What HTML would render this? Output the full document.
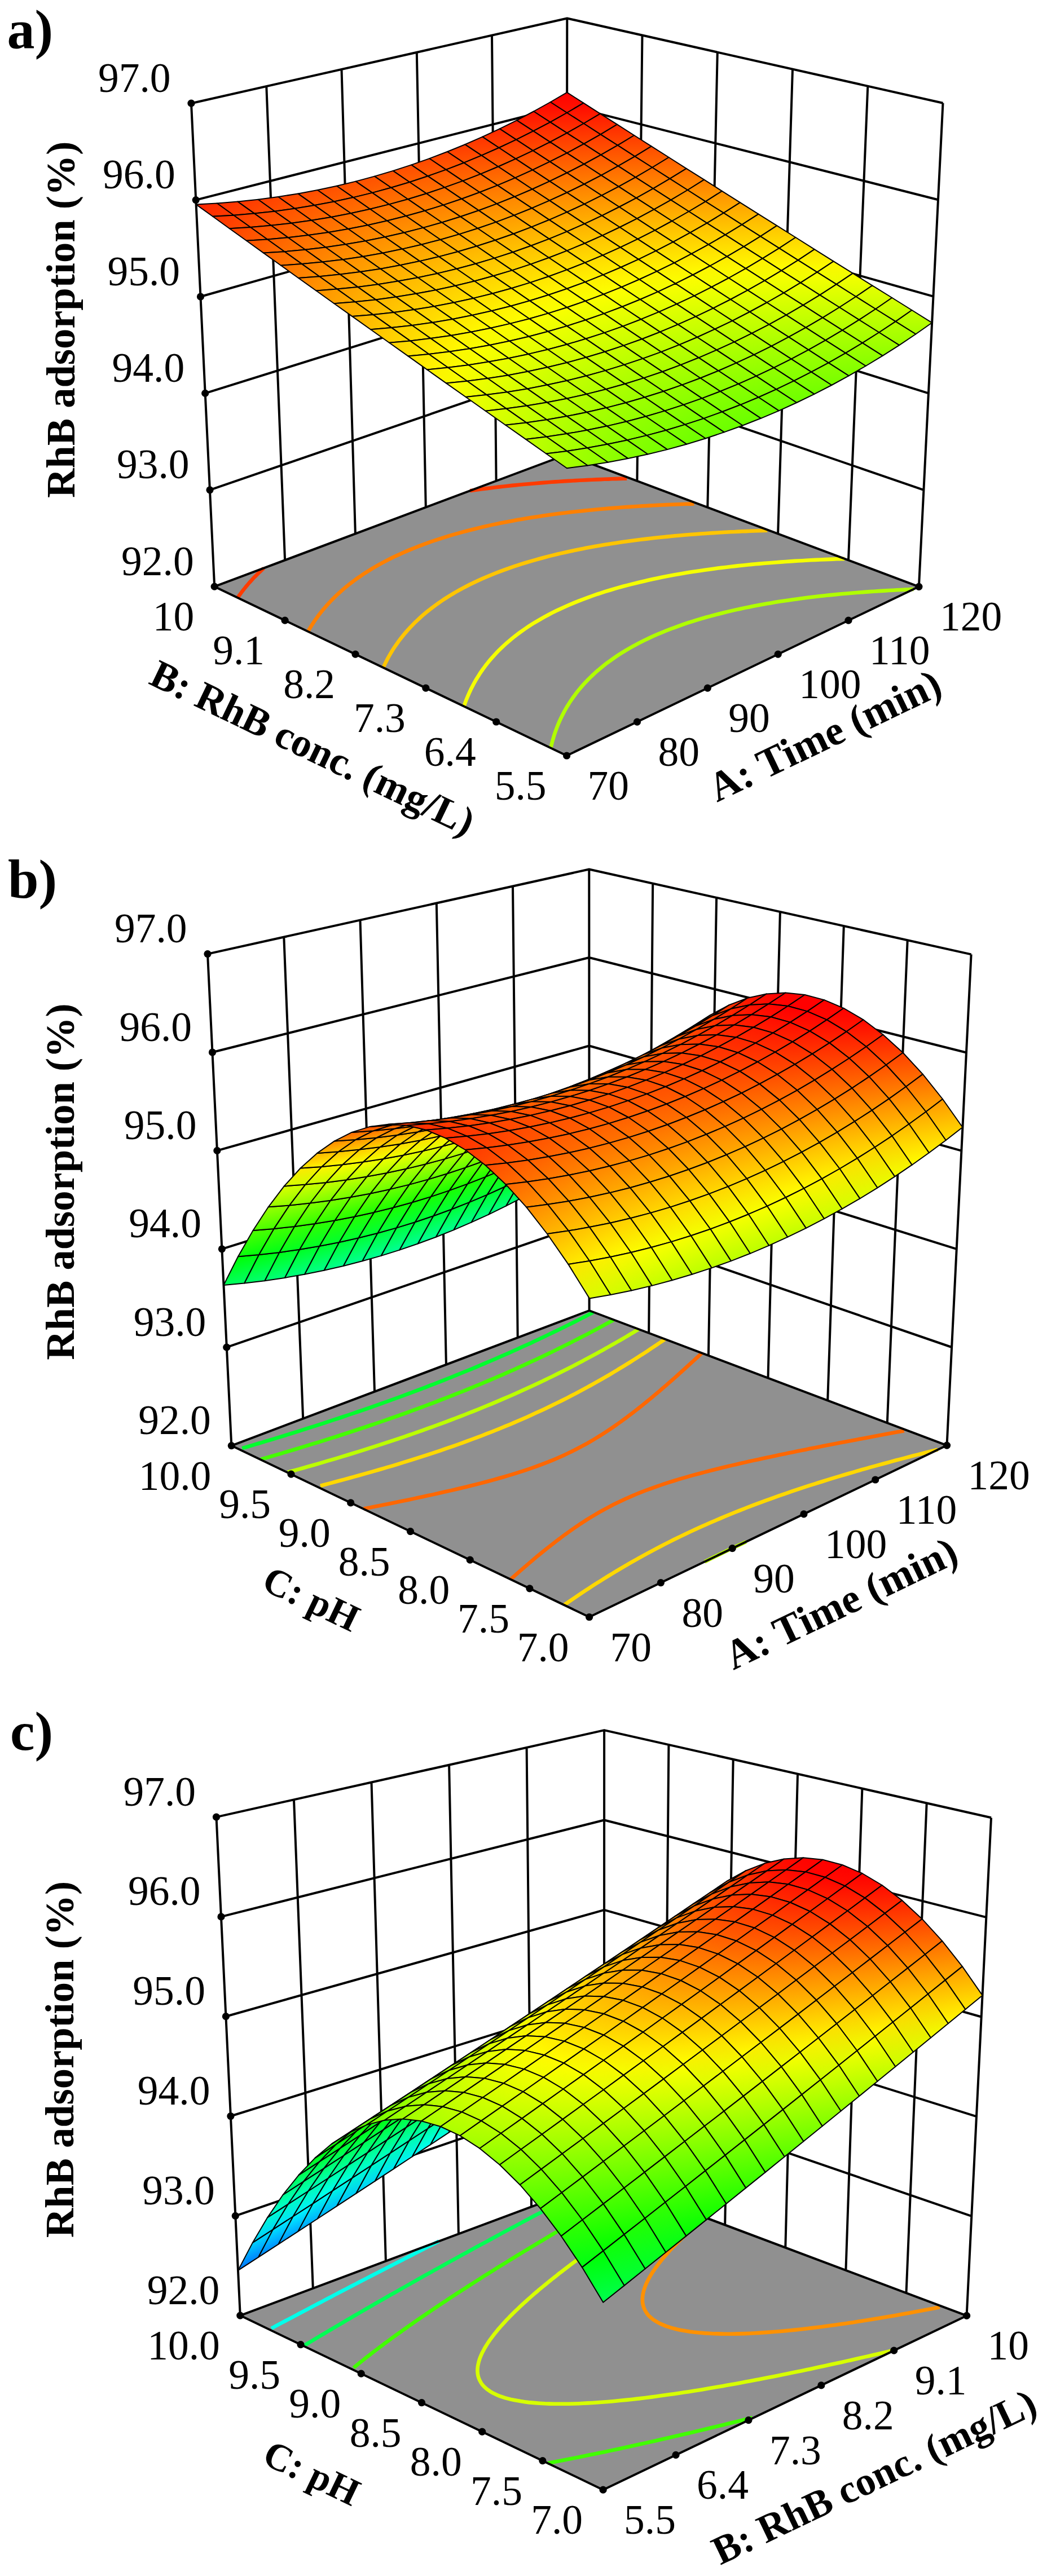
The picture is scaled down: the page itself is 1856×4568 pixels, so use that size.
<!DOCTYPE html>
<html><head><meta charset="utf-8"><title>RhB adsorption response surfaces</title>
<style>html,body{margin:0;padding:0;background:#fff}svg{display:block}text{font-family:"Liberation Serif",serif;fill:#000}</style>
</head><body>
<svg width="1856" height="4568" viewBox="0 0 1856 4568">
<rect width="1856" height="4568" fill="#fff"/>
<path d="M380.2,1040.2L1004.6,1340.0L1628.9,1040.3L1004.5,806.0Z" fill="#909090"/>
<path d="M976.3,1326.3L977.2,1322.5L978.2,1318.7L979.4,1313.9L980.8,1309.2L982.2,1304.3L983.5,1300.4L984.7,1296.9L986.0,1293.4L987.4,1289.6L989.4,1284.6L991.5,1279.6L993.0,1276.3L994.6,1272.9L996.4,1269.3L999.1,1264.0L1001.2,1260.0L1003.0,1256.8L1005.1,1253.2L1008.5,1247.7L1010.6,1244.5L1012.6,1241.5L1016.2,1236.3L1018.9,1232.7L1021.0,1229.8L1025.3,1224.3L1027.8,1221.3L1030.6,1218.0L1035.0,1213.0L1037.4,1210.4L1042.5,1205.1L1045.1,1202.5L1050.3,1197.5L1053.1,1194.8L1058.7,1189.8L1061.5,1187.4L1067.3,1182.6L1070.3,1180.2L1076.3,1175.5L1080.7,1172.3L1085.7,1168.7L1092.1,1164.3L1096.6,1161.3L1102.1,1157.8L1108.9,1153.6L1115.9,1149.5L1121.8,1146.2L1126.6,1143.6L1134.0,1139.7L1141.5,1135.9L1149.1,1132.2L1156.9,1128.6L1164.9,1125.1L1173.0,1121.7L1181.3,1118.3L1189.7,1115.0L1195.8,1112.8L1202.5,1110.3L1211.3,1107.2L1220.2,1104.2L1228.6,1101.6L1233.9,1099.9L1243.1,1097.1L1252.0,1094.5L1257.3,1093.1L1267.0,1090.5L1271.9,1089.2L1281.7,1086.7L1289.3,1084.9L1296.8,1083.1L1305.4,1081.1L1312.2,1079.7L1320.4,1077.9L1327.9,1076.4L1334.6,1075.1L1344.0,1073.3L1349.4,1072.3L1360.3,1070.3L1365.9,1069.4L1373.5,1068.1L1382.7,1066.6L1388.4,1065.8L1397.4,1064.4L1405.6,1063.2L1411.5,1062.4L1420.0,1061.3L1429.2,1060.1L1435.1,1059.3L1441.6,1058.5L1452.1,1057.3L1459.4,1056.5L1465.6,1055.8L1472.5,1055.1L1482.5,1054.1L1490.6,1053.3L1496.9,1052.8L1503.3,1052.2L1511.7,1051.5L1521.1,1050.7L1529.3,1050.1L1535.8,1049.6L1542.4,1049.1L1549.1,1048.7L1558.0,1048.1L1567.0,1047.6L1575.9,1047.0L1582.9,1046.7L1589.8,1046.3L1596.7,1046.0L1603.7,1045.6L1610.9,1045.3L1619.4,1044.9" fill="none" stroke="#b0ff00" stroke-width="6.6"/>
<path d="M822.4,1252.5L823.6,1249.0L824.9,1245.5L826.5,1241.2L828.4,1236.6L830.4,1231.9L831.8,1228.6L833.4,1225.3L834.9,1222.0L837.1,1217.7L839.7,1212.8L841.6,1209.3L843.4,1206.2L845.3,1203.0L848.5,1197.9L850.9,1194.1L852.9,1191.1L855.4,1187.5L859.2,1182.4L861.3,1179.6L863.5,1176.7L868.0,1171.2L870.3,1168.5L873.0,1165.4L877.5,1160.5L880.0,1157.8L884.3,1153.3L887.6,1150.1L890.9,1147.0L895.6,1142.6L898.3,1140.2L903.9,1135.4L906.8,1133.0L912.6,1128.3L916.4,1125.4L921.6,1121.5L927.8,1117.1L931.0,1114.9L937.4,1110.6L942.8,1107.1L947.2,1104.3L954.0,1100.3L960.9,1096.3L964.4,1094.3L971.6,1090.5L978.8,1086.7L986.2,1083.0L993.8,1079.4L1001.5,1075.9L1009.3,1072.5L1017.3,1069.1L1025.4,1065.9L1033.6,1062.7L1042.0,1059.6L1050.5,1056.5L1059.2,1053.5L1063.6,1052.1L1072.4,1049.2L1081.4,1046.5L1090.0,1043.9L1095.2,1042.4L1104.5,1039.8L1112.0,1037.9L1118.8,1036.1L1128.5,1033.7L1133.4,1032.5L1143.3,1030.2L1148.2,1029.0L1158.3,1026.8L1163.4,1025.7L1173.7,1023.6L1178.9,1022.6L1189.4,1020.6L1194.7,1019.6L1205.0,1017.8L1210.8,1016.8L1217.7,1015.6L1227.2,1014.1L1232.8,1013.2L1241.7,1011.9L1249.6,1010.7L1255.3,1009.9L1264.4,1008.7L1272.5,1007.6L1278.3,1006.9L1286.1,1005.9L1296.0,1004.7L1302.0,1004.1L1307.9,1003.4L1317.0,1002.5L1326.1,1001.5L1332.3,1000.9L1338.4,1000.3L1346.4,999.6L1355.9,998.8L1363.4,998.2L1369.8,997.7L1376.2,997.2L1383.8,996.6L1392.8,996.0L1401.8,995.4L1408.6,994.9L1415.2,994.5L1421.8,994.2L1428.5,993.8L1436.9,993.3L1445.5,992.9L1454.0,992.5L1462.3,992.1L1469.2,991.9L1476.1,991.6L1483.1,991.3L1490.1,991.1L1497.1,990.9" fill="none" stroke="#f5ff00" stroke-width="6.6"/>
<path d="M679.3,1183.9L681.0,1180.3L683.1,1175.9L685.4,1171.4L687.2,1167.9L688.9,1164.8L690.7,1161.7L692.9,1157.9L695.7,1153.3L698.0,1149.6L700.0,1146.7L702.0,1143.8L705.4,1139.0L708.1,1135.2L710.3,1132.4L712.9,1129.1L716.9,1124.2L719.2,1121.5L721.5,1118.8L726.3,1113.6L728.7,1111.0L731.6,1108.0L736.2,1103.3L738.8,1100.9L743.5,1096.5L746.7,1093.5L750.4,1090.3L755.0,1086.4L758.1,1083.9L763.6,1079.5L766.8,1077.1L772.5,1072.8L776.9,1069.7L781.7,1066.4L788.0,1062.1L791.2,1060.1L797.7,1056.0L804.2,1052.1L807.8,1050.0L814.6,1046.2L821.6,1042.4L826.2,1040.0L832.3,1036.8L839.7,1033.2L847.1,1029.7L854.7,1026.3L862.4,1023.0L870.2,1019.7L878.2,1016.5L886.3,1013.4L894.5,1010.3L902.9,1007.3L911.4,1004.4L920.0,1001.6L924.3,1000.2L933.1,997.5L942.1,994.8L950.9,992.3L955.7,991.0L965.0,988.5L972.9,986.4L979.1,984.9L988.7,982.5L993.5,981.4L1003.3,979.2L1008.7,978.0L1018.1,976.0L1024.2,974.7L1033.3,972.9L1038.8,971.8L1048.8,970.0L1054.0,969.0L1064.5,967.2L1069.8,966.3L1078.2,964.9L1085.9,963.7L1091.4,962.9L1102.1,961.3L1107.9,960.5L1113.5,959.7L1124.5,958.2L1130.4,957.5L1136.1,956.7L1145.9,955.6L1153.4,954.7L1159.2,954.0L1166.4,953.2L1176.4,952.2L1182.9,951.6L1188.8,951.0L1195.9,950.3L1205.4,949.5L1213.2,948.8L1219.3,948.3L1225.5,947.8L1233.2,947.2L1242.2,946.5L1250.6,946.0L1257.0,945.5L1263.4,945.1L1269.8,944.7L1277.4,944.3L1286.0,943.8L1294.5,943.3L1302.5,943.0L1309.1,942.6L1315.8,942.3L1322.5,942.1L1329.2,941.8L1336.0,941.5L1344.1,941.2L1352.2,941.0L1360.2,940.7" fill="none" stroke="#ffc500" stroke-width="6.6"/>
<path d="M545.9,1119.9L547.6,1116.9L549.9,1113.1L552.6,1108.8L555.0,1105.0L556.9,1102.1L558.9,1099.2L561.5,1095.6L564.8,1091.1L567.2,1088.0L569.3,1085.3L572.0,1081.9L576.0,1077.3L578.3,1074.6L580.6,1072.0L584.8,1067.5L587.8,1064.3L590.3,1061.8L594.8,1057.3L597.9,1054.4L600.5,1052.0L605.8,1047.3L608.5,1044.9L613.3,1040.8L616.8,1038.0L620.8,1034.9L625.4,1031.3L629.1,1028.6L634.3,1024.8L638.6,1021.9L643.5,1018.5L649.6,1014.6L653.0,1012.4L659.4,1008.4L663.0,1006.4L669.4,1002.6L676.2,998.9L680.5,996.6L686.6,993.4L693.7,989.8L701.0,986.3L708.3,982.9L712.0,981.2L719.6,977.9L727.2,974.6L735.0,971.5L742.9,968.4L750.9,965.3L759.1,962.4L767.3,959.5L775.3,956.8L780.0,955.3L788.5,952.6L797.2,949.9L806.0,947.4L810.5,946.1L819.4,943.6L828.5,941.2L834.3,939.7L842.4,937.7L851.8,935.4L856.6,934.3L866.1,932.1L871.6,930.9L880.7,929.0L887.6,927.6L895.6,926.0L902.4,924.7L910.7,923.2L916.3,922.1L926.1,920.4L931.3,919.5L941.8,917.8L947.1,917.0L954.3,915.9L963.1,914.6L968.6,913.8L977.5,912.6L985.0,911.6L990.5,910.8L999.4,909.7L1007.3,908.8L1012.9,908.1L1020.2,907.3L1030.0,906.2L1035.8,905.6L1041.6,905.0L1050.0,904.2L1059.2,903.3L1065.1,902.7L1071.1,902.2L1078.3,901.6L1087.5,900.9L1095.3,900.2L1101.4,899.8L1107.5,899.3L1114.3,898.9L1123.0,898.3L1131.7,897.7L1138.7,897.3L1145.1,897.0L1151.4,896.6L1157.8,896.3L1165.4,895.9L1173.7,895.5L1181.8,895.1L1190.0,894.8L1196.9,894.5L1203.6,894.3L1210.2,894.0L1216.9,893.8L1223.7,893.6L1230.4,893.4" fill="none" stroke="#ff8000" stroke-width="6.6"/>
<path d="M421.2,1060.1L423.5,1056.7L426.5,1052.6L429.2,1048.9L431.3,1046.2L433.5,1043.5L436.4,1039.9L440.1,1035.5L442.3,1032.9L444.6,1030.4L448.1,1026.6L451.7,1022.8L454.2,1020.3L457.1,1017.4L461.7,1013.0L464.2,1010.6L467.4,1007.7M833.3,870.2L841.9,868.9L847.2,868.2L856.0,867.0L863.4,866.1L868.9,865.4L877.5,864.3L885.4,863.4L891.0,862.8L898.0,862.0L907.9,860.9L913.5,860.4L919.3,859.8L927.2,859.0L936.6,858.2L942.4,857.7L948.3,857.2L955.1,856.6L964.1,855.9L972.0,855.3L978.0,854.8L984.1,854.4L990.4,854.0L999.0,853.4L1007.5,852.9L1014.7,852.5L1020.9,852.1L1027.2,851.8L1033.5,851.5L1040.6,851.1L1048.7,850.8L1056.7,850.4L1064.7,850.1L1071.8,849.8L1078.3,849.6L1084.8,849.3L1091.4,849.1L1098.0,848.9L1104.6,848.7L1111.2,848.6" fill="none" stroke="#ff3b00" stroke-width="6.6"/>
<path d="M380.2,1040.2L339.0,183.2M505.1,993.4L472.3,153.1M629.9,946.5L605.5,122.9M754.8,899.7L738.8,92.8M879.6,852.8L872.0,62.6M1004.5,806.0L1005.3,32.5M1129.4,852.9L1138.5,62.5M1254.3,899.7L1271.8,92.6M1379.1,946.6L1405.0,122.6M1504.0,993.4L1538.3,152.7M1628.9,1040.3L1671.5,182.7M380.2,1040.2L1004.5,806.0L1628.9,1040.3M372.0,868.8L1004.7,651.3L1637.4,868.8M363.7,697.4L1004.8,496.6L1645.9,697.3M355.5,526.0L1005.0,341.9L1654.5,525.7M347.2,354.6L1005.1,187.2L1663.0,354.2M339.0,183.2L1005.3,32.5L1671.5,182.7" fill="none" stroke="#000" stroke-width="4" stroke-linejoin="round"/>
<path d="M380.2,1040.2L1004.6,1340.0L1628.9,1040.3" fill="none" stroke="#000" stroke-width="3.9" stroke-linejoin="round"/>
<defs><linearGradient id="a0" gradientUnits="userSpaceOnUse" x1="1041.1" y1="827.2" x2="968.8" y2="802.9"><stop stop-color="#98ff00"/><stop offset="1" stop-color="#b3ff00"/></linearGradient><linearGradient id="a1" gradientUnits="userSpaceOnUse" x1="1004.0" y1="802.6" x2="933.0" y2="776.3"><stop stop-color="#a7ff00"/><stop offset="1" stop-color="#c2ff00"/></linearGradient><linearGradient id="a2" gradientUnits="userSpaceOnUse" x1="967.2" y1="778.3" x2="897.7" y2="750.0"><stop stop-color="#b7ff00"/><stop offset="1" stop-color="#d1ff00"/></linearGradient><linearGradient id="a3" gradientUnits="userSpaceOnUse" x1="930.8" y1="754.2" x2="862.8" y2="724.0"><stop stop-color="#c6ff00"/><stop offset="1" stop-color="#e1ff00"/></linearGradient><linearGradient id="a4" gradientUnits="userSpaceOnUse" x1="894.9" y1="730.4" x2="828.5" y2="698.4"><stop stop-color="#d5ff00"/><stop offset="1" stop-color="#f0ff00"/></linearGradient><linearGradient id="a5" gradientUnits="userSpaceOnUse" x1="859.3" y1="706.7" x2="794.6" y2="673.0"><stop stop-color="#e4ff00"/><stop offset="1" stop-color="#ffff00"/></linearGradient><linearGradient id="a6" gradientUnits="userSpaceOnUse" x1="824.0" y1="683.2" x2="761.2" y2="648.0"><stop stop-color="#f4ff00"/><stop offset="1" stop-color="#ffef00"/></linearGradient><linearGradient id="a7" gradientUnits="userSpaceOnUse" x1="789.2" y1="659.9" x2="728.2" y2="623.4"><stop stop-color="#fffb00"/><stop offset="1" stop-color="#ffe000"/></linearGradient><linearGradient id="a8" gradientUnits="userSpaceOnUse" x1="754.7" y1="636.8" x2="695.6" y2="599.0"><stop stop-color="#ffeb00"/><stop offset="1" stop-color="#ffd000"/></linearGradient><linearGradient id="a9" gradientUnits="userSpaceOnUse" x1="720.6" y1="613.9" x2="663.5" y2="575.0"><stop stop-color="#ffdc00"/><stop offset="1" stop-color="#ffc100"/></linearGradient><linearGradient id="a10" gradientUnits="userSpaceOnUse" x1="686.9" y1="591.2" x2="631.7" y2="551.2"><stop stop-color="#ffcc00"/><stop offset="1" stop-color="#ffb100"/></linearGradient><linearGradient id="a11" gradientUnits="userSpaceOnUse" x1="653.6" y1="568.6" x2="600.3" y2="527.8"><stop stop-color="#ffbc00"/><stop offset="1" stop-color="#ffa200"/></linearGradient><linearGradient id="a12" gradientUnits="userSpaceOnUse" x1="620.6" y1="546.2" x2="569.3" y2="504.6"><stop stop-color="#ffad00"/><stop offset="1" stop-color="#ff9200"/></linearGradient><linearGradient id="a13" gradientUnits="userSpaceOnUse" x1="588.0" y1="524.0" x2="538.7" y2="481.8"><stop stop-color="#ff9d00"/><stop offset="1" stop-color="#ff8200"/></linearGradient><linearGradient id="a14" gradientUnits="userSpaceOnUse" x1="555.8" y1="501.9" x2="508.4" y2="459.2"><stop stop-color="#ff8d00"/><stop offset="1" stop-color="#ff7300"/></linearGradient><linearGradient id="a15" gradientUnits="userSpaceOnUse" x1="523.9" y1="480.0" x2="478.5" y2="436.9"><stop stop-color="#ff7d00"/><stop offset="1" stop-color="#ff6300"/></linearGradient><linearGradient id="a16" gradientUnits="userSpaceOnUse" x1="492.4" y1="458.3" x2="448.8" y2="414.8"><stop stop-color="#ff6e00"/><stop offset="1" stop-color="#ff5300"/></linearGradient><linearGradient id="a17" gradientUnits="userSpaceOnUse" x1="461.3" y1="436.7" x2="419.5" y2="393.1"><stop stop-color="#ff5e00"/><stop offset="1" stop-color="#ff4300"/></linearGradient><linearGradient id="a18" gradientUnits="userSpaceOnUse" x1="430.5" y1="415.3" x2="390.6" y2="371.5"><stop stop-color="#ff4e00"/><stop offset="1" stop-color="#ff3300"/></linearGradient><linearGradient id="a19" gradientUnits="userSpaceOnUse" x1="400.1" y1="394.1" x2="361.9" y2="350.3"><stop stop-color="#ff3e00"/><stop offset="1" stop-color="#ff2300"/></linearGradient><linearGradient id="a20" gradientUnits="userSpaceOnUse" x1="1074.8" y1="826.0" x2="1007.9" y2="793.8"><stop stop-color="#8eff00"/><stop offset="1" stop-color="#a7ff00"/></linearGradient><linearGradient id="a21" gradientUnits="userSpaceOnUse" x1="1037.5" y1="801.4" x2="972.4" y2="767.6"><stop stop-color="#9dff00"/><stop offset="1" stop-color="#b7ff00"/></linearGradient><linearGradient id="a22" gradientUnits="userSpaceOnUse" x1="1000.6" y1="777.0" x2="937.3" y2="741.7"><stop stop-color="#acff00"/><stop offset="1" stop-color="#c6ff00"/></linearGradient><linearGradient id="a23" gradientUnits="userSpaceOnUse" x1="964.1" y1="752.8" x2="902.7" y2="716.1"><stop stop-color="#bcff00"/><stop offset="1" stop-color="#d5ff00"/></linearGradient><linearGradient id="a24" gradientUnits="userSpaceOnUse" x1="928.1" y1="728.8" x2="868.5" y2="690.9"><stop stop-color="#cbff00"/><stop offset="1" stop-color="#e4ff00"/></linearGradient><linearGradient id="a25" gradientUnits="userSpaceOnUse" x1="892.4" y1="705.0" x2="834.8" y2="666.0"><stop stop-color="#daff00"/><stop offset="1" stop-color="#f4ff00"/></linearGradient><linearGradient id="a26" gradientUnits="userSpaceOnUse" x1="857.1" y1="681.5" x2="801.5" y2="641.4"><stop stop-color="#eaff00"/><stop offset="1" stop-color="#fffb00"/></linearGradient><linearGradient id="a27" gradientUnits="userSpaceOnUse" x1="822.2" y1="658.1" x2="768.6" y2="617.2"><stop stop-color="#f9ff00"/><stop offset="1" stop-color="#ffeb00"/></linearGradient><linearGradient id="a28" gradientUnits="userSpaceOnUse" x1="787.7" y1="634.8" x2="736.1" y2="593.2"><stop stop-color="#fff500"/><stop offset="1" stop-color="#ffdc00"/></linearGradient><linearGradient id="a29" gradientUnits="userSpaceOnUse" x1="753.7" y1="611.8" x2="704.0" y2="569.6"><stop stop-color="#ffe500"/><stop offset="1" stop-color="#ffcc00"/></linearGradient><linearGradient id="a30" gradientUnits="userSpaceOnUse" x1="720.0" y1="589.0" x2="672.3" y2="546.2"><stop stop-color="#ffd600"/><stop offset="1" stop-color="#ffbc00"/></linearGradient><linearGradient id="a31" gradientUnits="userSpaceOnUse" x1="686.7" y1="566.3" x2="640.9" y2="523.1"><stop stop-color="#ffc600"/><stop offset="1" stop-color="#ffad00"/></linearGradient><linearGradient id="a32" gradientUnits="userSpaceOnUse" x1="653.8" y1="543.8" x2="609.9" y2="500.3"><stop stop-color="#ffb600"/><stop offset="1" stop-color="#ff9d00"/></linearGradient><linearGradient id="a33" gradientUnits="userSpaceOnUse" x1="621.2" y1="521.5" x2="579.2" y2="477.8"><stop stop-color="#ffa700"/><stop offset="1" stop-color="#ff8d00"/></linearGradient><linearGradient id="a34" gradientUnits="userSpaceOnUse" x1="589.1" y1="499.3" x2="548.9" y2="455.6"><stop stop-color="#ff9700"/><stop offset="1" stop-color="#ff7d00"/></linearGradient><linearGradient id="a35" gradientUnits="userSpaceOnUse" x1="557.3" y1="477.4" x2="518.9" y2="433.6"><stop stop-color="#ff8700"/><stop offset="1" stop-color="#ff6e00"/></linearGradient><linearGradient id="a36" gradientUnits="userSpaceOnUse" x1="525.9" y1="455.6" x2="489.1" y2="411.8"><stop stop-color="#ff7700"/><stop offset="1" stop-color="#ff5e00"/></linearGradient><linearGradient id="a37" gradientUnits="userSpaceOnUse" x1="494.9" y1="434.0" x2="459.8" y2="390.3"><stop stop-color="#ff6700"/><stop offset="1" stop-color="#ff4e00"/></linearGradient><linearGradient id="a38" gradientUnits="userSpaceOnUse" x1="464.2" y1="412.5" x2="430.7" y2="369.1"><stop stop-color="#ff5700"/><stop offset="1" stop-color="#ff3e00"/></linearGradient><linearGradient id="a39" gradientUnits="userSpaceOnUse" x1="433.9" y1="391.3" x2="401.9" y2="348.0"><stop stop-color="#ff4700"/><stop offset="1" stop-color="#ff2e00"/></linearGradient><linearGradient id="a40" gradientUnits="userSpaceOnUse" x1="1107.1" y1="822.9" x2="1047.4" y2="784.6"><stop stop-color="#85ff00"/><stop offset="1" stop-color="#9dff00"/></linearGradient><linearGradient id="a41" gradientUnits="userSpaceOnUse" x1="1069.7" y1="798.2" x2="1012.0" y2="758.9"><stop stop-color="#94ff00"/><stop offset="1" stop-color="#acff00"/></linearGradient><linearGradient id="a42" gradientUnits="userSpaceOnUse" x1="1032.8" y1="773.8" x2="977.1" y2="733.4"><stop stop-color="#a3ff00"/><stop offset="1" stop-color="#bcff00"/></linearGradient><linearGradient id="a43" gradientUnits="userSpaceOnUse" x1="996.3" y1="749.5" x2="942.6" y2="708.3"><stop stop-color="#b3ff00"/><stop offset="1" stop-color="#cbff00"/></linearGradient><linearGradient id="a44" gradientUnits="userSpaceOnUse" x1="960.2" y1="725.4" x2="908.6" y2="683.5"><stop stop-color="#c2ff00"/><stop offset="1" stop-color="#daff00"/></linearGradient><linearGradient id="a45" gradientUnits="userSpaceOnUse" x1="924.5" y1="701.5" x2="874.9" y2="659.0"><stop stop-color="#d2ff00"/><stop offset="1" stop-color="#eaff00"/></linearGradient><linearGradient id="a46" gradientUnits="userSpaceOnUse" x1="889.3" y1="677.8" x2="841.6" y2="634.9"><stop stop-color="#e1ff00"/><stop offset="1" stop-color="#f9ff00"/></linearGradient><linearGradient id="a47" gradientUnits="userSpaceOnUse" x1="854.5" y1="654.3" x2="808.8" y2="611.0"><stop stop-color="#f1ff00"/><stop offset="1" stop-color="#fff500"/></linearGradient><linearGradient id="a48" gradientUnits="userSpaceOnUse" x1="820.1" y1="631.0" x2="776.2" y2="587.4"><stop stop-color="#fffe00"/><stop offset="1" stop-color="#ffe500"/></linearGradient><linearGradient id="a49" gradientUnits="userSpaceOnUse" x1="786.1" y1="607.9" x2="744.1" y2="564.1"><stop stop-color="#ffee00"/><stop offset="1" stop-color="#ffd600"/></linearGradient><linearGradient id="a50" gradientUnits="userSpaceOnUse" x1="752.5" y1="584.9" x2="712.3" y2="541.1"><stop stop-color="#ffde00"/><stop offset="1" stop-color="#ffc600"/></linearGradient><linearGradient id="a51" gradientUnits="userSpaceOnUse" x1="719.3" y1="562.2" x2="680.9" y2="518.4"><stop stop-color="#ffce00"/><stop offset="1" stop-color="#ffb600"/></linearGradient><linearGradient id="a52" gradientUnits="userSpaceOnUse" x1="686.5" y1="539.7" x2="649.8" y2="495.9"><stop stop-color="#ffbf00"/><stop offset="1" stop-color="#ffa700"/></linearGradient><linearGradient id="a53" gradientUnits="userSpaceOnUse" x1="654.1" y1="517.3" x2="619.0" y2="473.7"><stop stop-color="#ffaf00"/><stop offset="1" stop-color="#ff9700"/></linearGradient><linearGradient id="a54" gradientUnits="userSpaceOnUse" x1="622.0" y1="495.1" x2="588.6" y2="451.7"><stop stop-color="#ff9f00"/><stop offset="1" stop-color="#ff8700"/></linearGradient><linearGradient id="a55" gradientUnits="userSpaceOnUse" x1="590.4" y1="473.1" x2="558.5" y2="430.0"><stop stop-color="#ff8f00"/><stop offset="1" stop-color="#ff7700"/></linearGradient><linearGradient id="a56" gradientUnits="userSpaceOnUse" x1="559.1" y1="451.3" x2="528.6" y2="408.5"><stop stop-color="#ff7f00"/><stop offset="1" stop-color="#ff6700"/></linearGradient><linearGradient id="a57" gradientUnits="userSpaceOnUse" x1="528.2" y1="429.7" x2="499.1" y2="387.2"><stop stop-color="#ff6f00"/><stop offset="1" stop-color="#ff5700"/></linearGradient><linearGradient id="a58" gradientUnits="userSpaceOnUse" x1="497.6" y1="408.3" x2="469.9" y2="366.2"><stop stop-color="#ff5f00"/><stop offset="1" stop-color="#ff4700"/></linearGradient><linearGradient id="a59" gradientUnits="userSpaceOnUse" x1="467.4" y1="387.1" x2="441.0" y2="345.3"><stop stop-color="#ff4f00"/><stop offset="1" stop-color="#ff3700"/></linearGradient><linearGradient id="a60" gradientUnits="userSpaceOnUse" x1="1138.2" y1="817.9" x2="1086.9" y2="775.6"><stop stop-color="#7dff00"/><stop offset="1" stop-color="#94ff00"/></linearGradient><linearGradient id="a61" gradientUnits="userSpaceOnUse" x1="1100.9" y1="793.1" x2="1051.6" y2="750.3"><stop stop-color="#8cff00"/><stop offset="1" stop-color="#a3ff00"/></linearGradient><linearGradient id="a62" gradientUnits="userSpaceOnUse" x1="1064.0" y1="768.5" x2="1016.7" y2="725.3"><stop stop-color="#9cff00"/><stop offset="1" stop-color="#b3ff00"/></linearGradient><linearGradient id="a63" gradientUnits="userSpaceOnUse" x1="1027.6" y1="744.2" x2="982.3" y2="700.6"><stop stop-color="#abff00"/><stop offset="1" stop-color="#c2ff00"/></linearGradient><linearGradient id="a64" gradientUnits="userSpaceOnUse" x1="991.6" y1="720.0" x2="948.2" y2="676.2"><stop stop-color="#bbff00"/><stop offset="1" stop-color="#d2ff00"/></linearGradient><linearGradient id="a65" gradientUnits="userSpaceOnUse" x1="956.1" y1="696.0" x2="914.5" y2="652.1"><stop stop-color="#caff00"/><stop offset="1" stop-color="#e1ff00"/></linearGradient><linearGradient id="a66" gradientUnits="userSpaceOnUse" x1="921.0" y1="672.3" x2="881.2" y2="628.3"><stop stop-color="#daff00"/><stop offset="1" stop-color="#f1ff00"/></linearGradient><linearGradient id="a67" gradientUnits="userSpaceOnUse" x1="886.3" y1="648.7" x2="848.3" y2="604.8"><stop stop-color="#eaff00"/><stop offset="1" stop-color="#fffe00"/></linearGradient><linearGradient id="a68" gradientUnits="userSpaceOnUse" x1="852.0" y1="625.4" x2="815.7" y2="581.6"><stop stop-color="#f9ff00"/><stop offset="1" stop-color="#ffee00"/></linearGradient><linearGradient id="a69" gradientUnits="userSpaceOnUse" x1="818.1" y1="602.2" x2="783.5" y2="558.6"><stop stop-color="#fff500"/><stop offset="1" stop-color="#ffde00"/></linearGradient><linearGradient id="a70" gradientUnits="userSpaceOnUse" x1="784.7" y1="579.3" x2="751.6" y2="535.9"><stop stop-color="#ffe500"/><stop offset="1" stop-color="#ffce00"/></linearGradient><linearGradient id="a71" gradientUnits="userSpaceOnUse" x1="751.6" y1="556.5" x2="720.1" y2="513.4"><stop stop-color="#ffd500"/><stop offset="1" stop-color="#ffbf00"/></linearGradient><linearGradient id="a72" gradientUnits="userSpaceOnUse" x1="719.0" y1="534.0" x2="688.9" y2="491.2"><stop stop-color="#ffc500"/><stop offset="1" stop-color="#ffaf00"/></linearGradient><linearGradient id="a73" gradientUnits="userSpaceOnUse" x1="686.7" y1="511.6" x2="658.0" y2="469.2"><stop stop-color="#ffb600"/><stop offset="1" stop-color="#ff9f00"/></linearGradient><linearGradient id="a74" gradientUnits="userSpaceOnUse" x1="654.8" y1="489.5" x2="627.4" y2="447.5"><stop stop-color="#ffa600"/><stop offset="1" stop-color="#ff8f00"/></linearGradient><linearGradient id="a75" gradientUnits="userSpaceOnUse" x1="623.3" y1="467.5" x2="597.2" y2="426.0"><stop stop-color="#ff9600"/><stop offset="1" stop-color="#ff7f00"/></linearGradient><linearGradient id="a76" gradientUnits="userSpaceOnUse" x1="592.1" y1="445.8" x2="567.3" y2="404.7"><stop stop-color="#ff8500"/><stop offset="1" stop-color="#ff6f00"/></linearGradient><linearGradient id="a77" gradientUnits="userSpaceOnUse" x1="561.3" y1="424.2" x2="537.6" y2="383.6"><stop stop-color="#ff7500"/><stop offset="1" stop-color="#ff5f00"/></linearGradient><linearGradient id="a78" gradientUnits="userSpaceOnUse" x1="530.9" y1="402.8" x2="508.3" y2="362.7"><stop stop-color="#ff6500"/><stop offset="1" stop-color="#ff4f00"/></linearGradient><linearGradient id="a79" gradientUnits="userSpaceOnUse" x1="500.8" y1="381.7" x2="479.3" y2="342.0"><stop stop-color="#ff5500"/><stop offset="1" stop-color="#ff3e00"/></linearGradient><linearGradient id="a80" gradientUnits="userSpaceOnUse" x1="1168.8" y1="810.9" x2="1126.0" y2="766.8"><stop stop-color="#76ff00"/><stop offset="1" stop-color="#8cff00"/></linearGradient><linearGradient id="a81" gradientUnits="userSpaceOnUse" x1="1131.6" y1="786.0" x2="1090.7" y2="741.9"><stop stop-color="#86ff00"/><stop offset="1" stop-color="#9cff00"/></linearGradient><linearGradient id="a82" gradientUnits="userSpaceOnUse" x1="1094.8" y1="761.4" x2="1055.8" y2="717.3"><stop stop-color="#95ff00"/><stop offset="1" stop-color="#abff00"/></linearGradient><linearGradient id="a83" gradientUnits="userSpaceOnUse" x1="1058.6" y1="737.0" x2="1021.3" y2="692.9"><stop stop-color="#a5ff00"/><stop offset="1" stop-color="#bbff00"/></linearGradient><linearGradient id="a84" gradientUnits="userSpaceOnUse" x1="1022.7" y1="712.8" x2="987.1" y2="668.9"><stop stop-color="#b4ff00"/><stop offset="1" stop-color="#caff00"/></linearGradient><linearGradient id="a85" gradientUnits="userSpaceOnUse" x1="987.3" y1="688.8" x2="953.4" y2="645.2"><stop stop-color="#c4ff00"/><stop offset="1" stop-color="#daff00"/></linearGradient><linearGradient id="a86" gradientUnits="userSpaceOnUse" x1="952.4" y1="665.0" x2="920.0" y2="621.7"><stop stop-color="#d4ff00"/><stop offset="1" stop-color="#eaff00"/></linearGradient><linearGradient id="a87" gradientUnits="userSpaceOnUse" x1="917.9" y1="641.5" x2="887.0" y2="598.5"><stop stop-color="#e4ff00"/><stop offset="1" stop-color="#f9ff00"/></linearGradient><linearGradient id="a88" gradientUnits="userSpaceOnUse" x1="883.7" y1="618.2" x2="854.3" y2="575.5"><stop stop-color="#f3ff00"/><stop offset="1" stop-color="#fff500"/></linearGradient><linearGradient id="a89" gradientUnits="userSpaceOnUse" x1="850.0" y1="595.0" x2="822.0" y2="552.8"><stop stop-color="#fffb00"/><stop offset="1" stop-color="#ffe500"/></linearGradient><linearGradient id="a90" gradientUnits="userSpaceOnUse" x1="816.7" y1="572.1" x2="790.0" y2="530.3"><stop stop-color="#ffeb00"/><stop offset="1" stop-color="#ffd500"/></linearGradient><linearGradient id="a91" gradientUnits="userSpaceOnUse" x1="783.8" y1="549.4" x2="758.3" y2="508.1"><stop stop-color="#ffdb00"/><stop offset="1" stop-color="#ffc500"/></linearGradient><linearGradient id="a92" gradientUnits="userSpaceOnUse" x1="751.3" y1="526.9" x2="727.0" y2="486.1"><stop stop-color="#ffcb00"/><stop offset="1" stop-color="#ffb600"/></linearGradient><linearGradient id="a93" gradientUnits="userSpaceOnUse" x1="719.2" y1="504.7" x2="696.0" y2="464.3"><stop stop-color="#ffbb00"/><stop offset="1" stop-color="#ffa600"/></linearGradient><linearGradient id="a94" gradientUnits="userSpaceOnUse" x1="687.4" y1="482.6" x2="665.4" y2="442.8"><stop stop-color="#ffab00"/><stop offset="1" stop-color="#ff9600"/></linearGradient><linearGradient id="a95" gradientUnits="userSpaceOnUse" x1="656.0" y1="460.7" x2="635.0" y2="421.4"><stop stop-color="#ff9b00"/><stop offset="1" stop-color="#ff8500"/></linearGradient><linearGradient id="a96" gradientUnits="userSpaceOnUse" x1="625.0" y1="439.0" x2="605.0" y2="400.3"><stop stop-color="#ff8b00"/><stop offset="1" stop-color="#ff7500"/></linearGradient><linearGradient id="a97" gradientUnits="userSpaceOnUse" x1="594.3" y1="417.5" x2="575.3" y2="379.4"><stop stop-color="#ff7b00"/><stop offset="1" stop-color="#ff6500"/></linearGradient><linearGradient id="a98" gradientUnits="userSpaceOnUse" x1="564.0" y1="396.3" x2="545.8" y2="358.6"><stop stop-color="#ff6a00"/><stop offset="1" stop-color="#ff5500"/></linearGradient><linearGradient id="a99" gradientUnits="userSpaceOnUse" x1="534.0" y1="375.2" x2="516.7" y2="338.1"><stop stop-color="#ff5a00"/><stop offset="1" stop-color="#ff4500"/></linearGradient><linearGradient id="a100" gradientUnits="userSpaceOnUse" x1="1199.0" y1="802.0" x2="1164.5" y2="758.1"><stop stop-color="#71ff00"/><stop offset="1" stop-color="#86ff00"/></linearGradient><linearGradient id="a101" gradientUnits="userSpaceOnUse" x1="1162.0" y1="777.1" x2="1129.1" y2="733.5"><stop stop-color="#81ff00"/><stop offset="1" stop-color="#95ff00"/></linearGradient><linearGradient id="a102" gradientUnits="userSpaceOnUse" x1="1125.5" y1="752.5" x2="1094.1" y2="709.2"><stop stop-color="#90ff00"/><stop offset="1" stop-color="#a5ff00"/></linearGradient><linearGradient id="a103" gradientUnits="userSpaceOnUse" x1="1089.4" y1="728.1" x2="1059.4" y2="685.2"><stop stop-color="#a0ff00"/><stop offset="1" stop-color="#b4ff00"/></linearGradient><linearGradient id="a104" gradientUnits="userSpaceOnUse" x1="1053.7" y1="703.9" x2="1025.2" y2="661.5"><stop stop-color="#b0ff00"/><stop offset="1" stop-color="#c4ff00"/></linearGradient><linearGradient id="a105" gradientUnits="userSpaceOnUse" x1="1018.5" y1="680.0" x2="991.3" y2="638.0"><stop stop-color="#bfff00"/><stop offset="1" stop-color="#d4ff00"/></linearGradient><linearGradient id="a106" gradientUnits="userSpaceOnUse" x1="983.7" y1="656.3" x2="957.9" y2="614.8"><stop stop-color="#cfff00"/><stop offset="1" stop-color="#e4ff00"/></linearGradient><linearGradient id="a107" gradientUnits="userSpaceOnUse" x1="949.4" y1="632.8" x2="924.7" y2="591.8"><stop stop-color="#dfff00"/><stop offset="1" stop-color="#f3ff00"/></linearGradient><linearGradient id="a108" gradientUnits="userSpaceOnUse" x1="915.4" y1="609.6" x2="891.9" y2="569.1"><stop stop-color="#efff00"/><stop offset="1" stop-color="#fffb00"/></linearGradient><linearGradient id="a109" gradientUnits="userSpaceOnUse" x1="881.9" y1="586.5" x2="859.5" y2="546.6"><stop stop-color="#ffff00"/><stop offset="1" stop-color="#ffeb00"/></linearGradient><linearGradient id="a110" gradientUnits="userSpaceOnUse" x1="848.7" y1="563.7" x2="827.4" y2="524.3"><stop stop-color="#ffef00"/><stop offset="1" stop-color="#ffdb00"/></linearGradient><linearGradient id="a111" gradientUnits="userSpaceOnUse" x1="816.0" y1="541.1" x2="795.7" y2="502.2"><stop stop-color="#ffdf00"/><stop offset="1" stop-color="#ffcb00"/></linearGradient><linearGradient id="a112" gradientUnits="userSpaceOnUse" x1="783.6" y1="518.7" x2="764.3" y2="480.4"><stop stop-color="#ffcf00"/><stop offset="1" stop-color="#ffbb00"/></linearGradient><linearGradient id="a113" gradientUnits="userSpaceOnUse" x1="751.6" y1="496.5" x2="733.2" y2="458.8"><stop stop-color="#ffbf00"/><stop offset="1" stop-color="#ffab00"/></linearGradient><linearGradient id="a114" gradientUnits="userSpaceOnUse" x1="720.0" y1="474.6" x2="702.4" y2="437.4"><stop stop-color="#ffaf00"/><stop offset="1" stop-color="#ff9b00"/></linearGradient><linearGradient id="a115" gradientUnits="userSpaceOnUse" x1="688.7" y1="452.8" x2="672.0" y2="416.2"><stop stop-color="#ff9f00"/><stop offset="1" stop-color="#ff8b00"/></linearGradient><linearGradient id="a116" gradientUnits="userSpaceOnUse" x1="657.8" y1="431.2" x2="641.9" y2="395.2"><stop stop-color="#ff8f00"/><stop offset="1" stop-color="#ff7b00"/></linearGradient><linearGradient id="a117" gradientUnits="userSpaceOnUse" x1="627.2" y1="409.8" x2="612.0" y2="374.4"><stop stop-color="#ff7f00"/><stop offset="1" stop-color="#ff6a00"/></linearGradient><linearGradient id="a118" gradientUnits="userSpaceOnUse" x1="597.0" y1="388.7" x2="582.5" y2="353.8"><stop stop-color="#ff6e00"/><stop offset="1" stop-color="#ff5a00"/></linearGradient><linearGradient id="a119" gradientUnits="userSpaceOnUse" x1="567.1" y1="367.7" x2="553.3" y2="333.4"><stop stop-color="#ff5e00"/><stop offset="1" stop-color="#ff4a00"/></linearGradient><linearGradient id="a120" gradientUnits="userSpaceOnUse" x1="1229.3" y1="791.4" x2="1201.9" y2="749.2"><stop stop-color="#6dff00"/><stop offset="1" stop-color="#81ff00"/></linearGradient><linearGradient id="a121" gradientUnits="userSpaceOnUse" x1="1192.5" y1="766.6" x2="1166.4" y2="724.9"><stop stop-color="#7dff00"/><stop offset="1" stop-color="#90ff00"/></linearGradient><linearGradient id="a122" gradientUnits="userSpaceOnUse" x1="1156.1" y1="742.1" x2="1131.3" y2="700.9"><stop stop-color="#8dff00"/><stop offset="1" stop-color="#a0ff00"/></linearGradient><linearGradient id="a123" gradientUnits="userSpaceOnUse" x1="1120.2" y1="717.8" x2="1096.6" y2="677.2"><stop stop-color="#9cff00"/><stop offset="1" stop-color="#b0ff00"/></linearGradient><linearGradient id="a124" gradientUnits="userSpaceOnUse" x1="1084.8" y1="693.7" x2="1062.3" y2="653.7"><stop stop-color="#acff00"/><stop offset="1" stop-color="#bfff00"/></linearGradient><linearGradient id="a125" gradientUnits="userSpaceOnUse" x1="1049.7" y1="669.9" x2="1028.3" y2="630.4"><stop stop-color="#bcff00"/><stop offset="1" stop-color="#cfff00"/></linearGradient><linearGradient id="a126" gradientUnits="userSpaceOnUse" x1="1015.1" y1="646.3" x2="994.8" y2="607.4"><stop stop-color="#ccff00"/><stop offset="1" stop-color="#dfff00"/></linearGradient><linearGradient id="a127" gradientUnits="userSpaceOnUse" x1="980.9" y1="622.9" x2="961.5" y2="584.6"><stop stop-color="#dcff00"/><stop offset="1" stop-color="#efff00"/></linearGradient><linearGradient id="a128" gradientUnits="userSpaceOnUse" x1="947.1" y1="599.8" x2="928.7" y2="562.1"><stop stop-color="#ecff00"/><stop offset="1" stop-color="#ffff00"/></linearGradient><linearGradient id="a129" gradientUnits="userSpaceOnUse" x1="913.7" y1="576.9" x2="896.1" y2="539.7"><stop stop-color="#fcff00"/><stop offset="1" stop-color="#ffef00"/></linearGradient><linearGradient id="a130" gradientUnits="userSpaceOnUse" x1="880.7" y1="554.2" x2="864.0" y2="517.6"><stop stop-color="#fff200"/><stop offset="1" stop-color="#ffdf00"/></linearGradient><linearGradient id="a131" gradientUnits="userSpaceOnUse" x1="848.1" y1="531.7" x2="832.1" y2="495.7"><stop stop-color="#ffe200"/><stop offset="1" stop-color="#ffcf00"/></linearGradient><linearGradient id="a132" gradientUnits="userSpaceOnUse" x1="815.8" y1="509.4" x2="800.6" y2="474.1"><stop stop-color="#ffd200"/><stop offset="1" stop-color="#ffbf00"/></linearGradient><linearGradient id="a133" gradientUnits="userSpaceOnUse" x1="784.0" y1="487.4" x2="769.5" y2="452.6"><stop stop-color="#ffc200"/><stop offset="1" stop-color="#ffaf00"/></linearGradient><linearGradient id="a134" gradientUnits="userSpaceOnUse" x1="752.4" y1="465.5" x2="738.6" y2="431.3"><stop stop-color="#ffb200"/><stop offset="1" stop-color="#ff9f00"/></linearGradient><linearGradient id="a135" gradientUnits="userSpaceOnUse" x1="721.3" y1="443.9" x2="708.1" y2="410.3"><stop stop-color="#ffa200"/><stop offset="1" stop-color="#ff8f00"/></linearGradient><linearGradient id="a136" gradientUnits="userSpaceOnUse" x1="690.5" y1="422.4" x2="677.9" y2="389.4"><stop stop-color="#ff9100"/><stop offset="1" stop-color="#ff7f00"/></linearGradient><linearGradient id="a137" gradientUnits="userSpaceOnUse" x1="660.0" y1="401.2" x2="648.0" y2="368.7"><stop stop-color="#ff8100"/><stop offset="1" stop-color="#ff6e00"/></linearGradient><linearGradient id="a138" gradientUnits="userSpaceOnUse" x1="629.8" y1="380.2" x2="618.4" y2="348.2"><stop stop-color="#ff7100"/><stop offset="1" stop-color="#ff5e00"/></linearGradient><linearGradient id="a139" gradientUnits="userSpaceOnUse" x1="600.0" y1="359.3" x2="589.1" y2="327.9"><stop stop-color="#ff6000"/><stop offset="1" stop-color="#ff4e00"/></linearGradient><linearGradient id="a140" gradientUnits="userSpaceOnUse" x1="1259.6" y1="779.5" x2="1238.4" y2="740.0"><stop stop-color="#6bff00"/><stop offset="1" stop-color="#7dff00"/></linearGradient><linearGradient id="a141" gradientUnits="userSpaceOnUse" x1="1223.0" y1="754.8" x2="1202.8" y2="716.0"><stop stop-color="#7bff00"/><stop offset="1" stop-color="#8dff00"/></linearGradient><linearGradient id="a142" gradientUnits="userSpaceOnUse" x1="1186.9" y1="730.4" x2="1167.6" y2="692.2"><stop stop-color="#8aff00"/><stop offset="1" stop-color="#9cff00"/></linearGradient><linearGradient id="a143" gradientUnits="userSpaceOnUse" x1="1151.1" y1="706.3" x2="1132.8" y2="668.6"><stop stop-color="#9aff00"/><stop offset="1" stop-color="#acff00"/></linearGradient><linearGradient id="a144" gradientUnits="userSpaceOnUse" x1="1115.8" y1="682.3" x2="1098.4" y2="645.3"><stop stop-color="#aaff00"/><stop offset="1" stop-color="#bcff00"/></linearGradient><linearGradient id="a145" gradientUnits="userSpaceOnUse" x1="1081.0" y1="658.7" x2="1064.4" y2="622.2"><stop stop-color="#baff00"/><stop offset="1" stop-color="#ccff00"/></linearGradient><linearGradient id="a146" gradientUnits="userSpaceOnUse" x1="1046.5" y1="635.2" x2="1030.7" y2="599.4"><stop stop-color="#caff00"/><stop offset="1" stop-color="#dcff00"/></linearGradient><linearGradient id="a147" gradientUnits="userSpaceOnUse" x1="1012.5" y1="612.0" x2="997.4" y2="576.8"><stop stop-color="#daff00"/><stop offset="1" stop-color="#ecff00"/></linearGradient><linearGradient id="a148" gradientUnits="userSpaceOnUse" x1="978.8" y1="589.0" x2="964.5" y2="554.4"><stop stop-color="#eaff00"/><stop offset="1" stop-color="#fcff00"/></linearGradient><linearGradient id="a149" gradientUnits="userSpaceOnUse" x1="945.5" y1="566.2" x2="931.9" y2="532.2"><stop stop-color="#faff00"/><stop offset="1" stop-color="#fff200"/></linearGradient><linearGradient id="a150" gradientUnits="userSpaceOnUse" x1="912.7" y1="543.7" x2="899.6" y2="510.2"><stop stop-color="#fff400"/><stop offset="1" stop-color="#ffe200"/></linearGradient><linearGradient id="a151" gradientUnits="userSpaceOnUse" x1="880.1" y1="521.3" x2="867.7" y2="488.5"><stop stop-color="#ffe400"/><stop offset="1" stop-color="#ffd200"/></linearGradient><linearGradient id="a152" gradientUnits="userSpaceOnUse" x1="848.0" y1="499.2" x2="836.2" y2="466.9"><stop stop-color="#ffd400"/><stop offset="1" stop-color="#ffc200"/></linearGradient><linearGradient id="a153" gradientUnits="userSpaceOnUse" x1="816.2" y1="477.3" x2="804.9" y2="445.6"><stop stop-color="#ffc400"/><stop offset="1" stop-color="#ffb200"/></linearGradient><linearGradient id="a154" gradientUnits="userSpaceOnUse" x1="784.8" y1="455.6" x2="774.0" y2="424.5"><stop stop-color="#ffb300"/><stop offset="1" stop-color="#ffa200"/></linearGradient><linearGradient id="a155" gradientUnits="userSpaceOnUse" x1="753.7" y1="434.1" x2="743.4" y2="403.5"><stop stop-color="#ffa300"/><stop offset="1" stop-color="#ff9100"/></linearGradient><linearGradient id="a156" gradientUnits="userSpaceOnUse" x1="723.0" y1="412.8" x2="713.2" y2="382.7"><stop stop-color="#ff9300"/><stop offset="1" stop-color="#ff8100"/></linearGradient><linearGradient id="a157" gradientUnits="userSpaceOnUse" x1="692.6" y1="391.7" x2="683.2" y2="362.2"><stop stop-color="#ff8200"/><stop offset="1" stop-color="#ff7100"/></linearGradient><linearGradient id="a158" gradientUnits="userSpaceOnUse" x1="662.5" y1="370.8" x2="653.6" y2="341.8"><stop stop-color="#ff7200"/><stop offset="1" stop-color="#ff6000"/></linearGradient><linearGradient id="a159" gradientUnits="userSpaceOnUse" x1="632.8" y1="350.1" x2="624.2" y2="321.6"><stop stop-color="#ff6100"/><stop offset="1" stop-color="#ff5000"/></linearGradient><linearGradient id="a160" gradientUnits="userSpaceOnUse" x1="1290.1" y1="766.5" x2="1273.9" y2="730.3"><stop stop-color="#6aff00"/><stop offset="1" stop-color="#7bff00"/></linearGradient><linearGradient id="a161" gradientUnits="userSpaceOnUse" x1="1253.7" y1="742.0" x2="1238.2" y2="706.4"><stop stop-color="#79ff00"/><stop offset="1" stop-color="#8aff00"/></linearGradient><linearGradient id="a162" gradientUnits="userSpaceOnUse" x1="1217.7" y1="717.7" x2="1203.0" y2="682.8"><stop stop-color="#89ff00"/><stop offset="1" stop-color="#9aff00"/></linearGradient><linearGradient id="a163" gradientUnits="userSpaceOnUse" x1="1182.1" y1="693.7" x2="1168.1" y2="659.4"><stop stop-color="#99ff00"/><stop offset="1" stop-color="#aaff00"/></linearGradient><linearGradient id="a164" gradientUnits="userSpaceOnUse" x1="1147.0" y1="670.0" x2="1133.6" y2="636.3"><stop stop-color="#a9ff00"/><stop offset="1" stop-color="#baff00"/></linearGradient><linearGradient id="a165" gradientUnits="userSpaceOnUse" x1="1112.2" y1="646.5" x2="1099.5" y2="613.4"><stop stop-color="#b9ff00"/><stop offset="1" stop-color="#caff00"/></linearGradient><linearGradient id="a166" gradientUnits="userSpaceOnUse" x1="1077.9" y1="623.2" x2="1065.8" y2="590.7"><stop stop-color="#c9ff00"/><stop offset="1" stop-color="#daff00"/></linearGradient><linearGradient id="a167" gradientUnits="userSpaceOnUse" x1="1044.0" y1="600.1" x2="1032.4" y2="568.2"><stop stop-color="#d9ff00"/><stop offset="1" stop-color="#eaff00"/></linearGradient><linearGradient id="a168" gradientUnits="userSpaceOnUse" x1="1010.5" y1="577.3" x2="999.4" y2="545.9"><stop stop-color="#e9ff00"/><stop offset="1" stop-color="#faff00"/></linearGradient><linearGradient id="a169" gradientUnits="userSpaceOnUse" x1="977.3" y1="554.7" x2="966.8" y2="523.9"><stop stop-color="#f9ff00"/><stop offset="1" stop-color="#fff400"/></linearGradient><linearGradient id="a170" gradientUnits="userSpaceOnUse" x1="944.5" y1="532.3" x2="934.5" y2="502.1"><stop stop-color="#fff500"/><stop offset="1" stop-color="#ffe400"/></linearGradient><linearGradient id="a171" gradientUnits="userSpaceOnUse" x1="912.1" y1="510.1" x2="902.5" y2="480.4"><stop stop-color="#ffe400"/><stop offset="1" stop-color="#ffd400"/></linearGradient><linearGradient id="a172" gradientUnits="userSpaceOnUse" x1="880.0" y1="488.2" x2="870.9" y2="459.0"><stop stop-color="#ffd400"/><stop offset="1" stop-color="#ffc400"/></linearGradient><linearGradient id="a173" gradientUnits="userSpaceOnUse" x1="848.4" y1="466.4" x2="839.6" y2="437.8"><stop stop-color="#ffc400"/><stop offset="1" stop-color="#ffb300"/></linearGradient><linearGradient id="a174" gradientUnits="userSpaceOnUse" x1="817.0" y1="444.9" x2="808.7" y2="416.8"><stop stop-color="#ffb400"/><stop offset="1" stop-color="#ffa300"/></linearGradient><linearGradient id="a175" gradientUnits="userSpaceOnUse" x1="786.0" y1="423.5" x2="778.0" y2="395.9"><stop stop-color="#ffa300"/><stop offset="1" stop-color="#ff9300"/></linearGradient><linearGradient id="a176" gradientUnits="userSpaceOnUse" x1="755.3" y1="402.4" x2="747.7" y2="375.2"><stop stop-color="#ff9300"/><stop offset="1" stop-color="#ff8200"/></linearGradient><linearGradient id="a177" gradientUnits="userSpaceOnUse" x1="725.0" y1="381.5" x2="717.7" y2="354.6"><stop stop-color="#ff8200"/><stop offset="1" stop-color="#ff7200"/></linearGradient><linearGradient id="a178" gradientUnits="userSpaceOnUse" x1="695.0" y1="360.9" x2="687.9" y2="334.2"><stop stop-color="#ff7200"/><stop offset="1" stop-color="#ff6100"/></linearGradient><linearGradient id="a179" gradientUnits="userSpaceOnUse" x1="665.4" y1="340.4" x2="658.5" y2="314.0"><stop stop-color="#ff6100"/><stop offset="1" stop-color="#ff5100"/></linearGradient><linearGradient id="a180" gradientUnits="userSpaceOnUse" x1="1320.8" y1="752.8" x2="1308.2" y2="719.3"><stop stop-color="#6aff00"/><stop offset="1" stop-color="#7aff00"/></linearGradient><linearGradient id="a181" gradientUnits="userSpaceOnUse" x1="1284.5" y1="728.7" x2="1272.5" y2="695.5"><stop stop-color="#79ff00"/><stop offset="1" stop-color="#8aff00"/></linearGradient><linearGradient id="a182" gradientUnits="userSpaceOnUse" x1="1248.7" y1="704.8" x2="1237.1" y2="671.9"><stop stop-color="#89ff00"/><stop offset="1" stop-color="#9aff00"/></linearGradient><linearGradient id="a183" gradientUnits="userSpaceOnUse" x1="1213.4" y1="681.1" x2="1202.2" y2="648.6"><stop stop-color="#99ff00"/><stop offset="1" stop-color="#aaff00"/></linearGradient><linearGradient id="a184" gradientUnits="userSpaceOnUse" x1="1178.4" y1="657.6" x2="1167.6" y2="625.4"><stop stop-color="#a9ff00"/><stop offset="1" stop-color="#baff00"/></linearGradient><linearGradient id="a185" gradientUnits="userSpaceOnUse" x1="1143.8" y1="634.4" x2="1133.5" y2="602.5"><stop stop-color="#b9ff00"/><stop offset="1" stop-color="#caff00"/></linearGradient><linearGradient id="a186" gradientUnits="userSpaceOnUse" x1="1109.6" y1="611.4" x2="1099.7" y2="579.9"><stop stop-color="#c9ff00"/><stop offset="1" stop-color="#daff00"/></linearGradient><linearGradient id="a187" gradientUnits="userSpaceOnUse" x1="1075.8" y1="588.7" x2="1066.3" y2="557.4"><stop stop-color="#d9ff00"/><stop offset="1" stop-color="#eaff00"/></linearGradient><linearGradient id="a188" gradientUnits="userSpaceOnUse" x1="1042.4" y1="566.1" x2="1033.2" y2="535.2"><stop stop-color="#e9ff00"/><stop offset="1" stop-color="#faff00"/></linearGradient><linearGradient id="a189" gradientUnits="userSpaceOnUse" x1="1009.4" y1="543.8" x2="1000.5" y2="513.2"><stop stop-color="#f9ff00"/><stop offset="1" stop-color="#fff400"/></linearGradient><linearGradient id="a190" gradientUnits="userSpaceOnUse" x1="976.7" y1="521.7" x2="968.1" y2="491.4"><stop stop-color="#fff500"/><stop offset="1" stop-color="#ffe400"/></linearGradient><linearGradient id="a191" gradientUnits="userSpaceOnUse" x1="944.4" y1="499.8" x2="936.1" y2="469.8"><stop stop-color="#ffe400"/><stop offset="1" stop-color="#ffd300"/></linearGradient><linearGradient id="a192" gradientUnits="userSpaceOnUse" x1="912.4" y1="478.1" x2="904.5" y2="448.4"><stop stop-color="#ffd400"/><stop offset="1" stop-color="#ffc300"/></linearGradient><linearGradient id="a193" gradientUnits="userSpaceOnUse" x1="880.8" y1="456.6" x2="873.1" y2="427.1"><stop stop-color="#ffc400"/><stop offset="1" stop-color="#ffb200"/></linearGradient><linearGradient id="a194" gradientUnits="userSpaceOnUse" x1="849.5" y1="435.3" x2="842.1" y2="406.1"><stop stop-color="#ffb400"/><stop offset="1" stop-color="#ffa200"/></linearGradient><linearGradient id="a195" gradientUnits="userSpaceOnUse" x1="818.6" y1="414.2" x2="811.5" y2="385.3"><stop stop-color="#ffa300"/><stop offset="1" stop-color="#ff9100"/></linearGradient><linearGradient id="a196" gradientUnits="userSpaceOnUse" x1="788.0" y1="393.3" x2="781.1" y2="364.7"><stop stop-color="#ff9300"/><stop offset="1" stop-color="#ff8100"/></linearGradient><linearGradient id="a197" gradientUnits="userSpaceOnUse" x1="757.7" y1="372.6" x2="751.1" y2="344.2"><stop stop-color="#ff8200"/><stop offset="1" stop-color="#ff7000"/></linearGradient><linearGradient id="a198" gradientUnits="userSpaceOnUse" x1="727.7" y1="352.0" x2="721.3" y2="324.0"><stop stop-color="#ff7200"/><stop offset="1" stop-color="#ff6000"/></linearGradient><linearGradient id="a199" gradientUnits="userSpaceOnUse" x1="698.1" y1="331.7" x2="691.9" y2="303.9"><stop stop-color="#ff6100"/><stop offset="1" stop-color="#ff4f00"/></linearGradient><linearGradient id="a200" gradientUnits="userSpaceOnUse" x1="1352.1" y1="740.7" x2="1341.1" y2="705.4"><stop stop-color="#6aff00"/><stop offset="1" stop-color="#7bff00"/></linearGradient><linearGradient id="a201" gradientUnits="userSpaceOnUse" x1="1316.0" y1="716.7" x2="1305.4" y2="681.8"><stop stop-color="#7aff00"/><stop offset="1" stop-color="#8bff00"/></linearGradient><linearGradient id="a202" gradientUnits="userSpaceOnUse" x1="1280.3" y1="692.9" x2="1270.1" y2="658.4"><stop stop-color="#8aff00"/><stop offset="1" stop-color="#9bff00"/></linearGradient><linearGradient id="a203" gradientUnits="userSpaceOnUse" x1="1245.0" y1="669.4" x2="1235.1" y2="635.3"><stop stop-color="#9aff00"/><stop offset="1" stop-color="#abff00"/></linearGradient><linearGradient id="a204" gradientUnits="userSpaceOnUse" x1="1210.1" y1="646.1" x2="1200.6" y2="612.3"><stop stop-color="#aaff00"/><stop offset="1" stop-color="#bbff00"/></linearGradient><linearGradient id="a205" gradientUnits="userSpaceOnUse" x1="1175.6" y1="623.0" x2="1166.5" y2="589.6"><stop stop-color="#baff00"/><stop offset="1" stop-color="#ccff00"/></linearGradient><linearGradient id="a206" gradientUnits="userSpaceOnUse" x1="1141.4" y1="600.2" x2="1132.7" y2="567.1"><stop stop-color="#caff00"/><stop offset="1" stop-color="#dcff00"/></linearGradient><linearGradient id="a207" gradientUnits="userSpaceOnUse" x1="1107.7" y1="577.6" x2="1099.3" y2="544.9"><stop stop-color="#daff00"/><stop offset="1" stop-color="#ecff00"/></linearGradient><linearGradient id="a208" gradientUnits="userSpaceOnUse" x1="1074.4" y1="555.1" x2="1066.2" y2="522.8"><stop stop-color="#eaff00"/><stop offset="1" stop-color="#fcff00"/></linearGradient><linearGradient id="a209" gradientUnits="userSpaceOnUse" x1="1041.4" y1="533.0" x2="1033.5" y2="500.9"><stop stop-color="#faff00"/><stop offset="1" stop-color="#fff200"/></linearGradient><linearGradient id="a210" gradientUnits="userSpaceOnUse" x1="1008.7" y1="511.0" x2="1001.2" y2="479.3"><stop stop-color="#fff400"/><stop offset="1" stop-color="#ffe100"/></linearGradient><linearGradient id="a211" gradientUnits="userSpaceOnUse" x1="976.5" y1="489.2" x2="969.2" y2="457.8"><stop stop-color="#ffe400"/><stop offset="1" stop-color="#ffd100"/></linearGradient><linearGradient id="a212" gradientUnits="userSpaceOnUse" x1="944.5" y1="467.6" x2="937.5" y2="436.6"><stop stop-color="#ffd300"/><stop offset="1" stop-color="#ffc000"/></linearGradient><linearGradient id="a213" gradientUnits="userSpaceOnUse" x1="912.9" y1="446.3" x2="906.2" y2="415.5"><stop stop-color="#ffc300"/><stop offset="1" stop-color="#ffb000"/></linearGradient><linearGradient id="a214" gradientUnits="userSpaceOnUse" x1="881.7" y1="425.1" x2="875.2" y2="394.7"><stop stop-color="#ffb200"/><stop offset="1" stop-color="#ff9f00"/></linearGradient><linearGradient id="a215" gradientUnits="userSpaceOnUse" x1="850.8" y1="404.1" x2="844.5" y2="374.0"><stop stop-color="#ffa200"/><stop offset="1" stop-color="#ff8f00"/></linearGradient><linearGradient id="a216" gradientUnits="userSpaceOnUse" x1="820.2" y1="383.3" x2="814.1" y2="353.5"><stop stop-color="#ff9100"/><stop offset="1" stop-color="#ff7e00"/></linearGradient><linearGradient id="a217" gradientUnits="userSpaceOnUse" x1="790.0" y1="362.7" x2="784.1" y2="333.2"><stop stop-color="#ff8100"/><stop offset="1" stop-color="#ff6e00"/></linearGradient><linearGradient id="a218" gradientUnits="userSpaceOnUse" x1="760.0" y1="342.3" x2="754.3" y2="313.1"><stop stop-color="#ff7000"/><stop offset="1" stop-color="#ff5d00"/></linearGradient><linearGradient id="a219" gradientUnits="userSpaceOnUse" x1="730.4" y1="322.1" x2="724.9" y2="293.1"><stop stop-color="#ff6000"/><stop offset="1" stop-color="#ff4c00"/></linearGradient><linearGradient id="a220" gradientUnits="userSpaceOnUse" x1="1383.2" y1="727.6" x2="1373.6" y2="690.9"><stop stop-color="#6bff00"/><stop offset="1" stop-color="#7eff00"/></linearGradient><linearGradient id="a221" gradientUnits="userSpaceOnUse" x1="1347.1" y1="703.7" x2="1337.9" y2="667.5"><stop stop-color="#7bff00"/><stop offset="1" stop-color="#8eff00"/></linearGradient><linearGradient id="a222" gradientUnits="userSpaceOnUse" x1="1311.5" y1="680.1" x2="1302.6" y2="644.3"><stop stop-color="#8bff00"/><stop offset="1" stop-color="#9eff00"/></linearGradient><linearGradient id="a223" gradientUnits="userSpaceOnUse" x1="1276.2" y1="656.7" x2="1267.7" y2="621.3"><stop stop-color="#9bff00"/><stop offset="1" stop-color="#aeff00"/></linearGradient><linearGradient id="a224" gradientUnits="userSpaceOnUse" x1="1241.4" y1="633.6" x2="1233.2" y2="598.5"><stop stop-color="#abff00"/><stop offset="1" stop-color="#bfff00"/></linearGradient><linearGradient id="a225" gradientUnits="userSpaceOnUse" x1="1207.0" y1="610.7" x2="1199.0" y2="576.0"><stop stop-color="#bbff00"/><stop offset="1" stop-color="#cfff00"/></linearGradient><linearGradient id="a226" gradientUnits="userSpaceOnUse" x1="1172.9" y1="588.0" x2="1165.2" y2="553.7"><stop stop-color="#ccff00"/><stop offset="1" stop-color="#dfff00"/></linearGradient><linearGradient id="a227" gradientUnits="userSpaceOnUse" x1="1139.2" y1="565.5" x2="1131.8" y2="531.6"><stop stop-color="#dcff00"/><stop offset="1" stop-color="#efff00"/></linearGradient><linearGradient id="a228" gradientUnits="userSpaceOnUse" x1="1105.9" y1="543.3" x2="1098.8" y2="509.7"><stop stop-color="#ecff00"/><stop offset="1" stop-color="#fffe00"/></linearGradient><linearGradient id="a229" gradientUnits="userSpaceOnUse" x1="1073.0" y1="521.2" x2="1066.1" y2="488.0"><stop stop-color="#fcff00"/><stop offset="1" stop-color="#ffee00"/></linearGradient><linearGradient id="a230" gradientUnits="userSpaceOnUse" x1="1040.4" y1="499.4" x2="1033.8" y2="466.5"><stop stop-color="#fff200"/><stop offset="1" stop-color="#ffde00"/></linearGradient><linearGradient id="a231" gradientUnits="userSpaceOnUse" x1="1008.2" y1="477.8" x2="1001.8" y2="445.2"><stop stop-color="#ffe100"/><stop offset="1" stop-color="#ffcd00"/></linearGradient><linearGradient id="a232" gradientUnits="userSpaceOnUse" x1="976.3" y1="456.3" x2="970.1" y2="424.1"><stop stop-color="#ffd100"/><stop offset="1" stop-color="#ffbd00"/></linearGradient><linearGradient id="a233" gradientUnits="userSpaceOnUse" x1="944.7" y1="435.1" x2="938.8" y2="403.2"><stop stop-color="#ffc000"/><stop offset="1" stop-color="#ffac00"/></linearGradient><linearGradient id="a234" gradientUnits="userSpaceOnUse" x1="913.5" y1="414.0" x2="907.8" y2="382.5"><stop stop-color="#ffb000"/><stop offset="1" stop-color="#ff9b00"/></linearGradient><linearGradient id="a235" gradientUnits="userSpaceOnUse" x1="882.6" y1="393.2" x2="877.1" y2="362.0"><stop stop-color="#ff9f00"/><stop offset="1" stop-color="#ff8b00"/></linearGradient><linearGradient id="a236" gradientUnits="userSpaceOnUse" x1="852.1" y1="372.5" x2="846.7" y2="341.6"><stop stop-color="#ff8f00"/><stop offset="1" stop-color="#ff7a00"/></linearGradient><linearGradient id="a237" gradientUnits="userSpaceOnUse" x1="821.8" y1="352.1" x2="816.7" y2="321.4"><stop stop-color="#ff7e00"/><stop offset="1" stop-color="#ff6900"/></linearGradient><linearGradient id="a238" gradientUnits="userSpaceOnUse" x1="791.9" y1="331.8" x2="786.9" y2="301.4"><stop stop-color="#ff6e00"/><stop offset="1" stop-color="#ff5900"/></linearGradient><linearGradient id="a239" gradientUnits="userSpaceOnUse" x1="762.3" y1="311.6" x2="757.5" y2="281.6"><stop stop-color="#ff5d00"/><stop offset="1" stop-color="#ff4800"/></linearGradient><linearGradient id="a240" gradientUnits="userSpaceOnUse" x1="1413.9" y1="713.5" x2="1405.6" y2="675.7"><stop stop-color="#6eff00"/><stop offset="1" stop-color="#82ff00"/></linearGradient><linearGradient id="a241" gradientUnits="userSpaceOnUse" x1="1377.9" y1="689.9" x2="1370.0" y2="652.5"><stop stop-color="#7eff00"/><stop offset="1" stop-color="#93ff00"/></linearGradient><linearGradient id="a242" gradientUnits="userSpaceOnUse" x1="1342.3" y1="666.4" x2="1334.7" y2="629.4"><stop stop-color="#8eff00"/><stop offset="1" stop-color="#a3ff00"/></linearGradient><linearGradient id="a243" gradientUnits="userSpaceOnUse" x1="1307.2" y1="643.2" x2="1299.8" y2="606.6"><stop stop-color="#9eff00"/><stop offset="1" stop-color="#b3ff00"/></linearGradient><linearGradient id="a244" gradientUnits="userSpaceOnUse" x1="1272.4" y1="620.3" x2="1265.3" y2="584.1"><stop stop-color="#aeff00"/><stop offset="1" stop-color="#c3ff00"/></linearGradient><linearGradient id="a245" gradientUnits="userSpaceOnUse" x1="1238.0" y1="597.5" x2="1231.2" y2="561.7"><stop stop-color="#bfff00"/><stop offset="1" stop-color="#d3ff00"/></linearGradient><linearGradient id="a246" gradientUnits="userSpaceOnUse" x1="1204.0" y1="575.0" x2="1197.4" y2="539.6"><stop stop-color="#cfff00"/><stop offset="1" stop-color="#e4ff00"/></linearGradient><linearGradient id="a247" gradientUnits="userSpaceOnUse" x1="1170.4" y1="552.6" x2="1164.0" y2="517.6"><stop stop-color="#dfff00"/><stop offset="1" stop-color="#f4ff00"/></linearGradient><linearGradient id="a248" gradientUnits="userSpaceOnUse" x1="1137.1" y1="530.5" x2="1131.0" y2="495.9"><stop stop-color="#efff00"/><stop offset="1" stop-color="#fffa00"/></linearGradient><linearGradient id="a249" gradientUnits="userSpaceOnUse" x1="1104.2" y1="508.6" x2="1098.3" y2="474.4"><stop stop-color="#fffe00"/><stop offset="1" stop-color="#ffe900"/></linearGradient><linearGradient id="a250" gradientUnits="userSpaceOnUse" x1="1071.7" y1="486.9" x2="1065.9" y2="453.0"><stop stop-color="#ffee00"/><stop offset="1" stop-color="#ffd900"/></linearGradient><linearGradient id="a251" gradientUnits="userSpaceOnUse" x1="1039.5" y1="465.4" x2="1033.9" y2="431.9"><stop stop-color="#ffde00"/><stop offset="1" stop-color="#ffc800"/></linearGradient><linearGradient id="a252" gradientUnits="userSpaceOnUse" x1="1007.6" y1="444.2" x2="1002.3" y2="410.9"><stop stop-color="#ffcd00"/><stop offset="1" stop-color="#ffb800"/></linearGradient><linearGradient id="a253" gradientUnits="userSpaceOnUse" x1="976.1" y1="423.1" x2="971.0" y2="390.2"><stop stop-color="#ffbd00"/><stop offset="1" stop-color="#ffa700"/></linearGradient><linearGradient id="a254" gradientUnits="userSpaceOnUse" x1="944.9" y1="402.1" x2="940.0" y2="369.6"><stop stop-color="#ffac00"/><stop offset="1" stop-color="#ff9600"/></linearGradient><linearGradient id="a255" gradientUnits="userSpaceOnUse" x1="914.1" y1="381.4" x2="909.3" y2="349.2"><stop stop-color="#ff9b00"/><stop offset="1" stop-color="#ff8600"/></linearGradient><linearGradient id="a256" gradientUnits="userSpaceOnUse" x1="883.6" y1="360.9" x2="878.9" y2="329.0"><stop stop-color="#ff8b00"/><stop offset="1" stop-color="#ff7500"/></linearGradient><linearGradient id="a257" gradientUnits="userSpaceOnUse" x1="853.3" y1="340.5" x2="848.8" y2="308.9"><stop stop-color="#ff7a00"/><stop offset="1" stop-color="#ff6400"/></linearGradient><linearGradient id="a258" gradientUnits="userSpaceOnUse" x1="823.4" y1="320.4" x2="819.1" y2="289.1"><stop stop-color="#ff6900"/><stop offset="1" stop-color="#ff5300"/></linearGradient><linearGradient id="a259" gradientUnits="userSpaceOnUse" x1="793.8" y1="300.4" x2="789.6" y2="269.4"><stop stop-color="#ff5900"/><stop offset="1" stop-color="#ff4200"/></linearGradient><linearGradient id="a260" gradientUnits="userSpaceOnUse" x1="1444.2" y1="698.7" x2="1437.3" y2="659.8"><stop stop-color="#72ff00"/><stop offset="1" stop-color="#88ff00"/></linearGradient><linearGradient id="a261" gradientUnits="userSpaceOnUse" x1="1408.3" y1="675.2" x2="1401.6" y2="636.8"><stop stop-color="#82ff00"/><stop offset="1" stop-color="#98ff00"/></linearGradient><linearGradient id="a262" gradientUnits="userSpaceOnUse" x1="1372.8" y1="651.9" x2="1366.4" y2="613.9"><stop stop-color="#93ff00"/><stop offset="1" stop-color="#a8ff00"/></linearGradient><linearGradient id="a263" gradientUnits="userSpaceOnUse" x1="1337.7" y1="628.9" x2="1331.5" y2="591.3"><stop stop-color="#a3ff00"/><stop offset="1" stop-color="#b9ff00"/></linearGradient><linearGradient id="a264" gradientUnits="userSpaceOnUse" x1="1303.0" y1="606.0" x2="1297.0" y2="568.9"><stop stop-color="#b3ff00"/><stop offset="1" stop-color="#c9ff00"/></linearGradient><linearGradient id="a265" gradientUnits="userSpaceOnUse" x1="1268.7" y1="583.5" x2="1262.9" y2="546.7"><stop stop-color="#c3ff00"/><stop offset="1" stop-color="#d9ff00"/></linearGradient><linearGradient id="a266" gradientUnits="userSpaceOnUse" x1="1234.8" y1="561.1" x2="1229.1" y2="524.7"><stop stop-color="#d3ff00"/><stop offset="1" stop-color="#eaff00"/></linearGradient><linearGradient id="a267" gradientUnits="userSpaceOnUse" x1="1201.2" y1="538.9" x2="1195.8" y2="503.0"><stop stop-color="#e4ff00"/><stop offset="1" stop-color="#faff00"/></linearGradient><linearGradient id="a268" gradientUnits="userSpaceOnUse" x1="1168.0" y1="517.0" x2="1162.7" y2="481.4"><stop stop-color="#f4ff00"/><stop offset="1" stop-color="#fff300"/></linearGradient><linearGradient id="a269" gradientUnits="userSpaceOnUse" x1="1135.1" y1="495.2" x2="1130.1" y2="460.0"><stop stop-color="#fffa00"/><stop offset="1" stop-color="#ffe300"/></linearGradient><linearGradient id="a270" gradientUnits="userSpaceOnUse" x1="1102.6" y1="473.7" x2="1097.7" y2="438.8"><stop stop-color="#ffe900"/><stop offset="1" stop-color="#ffd200"/></linearGradient><linearGradient id="a271" gradientUnits="userSpaceOnUse" x1="1070.5" y1="452.3" x2="1065.7" y2="417.8"><stop stop-color="#ffd900"/><stop offset="1" stop-color="#ffc200"/></linearGradient><linearGradient id="a272" gradientUnits="userSpaceOnUse" x1="1038.7" y1="431.2" x2="1034.1" y2="397.0"><stop stop-color="#ffc800"/><stop offset="1" stop-color="#ffb100"/></linearGradient><linearGradient id="a273" gradientUnits="userSpaceOnUse" x1="1007.2" y1="410.2" x2="1002.8" y2="376.4"><stop stop-color="#ffb800"/><stop offset="1" stop-color="#ffa000"/></linearGradient><linearGradient id="a274" gradientUnits="userSpaceOnUse" x1="976.0" y1="389.4" x2="971.8" y2="356.0"><stop stop-color="#ffa700"/><stop offset="1" stop-color="#ff9000"/></linearGradient><linearGradient id="a275" gradientUnits="userSpaceOnUse" x1="945.2" y1="368.9" x2="941.1" y2="335.7"><stop stop-color="#ff9600"/><stop offset="1" stop-color="#ff7f00"/></linearGradient><linearGradient id="a276" gradientUnits="userSpaceOnUse" x1="914.7" y1="348.5" x2="910.7" y2="315.6"><stop stop-color="#ff8600"/><stop offset="1" stop-color="#ff6e00"/></linearGradient><linearGradient id="a277" gradientUnits="userSpaceOnUse" x1="884.5" y1="328.2" x2="880.6" y2="295.7"><stop stop-color="#ff7500"/><stop offset="1" stop-color="#ff5d00"/></linearGradient><linearGradient id="a278" gradientUnits="userSpaceOnUse" x1="854.6" y1="308.2" x2="850.9" y2="276.0"><stop stop-color="#ff6400"/><stop offset="1" stop-color="#ff4c00"/></linearGradient><linearGradient id="a279" gradientUnits="userSpaceOnUse" x1="825.0" y1="288.3" x2="821.4" y2="256.4"><stop stop-color="#ff5300"/><stop offset="1" stop-color="#ff3b00"/></linearGradient><linearGradient id="a280" gradientUnits="userSpaceOnUse" x1="1474.3" y1="682.9" x2="1468.5" y2="643.2"><stop stop-color="#78ff00"/><stop offset="1" stop-color="#8fff00"/></linearGradient><linearGradient id="a281" gradientUnits="userSpaceOnUse" x1="1438.5" y1="659.6" x2="1432.9" y2="620.4"><stop stop-color="#88ff00"/><stop offset="1" stop-color="#9fff00"/></linearGradient><linearGradient id="a282" gradientUnits="userSpaceOnUse" x1="1403.1" y1="636.5" x2="1397.7" y2="597.7"><stop stop-color="#98ff00"/><stop offset="1" stop-color="#afff00"/></linearGradient><linearGradient id="a283" gradientUnits="userSpaceOnUse" x1="1368.0" y1="613.7" x2="1362.8" y2="575.3"><stop stop-color="#a8ff00"/><stop offset="1" stop-color="#c0ff00"/></linearGradient><linearGradient id="a284" gradientUnits="userSpaceOnUse" x1="1333.4" y1="591.0" x2="1328.3" y2="553.0"><stop stop-color="#b9ff00"/><stop offset="1" stop-color="#d0ff00"/></linearGradient><linearGradient id="a285" gradientUnits="userSpaceOnUse" x1="1299.1" y1="568.6" x2="1294.2" y2="531.0"><stop stop-color="#c9ff00"/><stop offset="1" stop-color="#e1ff00"/></linearGradient><linearGradient id="a286" gradientUnits="userSpaceOnUse" x1="1265.2" y1="546.4" x2="1260.5" y2="509.2"><stop stop-color="#d9ff00"/><stop offset="1" stop-color="#f1ff00"/></linearGradient><linearGradient id="a287" gradientUnits="userSpaceOnUse" x1="1231.7" y1="524.4" x2="1227.1" y2="487.6"><stop stop-color="#eaff00"/><stop offset="1" stop-color="#fffd00"/></linearGradient><linearGradient id="a288" gradientUnits="userSpaceOnUse" x1="1198.5" y1="502.6" x2="1194.1" y2="466.2"><stop stop-color="#faff00"/><stop offset="1" stop-color="#ffec00"/></linearGradient><linearGradient id="a289" gradientUnits="userSpaceOnUse" x1="1165.7" y1="481.0" x2="1161.5" y2="444.9"><stop stop-color="#fff300"/><stop offset="1" stop-color="#ffdb00"/></linearGradient><linearGradient id="a290" gradientUnits="userSpaceOnUse" x1="1133.3" y1="459.6" x2="1129.1" y2="423.9"><stop stop-color="#ffe300"/><stop offset="1" stop-color="#ffcb00"/></linearGradient><linearGradient id="a291" gradientUnits="userSpaceOnUse" x1="1101.1" y1="438.4" x2="1097.2" y2="403.1"><stop stop-color="#ffd200"/><stop offset="1" stop-color="#ffba00"/></linearGradient><linearGradient id="a292" gradientUnits="userSpaceOnUse" x1="1069.4" y1="417.4" x2="1065.5" y2="382.4"><stop stop-color="#ffc200"/><stop offset="1" stop-color="#ffa900"/></linearGradient><linearGradient id="a293" gradientUnits="userSpaceOnUse" x1="1037.9" y1="396.6" x2="1034.2" y2="361.9"><stop stop-color="#ffb100"/><stop offset="1" stop-color="#ff9900"/></linearGradient><linearGradient id="a294" gradientUnits="userSpaceOnUse" x1="1006.8" y1="375.9" x2="1003.2" y2="341.6"><stop stop-color="#ffa000"/><stop offset="1" stop-color="#ff8800"/></linearGradient><linearGradient id="a295" gradientUnits="userSpaceOnUse" x1="976.0" y1="355.5" x2="972.5" y2="321.5"><stop stop-color="#ff9000"/><stop offset="1" stop-color="#ff7700"/></linearGradient><linearGradient id="a296" gradientUnits="userSpaceOnUse" x1="945.5" y1="335.2" x2="942.1" y2="301.6"><stop stop-color="#ff7f00"/><stop offset="1" stop-color="#ff6600"/></linearGradient><linearGradient id="a297" gradientUnits="userSpaceOnUse" x1="915.3" y1="315.1" x2="912.1" y2="281.8"><stop stop-color="#ff6e00"/><stop offset="1" stop-color="#ff5500"/></linearGradient><linearGradient id="a298" gradientUnits="userSpaceOnUse" x1="885.5" y1="295.2" x2="882.3" y2="262.2"><stop stop-color="#ff5d00"/><stop offset="1" stop-color="#ff4400"/></linearGradient><linearGradient id="a299" gradientUnits="userSpaceOnUse" x1="855.9" y1="275.5" x2="852.8" y2="242.8"><stop stop-color="#ff4c00"/><stop offset="1" stop-color="#ff3300"/></linearGradient><linearGradient id="a300" gradientUnits="userSpaceOnUse" x1="1504.1" y1="666.4" x2="1499.4" y2="626.0"><stop stop-color="#7fff00"/><stop offset="1" stop-color="#97ff00"/></linearGradient><linearGradient id="a301" gradientUnits="userSpaceOnUse" x1="1468.4" y1="643.3" x2="1463.8" y2="603.3"><stop stop-color="#8fff00"/><stop offset="1" stop-color="#a7ff00"/></linearGradient><linearGradient id="a302" gradientUnits="userSpaceOnUse" x1="1433.0" y1="620.3" x2="1428.6" y2="580.8"><stop stop-color="#9fff00"/><stop offset="1" stop-color="#b8ff00"/></linearGradient><linearGradient id="a303" gradientUnits="userSpaceOnUse" x1="1398.0" y1="597.7" x2="1393.7" y2="558.5"><stop stop-color="#afff00"/><stop offset="1" stop-color="#c8ff00"/></linearGradient><linearGradient id="a304" gradientUnits="userSpaceOnUse" x1="1363.4" y1="575.2" x2="1359.3" y2="536.5"><stop stop-color="#c0ff00"/><stop offset="1" stop-color="#d9ff00"/></linearGradient><linearGradient id="a305" gradientUnits="userSpaceOnUse" x1="1329.2" y1="552.9" x2="1325.2" y2="514.6"><stop stop-color="#d0ff00"/><stop offset="1" stop-color="#e9ff00"/></linearGradient><linearGradient id="a306" gradientUnits="userSpaceOnUse" x1="1295.4" y1="530.9" x2="1291.5" y2="492.9"><stop stop-color="#e1ff00"/><stop offset="1" stop-color="#faff00"/></linearGradient><linearGradient id="a307" gradientUnits="userSpaceOnUse" x1="1261.9" y1="509.0" x2="1258.1" y2="471.5"><stop stop-color="#f1ff00"/><stop offset="1" stop-color="#fff400"/></linearGradient><linearGradient id="a308" gradientUnits="userSpaceOnUse" x1="1228.8" y1="487.4" x2="1225.1" y2="450.2"><stop stop-color="#fffd00"/><stop offset="1" stop-color="#ffe300"/></linearGradient><linearGradient id="a309" gradientUnits="userSpaceOnUse" x1="1196.0" y1="466.0" x2="1192.5" y2="429.2"><stop stop-color="#ffec00"/><stop offset="1" stop-color="#ffd300"/></linearGradient><linearGradient id="a310" gradientUnits="userSpaceOnUse" x1="1163.6" y1="444.7" x2="1160.2" y2="408.3"><stop stop-color="#ffdb00"/><stop offset="1" stop-color="#ffc200"/></linearGradient><linearGradient id="a311" gradientUnits="userSpaceOnUse" x1="1131.5" y1="423.7" x2="1128.2" y2="387.6"><stop stop-color="#ffcb00"/><stop offset="1" stop-color="#ffb100"/></linearGradient><linearGradient id="a312" gradientUnits="userSpaceOnUse" x1="1099.7" y1="402.8" x2="1096.6" y2="367.1"><stop stop-color="#ffba00"/><stop offset="1" stop-color="#ffa000"/></linearGradient><linearGradient id="a313" gradientUnits="userSpaceOnUse" x1="1068.3" y1="382.1" x2="1065.2" y2="346.7"><stop stop-color="#ffa900"/><stop offset="1" stop-color="#ff8f00"/></linearGradient><linearGradient id="a314" gradientUnits="userSpaceOnUse" x1="1037.2" y1="361.6" x2="1034.2" y2="326.6"><stop stop-color="#ff9900"/><stop offset="1" stop-color="#ff7f00"/></linearGradient><linearGradient id="a315" gradientUnits="userSpaceOnUse" x1="1006.4" y1="341.3" x2="1003.6" y2="306.6"><stop stop-color="#ff8800"/><stop offset="1" stop-color="#ff6e00"/></linearGradient><linearGradient id="a316" gradientUnits="userSpaceOnUse" x1="976.0" y1="321.2" x2="973.2" y2="286.8"><stop stop-color="#ff7700"/><stop offset="1" stop-color="#ff5d00"/></linearGradient><linearGradient id="a317" gradientUnits="userSpaceOnUse" x1="945.8" y1="301.2" x2="943.1" y2="267.2"><stop stop-color="#ff6600"/><stop offset="1" stop-color="#ff4c00"/></linearGradient><linearGradient id="a318" gradientUnits="userSpaceOnUse" x1="916.0" y1="281.5" x2="913.4" y2="247.7"><stop stop-color="#ff5500"/><stop offset="1" stop-color="#ff3b00"/></linearGradient><linearGradient id="a319" gradientUnits="userSpaceOnUse" x1="886.4" y1="261.8" x2="883.9" y2="228.4"><stop stop-color="#ff4400"/><stop offset="1" stop-color="#ff2a00"/></linearGradient><linearGradient id="a320" gradientUnits="userSpaceOnUse" x1="1533.6" y1="649.1" x2="1529.8" y2="608.0"><stop stop-color="#87ff00"/><stop offset="1" stop-color="#a1ff00"/></linearGradient><linearGradient id="a321" gradientUnits="userSpaceOnUse" x1="1497.9" y1="626.1" x2="1494.3" y2="585.5"><stop stop-color="#97ff00"/><stop offset="1" stop-color="#b1ff00"/></linearGradient><linearGradient id="a322" gradientUnits="userSpaceOnUse" x1="1462.6" y1="603.4" x2="1459.1" y2="563.2"><stop stop-color="#a7ff00"/><stop offset="1" stop-color="#c1ff00"/></linearGradient><linearGradient id="a323" gradientUnits="userSpaceOnUse" x1="1427.7" y1="580.9" x2="1424.3" y2="541.1"><stop stop-color="#b8ff00"/><stop offset="1" stop-color="#d2ff00"/></linearGradient><linearGradient id="a324" gradientUnits="userSpaceOnUse" x1="1393.2" y1="558.6" x2="1389.9" y2="519.2"><stop stop-color="#c8ff00"/><stop offset="1" stop-color="#e2ff00"/></linearGradient><linearGradient id="a325" gradientUnits="userSpaceOnUse" x1="1359.0" y1="536.5" x2="1355.8" y2="497.5"><stop stop-color="#d9ff00"/><stop offset="1" stop-color="#f3ff00"/></linearGradient><linearGradient id="a326" gradientUnits="userSpaceOnUse" x1="1325.2" y1="514.6" x2="1322.1" y2="476.0"><stop stop-color="#e9ff00"/><stop offset="1" stop-color="#fffa00"/></linearGradient><linearGradient id="a327" gradientUnits="userSpaceOnUse" x1="1291.8" y1="492.9" x2="1288.8" y2="454.7"><stop stop-color="#faff00"/><stop offset="1" stop-color="#ffea00"/></linearGradient><linearGradient id="a328" gradientUnits="userSpaceOnUse" x1="1258.7" y1="471.4" x2="1255.8" y2="433.6"><stop stop-color="#fff400"/><stop offset="1" stop-color="#ffd900"/></linearGradient><linearGradient id="a329" gradientUnits="userSpaceOnUse" x1="1226.0" y1="450.2" x2="1223.2" y2="412.7"><stop stop-color="#ffe300"/><stop offset="1" stop-color="#ffc800"/></linearGradient><linearGradient id="a330" gradientUnits="userSpaceOnUse" x1="1193.6" y1="429.1" x2="1190.9" y2="391.9"><stop stop-color="#ffd300"/><stop offset="1" stop-color="#ffb800"/></linearGradient><linearGradient id="a331" gradientUnits="userSpaceOnUse" x1="1161.5" y1="408.2" x2="1158.9" y2="371.4"><stop stop-color="#ffc200"/><stop offset="1" stop-color="#ffa700"/></linearGradient><linearGradient id="a332" gradientUnits="userSpaceOnUse" x1="1129.8" y1="387.5" x2="1127.3" y2="351.0"><stop stop-color="#ffb100"/><stop offset="1" stop-color="#ff9600"/></linearGradient><linearGradient id="a333" gradientUnits="userSpaceOnUse" x1="1098.4" y1="366.9" x2="1095.9" y2="330.8"><stop stop-color="#ffa000"/><stop offset="1" stop-color="#ff8500"/></linearGradient><linearGradient id="a334" gradientUnits="userSpaceOnUse" x1="1067.3" y1="346.6" x2="1064.9" y2="310.8"><stop stop-color="#ff8f00"/><stop offset="1" stop-color="#ff7400"/></linearGradient><linearGradient id="a335" gradientUnits="userSpaceOnUse" x1="1036.6" y1="326.4" x2="1034.3" y2="291.0"><stop stop-color="#ff7f00"/><stop offset="1" stop-color="#ff6300"/></linearGradient><linearGradient id="a336" gradientUnits="userSpaceOnUse" x1="1006.1" y1="306.4" x2="1003.9" y2="271.3"><stop stop-color="#ff6e00"/><stop offset="1" stop-color="#ff5200"/></linearGradient><linearGradient id="a337" gradientUnits="userSpaceOnUse" x1="976.0" y1="286.6" x2="973.8" y2="251.8"><stop stop-color="#ff5d00"/><stop offset="1" stop-color="#ff4100"/></linearGradient><linearGradient id="a338" gradientUnits="userSpaceOnUse" x1="946.1" y1="266.9" x2="944.1" y2="232.5"><stop stop-color="#ff4c00"/><stop offset="1" stop-color="#ff3000"/></linearGradient><linearGradient id="a339" gradientUnits="userSpaceOnUse" x1="916.6" y1="247.5" x2="914.6" y2="213.3"><stop stop-color="#ff3b00"/><stop offset="1" stop-color="#ff1f00"/></linearGradient><linearGradient id="a340" gradientUnits="userSpaceOnUse" x1="1562.9" y1="631.0" x2="1560.0" y2="589.3"><stop stop-color="#90ff00"/><stop offset="1" stop-color="#acff00"/></linearGradient><linearGradient id="a341" gradientUnits="userSpaceOnUse" x1="1527.3" y1="608.2" x2="1524.4" y2="567.0"><stop stop-color="#a1ff00"/><stop offset="1" stop-color="#bcff00"/></linearGradient><linearGradient id="a342" gradientUnits="userSpaceOnUse" x1="1492.0" y1="585.7" x2="1489.3" y2="544.8"><stop stop-color="#b1ff00"/><stop offset="1" stop-color="#ccff00"/></linearGradient><linearGradient id="a343" gradientUnits="userSpaceOnUse" x1="1457.1" y1="563.3" x2="1454.5" y2="522.9"><stop stop-color="#c1ff00"/><stop offset="1" stop-color="#ddff00"/></linearGradient><linearGradient id="a344" gradientUnits="userSpaceOnUse" x1="1422.7" y1="541.2" x2="1420.1" y2="501.2"><stop stop-color="#d2ff00"/><stop offset="1" stop-color="#eeff00"/></linearGradient><linearGradient id="a345" gradientUnits="userSpaceOnUse" x1="1388.5" y1="519.3" x2="1386.1" y2="479.7"><stop stop-color="#e2ff00"/><stop offset="1" stop-color="#feff00"/></linearGradient><linearGradient id="a346" gradientUnits="userSpaceOnUse" x1="1354.8" y1="497.6" x2="1352.4" y2="458.3"><stop stop-color="#f3ff00"/><stop offset="1" stop-color="#ffef00"/></linearGradient><linearGradient id="a347" gradientUnits="userSpaceOnUse" x1="1321.4" y1="476.0" x2="1319.1" y2="437.2"><stop stop-color="#fffa00"/><stop offset="1" stop-color="#ffde00"/></linearGradient><linearGradient id="a348" gradientUnits="userSpaceOnUse" x1="1288.3" y1="454.7" x2="1286.1" y2="416.3"><stop stop-color="#ffea00"/><stop offset="1" stop-color="#ffce00"/></linearGradient><linearGradient id="a349" gradientUnits="userSpaceOnUse" x1="1255.6" y1="433.6" x2="1253.5" y2="395.5"><stop stop-color="#ffd900"/><stop offset="1" stop-color="#ffbd00"/></linearGradient><linearGradient id="a350" gradientUnits="userSpaceOnUse" x1="1223.3" y1="412.7" x2="1221.2" y2="374.9"><stop stop-color="#ffc800"/><stop offset="1" stop-color="#ffac00"/></linearGradient><linearGradient id="a351" gradientUnits="userSpaceOnUse" x1="1191.3" y1="391.9" x2="1189.2" y2="354.5"><stop stop-color="#ffb800"/><stop offset="1" stop-color="#ff9b00"/></linearGradient><linearGradient id="a352" gradientUnits="userSpaceOnUse" x1="1159.6" y1="371.4" x2="1157.6" y2="334.3"><stop stop-color="#ffa700"/><stop offset="1" stop-color="#ff8a00"/></linearGradient><linearGradient id="a353" gradientUnits="userSpaceOnUse" x1="1128.2" y1="351.0" x2="1126.3" y2="314.2"><stop stop-color="#ff9600"/><stop offset="1" stop-color="#ff7900"/></linearGradient><linearGradient id="a354" gradientUnits="userSpaceOnUse" x1="1097.1" y1="330.8" x2="1095.3" y2="294.4"><stop stop-color="#ff8500"/><stop offset="1" stop-color="#ff6800"/></linearGradient><linearGradient id="a355" gradientUnits="userSpaceOnUse" x1="1066.4" y1="310.7" x2="1064.6" y2="274.7"><stop stop-color="#ff7400"/><stop offset="1" stop-color="#ff5700"/></linearGradient><linearGradient id="a356" gradientUnits="userSpaceOnUse" x1="1036.0" y1="290.9" x2="1034.3" y2="255.1"><stop stop-color="#ff6300"/><stop offset="1" stop-color="#ff4600"/></linearGradient><linearGradient id="a357" gradientUnits="userSpaceOnUse" x1="1005.9" y1="271.2" x2="1004.2" y2="235.8"><stop stop-color="#ff5200"/><stop offset="1" stop-color="#ff3500"/></linearGradient><linearGradient id="a358" gradientUnits="userSpaceOnUse" x1="976.0" y1="251.7" x2="974.4" y2="216.5"><stop stop-color="#ff4100"/><stop offset="1" stop-color="#ff2400"/></linearGradient><linearGradient id="a359" gradientUnits="userSpaceOnUse" x1="946.5" y1="232.3" x2="944.9" y2="197.5"><stop stop-color="#ff3000"/><stop offset="1" stop-color="#ff1200"/></linearGradient><linearGradient id="a360" gradientUnits="userSpaceOnUse" x1="1591.9" y1="612.1" x2="1589.7" y2="570.0"><stop stop-color="#9bff00"/><stop offset="1" stop-color="#b8ff00"/></linearGradient><linearGradient id="a361" gradientUnits="userSpaceOnUse" x1="1556.3" y1="589.5" x2="1554.2" y2="547.8"><stop stop-color="#acff00"/><stop offset="1" stop-color="#c8ff00"/></linearGradient><linearGradient id="a362" gradientUnits="userSpaceOnUse" x1="1521.1" y1="567.2" x2="1519.1" y2="525.8"><stop stop-color="#bcff00"/><stop offset="1" stop-color="#d9ff00"/></linearGradient><linearGradient id="a363" gradientUnits="userSpaceOnUse" x1="1486.3" y1="545.0" x2="1484.4" y2="504.1"><stop stop-color="#ccff00"/><stop offset="1" stop-color="#e9ff00"/></linearGradient><linearGradient id="a364" gradientUnits="userSpaceOnUse" x1="1451.9" y1="523.1" x2="1450.0" y2="482.5"><stop stop-color="#ddff00"/><stop offset="1" stop-color="#faff00"/></linearGradient><linearGradient id="a365" gradientUnits="userSpaceOnUse" x1="1417.8" y1="501.3" x2="1416.0" y2="461.2"><stop stop-color="#eeff00"/><stop offset="1" stop-color="#fff300"/></linearGradient><linearGradient id="a366" gradientUnits="userSpaceOnUse" x1="1384.1" y1="479.8" x2="1382.3" y2="440.0"><stop stop-color="#feff00"/><stop offset="1" stop-color="#ffe200"/></linearGradient><linearGradient id="a367" gradientUnits="userSpaceOnUse" x1="1350.7" y1="458.4" x2="1349.0" y2="419.0"><stop stop-color="#ffef00"/><stop offset="1" stop-color="#ffd200"/></linearGradient><linearGradient id="a368" gradientUnits="userSpaceOnUse" x1="1317.7" y1="437.3" x2="1316.1" y2="398.2"><stop stop-color="#ffde00"/><stop offset="1" stop-color="#ffc100"/></linearGradient><linearGradient id="a369" gradientUnits="userSpaceOnUse" x1="1285.0" y1="416.3" x2="1283.5" y2="377.6"><stop stop-color="#ffce00"/><stop offset="1" stop-color="#ffb000"/></linearGradient><linearGradient id="a370" gradientUnits="userSpaceOnUse" x1="1252.7" y1="395.5" x2="1251.2" y2="357.2"><stop stop-color="#ffbd00"/><stop offset="1" stop-color="#ff9f00"/></linearGradient><linearGradient id="a371" gradientUnits="userSpaceOnUse" x1="1220.7" y1="374.9" x2="1219.2" y2="336.9"><stop stop-color="#ffac00"/><stop offset="1" stop-color="#ff8e00"/></linearGradient><linearGradient id="a372" gradientUnits="userSpaceOnUse" x1="1189.0" y1="354.5" x2="1187.6" y2="316.9"><stop stop-color="#ff9b00"/><stop offset="1" stop-color="#ff7d00"/></linearGradient><linearGradient id="a373" gradientUnits="userSpaceOnUse" x1="1157.7" y1="334.3" x2="1156.3" y2="296.9"><stop stop-color="#ff8a00"/><stop offset="1" stop-color="#ff6c00"/></linearGradient><linearGradient id="a374" gradientUnits="userSpaceOnUse" x1="1126.7" y1="314.2" x2="1125.3" y2="277.2"><stop stop-color="#ff7900"/><stop offset="1" stop-color="#ff5b00"/></linearGradient><linearGradient id="a375" gradientUnits="userSpaceOnUse" x1="1095.9" y1="294.3" x2="1094.7" y2="257.7"><stop stop-color="#ff6800"/><stop offset="1" stop-color="#ff4a00"/></linearGradient><linearGradient id="a376" gradientUnits="userSpaceOnUse" x1="1065.5" y1="274.6" x2="1064.3" y2="238.2"><stop stop-color="#ff5700"/><stop offset="1" stop-color="#ff3900"/></linearGradient><linearGradient id="a377" gradientUnits="userSpaceOnUse" x1="1035.4" y1="255.1" x2="1034.2" y2="219.0"><stop stop-color="#ff4600"/><stop offset="1" stop-color="#ff2700"/></linearGradient><linearGradient id="a378" gradientUnits="userSpaceOnUse" x1="1005.6" y1="235.7" x2="1004.5" y2="199.9"><stop stop-color="#ff3500"/><stop offset="1" stop-color="#ff1600"/></linearGradient><linearGradient id="a379" gradientUnits="userSpaceOnUse" x1="976.1" y1="216.5" x2="975.0" y2="181.0"><stop stop-color="#ff2400"/><stop offset="1" stop-color="#ff0500"/></linearGradient><linearGradient id="a380" gradientUnits="userSpaceOnUse" x1="1620.6" y1="592.5" x2="1619.2" y2="549.9"><stop stop-color="#a7ff00"/><stop offset="1" stop-color="#c5ff00"/></linearGradient><linearGradient id="a381" gradientUnits="userSpaceOnUse" x1="1585.1" y1="570.1" x2="1583.7" y2="527.9"><stop stop-color="#b8ff00"/><stop offset="1" stop-color="#d6ff00"/></linearGradient><linearGradient id="a382" gradientUnits="userSpaceOnUse" x1="1550.0" y1="548.0" x2="1548.6" y2="506.1"><stop stop-color="#c8ff00"/><stop offset="1" stop-color="#e6ff00"/></linearGradient><linearGradient id="a383" gradientUnits="userSpaceOnUse" x1="1515.2" y1="526.0" x2="1513.9" y2="484.5"><stop stop-color="#d9ff00"/><stop offset="1" stop-color="#f7ff00"/></linearGradient><linearGradient id="a384" gradientUnits="userSpaceOnUse" x1="1480.8" y1="504.2" x2="1479.5" y2="463.1"><stop stop-color="#e9ff00"/><stop offset="1" stop-color="#fff600"/></linearGradient><linearGradient id="a385" gradientUnits="userSpaceOnUse" x1="1446.8" y1="482.6" x2="1445.6" y2="441.9"><stop stop-color="#faff00"/><stop offset="1" stop-color="#ffe500"/></linearGradient><linearGradient id="a386" gradientUnits="userSpaceOnUse" x1="1413.1" y1="461.3" x2="1411.9" y2="420.9"><stop stop-color="#fff300"/><stop offset="1" stop-color="#ffd500"/></linearGradient><linearGradient id="a387" gradientUnits="userSpaceOnUse" x1="1379.8" y1="440.1" x2="1378.6" y2="400.1"><stop stop-color="#ffe200"/><stop offset="1" stop-color="#ffc400"/></linearGradient><linearGradient id="a388" gradientUnits="userSpaceOnUse" x1="1346.8" y1="419.1" x2="1345.7" y2="379.5"><stop stop-color="#ffd200"/><stop offset="1" stop-color="#ffb300"/></linearGradient><linearGradient id="a389" gradientUnits="userSpaceOnUse" x1="1314.2" y1="398.3" x2="1313.1" y2="359.0"><stop stop-color="#ffc100"/><stop offset="1" stop-color="#ffa200"/></linearGradient><linearGradient id="a390" gradientUnits="userSpaceOnUse" x1="1281.9" y1="377.7" x2="1280.9" y2="338.7"><stop stop-color="#ffb000"/><stop offset="1" stop-color="#ff9100"/></linearGradient><linearGradient id="a391" gradientUnits="userSpaceOnUse" x1="1249.9" y1="357.2" x2="1248.9" y2="318.6"><stop stop-color="#ff9f00"/><stop offset="1" stop-color="#ff8000"/></linearGradient><linearGradient id="a392" gradientUnits="userSpaceOnUse" x1="1218.2" y1="337.0" x2="1217.3" y2="298.7"><stop stop-color="#ff8e00"/><stop offset="1" stop-color="#ff6f00"/></linearGradient><linearGradient id="a393" gradientUnits="userSpaceOnUse" x1="1186.9" y1="316.9" x2="1186.0" y2="279.0"><stop stop-color="#ff7d00"/><stop offset="1" stop-color="#ff5e00"/></linearGradient><linearGradient id="a394" gradientUnits="userSpaceOnUse" x1="1155.9" y1="297.0" x2="1155.0" y2="259.4"><stop stop-color="#ff6c00"/><stop offset="1" stop-color="#ff4c00"/></linearGradient><linearGradient id="a395" gradientUnits="userSpaceOnUse" x1="1125.2" y1="277.2" x2="1124.4" y2="239.9"><stop stop-color="#ff5b00"/><stop offset="1" stop-color="#ff3b00"/></linearGradient><linearGradient id="a396" gradientUnits="userSpaceOnUse" x1="1094.8" y1="257.6" x2="1094.0" y2="220.7"><stop stop-color="#ff4a00"/><stop offset="1" stop-color="#ff2a00"/></linearGradient><linearGradient id="a397" gradientUnits="userSpaceOnUse" x1="1064.7" y1="238.2" x2="1063.9" y2="201.6"><stop stop-color="#ff3900"/><stop offset="1" stop-color="#ff1900"/></linearGradient><linearGradient id="a398" gradientUnits="userSpaceOnUse" x1="1034.9" y1="219.0" x2="1034.2" y2="182.6"><stop stop-color="#ff2700"/><stop offset="1" stop-color="#ff0700"/></linearGradient><linearGradient id="a399" gradientUnits="userSpaceOnUse" x1="1005.4" y1="199.9" x2="1004.7" y2="163.8"><stop stop-color="#ff1600"/><stop offset="1" stop-color="#ff0000"/></linearGradient></defs>
<g stroke="#000" stroke-width="2" stroke-linejoin="round"><path d="M1005.0,200.0L1034.4,182.7L1005.1,163.9L975.7,181.0Z" fill="url(#a399)"/><path d="M1034.7,219.0L1064.0,201.6L1034.4,182.7L1005.0,200.0Z" fill="url(#a398)"/><path d="M975.4,216.6L1005.0,200.0L975.7,181.0L946.0,197.5Z" fill="url(#a379)"/><path d="M1064.6,238.3L1094.0,220.7L1064.0,201.6L1034.7,219.0Z" fill="url(#a397)"/><path d="M1005.0,235.8L1034.7,219.0L1005.0,200.0L975.4,216.6Z" fill="url(#a378)"/><path d="M945.4,232.4L975.4,216.6L946.0,197.5L916.1,213.3Z" fill="url(#a359)"/><path d="M1094.9,257.7L1124.2,240.0L1094.0,220.7L1064.6,238.3Z" fill="url(#a396)"/><path d="M1035.0,255.2L1064.6,238.3L1034.7,219.0L1005.0,235.8Z" fill="url(#a377)"/><path d="M975.1,251.8L1005.0,235.8L975.4,216.6L945.4,232.4Z" fill="url(#a358)"/><path d="M915.1,247.6L945.4,232.4L916.1,213.3L885.8,228.3Z" fill="url(#a339)"/><path d="M1125.4,277.3L1154.7,259.4L1124.2,240.0L1094.9,257.7Z" fill="url(#a395)"/><path d="M1065.2,274.7L1094.9,257.7L1064.6,238.3L1035.0,255.2Z" fill="url(#a376)"/><path d="M1005.0,271.3L1035.0,255.2L1005.0,235.8L975.1,251.8Z" fill="url(#a357)"/><path d="M944.8,267.1L975.1,251.8L945.4,232.4L915.1,247.6Z" fill="url(#a338)"/><path d="M884.5,262.0L915.1,247.6L885.8,228.3L855.2,242.6Z" fill="url(#a319)"/><path d="M1156.2,297.0L1185.6,279.0L1154.7,259.4L1125.4,277.3Z" fill="url(#a394)"/><path d="M1095.8,294.4L1125.4,277.3L1094.9,257.7L1065.2,274.7Z" fill="url(#a375)"/><path d="M1035.3,291.0L1065.2,274.7L1035.0,255.2L1005.0,271.3Z" fill="url(#a356)"/><path d="M974.7,286.7L1005.0,271.3L975.1,251.8L944.8,267.1Z" fill="url(#a337)"/><path d="M914.2,281.6L944.8,267.1L915.1,247.6L884.5,262.0Z" fill="url(#a318)"/><path d="M853.6,275.7L884.5,262.0L855.2,242.6L824.2,256.2Z" fill="url(#a299)"/><path d="M1187.4,316.9L1216.7,298.8L1185.6,279.0L1156.2,297.0Z" fill="url(#a393)"/><path d="M1126.6,314.3L1156.2,297.0L1125.4,277.3L1095.8,294.4Z" fill="url(#a374)"/><path d="M1065.8,310.8L1095.8,294.4L1065.2,274.7L1035.3,291.0Z" fill="url(#a355)"/><path d="M1005.0,306.5L1035.3,291.0L1005.0,271.3L974.7,286.7Z" fill="url(#a336)"/><path d="M944.1,301.4L974.7,286.7L944.8,267.1L914.2,281.6Z" fill="url(#a317)"/><path d="M883.2,295.5L914.2,281.6L884.5,262.0L853.6,275.7Z" fill="url(#a298)"/><path d="M822.3,288.7L853.6,275.7L824.2,256.2L792.9,269.0Z" fill="url(#a279)"/><path d="M1218.9,337.0L1248.2,318.7L1216.7,298.8L1187.4,316.9Z" fill="url(#a392)"/><path d="M1157.8,334.3L1187.4,316.9L1156.2,297.0L1126.6,314.3Z" fill="url(#a373)"/><path d="M1096.7,330.9L1126.6,314.3L1095.8,294.4L1065.8,310.8Z" fill="url(#a354)"/><path d="M1035.6,326.5L1065.8,310.8L1035.3,291.0L1005.0,306.5Z" fill="url(#a335)"/><path d="M974.4,321.4L1005.0,306.5L974.7,286.7L944.1,301.4Z" fill="url(#a316)"/><path d="M913.2,315.4L944.1,301.4L914.2,281.6L883.2,295.5Z" fill="url(#a297)"/><path d="M851.9,308.6L883.2,295.5L853.6,275.7L822.3,288.7Z" fill="url(#a278)"/><path d="M790.6,300.9L822.3,288.7L792.9,269.0L761.2,281.1Z" fill="url(#a259)"/><path d="M1250.7,357.3L1279.9,338.8L1248.2,318.7L1218.9,337.0Z" fill="url(#a391)"/><path d="M1189.3,354.6L1218.9,337.0L1187.4,316.9L1157.8,334.3Z" fill="url(#a372)"/><path d="M1127.9,351.1L1157.8,334.3L1126.6,314.3L1096.7,330.9Z" fill="url(#a353)"/><path d="M1066.5,346.7L1096.7,330.9L1065.8,310.8L1035.6,326.5Z" fill="url(#a334)"/><path d="M1005.0,341.5L1035.6,326.5L1005.0,306.5L974.4,321.4Z" fill="url(#a315)"/><path d="M943.5,335.5L974.4,321.4L944.1,301.4L913.2,315.4Z" fill="url(#a296)"/><path d="M881.9,328.6L913.2,315.4L883.2,295.5L851.9,308.6Z" fill="url(#a277)"/><path d="M820.3,320.9L851.9,308.6L822.3,288.7L790.6,300.9Z" fill="url(#a258)"/><path d="M758.5,312.3L790.6,300.9L761.2,281.1L729.2,292.4Z" fill="url(#a239)"/><path d="M1282.8,377.7L1312.0,359.1L1279.9,338.8L1250.7,357.3Z" fill="url(#a390)"/><path d="M1221.1,375.0L1250.7,357.3L1218.9,337.0L1189.3,354.6Z" fill="url(#a371)"/><path d="M1159.4,371.4L1189.3,354.6L1157.8,334.3L1127.9,351.1Z" fill="url(#a352)"/><path d="M1097.7,367.0L1127.9,351.1L1096.7,330.9L1066.5,346.7Z" fill="url(#a333)"/><path d="M1035.9,361.8L1066.5,346.7L1035.6,326.5L1005.0,341.5Z" fill="url(#a314)"/><path d="M974.1,355.7L1005.0,341.5L974.4,321.4L943.5,335.5Z" fill="url(#a295)"/><path d="M912.2,348.8L943.5,335.5L913.2,315.4L881.9,328.6Z" fill="url(#a276)"/><path d="M850.3,341.0L881.9,328.6L851.9,308.6L820.3,320.9Z" fill="url(#a257)"/><path d="M788.2,332.4L820.3,320.9L790.6,300.9L758.5,312.3Z" fill="url(#a238)"/><path d="M726.1,323.0L758.5,312.3L729.2,292.4L696.7,302.9Z" fill="url(#a219)"/><path d="M1315.2,398.3L1344.5,379.6L1312.0,359.1L1282.8,377.7Z" fill="url(#a389)"/><path d="M1253.2,395.6L1282.8,377.7L1250.7,357.3L1221.1,375.0Z" fill="url(#a370)"/><path d="M1191.2,392.0L1221.1,375.0L1189.3,354.6L1159.4,371.4Z" fill="url(#a351)"/><path d="M1129.2,387.6L1159.4,371.4L1127.9,351.1L1097.7,367.0Z" fill="url(#a332)"/><path d="M1067.1,382.3L1097.7,367.0L1066.5,346.7L1035.9,361.8Z" fill="url(#a313)"/><path d="M1005.0,376.2L1035.9,361.8L1005.0,341.5L974.1,355.7Z" fill="url(#a294)"/><path d="M942.8,369.2L974.1,355.7L943.5,335.5L912.2,348.8Z" fill="url(#a275)"/><path d="M880.6,361.4L912.2,348.8L881.9,328.6L850.3,341.0Z" fill="url(#a256)"/><path d="M818.2,352.7L850.3,341.0L820.3,320.9L788.2,332.4Z" fill="url(#a237)"/><path d="M755.8,343.2L788.2,332.4L758.5,312.3L726.1,323.0Z" fill="url(#a218)"/><path d="M693.3,332.8L726.1,323.0L696.7,302.9L663.9,312.6Z" fill="url(#a199)"/><path d="M1348.0,419.1L1377.2,400.2L1344.5,379.6L1315.2,398.3Z" fill="url(#a388)"/><path d="M1285.7,416.3L1315.2,398.3L1282.8,377.7L1253.2,395.6Z" fill="url(#a369)"/><path d="M1223.4,412.7L1253.2,395.6L1221.1,375.0L1191.2,392.0Z" fill="url(#a350)"/><path d="M1161.0,408.3L1191.2,392.0L1159.4,371.4L1129.2,387.6Z" fill="url(#a331)"/><path d="M1098.6,403.0L1129.2,387.6L1097.7,367.0L1067.1,382.3Z" fill="url(#a312)"/><path d="M1036.2,396.8L1067.1,382.3L1035.9,361.8L1005.0,376.2Z" fill="url(#a293)"/><path d="M973.7,389.8L1005.0,376.2L974.1,355.7L942.8,369.2Z" fill="url(#a274)"/><path d="M911.2,381.9L942.8,369.2L912.2,348.8L880.6,361.4Z" fill="url(#a255)"/><path d="M848.5,373.2L880.6,361.4L850.3,341.0L818.2,352.7Z" fill="url(#a236)"/><path d="M785.8,363.6L818.2,352.7L788.2,332.4L755.8,343.2Z" fill="url(#a217)"/><path d="M723.0,353.2L755.8,343.2L726.1,323.0L693.3,332.8Z" fill="url(#a198)"/><path d="M1381.2,440.1L1410.4,421.0L1377.2,400.2L1348.0,419.1Z" fill="url(#a387)"/><path d="M660.0,341.9L693.3,332.8L663.9,312.6L630.6,321.6Z" fill="url(#a179)"/><path d="M1318.5,437.3L1348.0,419.1L1315.2,398.3L1285.7,416.3Z" fill="url(#a368)"/><path d="M1255.9,433.7L1285.7,416.3L1253.2,395.6L1223.4,412.7Z" fill="url(#a349)"/><path d="M1193.2,429.2L1223.4,412.7L1191.2,392.0L1161.0,408.3Z" fill="url(#a330)"/><path d="M1130.5,423.8L1161.0,408.3L1129.2,387.6L1098.6,403.0Z" fill="url(#a311)"/><path d="M1067.8,417.6L1098.6,403.0L1067.1,382.3L1036.2,396.8Z" fill="url(#a292)"/><path d="M1005.0,410.6L1036.2,396.8L1005.0,376.2L973.7,389.8Z" fill="url(#a273)"/><path d="M942.1,402.6L973.7,389.8L942.8,369.2L911.2,381.9Z" fill="url(#a254)"/><path d="M879.2,393.9L911.2,381.9L880.6,361.4L848.5,373.2Z" fill="url(#a235)"/><path d="M816.1,384.2L848.5,373.2L818.2,352.7L785.8,363.6Z" fill="url(#a216)"/><path d="M753.0,373.7L785.8,363.6L755.8,343.2L723.0,353.2Z" fill="url(#a197)"/><path d="M1414.7,461.3L1443.8,442.1L1410.4,421.0L1381.2,440.1Z" fill="url(#a386)"/><path d="M689.7,362.4L723.0,353.2L693.3,332.8L660.0,341.9Z" fill="url(#a178)"/><path d="M1351.7,458.4L1381.2,440.1L1348.0,419.1L1318.5,437.3Z" fill="url(#a367)"/><path d="M1288.7,454.8L1318.5,437.3L1285.7,416.3L1255.9,433.7Z" fill="url(#a348)"/><path d="M1225.7,450.2L1255.9,433.7L1223.4,412.7L1193.2,429.2Z" fill="url(#a329)"/><path d="M626.3,350.1L660.0,341.9L630.6,321.6L596.9,329.7Z" fill="url(#a159)"/><path d="M1162.7,444.9L1193.2,429.2L1161.0,408.3L1130.5,423.8Z" fill="url(#a310)"/><path d="M1099.7,438.6L1130.5,423.8L1098.6,403.0L1067.8,417.6Z" fill="url(#a291)"/><path d="M1036.6,431.5L1067.8,417.6L1036.2,396.8L1005.0,410.6Z" fill="url(#a272)"/><path d="M973.4,423.6L1005.0,410.6L973.7,389.8L942.1,402.6Z" fill="url(#a253)"/><path d="M910.1,414.7L942.1,402.6L911.2,381.9L879.2,393.9Z" fill="url(#a234)"/><path d="M846.8,405.0L879.2,393.9L848.5,373.2L816.1,384.2Z" fill="url(#a215)"/><path d="M783.3,394.5L816.1,384.2L785.8,363.6L753.0,373.7Z" fill="url(#a196)"/><path d="M1448.5,482.6L1477.6,463.3L1443.8,442.1L1414.7,461.3Z" fill="url(#a385)"/><path d="M719.7,383.0L753.0,373.7L723.0,353.2L689.7,362.4Z" fill="url(#a177)"/><path d="M1385.2,479.8L1414.7,461.3L1381.2,440.1L1351.7,458.4Z" fill="url(#a366)"/><path d="M1321.9,476.1L1351.7,458.4L1318.5,437.3L1288.7,454.8Z" fill="url(#a347)"/><path d="M1258.6,471.5L1288.7,454.8L1255.9,433.7L1225.7,450.2Z" fill="url(#a328)"/><path d="M656.0,370.7L689.7,362.4L660.0,341.9L626.3,350.1Z" fill="url(#a158)"/><path d="M1195.3,466.1L1225.7,450.2L1193.2,429.2L1162.7,444.9Z" fill="url(#a309)"/><path d="M1131.9,459.8L1162.7,444.9L1130.5,423.8L1099.7,438.6Z" fill="url(#a290)"/><path d="M592.2,357.5L626.3,350.1L596.9,329.7L562.8,337.0Z" fill="url(#a139)"/><path d="M1068.5,452.7L1099.7,438.6L1067.8,417.6L1036.6,431.5Z" fill="url(#a271)"/><path d="M1005.0,444.6L1036.6,431.5L1005.0,410.6L973.4,423.6Z" fill="url(#a252)"/><path d="M941.4,435.8L973.4,423.6L942.1,402.6L910.1,414.7Z" fill="url(#a233)"/><path d="M877.7,426.0L910.1,414.7L879.2,393.9L846.8,405.0Z" fill="url(#a214)"/><path d="M814.0,415.4L846.8,405.0L816.1,384.2L783.3,394.5Z" fill="url(#a195)"/><path d="M1482.7,504.2L1511.8,484.7L1477.6,463.3L1448.5,482.6Z" fill="url(#a384)"/><path d="M750.1,403.9L783.3,394.5L753.0,373.7L719.7,383.0Z" fill="url(#a176)"/><path d="M1419.1,501.3L1448.5,482.6L1414.7,461.3L1385.2,479.8Z" fill="url(#a365)"/><path d="M1355.5,497.6L1385.2,479.8L1351.7,458.4L1321.9,476.1Z" fill="url(#a346)"/><path d="M1291.8,493.0L1321.9,476.1L1288.7,454.8L1258.6,471.5Z" fill="url(#a327)"/><path d="M686.1,391.5L719.7,383.0L689.7,362.4L656.0,370.7Z" fill="url(#a157)"/><path d="M1228.2,487.5L1258.6,471.5L1225.7,450.2L1195.3,466.1Z" fill="url(#a308)"/><path d="M1164.5,481.2L1195.3,466.1L1162.7,444.9L1131.9,459.8Z" fill="url(#a289)"/><path d="M621.9,378.3L656.0,370.7L626.3,350.1L592.2,357.5Z" fill="url(#a138)"/><path d="M1100.7,474.0L1131.9,459.8L1099.7,438.6L1068.5,452.7Z" fill="url(#a270)"/><path d="M1036.9,465.9L1068.5,452.7L1036.6,431.5L1005.0,444.6Z" fill="url(#a251)"/><path d="M557.6,364.1L592.2,357.5L562.8,337.0L528.2,343.4Z" fill="url(#a119)"/><path d="M973.0,457.0L1005.0,444.6L973.4,423.6L941.4,435.8Z" fill="url(#a232)"/><path d="M909.0,447.2L941.4,435.8L910.1,414.7L877.7,426.0Z" fill="url(#a213)"/><path d="M844.9,436.5L877.7,426.0L846.8,405.0L814.0,415.4Z" fill="url(#a194)"/><path d="M1517.3,526.0L1546.3,506.3L1511.8,484.7L1482.7,504.2Z" fill="url(#a383)"/><path d="M780.7,425.0L814.0,415.4L783.3,394.5L750.1,403.9Z" fill="url(#a175)"/><path d="M1453.3,523.1L1482.7,504.2L1448.5,482.6L1419.1,501.3Z" fill="url(#a364)"/><path d="M1389.4,519.3L1419.1,501.3L1385.2,479.8L1355.5,497.6Z" fill="url(#a345)"/><path d="M1325.4,514.6L1355.5,497.6L1321.9,476.1L1291.8,493.0Z" fill="url(#a326)"/><path d="M716.4,412.5L750.1,403.9L719.7,383.0L686.1,391.5Z" fill="url(#a156)"/><path d="M1261.4,509.1L1291.8,493.0L1258.6,471.5L1228.2,487.5Z" fill="url(#a307)"/><path d="M1197.4,502.8L1228.2,487.5L1195.3,466.1L1164.5,481.2Z" fill="url(#a288)"/><path d="M651.9,399.2L686.1,391.5L656.0,370.7L621.9,378.3Z" fill="url(#a137)"/><path d="M1133.3,495.5L1164.5,481.2L1131.9,459.8L1100.7,474.0Z" fill="url(#a269)"/><path d="M1069.2,487.4L1100.7,474.0L1068.5,452.7L1036.9,465.9Z" fill="url(#a250)"/><path d="M587.3,385.0L621.9,378.3L592.2,357.5L557.6,364.1Z" fill="url(#a118)"/><path d="M1005.0,478.4L1036.9,465.9L1005.0,444.6L973.0,457.0Z" fill="url(#a231)"/><path d="M940.6,468.6L973.0,457.0L941.4,435.8L909.0,447.2Z" fill="url(#a212)"/><path d="M522.5,369.8L557.6,364.1L528.2,343.4L493.1,349.0Z" fill="url(#a99)"/><path d="M876.2,457.9L909.0,447.2L877.7,426.0L844.9,436.5Z" fill="url(#a193)"/><path d="M1552.2,548.0L1581.3,528.0L1546.3,506.3L1517.3,526.0Z" fill="url(#a382)"/><path d="M811.7,446.2L844.9,436.5L814.0,415.4L780.7,425.0Z" fill="url(#a174)"/><path d="M1488.0,545.0L1517.3,526.0L1482.7,504.2L1453.3,523.1Z" fill="url(#a363)"/><path d="M1423.7,541.2L1453.3,523.1L1419.1,501.3L1389.4,519.3Z" fill="url(#a344)"/><path d="M1359.4,536.5L1389.4,519.3L1355.5,497.6L1325.4,514.6Z" fill="url(#a325)"/><path d="M747.1,433.7L780.7,425.0L750.1,403.9L716.4,412.5Z" fill="url(#a155)"/><path d="M1295.0,531.0L1325.4,514.6L1291.8,493.0L1261.4,509.1Z" fill="url(#a306)"/><path d="M1230.7,524.6L1261.4,509.1L1228.2,487.5L1197.4,502.8Z" fill="url(#a287)"/><path d="M682.3,420.3L716.4,412.5L686.1,391.5L651.9,399.2Z" fill="url(#a136)"/><path d="M1166.3,517.3L1197.4,502.8L1164.5,481.2L1133.3,495.5Z" fill="url(#a268)"/><path d="M1101.8,509.1L1133.3,495.5L1100.7,474.0L1069.2,487.4Z" fill="url(#a249)"/><path d="M617.3,406.0L651.9,399.2L621.9,378.3L587.3,385.0Z" fill="url(#a117)"/><path d="M1037.3,500.1L1069.2,487.4L1036.9,465.9L1005.0,478.4Z" fill="url(#a230)"/><path d="M972.6,490.2L1005.0,478.4L973.0,457.0L940.6,468.6Z" fill="url(#a211)"/><path d="M552.2,390.8L587.3,385.0L557.6,364.1L522.5,369.8Z" fill="url(#a98)"/><path d="M907.9,479.4L940.6,468.6L909.0,447.2L876.2,457.9Z" fill="url(#a192)"/><path d="M486.9,374.7L522.5,369.8L493.1,349.0L457.5,353.8Z" fill="url(#a79)"/><path d="M1587.6,570.1L1616.5,550.0L1581.3,528.0L1552.2,548.0Z" fill="url(#a381)"/><path d="M843.0,467.7L876.2,457.9L844.9,436.5L811.7,446.2Z" fill="url(#a173)"/><path d="M1522.9,567.2L1552.2,548.0L1517.3,526.0L1488.0,545.0Z" fill="url(#a362)"/><path d="M1458.3,563.3L1488.0,545.0L1453.3,523.1L1423.7,541.2Z" fill="url(#a343)"/><path d="M1393.7,558.6L1423.7,541.2L1389.4,519.3L1359.4,536.5Z" fill="url(#a324)"/><path d="M778.1,455.1L811.7,446.2L780.7,425.0L747.1,433.7Z" fill="url(#a154)"/><path d="M1329.0,553.0L1359.4,536.5L1325.4,514.6L1295.0,531.0Z" fill="url(#a305)"/><path d="M1264.3,546.6L1295.0,531.0L1261.4,509.1L1230.7,524.6Z" fill="url(#a286)"/><path d="M713.0,441.6L747.1,433.7L716.4,412.5L682.3,420.3Z" fill="url(#a135)"/><path d="M1199.6,539.2L1230.7,524.6L1197.4,502.8L1166.3,517.3Z" fill="url(#a267)"/><path d="M1134.8,531.0L1166.3,517.3L1133.3,495.5L1101.8,509.1Z" fill="url(#a248)"/><path d="M647.7,427.2L682.3,420.3L651.9,399.2L617.3,406.0Z" fill="url(#a116)"/><path d="M1069.9,521.9L1101.8,509.1L1069.2,487.4L1037.3,500.1Z" fill="url(#a229)"/><path d="M1004.9,512.0L1037.3,500.1L1005.0,478.4L972.6,490.2Z" fill="url(#a210)"/><path d="M582.3,411.9L617.3,406.0L587.3,385.0L552.2,390.8Z" fill="url(#a97)"/><path d="M939.9,501.1L972.6,490.2L940.6,468.6L907.9,479.4Z" fill="url(#a191)"/><path d="M516.7,395.7L552.2,390.8L522.5,369.8L486.9,374.7Z" fill="url(#a78)"/><path d="M1623.3,592.5L1652.2,572.3L1616.5,550.0L1587.6,570.1Z" fill="url(#a380)"/><path d="M874.7,489.3L907.9,479.4L876.2,457.9L843.0,467.7Z" fill="url(#a172)"/><path d="M1558.3,589.5L1587.6,570.1L1552.2,548.0L1522.9,567.2Z" fill="url(#a361)"/><path d="M1493.3,585.6L1522.9,567.2L1488.0,545.0L1458.3,563.3Z" fill="url(#a342)"/><path d="M1428.4,580.9L1458.3,563.3L1423.7,541.2L1393.7,558.6Z" fill="url(#a323)"/><path d="M809.4,476.7L843.0,467.7L811.7,446.2L778.1,455.1Z" fill="url(#a153)"/><path d="M450.9,378.6L486.9,374.7L457.5,353.8L421.5,357.6Z" fill="url(#a59)"/><path d="M1363.4,575.3L1393.7,558.6L1359.4,536.5L1329.0,553.0Z" fill="url(#a304)"/><path d="M1298.3,568.8L1329.0,553.0L1295.0,531.0L1264.3,546.6Z" fill="url(#a285)"/><path d="M744.0,463.1L778.1,455.1L747.1,433.7L713.0,441.6Z" fill="url(#a134)"/><path d="M1233.3,561.4L1264.3,546.6L1230.7,524.6L1199.6,539.2Z" fill="url(#a266)"/><path d="M1168.1,553.1L1199.6,539.2L1166.3,517.3L1134.8,531.0Z" fill="url(#a247)"/><path d="M678.4,448.7L713.0,441.6L682.3,420.3L647.7,427.2Z" fill="url(#a115)"/><path d="M1102.9,544.0L1134.8,531.0L1101.8,509.1L1069.9,521.9Z" fill="url(#a228)"/><path d="M1037.6,533.9L1069.9,521.9L1037.3,500.1L1004.9,512.0Z" fill="url(#a209)"/><path d="M612.6,433.3L647.7,427.2L617.3,406.0L582.3,411.9Z" fill="url(#a96)"/><path d="M972.2,523.0L1004.9,512.0L972.6,490.2L939.9,501.1Z" fill="url(#a190)"/><path d="M546.7,417.0L582.3,411.9L552.2,390.8L516.7,395.7Z" fill="url(#a77)"/><path d="M906.7,511.2L939.9,501.1L907.9,479.4L874.7,489.3Z" fill="url(#a171)"/><path d="M1594.1,612.1L1623.3,592.5L1587.6,570.1L1558.3,589.5Z" fill="url(#a360)"/><path d="M1528.8,608.2L1558.3,589.5L1522.9,567.2L1493.3,585.6Z" fill="url(#a341)"/><path d="M1463.4,603.4L1493.3,585.6L1458.3,563.3L1428.4,580.9Z" fill="url(#a322)"/><path d="M841.1,498.5L874.7,489.3L843.0,467.7L809.4,476.7Z" fill="url(#a152)"/><path d="M480.6,399.8L516.7,395.7L486.9,374.7L450.9,378.6Z" fill="url(#a58)"/><path d="M1398.1,597.7L1428.4,580.9L1393.7,558.6L1363.4,575.3Z" fill="url(#a303)"/><path d="M1332.7,591.2L1363.4,575.3L1329.0,553.0L1298.3,568.8Z" fill="url(#a284)"/><path d="M775.3,484.9L809.4,476.7L778.1,455.1L744.0,463.1Z" fill="url(#a133)"/><path d="M1267.3,583.7L1298.3,568.8L1264.3,546.6L1233.3,561.4Z" fill="url(#a265)"/><path d="M414.2,381.7L450.9,378.6L421.5,357.6L384.8,360.5Z" fill="url(#a39)"/><path d="M1201.8,575.4L1233.3,561.4L1199.6,539.2L1168.1,553.1Z" fill="url(#a246)"/><path d="M709.4,470.3L744.0,463.1L713.0,441.6L678.4,448.7Z" fill="url(#a114)"/><path d="M1136.3,566.2L1168.1,553.1L1134.8,531.0L1102.9,544.0Z" fill="url(#a227)"/><path d="M1070.7,556.1L1102.9,544.0L1069.9,521.9L1037.6,533.9Z" fill="url(#a208)"/><path d="M643.3,454.9L678.4,448.7L647.7,427.2L612.6,433.3Z" fill="url(#a95)"/><path d="M1004.9,545.2L1037.6,533.9L1004.9,512.0L972.2,523.0Z" fill="url(#a189)"/><path d="M577.1,438.5L612.6,433.3L582.3,411.9L546.7,417.0Z" fill="url(#a76)"/><path d="M939.1,533.3L972.2,523.0L939.9,501.1L906.7,511.2Z" fill="url(#a170)"/><path d="M1564.6,630.9L1594.1,612.1L1558.3,589.5L1528.8,608.2Z" fill="url(#a340)"/><path d="M1498.9,626.1L1528.8,608.2L1493.3,585.6L1463.4,603.4Z" fill="url(#a321)"/><path d="M873.1,520.5L906.7,511.2L874.7,489.3L841.1,498.5Z" fill="url(#a151)"/><path d="M510.6,421.2L546.7,417.0L516.7,395.7L480.6,399.8Z" fill="url(#a57)"/><path d="M1433.2,620.4L1463.4,603.4L1428.4,580.9L1398.1,597.7Z" fill="url(#a302)"/><path d="M1367.5,613.8L1398.1,597.7L1363.4,575.3L1332.7,591.2Z" fill="url(#a283)"/><path d="M807.0,506.8L841.1,498.5L809.4,476.7L775.3,484.9Z" fill="url(#a132)"/><path d="M1301.7,606.3L1332.7,591.2L1298.3,568.8L1267.3,583.7Z" fill="url(#a264)"/><path d="M444.0,403.0L480.6,399.8L450.9,378.6L414.2,381.7Z" fill="url(#a38)"/><path d="M1235.9,598.0L1267.3,583.7L1233.3,561.4L1201.8,575.4Z" fill="url(#a245)"/><path d="M740.8,492.2L775.3,484.9L744.0,463.1L709.4,470.3Z" fill="url(#a113)"/><path d="M1170.0,588.7L1201.8,575.4L1168.1,553.1L1136.3,566.2Z" fill="url(#a226)"/><path d="M377.1,383.8L414.2,381.7L384.8,360.5L347.7,362.6Z" fill="url(#a19)"/><path d="M1104.1,578.6L1136.3,566.2L1102.9,544.0L1070.7,556.1Z" fill="url(#a207)"/><path d="M674.4,476.7L709.4,470.3L678.4,448.7L643.3,454.9Z" fill="url(#a94)"/><path d="M1038.0,567.5L1070.7,556.1L1037.6,533.9L1004.9,545.2Z" fill="url(#a188)"/><path d="M607.8,460.2L643.3,454.9L612.6,433.3L577.1,438.5Z" fill="url(#a75)"/><path d="M971.8,555.6L1004.9,545.2L972.2,523.0L939.1,533.3Z" fill="url(#a169)"/><path d="M1534.7,649.0L1564.6,630.9L1528.8,608.2L1498.9,626.1Z" fill="url(#a320)"/><path d="M905.5,542.7L939.1,533.3L906.7,511.2L873.1,520.5Z" fill="url(#a150)"/><path d="M541.0,442.8L577.1,438.5L546.7,417.0L510.6,421.2Z" fill="url(#a56)"/><path d="M1468.7,643.3L1498.9,626.1L1463.4,603.4L1433.2,620.4Z" fill="url(#a301)"/><path d="M1402.7,636.7L1433.2,620.4L1398.1,597.7L1367.5,613.8Z" fill="url(#a282)"/><path d="M839.1,528.9L873.1,520.5L841.1,498.5L807.0,506.8Z" fill="url(#a131)"/><path d="M1336.6,629.1L1367.5,613.8L1332.7,591.2L1301.7,606.3Z" fill="url(#a263)"/><path d="M474.0,424.5L510.6,421.2L480.6,399.8L444.0,403.0Z" fill="url(#a37)"/><path d="M1270.4,620.7L1301.7,606.3L1267.3,583.7L1235.9,598.0Z" fill="url(#a244)"/><path d="M772.5,514.3L807.0,506.8L775.3,484.9L740.8,492.2Z" fill="url(#a112)"/><path d="M1204.2,611.4L1235.9,598.0L1201.8,575.4L1170.0,588.7Z" fill="url(#a225)"/><path d="M406.8,405.2L444.0,403.0L414.2,381.7L377.1,383.8Z" fill="url(#a18)"/><path d="M1137.9,601.2L1170.0,588.7L1136.3,566.2L1104.1,578.6Z" fill="url(#a206)"/><path d="M705.8,498.6L740.8,492.2L709.4,470.3L674.4,476.7Z" fill="url(#a93)"/><path d="M1071.4,590.1L1104.1,578.6L1070.7,556.1L1038.0,567.5Z" fill="url(#a187)"/><path d="M638.8,482.1L674.4,476.7L643.3,454.9L607.8,460.2Z" fill="url(#a74)"/><path d="M1004.9,578.1L1038.0,567.5L1004.9,545.2L971.8,555.6Z" fill="url(#a168)"/><path d="M938.3,565.2L971.8,555.6L939.1,533.3L905.5,542.7Z" fill="url(#a149)"/><path d="M571.7,464.6L607.8,460.2L577.1,438.5L541.0,442.8Z" fill="url(#a55)"/><path d="M1504.6,666.4L1534.7,649.0L1498.9,626.1L1468.7,643.3Z" fill="url(#a300)"/><path d="M1438.2,659.7L1468.7,643.3L1433.2,620.4L1402.7,636.7Z" fill="url(#a281)"/><path d="M871.5,551.3L905.5,542.7L873.1,520.5L839.1,528.9Z" fill="url(#a130)"/><path d="M1371.8,652.2L1402.7,636.7L1367.5,613.8L1336.6,629.1Z" fill="url(#a262)"/><path d="M504.4,446.2L541.0,442.8L510.6,421.2L474.0,424.5Z" fill="url(#a36)"/><path d="M1305.2,643.7L1336.6,629.1L1301.7,606.3L1270.4,620.7Z" fill="url(#a243)"/><path d="M804.6,536.5L839.1,528.9L807.0,506.8L772.5,514.3Z" fill="url(#a111)"/><path d="M1238.7,634.3L1270.4,620.7L1235.9,598.0L1204.2,611.4Z" fill="url(#a224)"/><path d="M436.8,426.8L474.0,424.5L444.0,403.0L406.8,405.2Z" fill="url(#a17)"/><path d="M1172.0,624.1L1204.2,611.4L1170.0,588.7L1137.9,601.2Z" fill="url(#a205)"/><path d="M737.5,520.8L772.5,514.3L740.8,492.2L705.8,498.6Z" fill="url(#a92)"/><path d="M1105.3,612.9L1137.9,601.2L1104.1,578.6L1071.4,590.1Z" fill="url(#a186)"/><path d="M670.2,504.2L705.8,498.6L674.4,476.7L638.8,482.1Z" fill="url(#a73)"/><path d="M1038.4,600.8L1071.4,590.1L1038.0,567.5L1004.9,578.1Z" fill="url(#a167)"/><path d="M971.4,587.8L1004.9,578.1L971.8,555.6L938.3,565.2Z" fill="url(#a148)"/><path d="M602.8,486.6L638.8,482.1L607.8,460.2L571.7,464.6Z" fill="url(#a54)"/><path d="M1474.2,683.0L1504.6,666.4L1468.7,643.3L1438.2,659.7Z" fill="url(#a280)"/><path d="M904.3,573.9L938.3,565.2L905.5,542.7L871.5,551.3Z" fill="url(#a129)"/><path d="M1407.4,675.4L1438.2,659.7L1402.7,636.7L1371.8,652.2Z" fill="url(#a261)"/><path d="M535.1,468.1L571.7,464.6L541.0,442.8L504.4,446.2Z" fill="url(#a35)"/><path d="M1340.5,666.9L1371.8,652.2L1336.6,629.1L1305.2,643.7Z" fill="url(#a242)"/><path d="M837.0,559.0L871.5,551.3L839.1,528.9L804.6,536.5Z" fill="url(#a110)"/><path d="M1273.6,657.5L1305.2,643.7L1270.4,620.7L1238.7,634.3Z" fill="url(#a223)"/><path d="M467.2,448.6L504.4,446.2L474.0,424.5L436.8,426.8Z" fill="url(#a16)"/><path d="M1206.6,647.1L1238.7,634.3L1204.2,611.4L1172.0,624.1Z" fill="url(#a204)"/><path d="M769.6,543.3L804.6,536.5L772.5,514.3L737.5,520.8Z" fill="url(#a91)"/><path d="M1139.5,635.9L1172.0,624.1L1137.9,601.2L1105.3,612.9Z" fill="url(#a185)"/><path d="M702.0,526.6L737.5,520.8L705.8,498.6L670.2,504.2Z" fill="url(#a72)"/><path d="M1072.3,623.8L1105.3,612.9L1071.4,590.1L1038.4,600.8Z" fill="url(#a166)"/><path d="M1004.9,610.7L1038.4,600.8L1004.9,578.1L971.4,587.8Z" fill="url(#a147)"/><path d="M634.2,508.9L670.2,504.2L638.8,482.1L602.8,486.6Z" fill="url(#a53)"/><path d="M937.5,596.7L971.4,587.8L938.3,565.2L904.3,573.9Z" fill="url(#a128)"/><path d="M1443.4,698.9L1474.2,683.0L1438.2,659.7L1407.4,675.4Z" fill="url(#a260)"/><path d="M566.2,490.3L602.8,486.6L571.7,464.6L535.1,468.1Z" fill="url(#a34)"/><path d="M1376.1,690.3L1407.4,675.4L1371.8,652.2L1340.5,666.9Z" fill="url(#a241)"/><path d="M869.9,581.8L904.3,573.9L871.5,551.3L837.0,559.0Z" fill="url(#a109)"/><path d="M1308.9,680.8L1340.5,666.9L1305.2,643.7L1273.6,657.5Z" fill="url(#a222)"/><path d="M498.0,470.7L535.1,468.1L504.4,446.2L467.2,448.6Z" fill="url(#a15)"/><path d="M1241.5,670.5L1273.6,657.5L1238.7,634.3L1206.6,647.1Z" fill="url(#a203)"/><path d="M802.1,565.9L837.0,559.0L804.6,536.5L769.6,543.3Z" fill="url(#a90)"/><path d="M1174.1,659.2L1206.6,647.1L1172.0,624.1L1139.5,635.9Z" fill="url(#a184)"/><path d="M734.1,549.1L769.6,543.3L737.5,520.8L702.0,526.6Z" fill="url(#a71)"/><path d="M1106.5,646.9L1139.5,635.9L1105.3,612.9L1072.3,623.8Z" fill="url(#a165)"/><path d="M1038.8,633.8L1072.3,623.8L1038.4,600.8L1004.9,610.7Z" fill="url(#a146)"/><path d="M666.0,531.4L702.0,526.6L670.2,504.2L634.2,508.9Z" fill="url(#a52)"/><path d="M971.0,619.7L1004.9,610.7L971.4,587.8L937.5,596.7Z" fill="url(#a127)"/><path d="M597.6,512.6L634.2,508.9L602.8,486.6L566.2,490.3Z" fill="url(#a33)"/><path d="M1412.2,714.0L1443.4,698.9L1407.4,675.4L1376.1,690.3Z" fill="url(#a240)"/><path d="M903.0,604.7L937.5,596.7L904.3,573.9L869.9,581.8Z" fill="url(#a108)"/><path d="M1344.6,704.5L1376.1,690.3L1340.5,666.9L1308.9,680.8Z" fill="url(#a221)"/><path d="M529.0,493.0L566.2,490.3L535.1,468.1L498.0,470.7Z" fill="url(#a14)"/><path d="M1276.8,694.0L1308.9,680.8L1273.6,657.5L1241.5,670.5Z" fill="url(#a202)"/><path d="M834.9,588.8L869.9,581.8L837.0,559.0L802.1,565.9Z" fill="url(#a89)"/><path d="M1209.0,682.6L1241.5,670.5L1206.6,647.1L1174.1,659.2Z" fill="url(#a183)"/><path d="M766.6,571.9L802.1,565.9L769.6,543.3L734.1,549.1Z" fill="url(#a70)"/><path d="M1141.1,670.4L1174.1,659.2L1139.5,635.9L1106.5,646.9Z" fill="url(#a164)"/><path d="M1073.1,657.1L1106.5,646.9L1072.3,623.8L1038.8,633.8Z" fill="url(#a145)"/><path d="M698.1,554.0L734.1,549.1L702.0,526.6L666.0,531.4Z" fill="url(#a51)"/><path d="M1004.9,643.0L1038.8,633.8L1004.9,610.7L971.0,619.7Z" fill="url(#a126)"/><path d="M629.4,535.2L666.0,531.4L634.2,508.9L597.6,512.6Z" fill="url(#a32)"/><path d="M936.6,627.9L971.0,619.7L937.5,596.7L903.0,604.7Z" fill="url(#a107)"/><path d="M1380.7,728.3L1412.2,714.0L1376.1,690.3L1344.6,704.5Z" fill="url(#a220)"/><path d="M560.5,515.5L597.6,512.6L566.2,490.3L529.0,493.0Z" fill="url(#a13)"/><path d="M1312.6,717.8L1344.6,704.5L1308.9,680.8L1276.8,694.0Z" fill="url(#a201)"/><path d="M868.1,611.9L903.0,604.7L869.9,581.8L834.9,588.8Z" fill="url(#a88)"/><path d="M1244.4,706.4L1276.8,694.0L1241.5,670.5L1209.0,682.6Z" fill="url(#a182)"/><path d="M799.5,594.9L834.9,588.8L802.1,565.9L766.6,571.9Z" fill="url(#a69)"/><path d="M1176.2,694.0L1209.0,682.6L1174.1,659.2L1141.1,670.4Z" fill="url(#a163)"/><path d="M1107.8,680.7L1141.1,670.4L1106.5,646.9L1073.1,657.1Z" fill="url(#a144)"/><path d="M730.6,577.0L766.6,571.9L734.1,549.1L698.1,554.0Z" fill="url(#a50)"/><path d="M1039.2,666.5L1073.1,657.1L1038.8,633.8L1004.9,643.0Z" fill="url(#a125)"/><path d="M661.6,558.1L698.1,554.0L666.0,531.4L629.4,535.2Z" fill="url(#a31)"/><path d="M970.6,651.3L1004.9,643.0L971.0,619.7L936.6,627.9Z" fill="url(#a106)"/><path d="M592.3,538.2L629.4,535.2L597.6,512.6L560.5,515.5Z" fill="url(#a12)"/><path d="M1348.8,741.8L1380.7,728.3L1344.6,704.5L1312.6,717.8Z" fill="url(#a200)"/><path d="M901.7,635.2L936.6,627.9L903.0,604.7L868.1,611.9Z" fill="url(#a87)"/><path d="M1280.2,730.3L1312.6,717.8L1276.8,694.0L1244.4,706.4Z" fill="url(#a181)"/><path d="M832.7,618.2L868.1,611.9L834.9,588.8L799.5,594.9Z" fill="url(#a68)"/><path d="M1211.6,717.9L1244.4,706.4L1209.0,682.6L1176.2,694.0Z" fill="url(#a162)"/><path d="M1142.8,704.5L1176.2,694.0L1141.1,670.4L1107.8,680.7Z" fill="url(#a143)"/><path d="M763.5,600.1L799.5,594.9L766.6,571.9L730.6,577.0Z" fill="url(#a49)"/><path d="M1074.0,690.2L1107.8,680.7L1073.1,657.1L1039.2,666.5Z" fill="url(#a124)"/><path d="M694.1,581.1L730.6,577.0L698.1,554.0L661.6,558.1Z" fill="url(#a30)"/><path d="M1004.9,675.0L1039.2,666.5L1004.9,643.0L970.6,651.3Z" fill="url(#a105)"/><path d="M624.5,561.1L661.6,558.1L629.4,535.2L592.3,538.2Z" fill="url(#a11)"/><path d="M935.7,658.8L970.6,651.3L936.6,627.9L901.7,635.2Z" fill="url(#a86)"/><path d="M1316.4,754.5L1348.8,741.8L1312.6,717.8L1280.2,730.3Z" fill="url(#a180)"/><path d="M866.4,641.6L901.7,635.2L868.1,611.9L832.7,618.2Z" fill="url(#a67)"/><path d="M1247.4,742.1L1280.2,730.3L1244.4,706.4L1211.6,717.9Z" fill="url(#a161)"/><path d="M1178.3,728.6L1211.6,717.9L1176.2,694.0L1142.8,704.5Z" fill="url(#a142)"/><path d="M796.8,623.5L832.7,618.2L799.5,594.9L763.5,600.1Z" fill="url(#a48)"/><path d="M1109.1,714.2L1142.8,704.5L1107.8,680.7L1074.0,690.2Z" fill="url(#a123)"/><path d="M727.0,604.4L763.5,600.1L730.6,577.0L694.1,581.1Z" fill="url(#a29)"/><path d="M1039.7,698.9L1074.0,690.2L1039.2,666.5L1004.9,675.0Z" fill="url(#a104)"/><path d="M657.0,584.3L694.1,581.1L661.6,558.1L624.5,561.1Z" fill="url(#a10)"/><path d="M970.1,682.6L1004.9,675.0L970.6,651.3L935.7,658.8Z" fill="url(#a85)"/><path d="M900.4,665.4L935.7,658.8L901.7,635.2L866.4,641.6Z" fill="url(#a66)"/><path d="M1283.7,766.4L1316.4,754.5L1280.2,730.3L1247.4,742.1Z" fill="url(#a160)"/><path d="M1214.2,752.9L1247.4,742.1L1211.6,717.9L1178.3,728.6Z" fill="url(#a141)"/><path d="M830.5,647.2L866.4,641.6L832.7,618.2L796.8,623.5Z" fill="url(#a47)"/><path d="M1144.6,738.5L1178.3,728.6L1142.8,704.5L1109.1,714.2Z" fill="url(#a122)"/><path d="M760.3,628.0L796.8,623.5L763.5,600.1L727.0,604.4Z" fill="url(#a28)"/><path d="M1074.8,723.1L1109.1,714.2L1074.0,690.2L1039.7,698.9Z" fill="url(#a103)"/><path d="M690.0,607.8L727.0,604.4L694.1,581.1L657.0,584.3Z" fill="url(#a9)"/><path d="M1004.9,706.7L1039.7,698.9L1004.9,675.0L970.1,682.6Z" fill="url(#a84)"/><path d="M934.8,689.4L970.1,682.6L935.7,658.8L900.4,665.4Z" fill="url(#a65)"/><path d="M1250.6,777.5L1283.7,766.4L1247.4,742.1L1214.2,752.9Z" fill="url(#a140)"/><path d="M864.5,671.0L900.4,665.4L866.4,641.6L830.5,647.2Z" fill="url(#a46)"/><path d="M1180.6,763.0L1214.2,752.9L1178.3,728.6L1144.6,738.5Z" fill="url(#a121)"/><path d="M794.0,651.7L830.5,647.2L796.8,623.5L760.3,628.0Z" fill="url(#a27)"/><path d="M1110.4,747.5L1144.6,738.5L1109.1,714.2L1074.8,723.1Z" fill="url(#a102)"/><path d="M723.3,631.4L760.3,628.0L727.0,604.4L690.0,607.8Z" fill="url(#a8)"/><path d="M1040.1,731.0L1074.8,723.1L1039.7,698.9L1004.9,706.7Z" fill="url(#a83)"/><path d="M969.7,713.6L1004.9,706.7L970.1,682.6L934.8,689.4Z" fill="url(#a64)"/><path d="M899.0,695.2L934.8,689.4L900.4,665.4L864.5,671.0Z" fill="url(#a45)"/><path d="M1217.0,787.7L1250.6,777.5L1214.2,752.9L1180.6,763.0Z" fill="url(#a120)"/><path d="M828.1,675.8L864.5,671.0L830.5,647.2L794.0,651.7Z" fill="url(#a26)"/><path d="M1146.4,772.1L1180.6,763.0L1144.6,738.5L1110.4,747.5Z" fill="url(#a101)"/><path d="M757.0,655.4L794.0,651.7L760.3,628.0L723.3,631.4Z" fill="url(#a7)"/><path d="M1075.8,755.6L1110.4,747.5L1074.8,723.1L1040.1,731.0Z" fill="url(#a82)"/><path d="M1004.9,738.1L1040.1,731.0L1004.9,706.7L969.7,713.6Z" fill="url(#a63)"/><path d="M933.9,719.6L969.7,713.6L934.8,689.4L899.0,695.2Z" fill="url(#a44)"/><path d="M862.6,700.1L899.0,695.2L864.5,671.0L828.1,675.8Z" fill="url(#a25)"/><path d="M1182.9,797.1L1217.0,787.7L1180.6,763.0L1146.4,772.1Z" fill="url(#a100)"/><path d="M791.1,679.6L828.1,675.8L794.0,651.7L757.0,655.4Z" fill="url(#a6)"/><path d="M1111.8,780.4L1146.4,772.1L1110.4,747.5L1075.8,755.6Z" fill="url(#a81)"/><path d="M1040.6,762.8L1075.8,755.6L1040.1,731.0L1004.9,738.1Z" fill="url(#a62)"/><path d="M969.2,744.2L1004.9,738.1L969.7,713.6L933.9,719.6Z" fill="url(#a43)"/><path d="M897.5,724.6L933.9,719.6L899.0,695.2L862.6,700.1Z" fill="url(#a24)"/><path d="M825.7,704.0L862.6,700.1L828.1,675.8L791.1,679.6Z" fill="url(#a5)"/><path d="M1148.3,805.5L1182.9,797.1L1146.4,772.1L1111.8,780.4Z" fill="url(#a80)"/><path d="M1076.7,787.8L1111.8,780.4L1075.8,755.6L1040.6,762.8Z" fill="url(#a61)"/><path d="M1004.9,769.1L1040.6,762.8L1004.9,738.1L969.2,744.2Z" fill="url(#a42)"/><path d="M932.9,749.4L969.2,744.2L933.9,719.6L897.5,724.6Z" fill="url(#a23)"/><path d="M860.7,728.7L897.5,724.6L862.6,700.1L825.7,704.0Z" fill="url(#a4)"/><path d="M1113.3,813.1L1148.3,805.5L1111.8,780.4L1076.7,787.8Z" fill="url(#a60)"/><path d="M1041.1,794.3L1076.7,787.8L1040.6,762.8L1004.9,769.1Z" fill="url(#a41)"/><path d="M968.7,774.5L1004.9,769.1L969.2,744.2L932.9,749.4Z" fill="url(#a22)"/><path d="M896.1,753.7L932.9,749.4L897.5,724.6L860.7,728.7Z" fill="url(#a3)"/><path d="M1077.7,819.8L1113.3,813.1L1076.7,787.8L1041.1,794.3Z" fill="url(#a40)"/><path d="M1004.9,799.9L1041.1,794.3L1004.9,769.1L968.7,774.5Z" fill="url(#a21)"/><path d="M931.9,778.9L968.7,774.5L932.9,749.4L896.1,753.7Z" fill="url(#a2)"/><path d="M1041.6,825.5L1077.7,819.8L1041.1,794.3L1004.9,799.9Z" fill="url(#a20)"/><path d="M968.2,804.5L1004.9,799.9L968.7,774.5L931.9,778.9Z" fill="url(#a1)"/><path d="M1004.9,830.3L1041.6,825.5L1004.9,799.9L968.2,804.5Z" fill="url(#a0)"/></g>
<g fill="#000"><circle cx="380.2" cy="1040.2" r="6.6"/><circle cx="372.0" cy="868.8" r="6.6"/><circle cx="363.7" cy="697.4" r="6.6"/><circle cx="355.5" cy="526.0" r="6.6"/><circle cx="347.2" cy="354.6" r="6.6"/><circle cx="339.0" cy="183.2" r="6.6"/><circle cx="505.1" cy="1100.2" r="6.6"/><circle cx="630.0" cy="1160.1" r="6.6"/><circle cx="754.8" cy="1220.1" r="6.6"/><circle cx="879.7" cy="1280.0" r="6.6"/><circle cx="1004.6" cy="1340.0" r="6.6"/><circle cx="1129.5" cy="1280.1" r="6.6"/><circle cx="1254.3" cy="1220.1" r="6.6"/><circle cx="1379.2" cy="1160.2" r="6.6"/><circle cx="1504.0" cy="1100.2" r="6.6"/><circle cx="1628.9" cy="1040.3" r="6.6"/></g>
<path d="M410.3,2563.6L1044.6,2867.5L1678.5,2563.1L1044.6,2324.0Z" fill="#909090"/>
<path d="M1051.4,2327.2L1048.4,2328.8L1042.4,2331.9L1036.4,2335.0L1031.3,2337.6L1027.4,2339.6L1021.3,2342.7L1015.1,2345.8L1010.1,2348.3L1005.8,2350.4L999.6,2353.5L993.3,2356.6L986.9,2359.7L983.7,2361.2L977.3,2364.3L970.9,2367.4L964.4,2370.5L959.2,2372.9L954.5,2375.2L947.9,2378.3L941.3,2381.4L934.6,2384.4L927.8,2387.5L924.4,2389.1L917.6,2392.2L910.7,2395.3L903.8,2398.4L896.9,2401.5L889.8,2404.5L885.3,2406.5L879.2,2409.2L872.1,2412.3L864.9,2415.3L857.7,2418.4L850.4,2421.5L843.1,2424.6L835.7,2427.7L828.2,2430.7L820.7,2433.8L817.0,2435.3L809.4,2438.4L801.8,2441.5L794.1,2444.5L786.4,2447.6L778.6,2450.6L770.8,2453.7L763.0,2456.7L755.0,2459.8L747.0,2462.8L739.0,2465.9L730.9,2468.9L722.8,2471.9L714.6,2475.0L706.4,2478.0L698.1,2481.0L689.7,2484.0L681.3,2487.0L676.1,2488.9L668.6,2491.6L660.1,2494.6L651.5,2497.6L642.8,2500.6L634.1,2503.5L625.4,2506.5L616.6,2509.5L607.7,2512.5L598.8,2515.5L594.3,2516.9L585.3,2519.9L576.3,2522.9L567.2,2525.8L558.0,2528.8L548.8,2531.7L542.7,2533.7L534.9,2536.2L525.6,2539.1L516.2,2542.0L506.8,2545.0L498.2,2547.6L492.5,2549.3L482.9,2552.3L473.3,2555.2L463.6,2558.1L458.7,2559.5L449.0,2562.4L439.2,2565.3L429.3,2568.2" fill="none" stroke="#00ff2d" stroke-width="6.6"/>
<path d="M1087.4,2340.8L1081.6,2343.9L1075.8,2347.1L1072.0,2349.2L1067.0,2351.9L1061.1,2355.1L1055.1,2358.3L1052.1,2359.9L1046.1,2363.1L1040.0,2366.3L1035.0,2368.9L1030.8,2371.0L1024.6,2374.2L1018.3,2377.4L1013.5,2379.9L1008.9,2382.2L1002.5,2385.4L996.1,2388.6L989.7,2391.8L986.4,2393.4L979.9,2396.6L973.3,2399.8L966.7,2403.0L960.5,2405.9L956.6,2407.7L949.9,2410.9L943.1,2414.1L936.2,2417.3L929.3,2420.4L924.7,2422.5L918.8,2425.2L911.8,2428.4L904.7,2431.5L897.5,2434.7L890.3,2437.9L883.1,2441.0L875.8,2444.2L872.1,2445.8L864.7,2448.9L857.2,2452.0L849.7,2455.2L842.1,2458.3L834.5,2461.5L826.8,2464.6L819.1,2467.7L811.3,2470.8L803.5,2473.9L795.6,2477.0L787.6,2480.1L779.6,2483.2L771.5,2486.3L763.4,2489.4L755.2,2492.5L746.9,2495.6L738.6,2498.7L730.2,2501.7L721.8,2504.8L713.3,2507.8L704.8,2510.9L696.2,2513.9L689.8,2516.1L683.1,2518.5L674.4,2521.5L665.6,2524.5L656.7,2527.5L647.8,2530.5L638.8,2533.5L629.8,2536.5L625.2,2538.0L616.1,2541.0L606.9,2544.0L597.7,2547.0L588.4,2549.9L579.0,2552.9L574.3,2554.3L564.9,2557.3L555.4,2560.2L545.8,2563.2L538.4,2565.4L531.3,2567.6L521.6,2570.5L511.9,2573.4L502.3,2576.2L497.2,2577.8L487.3,2580.7L477.3,2583.6L469.1,2585.9L462.3,2587.9" fill="none" stroke="#44ff00" stroke-width="6.6"/>
<path d="M1249.2,2769.5L1256.9,2765.6L1265.0,2761.5L1273.2,2757.5L1281.4,2753.5L1289.6,2749.6L1297.8,2745.6L1306.0,2741.7L1314.3,2737.9L1322.6,2734.1M1131.7,2357.4L1126.2,2360.7L1122.7,2362.8L1117.8,2365.7L1112.2,2369.1L1109.0,2371.0L1103.7,2374.1L1098.0,2377.4L1094.3,2379.5L1089.3,2382.4L1083.4,2385.7L1078.5,2388.5L1074.5,2390.7L1068.6,2394.1L1062.5,2397.4L1059.5,2399.1L1053.4,2402.4L1047.3,2405.7L1042.2,2408.4L1037.9,2410.7L1031.6,2414.1L1025.3,2417.4L1020.8,2419.7L1015.7,2422.4L1009.2,2425.7L1002.7,2429.0L996.1,2432.3L992.8,2434.0L986.1,2437.3L979.4,2440.6L972.6,2443.9L965.7,2447.2L962.3,2448.9L955.3,2452.2L948.3,2455.4L941.2,2458.7L934.1,2462.0L926.9,2465.3L923.1,2467.0L916.0,2470.2L908.7,2473.4L901.3,2476.7L893.8,2479.9L886.3,2483.1L878.7,2486.4L871.0,2489.6L863.3,2492.8L855.5,2496.0L847.6,2499.2L839.7,2502.4L831.7,2505.5L823.6,2508.7L815.5,2511.9L807.3,2515.0L799.0,2518.2L790.7,2521.3L782.3,2524.4L773.8,2527.5L765.3,2530.6L756.7,2533.7L748.0,2536.8L739.3,2539.9L730.5,2543.0L726.0,2544.5L717.1,2547.6L708.2,2550.6L699.1,2553.6L690.0,2556.7L680.8,2559.7L676.2,2561.2L667.0,2564.2L657.6,2567.2L648.2,2570.1L638.8,2573.1L634.0,2574.6L624.5,2577.5L614.8,2580.5L605.2,2583.4L598.9,2585.3L590.5,2587.8L580.7,2590.7L570.8,2593.6L565.8,2595.1L555.8,2598.0L545.7,2600.8L536.4,2603.5L530.5,2605.1L520.3,2608.0L510.0,2610.8" fill="none" stroke="#bcff00" stroke-width="6.6"/>
<path d="M999.7,2846.3L1007.0,2841.2L1014.4,2836.2L1018.1,2833.7L1025.4,2828.7L1032.8,2823.8L1039.6,2819.3L1044.0,2816.4L1051.4,2811.6L1058.9,2806.8L1063.9,2803.7L1070.1,2799.8L1077.6,2795.1L1085.2,2790.5L1092.4,2786.1L1096.6,2783.6L1104.2,2779.1L1111.9,2774.6L1119.6,2770.2L1127.3,2765.8L1131.2,2763.7L1138.9,2759.3L1146.7,2755.1L1154.6,2750.8L1162.5,2746.6L1170.4,2742.5L1178.3,2738.4L1186.3,2734.4L1194.3,2730.3L1201.6,2726.8L1206.5,2724.4L1214.6,2720.5L1222.7,2716.6L1231.0,2712.8L1239.2,2709.1L1245.3,2706.3L1251.7,2703.5L1260.0,2699.8L1268.4,2696.2L1276.8,2692.6L1285.3,2689.0L1293.8,2685.5L1302.4,2682.0L1310.9,2678.6L1319.6,2675.2L1323.9,2673.5L1332.6,2670.2L1341.3,2666.9L1350.1,2663.6L1358.9,2660.4L1363.3,2658.8L1372.2,2655.6L1381.1,2652.4L1390.0,2649.3L1395.9,2647.3L1403.5,2644.7L1412.5,2641.7L1421.6,2638.7L1426.1,2637.2L1435.2,2634.2L1444.3,2631.3L1450.0,2629.5L1458.1,2627.0L1467.3,2624.1L1473.7,2622.2L1481.1,2619.9L1490.4,2617.1L1495.9,2615.5L1504.4,2613.0L1513.7,2610.3L1518.4,2608.9L1527.7,2606.2L1537.1,2603.6L1541.8,2602.2L1551.2,2599.6L1556.7,2598.1L1565.4,2595.7L1574.9,2593.2L1579.6,2591.9L1589.1,2589.3L1593.8,2588.1L1603.3,2585.6L1611.4,2583.5L1617.6,2581.8L1627.2,2579.4L1631.9,2578.2L1641.5,2575.7L1646.3,2574.5L1655.9,2572.1L1662.2,2570.5M1178.5,2375.0L1173.4,2378.5L1168.7,2381.6L1165.6,2383.8L1160.4,2387.3L1157.7,2389.1L1152.4,2392.6L1147.5,2395.9L1144.4,2397.9L1139.0,2401.4L1136.0,2403.3L1130.7,2406.7L1125.2,2410.3L1122.4,2412.0L1116.8,2415.6L1111.1,2419.1L1108.2,2420.9L1102.5,2424.4L1097.0,2427.7L1093.7,2429.7L1087.8,2433.3L1081.9,2436.8L1078.9,2438.6L1072.8,2442.1L1066.7,2445.6L1063.6,2447.4L1057.4,2450.9L1051.2,2454.4L1046.5,2457.0L1041.7,2459.6L1035.2,2463.1L1028.7,2466.6L1024.6,2468.8L1018.9,2471.9L1012.2,2475.3L1005.5,2478.8L998.7,2482.2L995.2,2484.0L988.3,2487.4L981.3,2490.8L974.2,2494.3L967.1,2497.7L960.1,2501.0L956.2,2502.8L948.9,2506.1L941.5,2509.5L934.0,2512.9L926.4,2516.2L918.8,2519.5L911.0,2522.9L903.2,2526.2L895.3,2529.4L887.3,2532.7L879.2,2536.0L871.1,2539.2L862.8,2542.4L854.5,2545.7L846.1,2548.9L837.6,2552.0L829.1,2555.2L820.4,2558.3L811.7,2561.5L802.9,2564.6L798.4,2566.1L789.5,2569.2L780.5,2572.3L771.4,2575.4L762.2,2578.4L752.9,2581.4L748.2,2582.9L738.9,2585.9L729.4,2588.9L719.8,2591.9L714.8,2593.4L705.4,2596.3L695.7,2599.3L685.8,2602.2L680.9,2603.6L671.0,2606.5L661.0,2609.4L653.9,2611.4L645.9,2613.7L635.7,2616.5L627.1,2618.9L620.3,2620.8L609.9,2623.6L601.7,2625.8L594.3,2627.8L583.8,2630.6L577.5,2632.2L567.9,2634.7" fill="none" stroke="#ffd800" stroke-width="6.6"/>
<path d="M905.0,2800.8L908.1,2798.0L914.3,2792.6L917.4,2789.8L923.5,2784.4L926.6,2781.8L932.8,2776.4L935.9,2773.8L942.1,2768.5L945.6,2765.5L951.4,2760.6L955.9,2756.9L960.8,2752.9L966.7,2748.2L970.3,2745.3L976.6,2740.3L979.8,2737.8L986.2,2732.8L990.0,2730.0L995.9,2725.5L1002.4,2720.7L1005.7,2718.4L1012.3,2713.6L1017.6,2709.9L1022.3,2706.7L1029.1,2702.1L1034.7,2698.5L1039.4,2695.4L1046.5,2691.0L1053.6,2686.7L1057.2,2684.6L1064.5,2680.4L1071.8,2676.3L1079.4,2672.3L1087.0,2668.3L1094.8,2664.5L1102.8,2660.7L1110.6,2657.1L1111.5,2656.7L1119.1,2653.4L1127.4,2649.8L1135.9,2646.4L1144.5,2643.0L1153.3,2639.8L1162.3,2636.6L1171.3,2633.5L1175.9,2631.9L1185.1,2628.9L1194.5,2626.0L1201.1,2623.9L1208.7,2621.7L1218.4,2618.9L1224.3,2617.2L1233.0,2614.8L1242.8,2612.2L1247.8,2610.9L1257.7,2608.3L1263.8,2606.7L1272.8,2604.5L1281.7,2602.3L1288.0,2600.8L1298.3,2598.4L1303.4,2597.2L1313.7,2594.8L1318.8,2593.6L1329.1,2591.3L1334.3,2590.1L1344.7,2587.9L1349.9,2586.7L1360.3,2584.5L1365.6,2583.4L1376.0,2581.2L1381.3,2580.0L1391.8,2577.9L1397.0,2576.8L1406.3,2574.9L1412.8,2573.6L1420.6,2572.0L1428.6,2570.4L1434.8,2569.1L1444.4,2567.2L1449.7,2566.2L1460.2,2564.1L1465.5,2563.1L1476.1,2561.0L1481.4,2560.0L1489.9,2558.3L1497.2,2556.9L1503.5,2555.7L1513.1,2553.9L1518.4,2552.9L1528.9,2550.9L1534.2,2549.9L1543.4,2548.2L1550.0,2546.9L1556.6,2545.7L1565.9,2544.0L1571.1,2543.0L1581.7,2541.1L1586.9,2540.1L1595.6,2538.5L1602.7,2537.2M1244.0,2399.6L1240.8,2402.5L1237.7,2405.5L1235.1,2407.8L1231.3,2411.4L1229.1,2413.4L1224.8,2417.3L1222.6,2419.3L1218.2,2423.3L1216.0,2425.3L1211.6,2429.3L1209.4,2431.3L1204.9,2435.3L1202.7,2437.3L1198.6,2441.0L1195.9,2443.4L1192.1,2446.7L1189.0,2449.4L1185.4,2452.5L1182.1,2455.5L1178.7,2458.4L1175.0,2461.6L1171.7,2464.4L1167.9,2467.7L1164.6,2470.5L1160.6,2473.8L1157.2,2476.7L1153.3,2480.0L1149.5,2483.0L1145.8,2486.1L1141.6,2489.5L1138.2,2492.3L1133.3,2496.1L1130.5,2498.4L1125.2,2502.5L1122.6,2504.6L1117.2,2508.7L1114.5,2510.7L1109.1,2514.8L1105.4,2517.4L1100.8,2520.9L1095.1,2524.9L1092.2,2527.0L1086.4,2531.0L1082.7,2533.5L1077.5,2537.0L1071.4,2541.0L1068.3,2543.0L1062.1,2546.9L1055.7,2550.8L1052.1,2553.0L1045.9,2556.6L1039.1,2560.5L1032.2,2564.2L1028.5,2566.2L1021.6,2569.8L1014.3,2573.5L1006.8,2577.1L999.2,2580.7L991.3,2584.2L983.3,2587.7L975.1,2591.1L966.7,2594.4L958.2,2597.7L949.4,2600.9L940.5,2604.0L932.1,2606.8L926.7,2608.7L917.3,2611.7L907.8,2614.6L900.1,2616.9L893.2,2619.0L883.2,2621.8L874.9,2624.1L868.1,2626.0L857.8,2628.7L852.6,2630.1L842.1,2632.7L832.1,2635.2L826.2,2636.7L815.5,2639.2L810.1,2640.5L799.2,2643.1L793.7,2644.3L782.7,2646.8L776.2,2648.3L766.0,2650.6L758.7,2652.1L749.1,2654.2L741.6,2655.8L732.0,2657.9L724.7,2659.4L714.8,2661.5L708.2,2662.8L697.5,2665.0L691.6,2666.2L680.0,2668.6L674.1,2669.7L662.3,2672.1L656.5,2673.2L644.6,2675.6" fill="none" stroke="#ff6700" stroke-width="6.6"/>
<path d="M410.3,2563.6L368.0,1691.6M537.2,2515.7L503.3,1661.6M664.0,2467.8L638.5,1631.6M790.9,2419.8L773.8,1601.5M917.7,2371.9L909.0,1571.5M1044.6,2324.0L1044.3,1541.5M1150.2,2363.8L1157.2,1566.7M1255.9,2403.7L1270.1,1591.8M1361.5,2443.6L1382.9,1617.0M1467.2,2483.4L1495.8,1642.1M1572.8,2523.2L1608.7,1667.2M1678.5,2563.1L1721.6,1692.4M410.3,2563.6L1044.6,2324.0L1678.5,2563.1M401.8,2389.2L1044.5,2167.5L1687.1,2389.0M393.4,2214.8L1044.5,2011.0L1695.7,2214.8M384.9,2040.4L1044.4,1854.5L1704.4,2040.7M376.5,1866.0L1044.4,1698.0L1713.0,1866.5M368.0,1691.6L1044.3,1541.5L1721.6,1692.4" fill="none" stroke="#000" stroke-width="4" stroke-linejoin="round"/>
<path d="M410.3,2563.6L1044.6,2867.5L1678.5,2563.1" fill="none" stroke="#000" stroke-width="3.9" stroke-linejoin="round"/>
<defs><linearGradient id="b0" gradientUnits="userSpaceOnUse" x1="1063.4" y1="2305.8" x2="1026.5" y2="2232.4"><stop stop-color="#d5ff00"/><stop offset="1" stop-color="#ffe600"/></linearGradient><linearGradient id="b1" gradientUnits="userSpaceOnUse" x1="1025.0" y1="2246.3" x2="990.0" y2="2177.9"><stop stop-color="#ffef00"/><stop offset="1" stop-color="#ffb400"/></linearGradient><linearGradient id="b2" gradientUnits="userSpaceOnUse" x1="987.3" y1="2193.5" x2="953.6" y2="2129.9"><stop stop-color="#ffbd00"/><stop offset="1" stop-color="#ff8900"/></linearGradient><linearGradient id="b3" gradientUnits="userSpaceOnUse" x1="950.6" y1="2147.6" x2="916.8" y2="2088.6"><stop stop-color="#ff9300"/><stop offset="1" stop-color="#ff6600"/></linearGradient><linearGradient id="b4" gradientUnits="userSpaceOnUse" x1="915.5" y1="2108.4" x2="879.3" y2="2053.8"><stop stop-color="#ff7000"/><stop offset="1" stop-color="#ff4b00"/></linearGradient><linearGradient id="b5" gradientUnits="userSpaceOnUse" x1="884.2" y1="2075.3" x2="839.0" y2="2026.0"><stop stop-color="#ff5500"/><stop offset="1" stop-color="#ff3800"/></linearGradient><linearGradient id="b6" gradientUnits="userSpaceOnUse" x1="861.8" y1="2038.4" x2="790.6" y2="2015.2"><stop stop-color="#ff4200"/><stop offset="1" stop-color="#ff2c00"/></linearGradient><linearGradient id="b7" gradientUnits="userSpaceOnUse" x1="801.7" y1="1995.6" x2="781.3" y2="2023.2"><stop stop-color="#ff3700"/><stop offset="1" stop-color="#ff2900"/></linearGradient><linearGradient id="b8" gradientUnits="userSpaceOnUse" x1="758.2" y1="1992.5" x2="756.6" y2="2003.9"><stop stop-color="#ff3700"/><stop offset="1" stop-color="#ff2900"/></linearGradient><linearGradient id="b9" gradientUnits="userSpaceOnUse" x1="723.8" y1="1991.0" x2="723.9" y2="1995.6"><stop stop-color="#ff4300"/><stop offset="1" stop-color="#ff2d00"/></linearGradient><linearGradient id="b10" gradientUnits="userSpaceOnUse" x1="691.0" y1="1995.4" x2="690.8" y2="1993.5"><stop stop-color="#ff5700"/><stop offset="1" stop-color="#ff3900"/></linearGradient><linearGradient id="b11" gradientUnits="userSpaceOnUse" x1="659.2" y1="2005.6" x2="658.1" y2="1997.5"><stop stop-color="#ff7200"/><stop offset="1" stop-color="#ff4c00"/></linearGradient><linearGradient id="b12" gradientUnits="userSpaceOnUse" x1="628.2" y1="2021.4" x2="626.0" y2="2007.5"><stop stop-color="#ff9600"/><stop offset="1" stop-color="#ff6700"/></linearGradient><linearGradient id="b13" gradientUnits="userSpaceOnUse" x1="598.0" y1="2042.6" x2="594.6" y2="2023.3"><stop stop-color="#ffc100"/><stop offset="1" stop-color="#ff8a00"/></linearGradient><linearGradient id="b14" gradientUnits="userSpaceOnUse" x1="568.6" y1="2069.2" x2="563.9" y2="2044.6"><stop stop-color="#fff300"/><stop offset="1" stop-color="#ffb500"/></linearGradient><linearGradient id="b15" gradientUnits="userSpaceOnUse" x1="540.0" y1="2100.9" x2="533.9" y2="2071.3"><stop stop-color="#d0ff00"/><stop offset="1" stop-color="#ffe800"/></linearGradient><linearGradient id="b16" gradientUnits="userSpaceOnUse" x1="512.2" y1="2137.6" x2="504.6" y2="2103.3"><stop stop-color="#8eff00"/><stop offset="1" stop-color="#dcff00"/></linearGradient><linearGradient id="b17" gradientUnits="userSpaceOnUse" x1="485.2" y1="2179.1" x2="476.2" y2="2140.2"><stop stop-color="#44ff00"/><stop offset="1" stop-color="#9aff00"/></linearGradient><linearGradient id="b18" gradientUnits="userSpaceOnUse" x1="458.9" y1="2225.1" x2="448.5" y2="2182.0"><stop stop-color="#00ff0e"/><stop offset="1" stop-color="#50ff00"/></linearGradient><linearGradient id="b19" gradientUnits="userSpaceOnUse" x1="433.6" y1="2275.5" x2="421.7" y2="2228.5"><stop stop-color="#00ff67"/><stop offset="1" stop-color="#00ff02"/></linearGradient><linearGradient id="b20" gradientUnits="userSpaceOnUse" x1="1099.5" y1="2298.2" x2="1064.9" y2="2226.5"><stop stop-color="#cdff00"/><stop offset="1" stop-color="#ffef00"/></linearGradient><linearGradient id="b21" gradientUnits="userSpaceOnUse" x1="1061.1" y1="2239.2" x2="1028.7" y2="2172.5"><stop stop-color="#fff700"/><stop offset="1" stop-color="#ffbd00"/></linearGradient><linearGradient id="b22" gradientUnits="userSpaceOnUse" x1="1023.4" y1="2187.0" x2="992.5" y2="2125.2"><stop stop-color="#ffc500"/><stop offset="1" stop-color="#ff9300"/></linearGradient><linearGradient id="b23" gradientUnits="userSpaceOnUse" x1="986.6" y1="2141.5" x2="956.1" y2="2084.3"><stop stop-color="#ff9b00"/><stop offset="1" stop-color="#ff7000"/></linearGradient><linearGradient id="b24" gradientUnits="userSpaceOnUse" x1="951.1" y1="2102.8" x2="919.2" y2="2049.8"><stop stop-color="#ff7800"/><stop offset="1" stop-color="#ff5500"/></linearGradient><linearGradient id="b25" gradientUnits="userSpaceOnUse" x1="918.7" y1="2070.8" x2="880.0" y2="2021.8"><stop stop-color="#ff5e00"/><stop offset="1" stop-color="#ff4200"/></linearGradient><linearGradient id="b26" gradientUnits="userSpaceOnUse" x1="895.9" y1="2039.1" x2="832.1" y2="2006.3"><stop stop-color="#ff4b00"/><stop offset="1" stop-color="#ff3700"/></linearGradient><linearGradient id="b27" gradientUnits="userSpaceOnUse" x1="841.1" y1="1991.0" x2="817.6" y2="2020.3"><stop stop-color="#ff3f00"/><stop offset="1" stop-color="#ff3300"/></linearGradient><linearGradient id="b28" gradientUnits="userSpaceOnUse" x1="795.9" y1="1988.6" x2="794.5" y2="2000.7"><stop stop-color="#ff4000"/><stop offset="1" stop-color="#ff3300"/></linearGradient><linearGradient id="b29" gradientUnits="userSpaceOnUse" x1="761.5" y1="1987.2" x2="761.7" y2="1992.6"><stop stop-color="#ff4c00"/><stop offset="1" stop-color="#ff3700"/></linearGradient><linearGradient id="b30" gradientUnits="userSpaceOnUse" x1="728.7" y1="1991.7" x2="728.6" y2="1990.7"><stop stop-color="#ff6000"/><stop offset="1" stop-color="#ff4300"/></linearGradient><linearGradient id="b31" gradientUnits="userSpaceOnUse" x1="696.9" y1="2001.9" x2="695.8" y2="1994.8"><stop stop-color="#ff7c00"/><stop offset="1" stop-color="#ff5700"/></linearGradient><linearGradient id="b32" gradientUnits="userSpaceOnUse" x1="665.8" y1="2017.7" x2="663.6" y2="2004.9"><stop stop-color="#ff9f00"/><stop offset="1" stop-color="#ff7200"/></linearGradient><linearGradient id="b33" gradientUnits="userSpaceOnUse" x1="635.5" y1="2039.0" x2="632.1" y2="2020.7"><stop stop-color="#ffca00"/><stop offset="1" stop-color="#ff9600"/></linearGradient><linearGradient id="b34" gradientUnits="userSpaceOnUse" x1="606.0" y1="2065.5" x2="601.2" y2="2042.0"><stop stop-color="#fffd00"/><stop offset="1" stop-color="#ffc100"/></linearGradient><linearGradient id="b35" gradientUnits="userSpaceOnUse" x1="577.3" y1="2097.1" x2="571.1" y2="2068.7"><stop stop-color="#c6ff00"/><stop offset="1" stop-color="#fff300"/></linearGradient><linearGradient id="b36" gradientUnits="userSpaceOnUse" x1="549.3" y1="2133.7" x2="541.7" y2="2100.6"><stop stop-color="#84ff00"/><stop offset="1" stop-color="#d0ff00"/></linearGradient><linearGradient id="b37" gradientUnits="userSpaceOnUse" x1="522.1" y1="2175.0" x2="513.1" y2="2137.4"><stop stop-color="#39ff00"/><stop offset="1" stop-color="#8eff00"/></linearGradient><linearGradient id="b38" gradientUnits="userSpaceOnUse" x1="495.7" y1="2220.8" x2="485.2" y2="2179.1"><stop stop-color="#00ff18"/><stop offset="1" stop-color="#44ff00"/></linearGradient><linearGradient id="b39" gradientUnits="userSpaceOnUse" x1="470.1" y1="2271.0" x2="458.2" y2="2225.3"><stop stop-color="#00ff72"/><stop offset="1" stop-color="#00ff0e"/></linearGradient><linearGradient id="b40" gradientUnits="userSpaceOnUse" x1="1135.0" y1="2289.5" x2="1102.8" y2="2219.6"><stop stop-color="#c7ff00"/><stop offset="1" stop-color="#fff700"/></linearGradient><linearGradient id="b41" gradientUnits="userSpaceOnUse" x1="1096.8" y1="2231.2" x2="1066.7" y2="2166.2"><stop stop-color="#fffe00"/><stop offset="1" stop-color="#ffc500"/></linearGradient><linearGradient id="b42" gradientUnits="userSpaceOnUse" x1="1059.1" y1="2179.4" x2="1030.8" y2="2119.4"><stop stop-color="#ffcc00"/><stop offset="1" stop-color="#ff9b00"/></linearGradient><linearGradient id="b43" gradientUnits="userSpaceOnUse" x1="1022.1" y1="2134.4" x2="994.7" y2="2079.0"><stop stop-color="#ffa200"/><stop offset="1" stop-color="#ff7800"/></linearGradient><linearGradient id="b44" gradientUnits="userSpaceOnUse" x1="986.2" y1="2096.1" x2="958.3" y2="2045.0"><stop stop-color="#ff7f00"/><stop offset="1" stop-color="#ff5e00"/></linearGradient><linearGradient id="b45" gradientUnits="userSpaceOnUse" x1="952.8" y1="2064.7" x2="920.3" y2="2017.0"><stop stop-color="#ff6500"/><stop offset="1" stop-color="#ff4b00"/></linearGradient><linearGradient id="b46" gradientUnits="userSpaceOnUse" x1="927.9" y1="2037.4" x2="874.6" y2="1997.8"><stop stop-color="#ff5200"/><stop offset="1" stop-color="#ff3f00"/></linearGradient><linearGradient id="b47" gradientUnits="userSpaceOnUse" x1="880.6" y1="1985.4" x2="852.5" y2="2016.3"><stop stop-color="#ff4700"/><stop offset="1" stop-color="#ff3c00"/></linearGradient><linearGradient id="b48" gradientUnits="userSpaceOnUse" x1="833.0" y1="1983.6" x2="831.9" y2="1996.5"><stop stop-color="#ff4800"/><stop offset="1" stop-color="#ff3c00"/></linearGradient><linearGradient id="b49" gradientUnits="userSpaceOnUse" x1="798.6" y1="1982.4" x2="799.0" y2="1988.6"><stop stop-color="#ff5400"/><stop offset="1" stop-color="#ff4000"/></linearGradient><linearGradient id="b50" gradientUnits="userSpaceOnUse" x1="765.8" y1="1987.0" x2="765.8" y2="1986.8"><stop stop-color="#ff6800"/><stop offset="1" stop-color="#ff4c00"/></linearGradient><linearGradient id="b51" gradientUnits="userSpaceOnUse" x1="734.0" y1="1997.3" x2="733.0" y2="1991.2"><stop stop-color="#ff8400"/><stop offset="1" stop-color="#ff6000"/></linearGradient><linearGradient id="b52" gradientUnits="userSpaceOnUse" x1="702.9" y1="2013.1" x2="700.6" y2="2001.3"><stop stop-color="#ffa800"/><stop offset="1" stop-color="#ff7c00"/></linearGradient><linearGradient id="b53" gradientUnits="userSpaceOnUse" x1="672.5" y1="2034.3" x2="669.0" y2="2017.1"><stop stop-color="#ffd300"/><stop offset="1" stop-color="#ff9f00"/></linearGradient><linearGradient id="b54" gradientUnits="userSpaceOnUse" x1="642.9" y1="2060.8" x2="638.0" y2="2038.5"><stop stop-color="#f8ff00"/><stop offset="1" stop-color="#ffca00"/></linearGradient><linearGradient id="b55" gradientUnits="userSpaceOnUse" x1="614.0" y1="2092.4" x2="607.7" y2="2065.1"><stop stop-color="#bdff00"/><stop offset="1" stop-color="#fffd00"/></linearGradient><linearGradient id="b56" gradientUnits="userSpaceOnUse" x1="585.8" y1="2128.8" x2="578.2" y2="2096.9"><stop stop-color="#7bff00"/><stop offset="1" stop-color="#c6ff00"/></linearGradient><linearGradient id="b57" gradientUnits="userSpaceOnUse" x1="558.4" y1="2170.0" x2="549.4" y2="2133.7"><stop stop-color="#30ff00"/><stop offset="1" stop-color="#84ff00"/></linearGradient><linearGradient id="b58" gradientUnits="userSpaceOnUse" x1="531.9" y1="2215.7" x2="521.4" y2="2175.2"><stop stop-color="#00ff22"/><stop offset="1" stop-color="#39ff00"/></linearGradient><linearGradient id="b59" gradientUnits="userSpaceOnUse" x1="506.0" y1="2265.7" x2="494.1" y2="2221.3"><stop stop-color="#00ff7c"/><stop offset="1" stop-color="#00ff18"/></linearGradient><linearGradient id="b60" gradientUnits="userSpaceOnUse" x1="1170.1" y1="2279.9" x2="1140.0" y2="2211.7"><stop stop-color="#c2ff00"/><stop offset="1" stop-color="#fffe00"/></linearGradient><linearGradient id="b61" gradientUnits="userSpaceOnUse" x1="1131.9" y1="2222.0" x2="1104.2" y2="2158.9"><stop stop-color="#fbff00"/><stop offset="1" stop-color="#ffcc00"/></linearGradient><linearGradient id="b62" gradientUnits="userSpaceOnUse" x1="1094.2" y1="2170.8" x2="1068.4" y2="2112.7"><stop stop-color="#ffd100"/><stop offset="1" stop-color="#ffa200"/></linearGradient><linearGradient id="b63" gradientUnits="userSpaceOnUse" x1="1057.1" y1="2126.1" x2="1032.7" y2="2072.8"><stop stop-color="#ffa700"/><stop offset="1" stop-color="#ff7f00"/></linearGradient><linearGradient id="b64" gradientUnits="userSpaceOnUse" x1="1020.9" y1="2088.2" x2="996.7" y2="2039.3"><stop stop-color="#ff8500"/><stop offset="1" stop-color="#ff6500"/></linearGradient><linearGradient id="b65" gradientUnits="userSpaceOnUse" x1="986.6" y1="2057.2" x2="959.8" y2="2011.6"><stop stop-color="#ff6a00"/><stop offset="1" stop-color="#ff5200"/></linearGradient><linearGradient id="b66" gradientUnits="userSpaceOnUse" x1="958.8" y1="2032.7" x2="917.1" y2="1990.3"><stop stop-color="#ff5800"/><stop offset="1" stop-color="#ff4700"/></linearGradient><linearGradient id="b67" gradientUnits="userSpaceOnUse" x1="921.0" y1="1979.1" x2="885.3" y2="2011.1"><stop stop-color="#ff4d00"/><stop offset="1" stop-color="#ff4400"/></linearGradient><linearGradient id="b68" gradientUnits="userSpaceOnUse" x1="869.5" y1="1977.7" x2="868.8" y2="1991.2"><stop stop-color="#ff4e00"/><stop offset="1" stop-color="#ff4400"/></linearGradient><linearGradient id="b69" gradientUnits="userSpaceOnUse" x1="835.2" y1="1976.6" x2="835.8" y2="1983.6"><stop stop-color="#ff5b00"/><stop offset="1" stop-color="#ff4800"/></linearGradient><linearGradient id="b70" gradientUnits="userSpaceOnUse" x1="802.4" y1="1981.3" x2="802.5" y2="1982.0"><stop stop-color="#ff6f00"/><stop offset="1" stop-color="#ff5400"/></linearGradient><linearGradient id="b71" gradientUnits="userSpaceOnUse" x1="770.5" y1="1991.7" x2="769.5" y2="1986.5"><stop stop-color="#ff8b00"/><stop offset="1" stop-color="#ff6800"/></linearGradient><linearGradient id="b72" gradientUnits="userSpaceOnUse" x1="739.3" y1="2007.5" x2="737.1" y2="1996.7"><stop stop-color="#ffae00"/><stop offset="1" stop-color="#ff8400"/></linearGradient><linearGradient id="b73" gradientUnits="userSpaceOnUse" x1="708.9" y1="2028.7" x2="705.4" y2="2012.6"><stop stop-color="#ffda00"/><stop offset="1" stop-color="#ffa800"/></linearGradient><linearGradient id="b74" gradientUnits="userSpaceOnUse" x1="679.1" y1="2055.2" x2="674.3" y2="2034.0"><stop stop-color="#f1ff00"/><stop offset="1" stop-color="#ffd300"/></linearGradient><linearGradient id="b75" gradientUnits="userSpaceOnUse" x1="650.1" y1="2086.7" x2="643.8" y2="2060.6"><stop stop-color="#b6ff00"/><stop offset="1" stop-color="#f8ff00"/></linearGradient><linearGradient id="b76" gradientUnits="userSpaceOnUse" x1="621.8" y1="2123.0" x2="614.2" y2="2092.3"><stop stop-color="#73ff00"/><stop offset="1" stop-color="#bdff00"/></linearGradient><linearGradient id="b77" gradientUnits="userSpaceOnUse" x1="594.3" y1="2164.1" x2="585.2" y2="2129.0"><stop stop-color="#29ff00"/><stop offset="1" stop-color="#7bff00"/></linearGradient><linearGradient id="b78" gradientUnits="userSpaceOnUse" x1="567.5" y1="2209.6" x2="557.0" y2="2170.4"><stop stop-color="#00ff29"/><stop offset="1" stop-color="#30ff00"/></linearGradient><linearGradient id="b79" gradientUnits="userSpaceOnUse" x1="541.5" y1="2259.4" x2="529.5" y2="2216.3"><stop stop-color="#00ff83"/><stop offset="1" stop-color="#00ff22"/></linearGradient><linearGradient id="b80" gradientUnits="userSpaceOnUse" x1="1204.6" y1="2269.3" x2="1176.7" y2="2202.8"><stop stop-color="#beff00"/><stop offset="1" stop-color="#fbff00"/></linearGradient><linearGradient id="b81" gradientUnits="userSpaceOnUse" x1="1166.5" y1="2211.9" x2="1141.1" y2="2150.7"><stop stop-color="#f8ff00"/><stop offset="1" stop-color="#ffd100"/></linearGradient><linearGradient id="b82" gradientUnits="userSpaceOnUse" x1="1128.8" y1="2161.1" x2="1105.5" y2="2105.0"><stop stop-color="#ffd500"/><stop offset="1" stop-color="#ffa700"/></linearGradient><linearGradient id="b83" gradientUnits="userSpaceOnUse" x1="1091.7" y1="2116.8" x2="1070.0" y2="2065.7"><stop stop-color="#ffab00"/><stop offset="1" stop-color="#ff8500"/></linearGradient><linearGradient id="b84" gradientUnits="userSpaceOnUse" x1="1055.3" y1="2079.2" x2="1034.5" y2="2032.7"><stop stop-color="#ff8900"/><stop offset="1" stop-color="#ff6a00"/></linearGradient><linearGradient id="b85" gradientUnits="userSpaceOnUse" x1="1020.2" y1="2048.5" x2="998.4" y2="2005.6"><stop stop-color="#ff6f00"/><stop offset="1" stop-color="#ff5800"/></linearGradient><linearGradient id="b86" gradientUnits="userSpaceOnUse" x1="989.4" y1="2025.2" x2="958.7" y2="1983.6"><stop stop-color="#ff5c00"/><stop offset="1" stop-color="#ff4d00"/></linearGradient><linearGradient id="b87" gradientUnits="userSpaceOnUse" x1="963.7" y1="1973.5" x2="914.8" y2="2003.0"><stop stop-color="#ff5100"/><stop offset="1" stop-color="#ff4a00"/></linearGradient><linearGradient id="b88" gradientUnits="userSpaceOnUse" x1="905.3" y1="1970.7" x2="905.2" y2="1985.0"><stop stop-color="#ff5300"/><stop offset="1" stop-color="#ff4a00"/></linearGradient><linearGradient id="b89" gradientUnits="userSpaceOnUse" x1="871.1" y1="1969.9" x2="872.1" y2="1977.5"><stop stop-color="#ff6000"/><stop offset="1" stop-color="#ff4e00"/></linearGradient><linearGradient id="b90" gradientUnits="userSpaceOnUse" x1="838.4" y1="1974.7" x2="838.7" y2="1976.2"><stop stop-color="#ff7400"/><stop offset="1" stop-color="#ff5b00"/></linearGradient><linearGradient id="b91" gradientUnits="userSpaceOnUse" x1="806.5" y1="1985.1" x2="805.6" y2="1980.8"><stop stop-color="#ff9000"/><stop offset="1" stop-color="#ff6f00"/></linearGradient><linearGradient id="b92" gradientUnits="userSpaceOnUse" x1="775.3" y1="2001.0" x2="773.1" y2="1991.2"><stop stop-color="#ffb400"/><stop offset="1" stop-color="#ff8b00"/></linearGradient><linearGradient id="b93" gradientUnits="userSpaceOnUse" x1="744.7" y1="2022.2" x2="741.2" y2="2007.1"><stop stop-color="#ffdf00"/><stop offset="1" stop-color="#ffae00"/></linearGradient><linearGradient id="b94" gradientUnits="userSpaceOnUse" x1="714.9" y1="2048.6" x2="710.0" y2="2028.5"><stop stop-color="#ebff00"/><stop offset="1" stop-color="#ffda00"/></linearGradient><linearGradient id="b95" gradientUnits="userSpaceOnUse" x1="685.7" y1="2080.0" x2="679.4" y2="2055.1"><stop stop-color="#b0ff00"/><stop offset="1" stop-color="#f1ff00"/></linearGradient><linearGradient id="b96" gradientUnits="userSpaceOnUse" x1="657.3" y1="2116.3" x2="649.6" y2="2086.8"><stop stop-color="#6dff00"/><stop offset="1" stop-color="#b6ff00"/></linearGradient><linearGradient id="b97" gradientUnits="userSpaceOnUse" x1="629.6" y1="2157.2" x2="620.5" y2="2123.4"><stop stop-color="#23ff00"/><stop offset="1" stop-color="#73ff00"/></linearGradient><linearGradient id="b98" gradientUnits="userSpaceOnUse" x1="602.6" y1="2202.6" x2="592.1" y2="2164.7"><stop stop-color="#00ff30"/><stop offset="1" stop-color="#29ff00"/></linearGradient><linearGradient id="b99" gradientUnits="userSpaceOnUse" x1="576.4" y1="2252.3" x2="564.4" y2="2210.4"><stop stop-color="#00ff8a"/><stop offset="1" stop-color="#00ff29"/></linearGradient><linearGradient id="b100" gradientUnits="userSpaceOnUse" x1="1238.7" y1="2257.7" x2="1212.8" y2="2193.0"><stop stop-color="#bcff00"/><stop offset="1" stop-color="#f8ff00"/></linearGradient><linearGradient id="b101" gradientUnits="userSpaceOnUse" x1="1200.7" y1="2200.8" x2="1177.4" y2="2141.5"><stop stop-color="#f5ff00"/><stop offset="1" stop-color="#ffd500"/></linearGradient><linearGradient id="b102" gradientUnits="userSpaceOnUse" x1="1163.0" y1="2150.5" x2="1142.0" y2="2096.4"><stop stop-color="#ffd700"/><stop offset="1" stop-color="#ffab00"/></linearGradient><linearGradient id="b103" gradientUnits="userSpaceOnUse" x1="1125.9" y1="2106.6" x2="1106.7" y2="2057.7"><stop stop-color="#ffae00"/><stop offset="1" stop-color="#ff8900"/></linearGradient><linearGradient id="b104" gradientUnits="userSpaceOnUse" x1="1089.3" y1="2069.2" x2="1071.5" y2="2025.2"><stop stop-color="#ff8c00"/><stop offset="1" stop-color="#ff6f00"/></linearGradient><linearGradient id="b105" gradientUnits="userSpaceOnUse" x1="1053.6" y1="2038.6" x2="1036.1" y2="1998.7"><stop stop-color="#ff7200"/><stop offset="1" stop-color="#ff5c00"/></linearGradient><linearGradient id="b106" gradientUnits="userSpaceOnUse" x1="1020.4" y1="2015.4" x2="999.0" y2="1977.3"><stop stop-color="#ff5f00"/><stop offset="1" stop-color="#ff5100"/></linearGradient><linearGradient id="b107" gradientUnits="userSpaceOnUse" x1="1008.5" y1="1975.6" x2="940.8" y2="1985.3"><stop stop-color="#ff5500"/><stop offset="1" stop-color="#ff4e00"/></linearGradient><linearGradient id="b108" gradientUnits="userSpaceOnUse" x1="940.5" y1="1962.9" x2="941.3" y2="1977.7"><stop stop-color="#ff5700"/><stop offset="1" stop-color="#ff4e00"/></linearGradient><linearGradient id="b109" gradientUnits="userSpaceOnUse" x1="906.5" y1="1962.2" x2="907.9" y2="1970.5"><stop stop-color="#ff6300"/><stop offset="1" stop-color="#ff5300"/></linearGradient><linearGradient id="b110" gradientUnits="userSpaceOnUse" x1="873.9" y1="1967.1" x2="874.3" y2="1969.4"><stop stop-color="#ff7800"/><stop offset="1" stop-color="#ff6000"/></linearGradient><linearGradient id="b111" gradientUnits="userSpaceOnUse" x1="841.9" y1="1977.6" x2="841.2" y2="1974.2"><stop stop-color="#ff9400"/><stop offset="1" stop-color="#ff7400"/></linearGradient><linearGradient id="b112" gradientUnits="userSpaceOnUse" x1="810.7" y1="1993.5" x2="808.6" y2="1984.7"><stop stop-color="#ffb800"/><stop offset="1" stop-color="#ff9000"/></linearGradient><linearGradient id="b113" gradientUnits="userSpaceOnUse" x1="780.1" y1="2014.7" x2="776.6" y2="2000.7"><stop stop-color="#ffe400"/><stop offset="1" stop-color="#ffb400"/></linearGradient><linearGradient id="b114" gradientUnits="userSpaceOnUse" x1="750.1" y1="2041.1" x2="745.2" y2="2022.1"><stop stop-color="#e7ff00"/><stop offset="1" stop-color="#ffdf00"/></linearGradient><linearGradient id="b115" gradientUnits="userSpaceOnUse" x1="720.8" y1="2072.5" x2="714.6" y2="2048.7"><stop stop-color="#acff00"/><stop offset="1" stop-color="#ebff00"/></linearGradient><linearGradient id="b116" gradientUnits="userSpaceOnUse" x1="692.3" y1="2108.7" x2="684.6" y2="2080.3"><stop stop-color="#69ff00"/><stop offset="1" stop-color="#b0ff00"/></linearGradient><linearGradient id="b117" gradientUnits="userSpaceOnUse" x1="664.4" y1="2149.6" x2="655.3" y2="2116.9"><stop stop-color="#1eff00"/><stop offset="1" stop-color="#6dff00"/></linearGradient><linearGradient id="b118" gradientUnits="userSpaceOnUse" x1="637.3" y1="2194.8" x2="626.7" y2="2158.0"><stop stop-color="#00ff35"/><stop offset="1" stop-color="#23ff00"/></linearGradient><linearGradient id="b119" gradientUnits="userSpaceOnUse" x1="610.9" y1="2244.4" x2="598.9" y2="2203.7"><stop stop-color="#00ff8f"/><stop offset="1" stop-color="#00ff30"/></linearGradient><linearGradient id="b120" gradientUnits="userSpaceOnUse" x1="1272.4" y1="2245.2" x2="1248.4" y2="2182.4"><stop stop-color="#bbff00"/><stop offset="1" stop-color="#f5ff00"/></linearGradient><linearGradient id="b121" gradientUnits="userSpaceOnUse" x1="1234.4" y1="2188.8" x2="1213.1" y2="2131.4"><stop stop-color="#f4ff00"/><stop offset="1" stop-color="#ffd700"/></linearGradient><linearGradient id="b122" gradientUnits="userSpaceOnUse" x1="1196.8" y1="2138.8" x2="1177.9" y2="2086.9"><stop stop-color="#ffd800"/><stop offset="1" stop-color="#ffae00"/></linearGradient><linearGradient id="b123" gradientUnits="userSpaceOnUse" x1="1159.6" y1="2095.3" x2="1142.9" y2="2048.8"><stop stop-color="#ffaf00"/><stop offset="1" stop-color="#ff8c00"/></linearGradient><linearGradient id="b124" gradientUnits="userSpaceOnUse" x1="1122.9" y1="2058.2" x2="1107.9" y2="2016.9"><stop stop-color="#ff8d00"/><stop offset="1" stop-color="#ff7200"/></linearGradient><linearGradient id="b125" gradientUnits="userSpaceOnUse" x1="1086.8" y1="2027.6" x2="1073.1" y2="1991.1"><stop stop-color="#ff7300"/><stop offset="1" stop-color="#ff5f00"/></linearGradient><linearGradient id="b126" gradientUnits="userSpaceOnUse" x1="1052.0" y1="2004.0" x2="1037.6" y2="1970.7"><stop stop-color="#ff6100"/><stop offset="1" stop-color="#ff5500"/></linearGradient><linearGradient id="b127" gradientUnits="userSpaceOnUse" x1="1035.1" y1="1987.7" x2="984.5" y2="1955.1"><stop stop-color="#ff5600"/><stop offset="1" stop-color="#ff5200"/></linearGradient><linearGradient id="b128" gradientUnits="userSpaceOnUse" x1="975.0" y1="1954.2" x2="977.0" y2="1969.5"><stop stop-color="#ff5900"/><stop offset="1" stop-color="#ff5200"/></linearGradient><linearGradient id="b129" gradientUnits="userSpaceOnUse" x1="941.4" y1="1953.6" x2="943.3" y2="1962.5"><stop stop-color="#ff6600"/><stop offset="1" stop-color="#ff5700"/></linearGradient><linearGradient id="b130" gradientUnits="userSpaceOnUse" x1="908.8" y1="1958.6" x2="909.5" y2="1961.7"><stop stop-color="#ff7a00"/><stop offset="1" stop-color="#ff6300"/></linearGradient><linearGradient id="b131" gradientUnits="userSpaceOnUse" x1="876.9" y1="1969.1" x2="876.2" y2="1966.6"><stop stop-color="#ff9700"/><stop offset="1" stop-color="#ff7800"/></linearGradient><linearGradient id="b132" gradientUnits="userSpaceOnUse" x1="845.6" y1="1985.1" x2="843.5" y2="1977.2"><stop stop-color="#ffbb00"/><stop offset="1" stop-color="#ff9400"/></linearGradient><linearGradient id="b133" gradientUnits="userSpaceOnUse" x1="814.9" y1="2006.4" x2="811.4" y2="1993.3"><stop stop-color="#ffe700"/><stop offset="1" stop-color="#ffb800"/></linearGradient><linearGradient id="b134" gradientUnits="userSpaceOnUse" x1="784.8" y1="2032.7" x2="780.0" y2="2014.8"><stop stop-color="#e4ff00"/><stop offset="1" stop-color="#ffe400"/></linearGradient><linearGradient id="b135" gradientUnits="userSpaceOnUse" x1="755.5" y1="2064.1" x2="749.2" y2="2041.4"><stop stop-color="#a8ff00"/><stop offset="1" stop-color="#e7ff00"/></linearGradient><linearGradient id="b136" gradientUnits="userSpaceOnUse" x1="726.8" y1="2100.3" x2="719.1" y2="2073.0"><stop stop-color="#65ff00"/><stop offset="1" stop-color="#acff00"/></linearGradient><linearGradient id="b137" gradientUnits="userSpaceOnUse" x1="698.7" y1="2141.0" x2="689.6" y2="2109.5"><stop stop-color="#1aff00"/><stop offset="1" stop-color="#69ff00"/></linearGradient><linearGradient id="b138" gradientUnits="userSpaceOnUse" x1="671.5" y1="2186.2" x2="660.9" y2="2150.6"><stop stop-color="#00ff38"/><stop offset="1" stop-color="#1eff00"/></linearGradient><linearGradient id="b139" gradientUnits="userSpaceOnUse" x1="644.9" y1="2235.6" x2="632.9" y2="2196.1"><stop stop-color="#00ff93"/><stop offset="1" stop-color="#00ff35"/></linearGradient><linearGradient id="b140" gradientUnits="userSpaceOnUse" x1="1305.8" y1="2232.4" x2="1283.3" y2="2170.3"><stop stop-color="#bbff00"/><stop offset="1" stop-color="#f5ff00"/></linearGradient><linearGradient id="b141" gradientUnits="userSpaceOnUse" x1="1267.9" y1="2176.4" x2="1248.2" y2="2120.1"><stop stop-color="#f4ff00"/><stop offset="1" stop-color="#ffd800"/></linearGradient><linearGradient id="b142" gradientUnits="userSpaceOnUse" x1="1230.4" y1="2126.7" x2="1213.2" y2="2076.3"><stop stop-color="#ffd800"/><stop offset="1" stop-color="#ffaf00"/></linearGradient><linearGradient id="b143" gradientUnits="userSpaceOnUse" x1="1193.1" y1="2083.3" x2="1178.4" y2="2038.9"><stop stop-color="#ffaf00"/><stop offset="1" stop-color="#ff8d00"/></linearGradient><linearGradient id="b144" gradientUnits="userSpaceOnUse" x1="1156.2" y1="2046.2" x2="1143.7" y2="2007.6"><stop stop-color="#ff8d00"/><stop offset="1" stop-color="#ff7300"/></linearGradient><linearGradient id="b145" gradientUnits="userSpaceOnUse" x1="1119.9" y1="2015.6" x2="1109.2" y2="1982.6"><stop stop-color="#ff7300"/><stop offset="1" stop-color="#ff6100"/></linearGradient><linearGradient id="b146" gradientUnits="userSpaceOnUse" x1="1084.1" y1="1991.4" x2="1074.8" y2="1963.4"><stop stop-color="#ff6100"/><stop offset="1" stop-color="#ff5600"/></linearGradient><linearGradient id="b147" gradientUnits="userSpaceOnUse" x1="1050.8" y1="1975.4" x2="1038.6" y2="1947.9"><stop stop-color="#ff5700"/><stop offset="1" stop-color="#ff5400"/></linearGradient><linearGradient id="b148" gradientUnits="userSpaceOnUse" x1="1008.8" y1="1944.7" x2="1012.4" y2="1960.1"><stop stop-color="#ff5a00"/><stop offset="1" stop-color="#ff5400"/></linearGradient><linearGradient id="b149" gradientUnits="userSpaceOnUse" x1="975.7" y1="1944.2" x2="978.2" y2="1953.6"><stop stop-color="#ff6700"/><stop offset="1" stop-color="#ff5900"/></linearGradient><linearGradient id="b150" gradientUnits="userSpaceOnUse" x1="943.2" y1="1949.2" x2="944.3" y2="1953.0"><stop stop-color="#ff7b00"/><stop offset="1" stop-color="#ff6600"/></linearGradient><linearGradient id="b151" gradientUnits="userSpaceOnUse" x1="911.3" y1="1959.8" x2="910.9" y2="1958.1"><stop stop-color="#ff9800"/><stop offset="1" stop-color="#ff7a00"/></linearGradient><linearGradient id="b152" gradientUnits="userSpaceOnUse" x1="880.0" y1="1975.8" x2="878.0" y2="1968.8"><stop stop-color="#ffbc00"/><stop offset="1" stop-color="#ff9700"/></linearGradient><linearGradient id="b153" gradientUnits="userSpaceOnUse" x1="849.2" y1="1997.1" x2="845.8" y2="1985.0"><stop stop-color="#ffe800"/><stop offset="1" stop-color="#ffbb00"/></linearGradient><linearGradient id="b154" gradientUnits="userSpaceOnUse" x1="819.1" y1="2023.5" x2="814.3" y2="2006.5"><stop stop-color="#e2ff00"/><stop offset="1" stop-color="#ffe700"/></linearGradient><linearGradient id="b155" gradientUnits="userSpaceOnUse" x1="789.6" y1="2054.8" x2="783.3" y2="2033.2"><stop stop-color="#a7ff00"/><stop offset="1" stop-color="#e4ff00"/></linearGradient><linearGradient id="b156" gradientUnits="userSpaceOnUse" x1="760.8" y1="2090.9" x2="753.1" y2="2064.8"><stop stop-color="#63ff00"/><stop offset="1" stop-color="#a8ff00"/></linearGradient><linearGradient id="b157" gradientUnits="userSpaceOnUse" x1="732.6" y1="2131.6" x2="723.5" y2="2101.2"><stop stop-color="#18ff00"/><stop offset="1" stop-color="#65ff00"/></linearGradient><linearGradient id="b158" gradientUnits="userSpaceOnUse" x1="705.2" y1="2176.7" x2="694.6" y2="2142.2"><stop stop-color="#00ff3b"/><stop offset="1" stop-color="#1aff00"/></linearGradient><linearGradient id="b159" gradientUnits="userSpaceOnUse" x1="678.4" y1="2226.0" x2="666.4" y2="2187.7"><stop stop-color="#00ff95"/><stop offset="1" stop-color="#00ff38"/></linearGradient><linearGradient id="b160" gradientUnits="userSpaceOnUse" x1="1339.1" y1="2219.5" x2="1317.4" y2="2156.4"><stop stop-color="#bcff00"/><stop offset="1" stop-color="#f7ff00"/></linearGradient><linearGradient id="b161" gradientUnits="userSpaceOnUse" x1="1301.4" y1="2164.1" x2="1282.5" y2="2106.7"><stop stop-color="#f5ff00"/><stop offset="1" stop-color="#ffd600"/></linearGradient><linearGradient id="b162" gradientUnits="userSpaceOnUse" x1="1263.9" y1="2114.9" x2="1247.6" y2="2063.3"><stop stop-color="#ffd800"/><stop offset="1" stop-color="#ffad00"/></linearGradient><linearGradient id="b163" gradientUnits="userSpaceOnUse" x1="1226.7" y1="2072.0" x2="1212.8" y2="2026.3"><stop stop-color="#ffaf00"/><stop offset="1" stop-color="#ff8c00"/></linearGradient><linearGradient id="b164" gradientUnits="userSpaceOnUse" x1="1189.8" y1="2035.3" x2="1178.3" y2="1995.6"><stop stop-color="#ff8d00"/><stop offset="1" stop-color="#ff7200"/></linearGradient><linearGradient id="b165" gradientUnits="userSpaceOnUse" x1="1153.4" y1="2004.9" x2="1144.0" y2="1971.1"><stop stop-color="#ff7300"/><stop offset="1" stop-color="#ff6000"/></linearGradient><linearGradient id="b166" gradientUnits="userSpaceOnUse" x1="1117.2" y1="1980.8" x2="1110.2" y2="1952.7"><stop stop-color="#ff6100"/><stop offset="1" stop-color="#ff5600"/></linearGradient><linearGradient id="b167" gradientUnits="userSpaceOnUse" x1="1080.7" y1="1963.1" x2="1077.5" y2="1940.2"><stop stop-color="#ff5700"/><stop offset="1" stop-color="#ff5400"/></linearGradient><linearGradient id="b168" gradientUnits="userSpaceOnUse" x1="1040.9" y1="1932.5" x2="1048.8" y2="1952.1"><stop stop-color="#ff5a00"/><stop offset="1" stop-color="#ff5400"/></linearGradient><linearGradient id="b169" gradientUnits="userSpaceOnUse" x1="1009.3" y1="1933.4" x2="1012.9" y2="1944.2"><stop stop-color="#ff6700"/><stop offset="1" stop-color="#ff5900"/></linearGradient><linearGradient id="b170" gradientUnits="userSpaceOnUse" x1="977.1" y1="1938.8" x2="978.6" y2="1943.5"><stop stop-color="#ff7b00"/><stop offset="1" stop-color="#ff6600"/></linearGradient><linearGradient id="b171" gradientUnits="userSpaceOnUse" x1="945.3" y1="1949.6" x2="945.0" y2="1948.7"><stop stop-color="#ff9800"/><stop offset="1" stop-color="#ff7b00"/></linearGradient><linearGradient id="b172" gradientUnits="userSpaceOnUse" x1="913.9" y1="1965.6" x2="912.1" y2="1959.5"><stop stop-color="#ffbc00"/><stop offset="1" stop-color="#ff9800"/></linearGradient><linearGradient id="b173" gradientUnits="userSpaceOnUse" x1="883.1" y1="1987.0" x2="879.8" y2="1975.9"><stop stop-color="#ffe800"/><stop offset="1" stop-color="#ffbc00"/></linearGradient><linearGradient id="b174" gradientUnits="userSpaceOnUse" x1="852.9" y1="2013.4" x2="848.1" y2="1997.4"><stop stop-color="#e2ff00"/><stop offset="1" stop-color="#ffe800"/></linearGradient><linearGradient id="b175" gradientUnits="userSpaceOnUse" x1="823.3" y1="2044.7" x2="817.1" y2="2024.1"><stop stop-color="#a6ff00"/><stop offset="1" stop-color="#e2ff00"/></linearGradient><linearGradient id="b176" gradientUnits="userSpaceOnUse" x1="794.3" y1="2080.8" x2="786.7" y2="2055.7"><stop stop-color="#63ff00"/><stop offset="1" stop-color="#a7ff00"/></linearGradient><linearGradient id="b177" gradientUnits="userSpaceOnUse" x1="766.0" y1="2121.4" x2="756.9" y2="2092.1"><stop stop-color="#18ff00"/><stop offset="1" stop-color="#63ff00"/></linearGradient><linearGradient id="b178" gradientUnits="userSpaceOnUse" x1="738.4" y1="2166.4" x2="727.9" y2="2133.1"><stop stop-color="#00ff3b"/><stop offset="1" stop-color="#18ff00"/></linearGradient><linearGradient id="b179" gradientUnits="userSpaceOnUse" x1="711.5" y1="2215.6" x2="699.5" y2="2178.5"><stop stop-color="#00ff96"/><stop offset="1" stop-color="#00ff3b"/></linearGradient><linearGradient id="b180" gradientUnits="userSpaceOnUse" x1="1372.0" y1="2205.8" x2="1351.1" y2="2141.6"><stop stop-color="#beff00"/><stop offset="1" stop-color="#faff00"/></linearGradient><linearGradient id="b181" gradientUnits="userSpaceOnUse" x1="1334.4" y1="2150.8" x2="1316.3" y2="2092.4"><stop stop-color="#f7ff00"/><stop offset="1" stop-color="#ffd300"/></linearGradient><linearGradient id="b182" gradientUnits="userSpaceOnUse" x1="1297.0" y1="2102.1" x2="1281.5" y2="2049.5"><stop stop-color="#ffd600"/><stop offset="1" stop-color="#ffaa00"/></linearGradient><linearGradient id="b183" gradientUnits="userSpaceOnUse" x1="1259.8" y1="2059.7" x2="1246.8" y2="2012.9"><stop stop-color="#ffad00"/><stop offset="1" stop-color="#ff8900"/></linearGradient><linearGradient id="b184" gradientUnits="userSpaceOnUse" x1="1223.0" y1="2023.5" x2="1212.4" y2="1982.6"><stop stop-color="#ff8c00"/><stop offset="1" stop-color="#ff6f00"/></linearGradient><linearGradient id="b185" gradientUnits="userSpaceOnUse" x1="1186.5" y1="1993.5" x2="1178.3" y2="1958.4"><stop stop-color="#ff7200"/><stop offset="1" stop-color="#ff5e00"/></linearGradient><linearGradient id="b186" gradientUnits="userSpaceOnUse" x1="1150.1" y1="1969.7" x2="1144.6" y2="1940.3"><stop stop-color="#ff6000"/><stop offset="1" stop-color="#ff5400"/></linearGradient><linearGradient id="b187" gradientUnits="userSpaceOnUse" x1="1112.8" y1="1952.1" x2="1112.7" y2="1928.2"><stop stop-color="#ff5600"/><stop offset="1" stop-color="#ff5100"/></linearGradient><linearGradient id="b188" gradientUnits="userSpaceOnUse" x1="1068.8" y1="1917.1" x2="1088.5" y2="1945.1"><stop stop-color="#ff5900"/><stop offset="1" stop-color="#ff5100"/></linearGradient><linearGradient id="b189" gradientUnits="userSpaceOnUse" x1="1042.1" y1="1920.9" x2="1047.6" y2="1934.6"><stop stop-color="#ff6600"/><stop offset="1" stop-color="#ff5700"/></linearGradient><linearGradient id="b190" gradientUnits="userSpaceOnUse" x1="1010.5" y1="1927.3" x2="1012.6" y2="1933.4"><stop stop-color="#ff7b00"/><stop offset="1" stop-color="#ff6400"/></linearGradient><linearGradient id="b191" gradientUnits="userSpaceOnUse" x1="978.8" y1="1938.5" x2="978.8" y2="1938.3"><stop stop-color="#ff9800"/><stop offset="1" stop-color="#ff7900"/></linearGradient><linearGradient id="b192" gradientUnits="userSpaceOnUse" x1="947.5" y1="1954.8" x2="945.7" y2="1949.2"><stop stop-color="#ffbc00"/><stop offset="1" stop-color="#ff9600"/></linearGradient><linearGradient id="b193" gradientUnits="userSpaceOnUse" x1="916.6" y1="1976.3" x2="913.2" y2="1965.5"><stop stop-color="#ffe800"/><stop offset="1" stop-color="#ffba00"/></linearGradient><linearGradient id="b194" gradientUnits="userSpaceOnUse" x1="886.4" y1="2002.7" x2="881.4" y2="1987.1"><stop stop-color="#e2ff00"/><stop offset="1" stop-color="#ffe700"/></linearGradient><linearGradient id="b195" gradientUnits="userSpaceOnUse" x1="856.6" y1="2034.1" x2="850.2" y2="2013.8"><stop stop-color="#a6ff00"/><stop offset="1" stop-color="#e3ff00"/></linearGradient><linearGradient id="b196" gradientUnits="userSpaceOnUse" x1="827.6" y1="2070.1" x2="819.7" y2="2045.4"><stop stop-color="#63ff00"/><stop offset="1" stop-color="#a7ff00"/></linearGradient><linearGradient id="b197" gradientUnits="userSpaceOnUse" x1="799.1" y1="2110.6" x2="789.8" y2="2081.8"><stop stop-color="#18ff00"/><stop offset="1" stop-color="#64ff00"/></linearGradient><linearGradient id="b198" gradientUnits="userSpaceOnUse" x1="771.3" y1="2155.5" x2="760.6" y2="2122.8"><stop stop-color="#00ff3b"/><stop offset="1" stop-color="#18ff00"/></linearGradient><linearGradient id="b199" gradientUnits="userSpaceOnUse" x1="744.2" y1="2204.6" x2="732.1" y2="2168.2"><stop stop-color="#00ff96"/><stop offset="1" stop-color="#00ff3b"/></linearGradient><linearGradient id="b200" gradientUnits="userSpaceOnUse" x1="1404.5" y1="2191.1" x2="1384.4" y2="2125.9"><stop stop-color="#c1ff00"/><stop offset="1" stop-color="#ffff00"/></linearGradient><linearGradient id="b201" gradientUnits="userSpaceOnUse" x1="1366.9" y1="2136.7" x2="1349.6" y2="2077.3"><stop stop-color="#faff00"/><stop offset="1" stop-color="#ffcf00"/></linearGradient><linearGradient id="b202" gradientUnits="userSpaceOnUse" x1="1329.6" y1="2088.5" x2="1315.0" y2="2034.9"><stop stop-color="#ffd300"/><stop offset="1" stop-color="#ffa600"/></linearGradient><linearGradient id="b203" gradientUnits="userSpaceOnUse" x1="1292.5" y1="2046.5" x2="1280.4" y2="1998.7"><stop stop-color="#ffaa00"/><stop offset="1" stop-color="#ff8500"/></linearGradient><linearGradient id="b204" gradientUnits="userSpaceOnUse" x1="1255.7" y1="2010.7" x2="1246.1" y2="1968.8"><stop stop-color="#ff8900"/><stop offset="1" stop-color="#ff6b00"/></linearGradient><linearGradient id="b205" gradientUnits="userSpaceOnUse" x1="1219.2" y1="1981.0" x2="1212.1" y2="1944.9"><stop stop-color="#ff6f00"/><stop offset="1" stop-color="#ff5a00"/></linearGradient><linearGradient id="b206" gradientUnits="userSpaceOnUse" x1="1182.7" y1="1957.5" x2="1178.6" y2="1927.1"><stop stop-color="#ff5e00"/><stop offset="1" stop-color="#ff5000"/></linearGradient><linearGradient id="b207" gradientUnits="userSpaceOnUse" x1="1145.1" y1="1939.9" x2="1147.0" y2="1915.6"><stop stop-color="#ff5400"/><stop offset="1" stop-color="#ff4e00"/></linearGradient><linearGradient id="b208" gradientUnits="userSpaceOnUse" x1="1091.2" y1="1904.3" x2="1132.8" y2="1933.6"><stop stop-color="#ff5700"/><stop offset="1" stop-color="#ff4e00"/></linearGradient><linearGradient id="b209" gradientUnits="userSpaceOnUse" x1="1073.8" y1="1907.4" x2="1082.4" y2="1924.4"><stop stop-color="#ff6400"/><stop offset="1" stop-color="#ff5300"/></linearGradient><linearGradient id="b210" gradientUnits="userSpaceOnUse" x1="1043.2" y1="1914.7" x2="1046.4" y2="1922.5"><stop stop-color="#ff7900"/><stop offset="1" stop-color="#ff6100"/></linearGradient><linearGradient id="b211" gradientUnits="userSpaceOnUse" x1="1011.8" y1="1926.4" x2="1012.2" y2="1927.3"><stop stop-color="#ff9600"/><stop offset="1" stop-color="#ff7600"/></linearGradient><linearGradient id="b212" gradientUnits="userSpaceOnUse" x1="980.6" y1="1943.1" x2="978.8" y2="1938.0"><stop stop-color="#ffba00"/><stop offset="1" stop-color="#ff9300"/></linearGradient><linearGradient id="b213" gradientUnits="userSpaceOnUse" x1="949.7" y1="1964.7" x2="946.2" y2="1954.3"><stop stop-color="#ffe700"/><stop offset="1" stop-color="#ffb800"/></linearGradient><linearGradient id="b214" gradientUnits="userSpaceOnUse" x1="919.4" y1="1991.3" x2="914.3" y2="1975.9"><stop stop-color="#e3ff00"/><stop offset="1" stop-color="#ffe400"/></linearGradient><linearGradient id="b215" gradientUnits="userSpaceOnUse" x1="889.6" y1="2022.7" x2="882.9" y2="2002.6"><stop stop-color="#a7ff00"/><stop offset="1" stop-color="#e6ff00"/></linearGradient><linearGradient id="b216" gradientUnits="userSpaceOnUse" x1="860.4" y1="2058.8" x2="852.3" y2="2034.2"><stop stop-color="#64ff00"/><stop offset="1" stop-color="#aaff00"/></linearGradient><linearGradient id="b217" gradientUnits="userSpaceOnUse" x1="831.8" y1="2099.3" x2="822.2" y2="2070.5"><stop stop-color="#18ff00"/><stop offset="1" stop-color="#66ff00"/></linearGradient><linearGradient id="b218" gradientUnits="userSpaceOnUse" x1="803.9" y1="2144.1" x2="792.9" y2="2111.5"><stop stop-color="#00ff3b"/><stop offset="1" stop-color="#1aff00"/></linearGradient><linearGradient id="b219" gradientUnits="userSpaceOnUse" x1="776.6" y1="2193.1" x2="764.2" y2="2156.8"><stop stop-color="#00ff96"/><stop offset="1" stop-color="#00ff39"/></linearGradient><linearGradient id="b220" gradientUnits="userSpaceOnUse" x1="1436.5" y1="2175.6" x2="1417.3" y2="2109.5"><stop stop-color="#c6ff00"/><stop offset="1" stop-color="#fff900"/></linearGradient><linearGradient id="b221" gradientUnits="userSpaceOnUse" x1="1399.1" y1="2121.7" x2="1382.6" y2="2061.3"><stop stop-color="#ffff00"/><stop offset="1" stop-color="#ffc900"/></linearGradient><linearGradient id="b222" gradientUnits="userSpaceOnUse" x1="1361.8" y1="2073.9" x2="1348.0" y2="2019.4"><stop stop-color="#ffcf00"/><stop offset="1" stop-color="#ffa000"/></linearGradient><linearGradient id="b223" gradientUnits="userSpaceOnUse" x1="1324.8" y1="2032.4" x2="1313.6" y2="1983.7"><stop stop-color="#ffa600"/><stop offset="1" stop-color="#ff7f00"/></linearGradient><linearGradient id="b224" gradientUnits="userSpaceOnUse" x1="1288.1" y1="1996.9" x2="1279.4" y2="1954.1"><stop stop-color="#ff8500"/><stop offset="1" stop-color="#ff6600"/></linearGradient><linearGradient id="b225" gradientUnits="userSpaceOnUse" x1="1251.5" y1="1967.7" x2="1245.4" y2="1930.6"><stop stop-color="#ff6b00"/><stop offset="1" stop-color="#ff5400"/></linearGradient><linearGradient id="b226" gradientUnits="userSpaceOnUse" x1="1215.0" y1="1944.4" x2="1212.1" y2="1913.2"><stop stop-color="#ff5a00"/><stop offset="1" stop-color="#ff4b00"/></linearGradient><linearGradient id="b227" gradientUnits="userSpaceOnUse" x1="1177.4" y1="1926.7" x2="1180.5" y2="1902.2"><stop stop-color="#ff5000"/><stop offset="1" stop-color="#ff4900"/></linearGradient><linearGradient id="b228" gradientUnits="userSpaceOnUse" x1="1113.4" y1="1900.1" x2="1176.5" y2="1911.7"><stop stop-color="#ff5300"/><stop offset="1" stop-color="#ff4900"/></linearGradient><linearGradient id="b229" gradientUnits="userSpaceOnUse" x1="1104.5" y1="1892.9" x2="1117.5" y2="1913.4"><stop stop-color="#ff6100"/><stop offset="1" stop-color="#ff4e00"/></linearGradient><linearGradient id="b230" gradientUnits="userSpaceOnUse" x1="1075.4" y1="1901.2" x2="1079.9" y2="1910.8"><stop stop-color="#ff7600"/><stop offset="1" stop-color="#ff5c00"/></linearGradient><linearGradient id="b231" gradientUnits="userSpaceOnUse" x1="1044.4" y1="1913.4" x2="1045.2" y2="1915.4"><stop stop-color="#ff9300"/><stop offset="1" stop-color="#ff7100"/></linearGradient><linearGradient id="b232" gradientUnits="userSpaceOnUse" x1="1013.2" y1="1930.4" x2="1011.6" y2="1926.1"><stop stop-color="#ffb800"/><stop offset="1" stop-color="#ff8e00"/></linearGradient><linearGradient id="b233" gradientUnits="userSpaceOnUse" x1="982.4" y1="1952.3" x2="978.8" y2="1942.3"><stop stop-color="#ffe400"/><stop offset="1" stop-color="#ffb300"/></linearGradient><linearGradient id="b234" gradientUnits="userSpaceOnUse" x1="952.0" y1="1979.0" x2="946.7" y2="1963.9"><stop stop-color="#e6ff00"/><stop offset="1" stop-color="#ffe000"/></linearGradient><linearGradient id="b235" gradientUnits="userSpaceOnUse" x1="922.2" y1="2010.5" x2="915.3" y2="1990.5"><stop stop-color="#aaff00"/><stop offset="1" stop-color="#eaff00"/></linearGradient><linearGradient id="b236" gradientUnits="userSpaceOnUse" x1="892.9" y1="2046.6" x2="884.4" y2="2022.1"><stop stop-color="#66ff00"/><stop offset="1" stop-color="#aeff00"/></linearGradient><linearGradient id="b237" gradientUnits="userSpaceOnUse" x1="864.2" y1="2087.1" x2="854.3" y2="2058.5"><stop stop-color="#1aff00"/><stop offset="1" stop-color="#6aff00"/></linearGradient><linearGradient id="b238" gradientUnits="userSpaceOnUse" x1="836.1" y1="2132.0" x2="824.8" y2="2099.4"><stop stop-color="#00ff39"/><stop offset="1" stop-color="#1eff00"/></linearGradient><linearGradient id="b239" gradientUnits="userSpaceOnUse" x1="808.7" y1="2180.9" x2="795.9" y2="2144.6"><stop stop-color="#00ff94"/><stop offset="1" stop-color="#00ff35"/></linearGradient><linearGradient id="b240" gradientUnits="userSpaceOnUse" x1="1468.1" y1="2159.2" x2="1449.8" y2="2092.2"><stop stop-color="#ccff00"/><stop offset="1" stop-color="#fff200"/></linearGradient><linearGradient id="b241" gradientUnits="userSpaceOnUse" x1="1430.8" y1="2105.8" x2="1415.2" y2="2044.5"><stop stop-color="#fff900"/><stop offset="1" stop-color="#ffc200"/></linearGradient><linearGradient id="b242" gradientUnits="userSpaceOnUse" x1="1393.7" y1="2058.5" x2="1380.7" y2="2003.1"><stop stop-color="#ffc900"/><stop offset="1" stop-color="#ff9900"/></linearGradient><linearGradient id="b243" gradientUnits="userSpaceOnUse" x1="1356.7" y1="2017.3" x2="1346.4" y2="1967.8"><stop stop-color="#ffa000"/><stop offset="1" stop-color="#ff7800"/></linearGradient><linearGradient id="b244" gradientUnits="userSpaceOnUse" x1="1320.0" y1="1982.3" x2="1312.2" y2="1938.6"><stop stop-color="#ff7f00"/><stop offset="1" stop-color="#ff5f00"/></linearGradient><linearGradient id="b245" gradientUnits="userSpaceOnUse" x1="1283.5" y1="1953.4" x2="1278.4" y2="1915.5"><stop stop-color="#ff6600"/><stop offset="1" stop-color="#ff4e00"/></linearGradient><linearGradient id="b246" gradientUnits="userSpaceOnUse" x1="1246.9" y1="1930.4" x2="1245.1" y2="1898.5"><stop stop-color="#ff5400"/><stop offset="1" stop-color="#ff4400"/></linearGradient><linearGradient id="b247" gradientUnits="userSpaceOnUse" x1="1209.5" y1="1912.7" x2="1213.4" y2="1888.0"><stop stop-color="#ff4b00"/><stop offset="1" stop-color="#ff4200"/></linearGradient><linearGradient id="b248" gradientUnits="userSpaceOnUse" x1="1144.9" y1="1899.1" x2="1210.0" y2="1884.8"><stop stop-color="#ff4e00"/><stop offset="1" stop-color="#ff4200"/></linearGradient><linearGradient id="b249" gradientUnits="userSpaceOnUse" x1="1133.8" y1="1877.7" x2="1153.1" y2="1901.4"><stop stop-color="#ff5c00"/><stop offset="1" stop-color="#ff4800"/></linearGradient><linearGradient id="b250" gradientUnits="userSpaceOnUse" x1="1106.9" y1="1886.7" x2="1113.2" y2="1898.5"><stop stop-color="#ff7100"/><stop offset="1" stop-color="#ff5600"/></linearGradient><linearGradient id="b251" gradientUnits="userSpaceOnUse" x1="1076.4" y1="1899.5" x2="1077.9" y2="1902.8"><stop stop-color="#ff8e00"/><stop offset="1" stop-color="#ff6b00"/></linearGradient><linearGradient id="b252" gradientUnits="userSpaceOnUse" x1="1045.5" y1="1916.9" x2="1044.0" y2="1913.3"><stop stop-color="#ffb300"/><stop offset="1" stop-color="#ff8900"/></linearGradient><linearGradient id="b253" gradientUnits="userSpaceOnUse" x1="1014.7" y1="1939.0" x2="1011.1" y2="1929.5"><stop stop-color="#ffe000"/><stop offset="1" stop-color="#ffae00"/></linearGradient><linearGradient id="b254" gradientUnits="userSpaceOnUse" x1="984.3" y1="1965.9" x2="978.8" y2="1951.1"><stop stop-color="#eaff00"/><stop offset="1" stop-color="#ffda00"/></linearGradient><linearGradient id="b255" gradientUnits="userSpaceOnUse" x1="954.3" y1="1997.5" x2="947.2" y2="1977.7"><stop stop-color="#aeff00"/><stop offset="1" stop-color="#efff00"/></linearGradient><linearGradient id="b256" gradientUnits="userSpaceOnUse" x1="924.9" y1="2033.6" x2="916.2" y2="2009.3"><stop stop-color="#6aff00"/><stop offset="1" stop-color="#b3ff00"/></linearGradient><linearGradient id="b257" gradientUnits="userSpaceOnUse" x1="896.1" y1="2074.2" x2="885.9" y2="2045.6"><stop stop-color="#1eff00"/><stop offset="1" stop-color="#6fff00"/></linearGradient><linearGradient id="b258" gradientUnits="userSpaceOnUse" x1="867.9" y1="2119.0" x2="856.2" y2="2086.5"><stop stop-color="#00ff35"/><stop offset="1" stop-color="#23ff00"/></linearGradient><linearGradient id="b259" gradientUnits="userSpaceOnUse" x1="840.3" y1="2167.9" x2="827.2" y2="2131.7"><stop stop-color="#00ff91"/><stop offset="1" stop-color="#00ff31"/></linearGradient><linearGradient id="b260" gradientUnits="userSpaceOnUse" x1="1499.4" y1="2142.0" x2="1481.9" y2="2074.2"><stop stop-color="#d4ff00"/><stop offset="1" stop-color="#ffe900"/></linearGradient><linearGradient id="b261" gradientUnits="userSpaceOnUse" x1="1462.2" y1="2089.0" x2="1447.5" y2="2027.0"><stop stop-color="#fff200"/><stop offset="1" stop-color="#ffb900"/></linearGradient><linearGradient id="b262" gradientUnits="userSpaceOnUse" x1="1425.1" y1="2042.2" x2="1413.1" y2="1986.0"><stop stop-color="#ffc200"/><stop offset="1" stop-color="#ff9000"/></linearGradient><linearGradient id="b263" gradientUnits="userSpaceOnUse" x1="1388.3" y1="2001.5" x2="1378.8" y2="1951.1"><stop stop-color="#ff9900"/><stop offset="1" stop-color="#ff7000"/></linearGradient><linearGradient id="b264" gradientUnits="userSpaceOnUse" x1="1351.6" y1="1966.8" x2="1344.7" y2="1922.3"><stop stop-color="#ff7800"/><stop offset="1" stop-color="#ff5700"/></linearGradient><linearGradient id="b265" gradientUnits="userSpaceOnUse" x1="1315.1" y1="1938.2" x2="1310.9" y2="1899.6"><stop stop-color="#ff5f00"/><stop offset="1" stop-color="#ff4600"/></linearGradient><linearGradient id="b266" gradientUnits="userSpaceOnUse" x1="1278.5" y1="1915.4" x2="1277.7" y2="1883.0"><stop stop-color="#ff4e00"/><stop offset="1" stop-color="#ff3c00"/></linearGradient><linearGradient id="b267" gradientUnits="userSpaceOnUse" x1="1241.3" y1="1897.9" x2="1245.8" y2="1872.9"><stop stop-color="#ff4400"/><stop offset="1" stop-color="#ff3a00"/></linearGradient><linearGradient id="b268" gradientUnits="userSpaceOnUse" x1="1181.9" y1="1892.2" x2="1237.0" y2="1862.3"><stop stop-color="#ff4800"/><stop offset="1" stop-color="#ff3a00"/></linearGradient><linearGradient id="b269" gradientUnits="userSpaceOnUse" x1="1161.6" y1="1862.3" x2="1189.5" y2="1887.9"><stop stop-color="#ff5600"/><stop offset="1" stop-color="#ff4100"/></linearGradient><linearGradient id="b270" gradientUnits="userSpaceOnUse" x1="1137.8" y1="1871.3" x2="1146.5" y2="1885.4"><stop stop-color="#ff6b00"/><stop offset="1" stop-color="#ff4e00"/></linearGradient><linearGradient id="b271" gradientUnits="userSpaceOnUse" x1="1108.0" y1="1884.7" x2="1110.3" y2="1889.4"><stop stop-color="#ff8900"/><stop offset="1" stop-color="#ff6400"/></linearGradient><linearGradient id="b272" gradientUnits="userSpaceOnUse" x1="1077.3" y1="1902.5" x2="1076.1" y2="1899.8"><stop stop-color="#ffae00"/><stop offset="1" stop-color="#ff8100"/></linearGradient><linearGradient id="b273" gradientUnits="userSpaceOnUse" x1="1046.5" y1="1924.8" x2="1042.9" y2="1916.0"><stop stop-color="#ffda00"/><stop offset="1" stop-color="#ffa700"/></linearGradient><linearGradient id="b274" gradientUnits="userSpaceOnUse" x1="1016.1" y1="1951.9" x2="1010.5" y2="1937.5"><stop stop-color="#efff00"/><stop offset="1" stop-color="#ffd300"/></linearGradient><linearGradient id="b275" gradientUnits="userSpaceOnUse" x1="986.1" y1="1983.6" x2="978.7" y2="1964.1"><stop stop-color="#b3ff00"/><stop offset="1" stop-color="#f6ff00"/></linearGradient><linearGradient id="b276" gradientUnits="userSpaceOnUse" x1="956.6" y1="2019.8" x2="947.6" y2="1995.7"><stop stop-color="#6fff00"/><stop offset="1" stop-color="#b9ff00"/></linearGradient><linearGradient id="b277" gradientUnits="userSpaceOnUse" x1="927.7" y1="2060.4" x2="917.2" y2="2032.0"><stop stop-color="#23ff00"/><stop offset="1" stop-color="#75ff00"/></linearGradient><linearGradient id="b278" gradientUnits="userSpaceOnUse" x1="899.4" y1="2105.3" x2="887.3" y2="2072.8"><stop stop-color="#00ff31"/><stop offset="1" stop-color="#29ff00"/></linearGradient><linearGradient id="b279" gradientUnits="userSpaceOnUse" x1="871.6" y1="2154.2" x2="858.2" y2="2118.0"><stop stop-color="#00ff8c"/><stop offset="1" stop-color="#00ff2a"/></linearGradient><linearGradient id="b280" gradientUnits="userSpaceOnUse" x1="1530.3" y1="2123.9" x2="1513.7" y2="2055.3"><stop stop-color="#ddff00"/><stop offset="1" stop-color="#ffdf00"/></linearGradient><linearGradient id="b281" gradientUnits="userSpaceOnUse" x1="1493.2" y1="2071.4" x2="1479.3" y2="2008.6"><stop stop-color="#ffe900"/><stop offset="1" stop-color="#ffaf00"/></linearGradient><linearGradient id="b282" gradientUnits="userSpaceOnUse" x1="1456.2" y1="2025.0" x2="1445.0" y2="1968.1"><stop stop-color="#ffb900"/><stop offset="1" stop-color="#ff8600"/></linearGradient><linearGradient id="b283" gradientUnits="userSpaceOnUse" x1="1419.4" y1="1984.7" x2="1410.8" y2="1933.6"><stop stop-color="#ff9000"/><stop offset="1" stop-color="#ff6600"/></linearGradient><linearGradient id="b284" gradientUnits="userSpaceOnUse" x1="1382.8" y1="1950.4" x2="1376.7" y2="1905.3"><stop stop-color="#ff7000"/><stop offset="1" stop-color="#ff4d00"/></linearGradient><linearGradient id="b285" gradientUnits="userSpaceOnUse" x1="1346.3" y1="1922.1" x2="1343.0" y2="1883.0"><stop stop-color="#ff5700"/><stop offset="1" stop-color="#ff3c00"/></linearGradient><linearGradient id="b286" gradientUnits="userSpaceOnUse" x1="1309.8" y1="1899.6" x2="1309.8" y2="1866.7"><stop stop-color="#ff4600"/><stop offset="1" stop-color="#ff3300"/></linearGradient><linearGradient id="b287" gradientUnits="userSpaceOnUse" x1="1272.8" y1="1882.3" x2="1277.7" y2="1857.0"><stop stop-color="#ff3c00"/><stop offset="1" stop-color="#ff3100"/></linearGradient><linearGradient id="b288" gradientUnits="userSpaceOnUse" x1="1218.7" y1="1880.0" x2="1263.6" y2="1843.5"><stop stop-color="#ff4100"/><stop offset="1" stop-color="#ff3100"/></linearGradient><linearGradient id="b289" gradientUnits="userSpaceOnUse" x1="1188.0" y1="1847.3" x2="1226.5" y2="1872.2"><stop stop-color="#ff4e00"/><stop offset="1" stop-color="#ff3700"/></linearGradient><linearGradient id="b290" gradientUnits="userSpaceOnUse" x1="1167.9" y1="1855.0" x2="1179.7" y2="1871.5"><stop stop-color="#ff6400"/><stop offset="1" stop-color="#ff4600"/></linearGradient><linearGradient id="b291" gradientUnits="userSpaceOnUse" x1="1139.1" y1="1869.0" x2="1142.5" y2="1875.3"><stop stop-color="#ff8100"/><stop offset="1" stop-color="#ff5b00"/></linearGradient><linearGradient id="b292" gradientUnits="userSpaceOnUse" x1="1108.6" y1="1887.2" x2="1107.9" y2="1885.6"><stop stop-color="#ffa700"/><stop offset="1" stop-color="#ff7900"/></linearGradient><linearGradient id="b293" gradientUnits="userSpaceOnUse" x1="1078.0" y1="1909.8" x2="1074.4" y2="1901.6"><stop stop-color="#ffd300"/><stop offset="1" stop-color="#ff9e00"/></linearGradient><linearGradient id="b294" gradientUnits="userSpaceOnUse" x1="1047.5" y1="1937.1" x2="1041.8" y2="1923.1"><stop stop-color="#f6ff00"/><stop offset="1" stop-color="#ffcb00"/></linearGradient><linearGradient id="b295" gradientUnits="userSpaceOnUse" x1="1017.5" y1="1968.9" x2="1009.9" y2="1949.8"><stop stop-color="#b9ff00"/><stop offset="1" stop-color="#feff00"/></linearGradient><linearGradient id="b296" gradientUnits="userSpaceOnUse" x1="987.9" y1="2005.2" x2="978.7" y2="1981.4"><stop stop-color="#75ff00"/><stop offset="1" stop-color="#c1ff00"/></linearGradient><linearGradient id="b297" gradientUnits="userSpaceOnUse" x1="958.9" y1="2045.9" x2="948.1" y2="2017.6"><stop stop-color="#29ff00"/><stop offset="1" stop-color="#7dff00"/></linearGradient><linearGradient id="b298" gradientUnits="userSpaceOnUse" x1="930.4" y1="2090.8" x2="918.1" y2="2058.4"><stop stop-color="#00ff2a"/><stop offset="1" stop-color="#31ff00"/></linearGradient><linearGradient id="b299" gradientUnits="userSpaceOnUse" x1="902.6" y1="2139.6" x2="888.8" y2="2103.6"><stop stop-color="#00ff86"/><stop offset="1" stop-color="#00ff23"/></linearGradient><linearGradient id="b300" gradientUnits="userSpaceOnUse" x1="1560.9" y1="2105.0" x2="1545.1" y2="2035.7"><stop stop-color="#e7ff00"/><stop offset="1" stop-color="#ffd300"/></linearGradient><linearGradient id="b301" gradientUnits="userSpaceOnUse" x1="1523.9" y1="2053.0" x2="1510.8" y2="1989.5"><stop stop-color="#ffdf00"/><stop offset="1" stop-color="#ffa300"/></linearGradient><linearGradient id="b302" gradientUnits="userSpaceOnUse" x1="1487.0" y1="2007.0" x2="1476.6" y2="1949.4"><stop stop-color="#ffaf00"/><stop offset="1" stop-color="#ff7b00"/></linearGradient><linearGradient id="b303" gradientUnits="userSpaceOnUse" x1="1450.3" y1="1967.1" x2="1442.4" y2="1915.4"><stop stop-color="#ff8600"/><stop offset="1" stop-color="#ff5b00"/></linearGradient><linearGradient id="b304" gradientUnits="userSpaceOnUse" x1="1413.7" y1="1933.2" x2="1408.4" y2="1887.4"><stop stop-color="#ff6600"/><stop offset="1" stop-color="#ff4200"/></linearGradient><linearGradient id="b305" gradientUnits="userSpaceOnUse" x1="1377.3" y1="1905.2" x2="1374.8" y2="1865.5"><stop stop-color="#ff4d00"/><stop offset="1" stop-color="#ff3100"/></linearGradient><linearGradient id="b306" gradientUnits="userSpaceOnUse" x1="1340.8" y1="1882.9" x2="1341.6" y2="1849.6"><stop stop-color="#ff3c00"/><stop offset="1" stop-color="#ff2800"/></linearGradient><linearGradient id="b307" gradientUnits="userSpaceOnUse" x1="1304.0" y1="1865.8" x2="1309.3" y2="1840.3"><stop stop-color="#ff3300"/><stop offset="1" stop-color="#ff2700"/></linearGradient><linearGradient id="b308" gradientUnits="userSpaceOnUse" x1="1253.8" y1="1864.9" x2="1291.2" y2="1826.0"><stop stop-color="#ff3700"/><stop offset="1" stop-color="#ff2700"/></linearGradient><linearGradient id="b309" gradientUnits="userSpaceOnUse" x1="1213.8" y1="1833.7" x2="1263.5" y2="1853.7"><stop stop-color="#ff4600"/><stop offset="1" stop-color="#ff2d00"/></linearGradient><linearGradient id="b310" gradientUnits="userSpaceOnUse" x1="1197.1" y1="1838.0" x2="1213.1" y2="1856.7"><stop stop-color="#ff5b00"/><stop offset="1" stop-color="#ff3b00"/></linearGradient><linearGradient id="b311" gradientUnits="userSpaceOnUse" x1="1169.6" y1="1852.4" x2="1174.5" y2="1860.4"><stop stop-color="#ff7900"/><stop offset="1" stop-color="#ff5100"/></linearGradient><linearGradient id="b312" gradientUnits="userSpaceOnUse" x1="1139.6" y1="1871.0" x2="1139.3" y2="1870.5"><stop stop-color="#ff9e00"/><stop offset="1" stop-color="#ff6f00"/></linearGradient><linearGradient id="b313" gradientUnits="userSpaceOnUse" x1="1109.0" y1="1894.0" x2="1105.7" y2="1886.6"><stop stop-color="#ffcb00"/><stop offset="1" stop-color="#ff9400"/></linearGradient><linearGradient id="b314" gradientUnits="userSpaceOnUse" x1="1078.6" y1="1921.4" x2="1072.9" y2="1908.1"><stop stop-color="#feff00"/><stop offset="1" stop-color="#ffc100"/></linearGradient><linearGradient id="b315" gradientUnits="userSpaceOnUse" x1="1048.5" y1="1953.4" x2="1040.8" y2="1934.7"><stop stop-color="#c1ff00"/><stop offset="1" stop-color="#fff600"/></linearGradient><linearGradient id="b316" gradientUnits="userSpaceOnUse" x1="1018.9" y1="1989.9" x2="1009.4" y2="1966.3"><stop stop-color="#7dff00"/><stop offset="1" stop-color="#cbff00"/></linearGradient><linearGradient id="b317" gradientUnits="userSpaceOnUse" x1="989.8" y1="2030.6" x2="978.6" y2="2002.5"><stop stop-color="#31ff00"/><stop offset="1" stop-color="#86ff00"/></linearGradient><linearGradient id="b318" gradientUnits="userSpaceOnUse" x1="961.2" y1="2075.5" x2="948.5" y2="2043.3"><stop stop-color="#00ff23"/><stop offset="1" stop-color="#3aff00"/></linearGradient><linearGradient id="b319" gradientUnits="userSpaceOnUse" x1="933.2" y1="2124.4" x2="919.0" y2="2088.4"><stop stop-color="#00ff7f"/><stop offset="1" stop-color="#00ff1a"/></linearGradient><linearGradient id="b320" gradientUnits="userSpaceOnUse" x1="1591.1" y1="2085.3" x2="1576.2" y2="2015.3"><stop stop-color="#f3ff00"/><stop offset="1" stop-color="#ffc600"/></linearGradient><linearGradient id="b321" gradientUnits="userSpaceOnUse" x1="1554.2" y1="2033.7" x2="1542.0" y2="1969.5"><stop stop-color="#ffd300"/><stop offset="1" stop-color="#ff9600"/></linearGradient><linearGradient id="b322" gradientUnits="userSpaceOnUse" x1="1517.4" y1="1988.2" x2="1507.8" y2="1929.9"><stop stop-color="#ffa300"/><stop offset="1" stop-color="#ff6e00"/></linearGradient><linearGradient id="b323" gradientUnits="userSpaceOnUse" x1="1480.8" y1="1948.7" x2="1473.7" y2="1896.3"><stop stop-color="#ff7b00"/><stop offset="1" stop-color="#ff4e00"/></linearGradient><linearGradient id="b324" gradientUnits="userSpaceOnUse" x1="1444.3" y1="1915.1" x2="1439.8" y2="1868.8"><stop stop-color="#ff5b00"/><stop offset="1" stop-color="#ff3600"/></linearGradient><linearGradient id="b325" gradientUnits="userSpaceOnUse" x1="1407.9" y1="1887.4" x2="1406.1" y2="1847.2"><stop stop-color="#ff4200"/><stop offset="1" stop-color="#ff2500"/></linearGradient><linearGradient id="b326" gradientUnits="userSpaceOnUse" x1="1371.5" y1="1865.4" x2="1372.9" y2="1831.7"><stop stop-color="#ff3100"/><stop offset="1" stop-color="#ff1c00"/></linearGradient><linearGradient id="b327" gradientUnits="userSpaceOnUse" x1="1334.9" y1="1848.6" x2="1340.5" y2="1822.7"><stop stop-color="#ff2800"/><stop offset="1" stop-color="#ff1b00"/></linearGradient><linearGradient id="b328" gradientUnits="userSpaceOnUse" x1="1287.6" y1="1848.1" x2="1319.5" y2="1808.4"><stop stop-color="#ff2d00"/><stop offset="1" stop-color="#ff1b00"/></linearGradient><linearGradient id="b329" gradientUnits="userSpaceOnUse" x1="1240.0" y1="1821.4" x2="1299.3" y2="1832.1"><stop stop-color="#ff3b00"/><stop offset="1" stop-color="#ff2100"/></linearGradient><linearGradient id="b330" gradientUnits="userSpaceOnUse" x1="1225.5" y1="1820.4" x2="1246.7" y2="1840.9"><stop stop-color="#ff5100"/><stop offset="1" stop-color="#ff3000"/></linearGradient><linearGradient id="b331" gradientUnits="userSpaceOnUse" x1="1199.6" y1="1834.9" x2="1206.4" y2="1844.9"><stop stop-color="#ff6f00"/><stop offset="1" stop-color="#ff4600"/></linearGradient><linearGradient id="b332" gradientUnits="userSpaceOnUse" x1="1170.1" y1="1853.9" x2="1170.6" y2="1854.8"><stop stop-color="#ff9400"/><stop offset="1" stop-color="#ff6300"/></linearGradient><linearGradient id="b333" gradientUnits="userSpaceOnUse" x1="1139.7" y1="1877.3" x2="1136.6" y2="1870.8"><stop stop-color="#ffc100"/><stop offset="1" stop-color="#ff8900"/></linearGradient><linearGradient id="b334" gradientUnits="userSpaceOnUse" x1="1109.3" y1="1905.0" x2="1103.6" y2="1892.2"><stop stop-color="#fff600"/><stop offset="1" stop-color="#ffb600"/></linearGradient><linearGradient id="b335" gradientUnits="userSpaceOnUse" x1="1079.2" y1="1937.1" x2="1071.3" y2="1918.9"><stop stop-color="#cbff00"/><stop offset="1" stop-color="#ffeb00"/></linearGradient><linearGradient id="b336" gradientUnits="userSpaceOnUse" x1="1049.5" y1="1973.7" x2="1039.8" y2="1950.4"><stop stop-color="#86ff00"/><stop offset="1" stop-color="#d6ff00"/></linearGradient><linearGradient id="b337" gradientUnits="userSpaceOnUse" x1="1020.3" y1="2014.5" x2="1008.9" y2="1986.7"><stop stop-color="#3aff00"/><stop offset="1" stop-color="#91ff00"/></linearGradient><linearGradient id="b338" gradientUnits="userSpaceOnUse" x1="991.6" y1="2059.4" x2="978.6" y2="2027.5"><stop stop-color="#00ff1a"/><stop offset="1" stop-color="#45ff00"/></linearGradient><linearGradient id="b339" gradientUnits="userSpaceOnUse" x1="963.4" y1="2108.4" x2="948.9" y2="2072.6"><stop stop-color="#00ff76"/><stop offset="1" stop-color="#00ff10"/></linearGradient><linearGradient id="b340" gradientUnits="userSpaceOnUse" x1="1621.1" y1="2064.7" x2="1607.0" y2="1994.1"><stop stop-color="#fffe00"/><stop offset="1" stop-color="#ffb800"/></linearGradient><linearGradient id="b341" gradientUnits="userSpaceOnUse" x1="1584.3" y1="2013.7" x2="1572.9" y2="1948.8"><stop stop-color="#ffc600"/><stop offset="1" stop-color="#ff8800"/></linearGradient><linearGradient id="b342" gradientUnits="userSpaceOnUse" x1="1547.6" y1="1968.6" x2="1538.8" y2="1909.7"><stop stop-color="#ff9600"/><stop offset="1" stop-color="#ff6000"/></linearGradient><linearGradient id="b343" gradientUnits="userSpaceOnUse" x1="1511.0" y1="1929.4" x2="1504.7" y2="1876.5"><stop stop-color="#ff6e00"/><stop offset="1" stop-color="#ff4000"/></linearGradient><linearGradient id="b344" gradientUnits="userSpaceOnUse" x1="1474.6" y1="1896.2" x2="1470.8" y2="1849.4"><stop stop-color="#ff4e00"/><stop offset="1" stop-color="#ff2800"/></linearGradient><linearGradient id="b345" gradientUnits="userSpaceOnUse" x1="1438.2" y1="1868.8" x2="1437.1" y2="1828.2"><stop stop-color="#ff3600"/><stop offset="1" stop-color="#ff1700"/></linearGradient><linearGradient id="b346" gradientUnits="userSpaceOnUse" x1="1401.9" y1="1847.1" x2="1403.9" y2="1813.1"><stop stop-color="#ff2500"/><stop offset="1" stop-color="#ff0e00"/></linearGradient><linearGradient id="b347" gradientUnits="userSpaceOnUse" x1="1365.4" y1="1830.6" x2="1371.3" y2="1804.3"><stop stop-color="#ff1c00"/><stop offset="1" stop-color="#ff0d00"/></linearGradient><linearGradient id="b348" gradientUnits="userSpaceOnUse" x1="1320.2" y1="1830.3" x2="1348.2" y2="1790.4"><stop stop-color="#ff2100"/><stop offset="1" stop-color="#ff0d00"/></linearGradient><linearGradient id="b349" gradientUnits="userSpaceOnUse" x1="1268.0" y1="1809.7" x2="1332.6" y2="1808.3"><stop stop-color="#ff3000"/><stop offset="1" stop-color="#ff1400"/></linearGradient><linearGradient id="b350" gradientUnits="userSpaceOnUse" x1="1252.9" y1="1802.4" x2="1280.5" y2="1823.9"><stop stop-color="#ff4600"/><stop offset="1" stop-color="#ff2200"/></linearGradient><linearGradient id="b351" gradientUnits="userSpaceOnUse" x1="1229.0" y1="1816.6" x2="1238.2" y2="1828.5"><stop stop-color="#ff6300"/><stop offset="1" stop-color="#ff3900"/></linearGradient><linearGradient id="b352" gradientUnits="userSpaceOnUse" x1="1200.2" y1="1836.1" x2="1201.6" y2="1838.4"><stop stop-color="#ff8900"/><stop offset="1" stop-color="#ff5700"/></linearGradient><linearGradient id="b353" gradientUnits="userSpaceOnUse" x1="1170.0" y1="1859.7" x2="1167.2" y2="1854.3"><stop stop-color="#ffb600"/><stop offset="1" stop-color="#ff7c00"/></linearGradient><linearGradient id="b354" gradientUnits="userSpaceOnUse" x1="1139.7" y1="1887.7" x2="1133.9" y2="1875.7"><stop stop-color="#ffeb00"/><stop offset="1" stop-color="#ffaa00"/></linearGradient><linearGradient id="b355" gradientUnits="userSpaceOnUse" x1="1109.6" y1="1920.1" x2="1101.5" y2="1902.3"><stop stop-color="#d6ff00"/><stop offset="1" stop-color="#ffdf00"/></linearGradient><linearGradient id="b356" gradientUnits="userSpaceOnUse" x1="1079.8" y1="1956.8" x2="1069.8" y2="1933.8"><stop stop-color="#91ff00"/><stop offset="1" stop-color="#e2ff00"/></linearGradient><linearGradient id="b357" gradientUnits="userSpaceOnUse" x1="1050.5" y1="1997.7" x2="1038.8" y2="1970.1"><stop stop-color="#45ff00"/><stop offset="1" stop-color="#9dff00"/></linearGradient><linearGradient id="b358" gradientUnits="userSpaceOnUse" x1="1021.6" y1="2042.7" x2="1008.3" y2="2010.9"><stop stop-color="#00ff10"/><stop offset="1" stop-color="#50ff00"/></linearGradient><linearGradient id="b359" gradientUnits="userSpaceOnUse" x1="993.4" y1="2091.6" x2="978.5" y2="2056.0"><stop stop-color="#00ff6c"/><stop offset="1" stop-color="#00ff04"/></linearGradient><linearGradient id="b360" gradientUnits="userSpaceOnUse" x1="1650.7" y1="2043.4" x2="1637.5" y2="1972.2"><stop stop-color="#ffef00"/><stop offset="1" stop-color="#ffa800"/></linearGradient><linearGradient id="b361" gradientUnits="userSpaceOnUse" x1="1614.0" y1="1992.8" x2="1603.4" y2="1927.4"><stop stop-color="#ffb800"/><stop offset="1" stop-color="#ff7800"/></linearGradient><linearGradient id="b362" gradientUnits="userSpaceOnUse" x1="1577.4" y1="1948.1" x2="1569.3" y2="1888.7"><stop stop-color="#ff8800"/><stop offset="1" stop-color="#ff5100"/></linearGradient><linearGradient id="b363" gradientUnits="userSpaceOnUse" x1="1540.9" y1="1909.4" x2="1535.3" y2="1855.9"><stop stop-color="#ff6000"/><stop offset="1" stop-color="#ff3100"/></linearGradient><linearGradient id="b364" gradientUnits="userSpaceOnUse" x1="1504.5" y1="1876.5" x2="1501.4" y2="1829.2"><stop stop-color="#ff4000"/><stop offset="1" stop-color="#ff1900"/></linearGradient><linearGradient id="b365" gradientUnits="userSpaceOnUse" x1="1468.3" y1="1849.4" x2="1467.8" y2="1808.4"><stop stop-color="#ff2800"/><stop offset="1" stop-color="#ff0800"/></linearGradient><linearGradient id="b366" gradientUnits="userSpaceOnUse" x1="1432.0" y1="1828.0" x2="1434.5" y2="1793.6"><stop stop-color="#ff1700"/><stop offset="1" stop-color="#ff0000"/></linearGradient><linearGradient id="b367" gradientUnits="userSpaceOnUse" x1="1395.7" y1="1811.8" x2="1401.7" y2="1785.2"><stop stop-color="#ff0e00"/><stop offset="1" stop-color="#ff0000"/></linearGradient><linearGradient id="b368" gradientUnits="userSpaceOnUse" x1="1352.0" y1="1811.6" x2="1377.1" y2="1771.7"><stop stop-color="#ff1400"/><stop offset="1" stop-color="#ff0000"/></linearGradient><linearGradient id="b369" gradientUnits="userSpaceOnUse" x1="1298.0" y1="1797.4" x2="1363.4" y2="1783.7"><stop stop-color="#ff2200"/><stop offset="1" stop-color="#ff0500"/></linearGradient><linearGradient id="b370" gradientUnits="userSpaceOnUse" x1="1279.5" y1="1784.2" x2="1314.6" y2="1805.5"><stop stop-color="#ff3900"/><stop offset="1" stop-color="#ff1400"/></linearGradient><linearGradient id="b371" gradientUnits="userSpaceOnUse" x1="1257.8" y1="1797.6" x2="1269.9" y2="1811.4"><stop stop-color="#ff5700"/><stop offset="1" stop-color="#ff2a00"/></linearGradient><linearGradient id="b372" gradientUnits="userSpaceOnUse" x1="1229.8" y1="1817.4" x2="1232.4" y2="1821.3"><stop stop-color="#ff7c00"/><stop offset="1" stop-color="#ff4800"/></linearGradient><linearGradient id="b373" gradientUnits="userSpaceOnUse" x1="1200.0" y1="1841.4" x2="1197.5" y2="1837.0"><stop stop-color="#ffaa00"/><stop offset="1" stop-color="#ff6e00"/></linearGradient><linearGradient id="b374" gradientUnits="userSpaceOnUse" x1="1169.7" y1="1869.7" x2="1164.0" y2="1858.4"><stop stop-color="#ffdf00"/><stop offset="1" stop-color="#ff9c00"/></linearGradient><linearGradient id="b375" gradientUnits="userSpaceOnUse" x1="1139.6" y1="1902.2" x2="1131.4" y2="1885.0"><stop stop-color="#e2ff00"/><stop offset="1" stop-color="#ffd100"/></linearGradient><linearGradient id="b376" gradientUnits="userSpaceOnUse" x1="1109.7" y1="1939.0" x2="1099.6" y2="1916.6"><stop stop-color="#9dff00"/><stop offset="1" stop-color="#efff00"/></linearGradient><linearGradient id="b377" gradientUnits="userSpaceOnUse" x1="1080.3" y1="1980.1" x2="1068.4" y2="1952.8"><stop stop-color="#50ff00"/><stop offset="1" stop-color="#aaff00"/></linearGradient><linearGradient id="b378" gradientUnits="userSpaceOnUse" x1="1051.4" y1="2025.2" x2="1037.8" y2="1993.6"><stop stop-color="#00ff04"/><stop offset="1" stop-color="#5eff00"/></linearGradient><linearGradient id="b379" gradientUnits="userSpaceOnUse" x1="1023.0" y1="2074.2" x2="1007.8" y2="2038.7"><stop stop-color="#00ff60"/><stop offset="1" stop-color="#09ff00"/></linearGradient><linearGradient id="b380" gradientUnits="userSpaceOnUse" x1="1680.1" y1="2021.3" x2="1667.6" y2="1949.5"><stop stop-color="#ffdf00"/><stop offset="1" stop-color="#ff9700"/></linearGradient><linearGradient id="b381" gradientUnits="userSpaceOnUse" x1="1643.5" y1="1971.1" x2="1633.6" y2="1905.2"><stop stop-color="#ffa800"/><stop offset="1" stop-color="#ff6700"/></linearGradient><linearGradient id="b382" gradientUnits="userSpaceOnUse" x1="1606.9" y1="1926.9" x2="1599.6" y2="1866.9"><stop stop-color="#ff7800"/><stop offset="1" stop-color="#ff4000"/></linearGradient><linearGradient id="b383" gradientUnits="userSpaceOnUse" x1="1570.5" y1="1888.5" x2="1565.6" y2="1834.6"><stop stop-color="#ff5100"/><stop offset="1" stop-color="#ff2000"/></linearGradient><linearGradient id="b384" gradientUnits="userSpaceOnUse" x1="1534.2" y1="1856.0" x2="1531.8" y2="1808.2"><stop stop-color="#ff3100"/><stop offset="1" stop-color="#ff0800"/></linearGradient><linearGradient id="b385" gradientUnits="userSpaceOnUse" x1="1498.0" y1="1829.2" x2="1498.1" y2="1787.8"><stop stop-color="#ff1900"/><stop offset="1" stop-color="#ff0000"/></linearGradient><linearGradient id="b386" gradientUnits="userSpaceOnUse" x1="1461.9" y1="1808.1" x2="1464.8" y2="1773.4"><stop stop-color="#ff0800"/><stop offset="1" stop-color="#ff0000"/></linearGradient><linearGradient id="b388" gradientUnits="userSpaceOnUse" x1="1383.2" y1="1792.0" x2="1406.0" y2="1752.2"><stop stop-color="#ff0500"/><stop offset="1" stop-color="#ff0000"/></linearGradient><linearGradient id="b389" gradientUnits="userSpaceOnUse" x1="1329.4" y1="1783.4" x2="1392.0" y2="1759.1"><stop stop-color="#ff1400"/><stop offset="1" stop-color="#ff0000"/></linearGradient><linearGradient id="b390" gradientUnits="userSpaceOnUse" x1="1305.5" y1="1766.3" x2="1348.7" y2="1785.3"><stop stop-color="#ff2a00"/><stop offset="1" stop-color="#ff0400"/></linearGradient><linearGradient id="b391" gradientUnits="userSpaceOnUse" x1="1285.9" y1="1777.8" x2="1301.7" y2="1793.5"><stop stop-color="#ff4800"/><stop offset="1" stop-color="#ff1b00"/></linearGradient><linearGradient id="b392" gradientUnits="userSpaceOnUse" x1="1259.0" y1="1797.8" x2="1263.0" y2="1803.4"><stop stop-color="#ff6e00"/><stop offset="1" stop-color="#ff3900"/></linearGradient><linearGradient id="b393" gradientUnits="userSpaceOnUse" x1="1229.5" y1="1822.2" x2="1227.6" y2="1819.1"><stop stop-color="#ff9c00"/><stop offset="1" stop-color="#ff5f00"/></linearGradient><linearGradient id="b394" gradientUnits="userSpaceOnUse" x1="1199.4" y1="1850.8" x2="1193.9" y2="1840.4"><stop stop-color="#ffd100"/><stop offset="1" stop-color="#ff8d00"/></linearGradient><linearGradient id="b395" gradientUnits="userSpaceOnUse" x1="1169.3" y1="1883.6" x2="1161.1" y2="1867.0"><stop stop-color="#efff00"/><stop offset="1" stop-color="#ffc200"/></linearGradient><linearGradient id="b396" gradientUnits="userSpaceOnUse" x1="1139.4" y1="1920.6" x2="1129.0" y2="1898.6"><stop stop-color="#aaff00"/><stop offset="1" stop-color="#feff00"/></linearGradient><linearGradient id="b397" gradientUnits="userSpaceOnUse" x1="1109.9" y1="1961.7" x2="1097.7" y2="1934.8"><stop stop-color="#5eff00"/><stop offset="1" stop-color="#b9ff00"/></linearGradient><linearGradient id="b398" gradientUnits="userSpaceOnUse" x1="1080.8" y1="2006.9" x2="1066.9" y2="1975.6"><stop stop-color="#09ff00"/><stop offset="1" stop-color="#6cff00"/></linearGradient><linearGradient id="b399" gradientUnits="userSpaceOnUse" x1="1052.3" y1="2056.0" x2="1036.8" y2="2020.7"><stop stop-color="#00ff53"/><stop offset="1" stop-color="#18ff00"/></linearGradient></defs>
<g stroke="#000" stroke-width="2" stroke-linejoin="round"><path d="M1044.5,2023.0L1073.6,2004.6L1044.5,2053.7L1015.6,2072.1Z" fill="url(#b399)"/><path d="M1015.2,2040.8L1044.5,2023.0L1015.6,2072.1L986.3,2089.8Z" fill="url(#b379)"/><path d="M1074.1,1978.0L1103.3,1959.5L1073.6,2004.6L1044.5,2023.0Z" fill="url(#b398)"/><path d="M985.5,2057.8L1015.2,2040.8L986.3,2089.8L956.8,2106.8Z" fill="url(#b359)"/><path d="M1044.6,1995.8L1074.1,1978.0L1044.5,2023.0L1015.2,2040.8Z" fill="url(#b378)"/><path d="M955.5,2074.1L985.5,2057.8L956.8,2106.8L927.0,2123.1Z" fill="url(#b339)"/><path d="M1104.2,1937.1L1133.5,1918.6L1103.3,1959.5L1074.1,1978.0Z" fill="url(#b397)"/><path d="M1014.8,2012.8L1044.6,1995.8L1015.2,2040.8L985.5,2057.8Z" fill="url(#b358)"/><path d="M925.2,2089.7L955.5,2074.1L927.0,2123.1L896.8,2138.7Z" fill="url(#b319)"/><path d="M1074.6,1955.0L1104.2,1937.1L1074.1,1978.0L1044.6,1995.8Z" fill="url(#b377)"/><path d="M984.6,2029.1L1014.8,2012.8L985.5,2057.8L955.5,2074.1Z" fill="url(#b338)"/><path d="M894.5,2104.5L925.2,2089.7L896.8,2138.7L866.3,2153.6Z" fill="url(#b299)"/><path d="M1134.8,1900.6L1164.3,1882.0L1133.5,1918.6L1104.2,1937.1Z" fill="url(#b396)"/><path d="M1044.6,1972.1L1074.6,1955.0L1044.6,1995.8L1014.8,2012.8Z" fill="url(#b357)"/><path d="M954.1,2044.7L984.6,2029.1L955.5,2074.1L925.2,2089.7Z" fill="url(#b318)"/><path d="M863.5,2118.6L894.5,2104.5L866.3,2153.6L835.4,2167.7Z" fill="url(#b279)"/><path d="M1105.1,1918.5L1134.8,1900.6L1104.2,1937.1L1074.6,1955.0Z" fill="url(#b376)"/><path d="M1014.3,1988.4L1044.6,1972.1L1014.8,2012.8L984.6,2029.1Z" fill="url(#b337)"/><path d="M923.3,2059.5L954.1,2044.7L925.2,2089.7L894.5,2104.5Z" fill="url(#b298)"/><path d="M832.1,2131.9L863.5,2118.6L835.4,2167.7L804.2,2181.1Z" fill="url(#b259)"/><path d="M1166.0,1868.7L1195.6,1849.9L1164.3,1882.0L1134.8,1900.6Z" fill="url(#b395)"/><path d="M1075.0,1935.7L1105.1,1918.5L1074.6,1955.0L1044.6,1972.1Z" fill="url(#b356)"/><path d="M983.7,2004.0L1014.3,1988.4L984.6,2029.1L954.1,2044.7Z" fill="url(#b317)"/><path d="M892.2,2073.6L923.3,2059.5L894.5,2104.5L863.5,2118.6Z" fill="url(#b278)"/><path d="M1136.1,1886.6L1166.0,1868.7L1134.8,1900.6L1105.1,1918.5Z" fill="url(#b375)"/><path d="M800.3,2144.5L832.1,2131.9L804.2,2181.1L772.6,2193.7Z" fill="url(#b239)"/><path d="M1044.6,1952.1L1075.0,1935.7L1044.6,1972.1L1014.3,1988.4Z" fill="url(#b336)"/><path d="M952.8,2018.9L983.7,2004.0L954.1,2044.7L923.3,2059.5Z" fill="url(#b297)"/><path d="M1197.7,1841.4L1227.3,1822.5L1195.6,1849.9L1166.0,1868.7Z" fill="url(#b394)"/><path d="M860.6,2086.9L892.2,2073.6L863.5,2118.6L832.1,2131.9Z" fill="url(#b258)"/><path d="M1106.0,1903.9L1136.1,1886.6L1105.1,1918.5L1075.0,1935.7Z" fill="url(#b355)"/><path d="M768.2,2156.2L800.3,2144.5L772.6,2193.7L740.6,2205.5Z" fill="url(#b219)"/><path d="M1013.9,1967.7L1044.6,1952.1L1014.3,1988.4L983.7,2004.0Z" fill="url(#b316)"/><path d="M921.5,2032.9L952.8,2018.9L923.3,2059.5L892.2,2073.6Z" fill="url(#b277)"/><path d="M1167.7,1859.5L1197.7,1841.4L1166.0,1868.7L1136.1,1886.6Z" fill="url(#b374)"/><path d="M828.7,2099.4L860.6,2086.9L832.1,2131.9L800.3,2144.5Z" fill="url(#b238)"/><path d="M1075.5,1920.4L1106.0,1903.9L1075.0,1935.7L1044.6,1952.1Z" fill="url(#b335)"/><path d="M735.6,2167.2L768.2,2156.2L740.6,2205.5L708.2,2216.6Z" fill="url(#b199)"/><path d="M1229.8,1818.9L1259.5,1799.9L1227.3,1822.5L1197.7,1841.4Z" fill="url(#b393)"/><path d="M982.8,1982.6L1013.9,1967.7L983.7,2004.0L952.8,2018.9Z" fill="url(#b296)"/><path d="M1137.5,1876.8L1167.7,1859.5L1136.1,1886.6L1106.0,1903.9Z" fill="url(#b354)"/><path d="M889.8,2046.2L921.5,2032.9L892.2,2073.6L860.6,2086.9Z" fill="url(#b257)"/><path d="M796.4,2111.1L828.7,2099.4L800.3,2144.5L768.2,2156.2Z" fill="url(#b218)"/><path d="M1044.7,1936.1L1075.5,1920.4L1044.6,1952.1L1013.9,1967.7Z" fill="url(#b315)"/><path d="M1199.8,1837.1L1229.8,1818.9L1197.7,1841.4L1167.7,1859.5Z" fill="url(#b373)"/><path d="M702.7,2177.4L735.6,2167.2L708.2,2216.6L675.5,2226.9Z" fill="url(#b179)"/><path d="M951.4,1996.7L982.8,1982.6L952.8,2018.9L921.5,2032.9Z" fill="url(#b276)"/><path d="M1106.9,1893.4L1137.5,1876.8L1106.0,1903.9L1075.5,1920.4Z" fill="url(#b334)"/><path d="M1262.4,1801.4L1292.2,1782.3L1259.5,1799.9L1229.8,1818.9Z" fill="url(#b392)"/><path d="M857.8,2058.7L889.8,2046.2L860.6,2086.9L828.7,2099.4Z" fill="url(#b237)"/><path d="M1013.5,1951.0L1044.7,1936.1L1013.9,1967.7L982.8,1982.6Z" fill="url(#b295)"/><path d="M763.7,2122.1L796.4,2111.1L768.2,2156.2L735.6,2167.2Z" fill="url(#b198)"/><path d="M1169.4,1854.6L1199.8,1837.1L1167.7,1859.5L1137.5,1876.8Z" fill="url(#b353)"/><path d="M669.3,2186.8L702.7,2177.4L675.5,2226.9L642.2,2236.3Z" fill="url(#b159)"/><path d="M919.6,2010.0L951.4,1996.7L921.5,2032.9L889.8,2046.2Z" fill="url(#b256)"/><path d="M1076.0,1909.2L1106.9,1893.4L1075.5,1920.4L1044.7,1936.1Z" fill="url(#b314)"/><path d="M1232.3,1819.8L1262.4,1801.4L1229.8,1818.9L1199.8,1837.1Z" fill="url(#b372)"/><path d="M825.3,2070.4L857.8,2058.7L828.7,2099.4L796.4,2111.1Z" fill="url(#b217)"/><path d="M982.0,1965.2L1013.5,1951.0L982.8,1982.6L951.4,1996.7Z" fill="url(#b275)"/><path d="M1295.4,1789.1L1325.2,1769.7L1292.2,1782.3L1262.4,1801.4Z" fill="url(#b391)"/><path d="M1138.8,1871.3L1169.4,1854.6L1137.5,1876.8L1106.9,1893.4Z" fill="url(#b333)"/><path d="M730.6,2132.2L763.7,2122.1L735.6,2167.2L702.7,2177.4Z" fill="url(#b178)"/><path d="M887.4,2022.5L919.6,2010.0L889.8,2046.2L857.8,2058.7Z" fill="url(#b236)"/><path d="M635.4,2195.3L669.3,2186.8L642.2,2236.3L608.6,2245.0Z" fill="url(#b139)"/><path d="M1201.9,1837.4L1232.3,1819.8L1199.8,1837.1L1169.4,1854.6Z" fill="url(#b352)"/><path d="M1044.7,1924.2L1076.0,1909.2L1044.7,1936.1L1013.5,1951.0Z" fill="url(#b294)"/><path d="M792.5,2081.3L825.3,2070.4L796.4,2111.1L763.7,2122.1Z" fill="url(#b197)"/><path d="M1265.3,1807.6L1295.4,1789.1L1262.4,1801.4L1232.3,1819.8Z" fill="url(#b371)"/><path d="M950.0,1978.5L982.0,1965.2L951.4,1996.7L919.6,2010.0Z" fill="url(#b255)"/><path d="M1107.8,1887.2L1138.8,1871.3L1106.9,1893.4L1076.0,1909.2Z" fill="url(#b313)"/><path d="M697.0,2141.5L730.6,2132.2L702.7,2177.4L669.3,2186.8Z" fill="url(#b158)"/><path d="M1328.8,1782.0L1358.7,1762.4L1325.2,1769.7L1295.4,1789.1Z" fill="url(#b390)"/><path d="M854.9,2034.2L887.4,2022.5L857.8,2058.7L825.3,2070.4Z" fill="url(#b216)"/><path d="M1171.2,1854.3L1201.9,1837.4L1169.4,1854.6L1138.8,1871.3Z" fill="url(#b332)"/><path d="M1013.1,1938.4L1044.7,1924.2L1013.5,1951.0L982.0,1965.2Z" fill="url(#b274)"/><path d="M601.1,2203.0L635.4,2195.3L608.6,2245.0L574.5,2252.8Z" fill="url(#b119)"/><path d="M759.2,2091.4L792.5,2081.3L763.7,2122.1L730.6,2132.2Z" fill="url(#b177)"/><path d="M1234.8,1825.4L1265.3,1807.6L1232.3,1819.8L1201.9,1837.4Z" fill="url(#b351)"/><path d="M917.7,1991.0L950.0,1978.5L919.6,2010.0L887.4,2022.5Z" fill="url(#b235)"/><path d="M1076.4,1902.3L1107.8,1887.2L1076.0,1909.2L1044.7,1924.2Z" fill="url(#b293)"/><path d="M1298.6,1800.7L1328.8,1782.0L1295.4,1789.1L1265.3,1807.6Z" fill="url(#b370)"/><path d="M663.0,2149.9L697.0,2141.5L669.3,2186.8L635.4,2195.3Z" fill="url(#b138)"/><path d="M1140.1,1870.3L1171.2,1854.3L1138.8,1871.3L1107.8,1887.2Z" fill="url(#b312)"/><path d="M821.9,2045.1L854.9,2034.2L825.3,2070.4L792.5,2081.3Z" fill="url(#b196)"/><path d="M1362.6,1780.2L1392.5,1760.5L1358.7,1762.4L1328.8,1782.0Z" fill="url(#b389)"/><path d="M981.1,1951.8L1013.1,1938.4L982.0,1965.2L950.0,1978.5Z" fill="url(#b254)"/><path d="M566.3,2209.8L601.1,2203.0L574.5,2252.8L539.9,2259.8Z" fill="url(#b99)"/><path d="M1204.0,1842.4L1234.8,1825.4L1201.9,1837.4L1171.2,1854.3Z" fill="url(#b331)"/><path d="M725.5,2100.6L759.2,2091.4L730.6,2132.2L697.0,2141.5Z" fill="url(#b157)"/><path d="M1044.7,1916.6L1076.4,1902.3L1044.7,1924.2L1013.1,1938.4Z" fill="url(#b273)"/><path d="M885.1,2002.8L917.7,1991.0L887.4,2022.5L854.9,2034.2Z" fill="url(#b215)"/><path d="M1268.1,1818.7L1298.6,1800.7L1265.3,1807.6L1234.8,1825.4Z" fill="url(#b350)"/><path d="M628.5,2157.5L663.0,2149.9L635.4,2195.3L601.1,2203.0Z" fill="url(#b118)"/><path d="M1108.7,1885.6L1140.1,1870.3L1107.8,1887.2L1076.4,1902.3Z" fill="url(#b292)"/><path d="M1332.4,1799.2L1362.6,1780.2L1328.8,1782.0L1298.6,1800.7Z" fill="url(#b369)"/><path d="M788.5,2055.1L821.9,2045.1L792.5,2081.3L759.2,2091.4Z" fill="url(#b176)"/><path d="M948.7,1964.4L981.1,1951.8L950.0,1978.5L917.7,1991.0Z" fill="url(#b234)"/><path d="M1396.7,1784.0L1426.6,1764.0L1392.5,1760.5L1362.6,1780.2Z" fill="url(#b388)"/><path d="M531.0,2215.8L566.3,2209.8L539.9,2259.8L504.8,2265.9Z" fill="url(#b79)"/><path d="M1172.9,1858.6L1204.0,1842.4L1171.2,1854.3L1140.1,1870.3Z" fill="url(#b311)"/><path d="M691.3,2108.9L725.5,2100.6L697.0,2141.5L663.0,2149.9Z" fill="url(#b137)"/><path d="M1012.6,1930.1L1044.7,1916.6L1013.1,1938.4L981.1,1951.8Z" fill="url(#b253)"/><path d="M851.9,2013.6L885.1,2002.8L854.9,2034.2L821.9,2045.1Z" fill="url(#b195)"/><path d="M1237.3,1835.9L1268.1,1818.7L1234.8,1825.4L1204.0,1842.4Z" fill="url(#b330)"/><path d="M1301.8,1817.4L1332.4,1799.2L1298.6,1800.7L1268.1,1818.7Z" fill="url(#b349)"/><path d="M1076.9,1900.0L1108.7,1885.6L1076.4,1902.3L1044.7,1916.6Z" fill="url(#b272)"/><path d="M593.5,2164.2L628.5,2157.5L601.1,2203.0L566.3,2209.8Z" fill="url(#b98)"/><path d="M915.9,1976.2L948.7,1964.4L917.7,1991.0L885.1,2002.8Z" fill="url(#b214)"/><path d="M1366.4,1803.3L1396.7,1784.0L1362.6,1780.2L1332.4,1799.2Z" fill="url(#b368)"/><path d="M754.6,2064.3L788.5,2055.1L759.2,2091.4L725.5,2100.6Z" fill="url(#b156)"/><path d="M1431.1,1793.4L1461.0,1773.1L1426.6,1764.0L1396.7,1784.0Z" fill="#ff0000"/><path d="M1141.4,1874.0L1172.9,1858.6L1140.1,1870.3L1108.7,1885.6Z" fill="url(#b291)"/><path d="M495.2,2220.9L531.0,2215.8L504.8,2265.9L469.2,2271.2Z" fill="url(#b59)"/><path d="M980.1,1942.8L1012.6,1930.1L981.1,1951.8L948.7,1964.4Z" fill="url(#b233)"/><path d="M1206.1,1852.3L1237.3,1835.9L1204.0,1842.4L1172.9,1858.6Z" fill="url(#b310)"/><path d="M656.6,2116.4L691.3,2108.9L663.0,2149.9L628.5,2157.5Z" fill="url(#b117)"/><path d="M818.4,2023.7L851.9,2013.6L821.9,2045.1L788.5,2055.1Z" fill="url(#b175)"/><path d="M1271.0,1834.9L1301.8,1817.4L1268.1,1818.7L1237.3,1835.9Z" fill="url(#b329)"/><path d="M1044.7,1913.6L1076.9,1900.0L1044.7,1916.6L1012.6,1930.1Z" fill="url(#b252)"/><path d="M1335.9,1821.7L1366.4,1803.3L1332.4,1799.2L1301.8,1817.4Z" fill="url(#b348)"/><path d="M558.1,2170.0L593.5,2164.2L566.3,2209.8L531.0,2215.8Z" fill="url(#b78)"/><path d="M882.6,1987.1L915.9,1976.2L885.1,2002.8L851.9,2013.6Z" fill="url(#b194)"/><path d="M1400.8,1812.9L1431.1,1793.4L1396.7,1784.0L1366.4,1803.3Z" fill="url(#b367)"/><path d="M720.3,2072.6L754.6,2064.3L725.5,2100.6L691.3,2108.9Z" fill="url(#b136)"/><path d="M1465.7,1808.4L1495.6,1787.8L1461.0,1773.1L1431.1,1793.4Z" fill="url(#b386)"/><path d="M1109.6,1888.6L1141.4,1874.0L1108.7,1885.6L1076.9,1900.0Z" fill="url(#b271)"/><path d="M458.9,2225.0L495.2,2220.9L469.2,2271.2L433.1,2275.5Z" fill="url(#b39)"/><path d="M1174.6,1867.9L1206.1,1852.3L1172.9,1858.6L1141.4,1874.0Z" fill="url(#b290)"/><path d="M947.3,1954.7L980.1,1942.8L948.7,1964.4L915.9,1976.2Z" fill="url(#b213)"/><path d="M621.5,2123.0L656.6,2116.4L628.5,2157.5L593.5,2164.2Z" fill="url(#b97)"/><path d="M784.4,2032.8L818.4,2023.7L788.5,2055.1L754.6,2064.3Z" fill="url(#b155)"/><path d="M1239.8,1851.5L1271.0,1834.9L1237.3,1835.9L1206.1,1852.3Z" fill="url(#b309)"/><path d="M1012.2,1926.4L1044.7,1913.6L1012.6,1930.1L980.1,1942.8Z" fill="url(#b232)"/><path d="M1305.0,1839.4L1335.9,1821.7L1301.8,1817.4L1271.0,1834.9Z" fill="url(#b328)"/><path d="M1370.3,1831.6L1400.8,1812.9L1366.4,1803.3L1335.9,1821.7Z" fill="url(#b347)"/><path d="M1435.5,1828.3L1465.7,1808.4L1431.1,1793.4L1400.8,1812.9Z" fill="url(#b366)"/><path d="M849.0,1997.2L882.6,1987.1L851.9,2013.6L818.4,2023.7Z" fill="url(#b174)"/><path d="M1500.5,1829.3L1530.4,1808.3L1495.6,1787.8L1465.7,1808.4Z" fill="url(#b385)"/><path d="M522.1,2174.9L558.1,2170.0L531.0,2215.8L495.2,2220.9Z" fill="url(#b58)"/><path d="M1077.4,1902.4L1109.6,1888.6L1076.9,1900.0L1044.7,1913.6Z" fill="url(#b251)"/><path d="M685.5,2080.1L720.3,2072.6L691.3,2108.9L656.6,2116.4Z" fill="url(#b116)"/><path d="M1142.8,1882.7L1174.6,1867.9L1141.4,1874.0L1109.6,1888.6Z" fill="url(#b270)"/><path d="M914.0,1965.6L947.3,1954.7L915.9,1976.2L882.6,1987.1Z" fill="url(#b193)"/><path d="M422.0,2228.3L458.9,2225.0L433.1,2275.5L396.4,2279.0Z" fill="url(#b19)"/><path d="M1208.3,1867.3L1239.8,1851.5L1206.1,1852.3L1174.6,1867.9Z" fill="url(#b289)"/><path d="M750.0,2041.1L784.4,2032.8L754.6,2064.3L720.3,2072.6Z" fill="url(#b135)"/><path d="M585.8,2128.8L621.5,2123.0L593.5,2164.2L558.1,2170.0Z" fill="url(#b77)"/><path d="M1273.8,1856.2L1305.0,1839.4L1271.0,1834.9L1239.8,1851.5Z" fill="url(#b308)"/><path d="M979.2,1938.3L1012.2,1926.4L980.1,1942.8L947.3,1954.7Z" fill="url(#b212)"/><path d="M1339.4,1849.6L1370.3,1831.6L1335.9,1821.7L1305.0,1839.4Z" fill="url(#b327)"/><path d="M1535.6,1856.0L1565.4,1834.7L1530.4,1808.3L1500.5,1829.3Z" fill="url(#b384)"/><path d="M1405.0,1847.3L1435.5,1828.3L1400.8,1812.9L1370.3,1831.6Z" fill="url(#b346)"/><path d="M1470.4,1849.4L1500.5,1829.3L1465.7,1808.4L1435.5,1828.3Z" fill="url(#b365)"/><path d="M814.9,2006.3L849.0,1997.2L818.4,2023.7L784.4,2032.8Z" fill="url(#b154)"/><path d="M1044.8,1915.3L1077.4,1902.4L1044.7,1913.6L1012.2,1926.4Z" fill="url(#b231)"/><path d="M485.5,2178.9L522.1,2174.9L495.2,2220.9L458.9,2225.0Z" fill="url(#b38)"/><path d="M650.2,2086.6L685.5,2080.1L656.6,2116.4L621.5,2123.0Z" fill="url(#b96)"/><path d="M1110.5,1896.6L1142.8,1882.7L1109.6,1888.6L1077.4,1902.4Z" fill="url(#b250)"/><path d="M880.2,1975.7L914.0,1965.6L882.6,1987.1L849.0,1997.2Z" fill="url(#b173)"/><path d="M1176.4,1882.3L1208.3,1867.3L1174.6,1867.9L1142.8,1882.7Z" fill="url(#b269)"/><path d="M715.0,2048.5L750.0,2041.1L720.3,2072.6L685.5,2080.1Z" fill="url(#b115)"/><path d="M1570.8,1888.5L1600.6,1866.8L1565.4,1834.7L1535.6,1856.0Z" fill="url(#b383)"/><path d="M1242.3,1872.3L1273.8,1856.2L1239.8,1851.5L1208.3,1867.3Z" fill="url(#b288)"/><path d="M549.7,2133.5L585.8,2128.8L558.1,2170.0L522.1,2174.9Z" fill="url(#b57)"/><path d="M1505.4,1876.5L1535.6,1856.0L1500.5,1829.3L1470.4,1849.4Z" fill="url(#b364)"/><path d="M945.9,1949.4L979.2,1938.3L947.3,1954.7L914.0,1965.6Z" fill="url(#b192)"/><path d="M1308.2,1866.7L1339.4,1849.6L1305.0,1839.4L1273.8,1856.2Z" fill="url(#b307)"/><path d="M1439.9,1868.8L1470.4,1849.4L1435.5,1828.3L1405.0,1847.3Z" fill="url(#b345)"/><path d="M1374.1,1865.6L1405.0,1847.3L1370.3,1831.6L1339.4,1849.6Z" fill="url(#b326)"/><path d="M1011.8,1927.4L1044.8,1915.3L1012.2,1926.4L979.2,1938.3Z" fill="url(#b211)"/><path d="M780.3,2014.6L814.9,2006.3L784.4,2032.8L750.0,2041.1Z" fill="url(#b134)"/><path d="M614.4,2092.2L650.2,2086.6L621.5,2123.0L585.8,2128.8Z" fill="url(#b76)"/><path d="M448.5,2182.0L485.5,2178.9L458.9,2225.0L422.0,2228.3Z" fill="url(#b18)"/><path d="M1077.9,1909.7L1110.5,1896.6L1077.4,1902.4L1044.8,1915.3Z" fill="url(#b230)"/><path d="M1606.0,1927.0L1635.8,1904.9L1600.6,1866.8L1570.8,1888.5Z" fill="url(#b382)"/><path d="M846.0,1985.0L880.2,1975.7L849.0,1997.2L814.9,2006.3Z" fill="url(#b153)"/><path d="M1144.1,1896.4L1176.4,1882.3L1142.8,1882.7L1110.5,1896.6Z" fill="url(#b249)"/><path d="M1540.7,1909.4L1570.8,1888.5L1535.6,1856.0L1505.4,1876.5Z" fill="url(#b363)"/><path d="M1210.4,1887.5L1242.3,1872.3L1208.3,1867.3L1176.4,1882.3Z" fill="url(#b268)"/><path d="M1475.0,1896.2L1505.4,1876.5L1470.4,1849.4L1439.9,1868.8Z" fill="url(#b344)"/><path d="M1276.7,1883.0L1308.2,1866.7L1273.8,1856.2L1242.3,1872.3Z" fill="url(#b287)"/><path d="M679.6,2055.0L715.0,2048.5L685.5,2080.1L650.2,2086.6Z" fill="url(#b95)"/><path d="M1409.1,1887.4L1439.9,1868.8L1405.0,1847.3L1374.1,1865.6Z" fill="url(#b325)"/><path d="M1342.9,1883.0L1374.1,1865.6L1339.4,1849.6L1308.2,1866.7Z" fill="url(#b306)"/><path d="M912.0,1959.6L945.9,1949.4L914.0,1965.6L880.2,1975.7Z" fill="url(#b172)"/><path d="M513.0,2137.4L549.7,2133.5L522.1,2174.9L485.5,2178.9Z" fill="url(#b37)"/><path d="M1641.4,1971.5L1671.0,1949.0L1635.8,1904.9L1606.0,1927.0Z" fill="url(#b381)"/><path d="M978.3,1938.6L1011.8,1927.4L979.2,1938.3L945.9,1949.4Z" fill="url(#b191)"/><path d="M745.3,2022.0L780.3,2014.6L750.0,2041.1L715.0,2048.5Z" fill="url(#b114)"/><path d="M1576.0,1948.4L1606.0,1927.0L1570.8,1888.5L1540.7,1909.4Z" fill="url(#b362)"/><path d="M1044.8,1921.9L1077.9,1909.7L1044.8,1915.3L1011.8,1927.4Z" fill="url(#b210)"/><path d="M578.1,2096.9L614.4,2092.2L585.8,2128.8L549.7,2133.5Z" fill="url(#b56)"/><path d="M1510.3,1929.6L1540.7,1909.4L1505.4,1876.5L1475.0,1896.2Z" fill="url(#b343)"/><path d="M1111.4,1909.7L1144.1,1896.4L1110.5,1896.6L1077.9,1909.7Z" fill="url(#b229)"/><path d="M811.4,1993.3L846.0,1985.0L814.9,2006.3L780.3,2014.6Z" fill="url(#b133)"/><path d="M1444.2,1915.2L1475.0,1896.2L1439.9,1868.8L1409.1,1887.4Z" fill="url(#b324)"/><path d="M1178.1,1901.9L1210.4,1887.5L1176.4,1882.3L1144.1,1896.4Z" fill="url(#b248)"/><path d="M1676.7,2022.0L1706.3,1999.0L1671.0,1949.0L1641.4,1971.5Z" fill="url(#b380)"/><path d="M1377.9,1905.2L1409.1,1887.4L1374.1,1865.6L1342.9,1883.0Z" fill="url(#b305)"/><path d="M1244.8,1898.5L1276.7,1883.0L1242.3,1872.3L1210.4,1887.5Z" fill="url(#b267)"/><path d="M1311.4,1899.6L1342.9,1883.0L1308.2,1866.7L1276.7,1883.0Z" fill="url(#b286)"/><path d="M643.7,2060.6L679.6,2055.0L650.2,2086.6L614.4,2092.2Z" fill="url(#b75)"/><path d="M877.8,1968.9L912.0,1959.6L880.2,1975.7L846.0,1985.0Z" fill="url(#b152)"/><path d="M1611.4,1993.3L1641.4,1971.5L1606.0,1927.0L1576.0,1948.4Z" fill="url(#b361)"/><path d="M475.7,2140.3L513.0,2137.4L485.5,2178.9L448.5,2182.0Z" fill="url(#b17)"/><path d="M944.4,1948.9L978.3,1938.6L945.9,1949.4L912.0,1959.6Z" fill="url(#b171)"/><path d="M1545.7,1968.9L1576.0,1948.4L1540.7,1909.4L1510.3,1929.6Z" fill="url(#b342)"/><path d="M709.8,2028.5L745.3,2022.0L715.0,2048.5L679.6,2055.0Z" fill="url(#b94)"/><path d="M1011.3,1933.3L1044.8,1921.9L1011.8,1927.4L978.3,1938.6Z" fill="url(#b190)"/><path d="M1479.6,1948.9L1510.3,1929.6L1475.0,1896.2L1444.2,1915.2Z" fill="url(#b323)"/><path d="M541.2,2100.6L578.1,2096.9L549.7,2133.5L513.0,2137.4Z" fill="url(#b36)"/><path d="M1078.3,1922.1L1111.4,1909.7L1077.9,1909.7L1044.8,1921.9Z" fill="url(#b209)"/><path d="M1646.8,2044.2L1676.7,2022.0L1641.4,1971.5L1611.4,1993.3Z" fill="url(#b360)"/><path d="M1413.1,1933.3L1444.2,1915.2L1409.1,1887.4L1377.9,1905.2Z" fill="url(#b304)"/><path d="M776.2,2000.8L811.4,1993.3L780.3,2014.6L745.3,2022.0Z" fill="url(#b113)"/><path d="M1145.4,1915.4L1178.1,1901.9L1144.1,1896.4L1111.4,1909.7Z" fill="url(#b228)"/><path d="M1346.4,1922.1L1377.9,1905.2L1342.9,1883.0L1311.4,1899.6Z" fill="url(#b285)"/><path d="M1212.5,1913.2L1244.8,1898.5L1210.4,1887.5L1178.1,1901.9Z" fill="url(#b247)"/><path d="M1279.5,1915.4L1311.4,1899.6L1276.7,1883.0L1244.8,1898.5Z" fill="url(#b266)"/><path d="M1581.2,2014.3L1611.4,1993.3L1576.0,1948.4L1545.7,1968.9Z" fill="url(#b341)"/><path d="M843.0,1977.3L877.8,1968.9L846.0,1985.0L811.4,1993.3Z" fill="url(#b132)"/><path d="M607.2,2065.2L643.7,2060.6L614.4,2092.2L578.1,2096.9Z" fill="url(#b55)"/><path d="M1515.0,1988.7L1545.7,1968.9L1510.3,1929.6L1479.6,1948.9Z" fill="url(#b322)"/><path d="M910.1,1958.3L944.4,1948.9L912.0,1959.6L877.8,1968.9Z" fill="url(#b151)"/><path d="M1448.5,1967.4L1479.6,1948.9L1444.2,1915.2L1413.1,1933.3Z" fill="url(#b303)"/><path d="M673.7,2034.1L709.8,2028.5L679.6,2055.0L643.7,2060.6Z" fill="url(#b74)"/><path d="M977.4,1943.8L1011.3,1933.3L978.3,1938.6L944.4,1948.9Z" fill="url(#b170)"/><path d="M1616.7,2065.7L1646.8,2044.2L1611.4,1993.3L1581.2,2014.3Z" fill="url(#b340)"/><path d="M1381.7,1950.6L1413.1,1933.3L1377.9,1905.2L1346.4,1922.1Z" fill="url(#b284)"/><path d="M1044.8,1933.7L1078.3,1922.1L1044.8,1921.9L1011.3,1933.3Z" fill="url(#b189)"/><path d="M1314.6,1938.3L1346.4,1922.1L1311.4,1899.6L1279.5,1915.4Z" fill="url(#b265)"/><path d="M1112.3,1928.1L1145.4,1915.4L1111.4,1909.7L1078.3,1922.1Z" fill="url(#b208)"/><path d="M503.7,2103.4L541.2,2100.6L513.0,2137.4L475.7,2140.3Z" fill="url(#b16)"/><path d="M1247.2,1930.4L1279.5,1915.4L1244.8,1898.5L1212.5,1913.2Z" fill="url(#b246)"/><path d="M1179.8,1927.0L1212.5,1913.2L1178.1,1901.9L1145.4,1915.4Z" fill="url(#b227)"/><path d="M740.6,2007.2L776.2,2000.8L745.3,2022.0L709.8,2028.5Z" fill="url(#b93)"/><path d="M1550.6,2034.5L1581.2,2014.3L1545.7,1968.9L1515.0,1988.7Z" fill="url(#b321)"/><path d="M807.8,1984.8L843.0,1977.3L811.4,1993.3L776.2,2000.8Z" fill="url(#b112)"/><path d="M1484.1,2007.6L1515.0,1988.7L1479.6,1948.9L1448.5,1967.4Z" fill="url(#b302)"/><path d="M570.2,2068.9L607.2,2065.2L578.1,2096.9L541.2,2100.6Z" fill="url(#b35)"/><path d="M875.3,1966.9L910.1,1958.3L877.8,1968.9L843.0,1977.3Z" fill="url(#b131)"/><path d="M1417.1,1985.2L1448.5,1967.4L1413.1,1933.3L1381.7,1950.6Z" fill="url(#b283)"/><path d="M1586.2,2086.4L1616.7,2065.7L1581.2,2014.3L1550.6,2034.5Z" fill="url(#b320)"/><path d="M943.0,1953.4L977.4,1943.8L944.4,1948.9L910.1,1958.3Z" fill="url(#b150)"/><path d="M637.1,2038.6L673.7,2034.1L643.7,2060.6L607.2,2065.2Z" fill="url(#b54)"/><path d="M1349.9,1967.1L1381.7,1950.6L1346.4,1922.1L1314.6,1938.3Z" fill="url(#b264)"/><path d="M1010.9,1944.3L1044.8,1933.7L1011.3,1933.3L977.4,1943.8Z" fill="url(#b169)"/><path d="M1282.3,1953.5L1314.6,1938.3L1279.5,1915.4L1247.2,1930.4Z" fill="url(#b245)"/><path d="M1078.8,1939.9L1112.3,1928.1L1078.3,1922.1L1044.8,1933.7Z" fill="url(#b188)"/><path d="M1214.6,1944.5L1247.2,1930.4L1212.5,1913.2L1179.8,1927.0Z" fill="url(#b226)"/><path d="M1146.7,1939.9L1179.8,1927.0L1145.4,1915.4L1112.3,1928.1Z" fill="url(#b207)"/><path d="M1519.7,2053.9L1550.6,2034.5L1515.0,1988.7L1484.1,2007.6Z" fill="url(#b301)"/><path d="M704.4,2012.8L740.6,2007.2L709.8,2028.5L673.7,2034.1Z" fill="url(#b73)"/><path d="M1452.7,2025.8L1484.1,2007.6L1448.5,1967.4L1417.1,1985.2Z" fill="url(#b282)"/><path d="M772.1,1991.4L807.8,1984.8L776.2,2000.8L740.6,2007.2Z" fill="url(#b92)"/><path d="M532.6,2071.5L570.2,2068.9L541.2,2100.6L503.7,2103.4Z" fill="url(#b15)"/><path d="M1385.4,2002.1L1417.1,1985.2L1381.7,1950.6L1349.9,1967.1Z" fill="url(#b263)"/><path d="M840.0,1974.4L875.3,1966.9L843.0,1977.3L807.8,1984.8Z" fill="url(#b111)"/><path d="M1555.4,2106.3L1586.2,2086.4L1550.6,2034.5L1519.7,2053.9Z" fill="url(#b300)"/><path d="M1317.7,1982.8L1349.9,1967.1L1314.6,1938.3L1282.3,1953.5Z" fill="url(#b244)"/><path d="M908.2,1962.0L943.0,1953.4L910.1,1958.3L875.3,1966.9Z" fill="url(#b130)"/><path d="M599.9,2042.3L637.1,2038.6L607.2,2065.2L570.2,2068.9Z" fill="url(#b34)"/><path d="M1249.7,1968.0L1282.3,1953.5L1247.2,1930.4L1214.6,1944.5Z" fill="url(#b225)"/><path d="M976.5,1954.1L1010.9,1944.3L977.4,1943.8L943.0,1953.4Z" fill="url(#b149)"/><path d="M1488.5,2072.5L1519.7,2053.9L1484.1,2007.6L1452.7,2025.8Z" fill="url(#b281)"/><path d="M1181.5,1957.7L1214.6,1944.5L1179.8,1927.0L1146.7,1939.9Z" fill="url(#b206)"/><path d="M1044.8,1950.8L1078.8,1939.9L1044.8,1933.7L1010.9,1944.3Z" fill="url(#b168)"/><path d="M1113.2,1951.9L1146.7,1939.9L1112.3,1928.1L1078.8,1939.9Z" fill="url(#b187)"/><path d="M667.7,2017.4L704.4,2012.8L673.7,2034.1L637.1,2038.6Z" fill="url(#b53)"/><path d="M1421.1,2043.1L1452.7,2025.8L1417.1,1985.2L1385.4,2002.1Z" fill="url(#b262)"/><path d="M735.8,1997.0L772.1,1991.4L740.6,2007.2L704.4,2012.8Z" fill="url(#b72)"/><path d="M1353.3,2018.1L1385.4,2002.1L1349.9,1967.1L1317.7,1982.8Z" fill="url(#b243)"/><path d="M1524.3,2125.4L1555.4,2106.3L1519.7,2053.9L1488.5,2072.5Z" fill="url(#b280)"/><path d="M804.2,1981.1L840.0,1974.4L807.8,1984.8L772.1,1991.4Z" fill="url(#b91)"/><path d="M1285.1,1997.6L1317.7,1982.8L1282.3,1953.5L1249.7,1968.0Z" fill="url(#b224)"/><path d="M872.8,1969.7L908.2,1962.0L875.3,1966.9L840.0,1974.4Z" fill="url(#b110)"/><path d="M1216.7,1981.5L1249.7,1968.0L1214.6,1944.5L1181.5,1957.7Z" fill="url(#b205)"/><path d="M1456.9,2090.4L1488.5,2072.5L1452.7,2025.8L1421.1,2043.1Z" fill="url(#b261)"/><path d="M941.6,1963.0L976.5,1954.1L943.0,1953.4L908.2,1962.0Z" fill="url(#b129)"/><path d="M1148.0,1970.0L1181.5,1957.7L1146.7,1939.9L1113.2,1951.9Z" fill="url(#b186)"/><path d="M562.2,2044.9L599.9,2042.3L570.2,2068.9L532.6,2071.5Z" fill="url(#b14)"/><path d="M1010.4,1960.7L1044.8,1950.8L1010.9,1944.3L976.5,1954.1Z" fill="url(#b148)"/><path d="M1079.3,1963.1L1113.2,1951.9L1078.8,1939.9L1044.8,1950.8Z" fill="url(#b167)"/><path d="M1389.0,2059.6L1421.1,2043.1L1385.4,2002.1L1353.3,2018.1Z" fill="url(#b242)"/><path d="M630.4,2021.0L667.7,2017.4L637.1,2038.6L599.9,2042.3Z" fill="url(#b33)"/><path d="M1492.8,2143.7L1524.3,2125.4L1488.5,2072.5L1456.9,2090.4Z" fill="url(#b260)"/><path d="M1320.8,2033.4L1353.3,2018.1L1317.7,1982.8L1285.1,1997.6Z" fill="url(#b223)"/><path d="M699.0,2001.6L735.8,1997.0L704.4,2012.8L667.7,2017.4Z" fill="url(#b52)"/><path d="M1252.1,2011.5L1285.1,1997.6L1249.7,1968.0L1216.7,1981.5Z" fill="url(#b204)"/><path d="M767.9,1986.8L804.2,1981.1L772.1,1991.4L735.8,1997.0Z" fill="url(#b71)"/><path d="M1183.2,1994.2L1216.7,1981.5L1181.5,1957.7L1148.0,1970.0Z" fill="url(#b185)"/><path d="M1425.0,2107.3L1456.9,2090.4L1421.1,2043.1L1389.0,2059.6Z" fill="url(#b241)"/><path d="M837.0,1976.5L872.8,1969.7L840.0,1974.4L804.2,1981.1Z" fill="url(#b90)"/><path d="M1114.1,1981.5L1148.0,1970.0L1113.2,1951.9L1079.3,1963.1Z" fill="url(#b166)"/><path d="M906.2,1970.9L941.6,1963.0L908.2,1962.0L872.8,1969.7Z" fill="url(#b109)"/><path d="M1044.9,1973.4L1079.3,1963.1L1044.8,1950.8L1010.4,1960.7Z" fill="url(#b147)"/><path d="M975.6,1969.8L1010.4,1960.7L976.5,1954.1L941.6,1963.0Z" fill="url(#b128)"/><path d="M1356.6,2075.3L1389.0,2059.6L1353.3,2018.1L1320.8,2033.4Z" fill="url(#b222)"/><path d="M592.6,2023.6L630.4,2021.0L599.9,2042.3L562.2,2044.9Z" fill="url(#b13)"/><path d="M1461.0,2161.2L1492.8,2143.7L1456.9,2090.4L1425.0,2107.3Z" fill="url(#b240)"/><path d="M1287.9,2047.7L1320.8,2033.4L1285.1,1997.6L1252.1,2011.5Z" fill="url(#b203)"/><path d="M661.7,2005.2L699.0,2001.6L667.7,2017.4L630.4,2021.0Z" fill="url(#b32)"/><path d="M1218.7,2024.6L1252.1,2011.5L1216.7,1981.5L1183.2,1994.2Z" fill="url(#b184)"/><path d="M1392.7,2123.5L1425.0,2107.3L1389.0,2059.6L1356.6,2075.3Z" fill="url(#b221)"/><path d="M731.0,1991.5L767.9,1986.8L735.8,1997.0L699.0,2001.6Z" fill="url(#b51)"/><path d="M1149.3,2006.0L1183.2,1994.2L1148.0,1970.0L1114.1,1981.5Z" fill="url(#b165)"/><path d="M800.6,1982.3L837.0,1976.5L804.2,1981.1L767.9,1986.8Z" fill="url(#b70)"/><path d="M1079.7,1992.1L1114.1,1981.5L1079.3,1963.1L1044.9,1973.4Z" fill="url(#b146)"/><path d="M870.4,1977.8L906.2,1970.9L872.8,1969.7L837.0,1976.5Z" fill="url(#b89)"/><path d="M1010.0,1982.7L1044.9,1973.4L1010.4,1960.7L975.6,1969.8Z" fill="url(#b127)"/><path d="M940.2,1977.9L975.6,1969.8L941.6,1963.0L906.2,1970.9Z" fill="url(#b108)"/><path d="M1323.8,2090.1L1356.6,2075.3L1320.8,2033.4L1287.9,2047.7Z" fill="url(#b202)"/><path d="M1428.8,2177.9L1461.0,2161.2L1425.0,2107.3L1392.7,2123.5Z" fill="url(#b220)"/><path d="M1254.5,2061.2L1287.9,2047.7L1252.1,2011.5L1218.7,2024.6Z" fill="url(#b183)"/><path d="M1184.9,2036.8L1218.7,2024.6L1183.2,1994.2L1149.3,2006.0Z" fill="url(#b164)"/><path d="M623.7,2007.9L661.7,2005.2L630.4,2021.0L592.6,2023.6Z" fill="url(#b12)"/><path d="M1359.9,2138.8L1392.7,2123.5L1356.6,2075.3L1323.8,2090.1Z" fill="url(#b201)"/><path d="M1115.0,2016.9L1149.3,2006.0L1114.1,1981.5L1079.7,1992.1Z" fill="url(#b145)"/><path d="M693.6,1995.2L731.0,1991.5L699.0,2001.6L661.7,2005.2Z" fill="url(#b31)"/><path d="M1044.9,2001.7L1079.7,1992.1L1044.9,1973.4L1010.0,1982.7Z" fill="url(#b126)"/><path d="M763.7,1987.1L800.6,1982.3L767.9,1986.8L731.0,1991.5Z" fill="url(#b50)"/><path d="M974.6,1991.1L1010.0,1982.7L975.6,1969.8L940.2,1977.9Z" fill="url(#b107)"/><path d="M834.0,1983.8L870.4,1977.8L837.0,1976.5L800.6,1982.3Z" fill="url(#b69)"/><path d="M904.3,1985.1L940.2,1977.9L906.2,1970.9L870.4,1977.8Z" fill="url(#b88)"/><path d="M1290.6,2104.1L1323.8,2090.1L1287.9,2047.7L1254.5,2061.2Z" fill="url(#b182)"/><path d="M1396.2,2193.7L1428.8,2177.9L1392.7,2123.5L1359.9,2138.8Z" fill="url(#b200)"/><path d="M1220.8,2073.8L1254.5,2061.2L1218.7,2024.6L1184.9,2036.8Z" fill="url(#b163)"/><path d="M1150.6,2048.1L1184.9,2036.8L1149.3,2006.0L1115.0,2016.9Z" fill="url(#b144)"/><path d="M1326.8,2153.2L1359.9,2138.8L1323.8,2090.1L1290.6,2104.1Z" fill="url(#b181)"/><path d="M1080.2,2026.9L1115.0,2016.9L1079.7,1992.1L1044.9,2001.7Z" fill="url(#b125)"/><path d="M655.6,1997.9L693.6,1995.2L661.7,2005.2L623.7,2007.9Z" fill="url(#b11)"/><path d="M1009.6,2010.4L1044.9,2001.7L1010.0,1982.7L974.6,1991.1Z" fill="url(#b106)"/><path d="M726.2,1991.0L763.7,1987.1L731.0,1991.5L693.6,1995.2Z" fill="url(#b30)"/><path d="M938.8,1998.5L974.6,1991.1L940.2,1977.9L904.3,1985.1Z" fill="url(#b87)"/><path d="M1256.9,2117.1L1290.6,2104.1L1254.5,2061.2L1220.8,2073.8Z" fill="url(#b162)"/><path d="M797.0,1988.8L834.0,1983.8L800.6,1982.3L763.7,1987.1Z" fill="url(#b49)"/><path d="M867.9,1991.3L904.3,1985.1L870.4,1977.8L834.0,1983.8Z" fill="url(#b68)"/><path d="M1363.2,2208.7L1396.2,2193.7L1359.9,2138.8L1326.8,2153.2Z" fill="url(#b180)"/><path d="M1186.6,2085.5L1220.8,2073.8L1184.9,2036.8L1150.6,2048.1Z" fill="url(#b143)"/><path d="M1115.9,2058.4L1150.6,2048.1L1115.0,2016.9L1080.2,2026.9Z" fill="url(#b124)"/><path d="M1293.3,2166.8L1326.8,2153.2L1290.6,2104.1L1256.9,2117.1Z" fill="url(#b161)"/><path d="M1044.9,2035.9L1080.2,2026.9L1044.9,2001.7L1009.6,2010.4Z" fill="url(#b105)"/><path d="M973.7,2018.1L1009.6,2010.4L974.6,1991.1L938.8,1998.5Z" fill="url(#b86)"/><path d="M1222.8,2129.3L1256.9,2117.1L1220.8,2073.8L1186.6,2085.5Z" fill="url(#b142)"/><path d="M902.3,2004.9L938.8,1998.5L904.3,1985.1L867.9,1991.3Z" fill="url(#b67)"/><path d="M688.2,1993.7L726.2,1991.0L693.6,1995.2L655.6,1997.9Z" fill="url(#b10)"/><path d="M830.9,1996.5L867.9,1991.3L834.0,1983.8L797.0,1988.8Z" fill="url(#b48)"/><path d="M759.5,1992.7L797.0,1988.8L763.7,1987.1L726.2,1991.0Z" fill="url(#b29)"/><path d="M1329.8,2222.8L1363.2,2208.7L1326.8,2153.2L1293.3,2166.8Z" fill="url(#b160)"/><path d="M1151.9,2096.3L1186.6,2085.5L1150.6,2048.1L1115.9,2058.4Z" fill="url(#b123)"/><path d="M1080.7,2067.8L1115.9,2058.4L1080.2,2026.9L1044.9,2035.9Z" fill="url(#b104)"/><path d="M1259.3,2179.5L1293.3,2166.8L1256.9,2117.1L1222.8,2129.3Z" fill="url(#b141)"/><path d="M1009.1,2044.0L1044.9,2035.9L1009.6,2010.4L973.7,2018.1Z" fill="url(#b85)"/><path d="M937.3,2024.8L973.7,2018.1L938.8,1998.5L902.3,2004.9Z" fill="url(#b66)"/><path d="M1188.3,2140.6L1222.8,2129.3L1186.6,2085.5L1151.9,2096.3Z" fill="url(#b122)"/><path d="M865.4,2010.4L902.3,2004.9L867.9,1991.3L830.9,1996.5Z" fill="url(#b47)"/><path d="M1295.9,2236.1L1329.8,2222.8L1293.3,2166.8L1259.3,2179.5Z" fill="url(#b140)"/><path d="M793.4,2000.6L830.9,1996.5L797.0,1988.8L759.5,1992.7Z" fill="url(#b28)"/><path d="M721.4,1995.7L759.5,1992.7L726.2,1991.0L688.2,1993.7Z" fill="url(#b9)"/><path d="M1116.8,2106.2L1151.9,2096.3L1115.9,2058.4L1080.7,2067.8Z" fill="url(#b103)"/><path d="M1224.8,2191.3L1259.3,2179.5L1222.8,2129.3L1188.3,2140.6Z" fill="url(#b121)"/><path d="M1044.9,2076.3L1080.7,2067.8L1044.9,2035.9L1009.1,2044.0Z" fill="url(#b84)"/><path d="M972.8,2051.1L1009.1,2044.0L973.7,2018.1L937.3,2024.8Z" fill="url(#b65)"/><path d="M1153.2,2150.9L1188.3,2140.6L1151.9,2096.3L1116.8,2106.2Z" fill="url(#b102)"/><path d="M900.4,2030.6L937.3,2024.8L902.3,2004.9L865.4,2010.4Z" fill="url(#b46)"/><path d="M1261.6,2248.4L1295.9,2236.1L1259.3,2179.5L1224.8,2191.3Z" fill="url(#b120)"/><path d="M827.9,2014.8L865.4,2010.4L830.9,1996.5L793.4,2000.6Z" fill="url(#b27)"/><path d="M755.3,2003.8L793.4,2000.6L759.5,1992.7L721.4,1995.7Z" fill="url(#b8)"/><path d="M1081.1,2115.1L1116.8,2106.2L1080.7,2067.8L1044.9,2076.3Z" fill="url(#b83)"/><path d="M1189.9,2202.1L1224.8,2191.3L1188.3,2140.6L1153.2,2150.9Z" fill="url(#b101)"/><path d="M1008.7,2083.8L1044.9,2076.3L1009.1,2044.0L972.8,2051.1Z" fill="url(#b64)"/><path d="M935.9,2057.2L972.8,2051.1L937.3,2024.8L900.4,2030.6Z" fill="url(#b45)"/><path d="M1117.7,2160.3L1153.2,2150.9L1116.8,2106.2L1081.1,2115.1Z" fill="url(#b82)"/><path d="M862.9,2035.3L900.4,2030.6L865.4,2010.4L827.9,2014.8Z" fill="url(#b26)"/><path d="M1226.8,2259.8L1261.6,2248.4L1224.8,2191.3L1189.9,2202.1Z" fill="url(#b100)"/><path d="M789.7,2018.2L827.9,2014.8L793.4,2000.6L755.3,2003.8Z" fill="url(#b7)"/><path d="M1045.0,2123.0L1081.1,2115.1L1044.9,2076.3L1008.7,2083.8Z" fill="url(#b63)"/><path d="M1154.5,2212.0L1189.9,2202.1L1153.2,2150.9L1117.7,2160.3Z" fill="url(#b81)"/><path d="M971.9,2090.3L1008.7,2083.8L972.8,2051.1L935.9,2057.2Z" fill="url(#b44)"/><path d="M898.5,2062.3L935.9,2057.2L900.4,2030.6L862.9,2035.3Z" fill="url(#b25)"/><path d="M1081.6,2168.7L1117.7,2160.3L1081.1,2115.1L1045.0,2123.0Z" fill="url(#b62)"/><path d="M824.8,2039.0L862.9,2035.3L827.9,2014.8L789.7,2018.2Z" fill="url(#b6)"/><path d="M1191.5,2270.3L1226.8,2259.8L1189.9,2202.1L1154.5,2212.0Z" fill="url(#b80)"/><path d="M1008.2,2129.9L1045.0,2123.0L1008.7,2083.8L971.9,2090.3Z" fill="url(#b43)"/><path d="M1118.5,2221.0L1154.5,2212.0L1117.7,2160.3L1081.6,2168.7Z" fill="url(#b61)"/><path d="M934.5,2095.8L971.9,2090.3L935.9,2057.2L898.5,2062.3Z" fill="url(#b24)"/><path d="M860.4,2066.3L898.5,2062.3L862.9,2035.3L824.8,2039.0Z" fill="url(#b5)"/><path d="M1045.0,2176.1L1081.6,2168.7L1045.0,2123.0L1008.2,2129.9Z" fill="url(#b42)"/><path d="M1155.7,2279.9L1191.5,2270.3L1154.5,2212.0L1118.5,2221.0Z" fill="url(#b60)"/><path d="M970.9,2135.8L1008.2,2129.9L971.9,2090.3L934.5,2095.8Z" fill="url(#b23)"/><path d="M1082.0,2229.0L1118.5,2221.0L1081.6,2168.7L1045.0,2176.1Z" fill="url(#b41)"/><path d="M896.5,2100.2L934.5,2095.8L898.5,2062.3L860.4,2066.3Z" fill="url(#b4)"/><path d="M1007.8,2182.6L1045.0,2176.1L1008.2,2129.9L970.9,2135.8Z" fill="url(#b22)"/><path d="M1119.4,2288.5L1155.7,2279.9L1118.5,2221.0L1082.0,2229.0Z" fill="url(#b40)"/><path d="M933.1,2140.7L970.9,2135.8L934.5,2095.8L896.5,2100.2Z" fill="url(#b3)"/><path d="M1045.0,2236.0L1082.0,2229.0L1045.0,2176.1L1007.8,2182.6Z" fill="url(#b21)"/><path d="M970.0,2188.0L1007.8,2182.6L970.9,2135.8L933.1,2140.7Z" fill="url(#b2)"/><path d="M1082.5,2296.1L1119.4,2288.5L1082.0,2229.0L1045.0,2236.0Z" fill="url(#b20)"/><path d="M1007.4,2241.9L1045.0,2236.0L1007.8,2182.6L970.0,2188.0Z" fill="url(#b1)"/><path d="M1045.0,2302.6L1082.5,2296.1L1045.0,2236.0L1007.4,2241.9Z" fill="url(#b0)"/></g>
<g fill="#000"><circle cx="410.3" cy="2563.6" r="6.6"/><circle cx="401.8" cy="2389.2" r="6.6"/><circle cx="393.4" cy="2214.8" r="6.6"/><circle cx="384.9" cy="2040.4" r="6.6"/><circle cx="376.5" cy="1866.0" r="6.6"/><circle cx="368.0" cy="1691.6" r="6.6"/><circle cx="516.0" cy="2614.2" r="6.6"/><circle cx="621.7" cy="2664.9" r="6.6"/><circle cx="727.5" cy="2715.6" r="6.6"/><circle cx="833.2" cy="2766.2" r="6.6"/><circle cx="938.9" cy="2816.8" r="6.6"/><circle cx="1044.6" cy="2867.5" r="6.6"/><circle cx="1171.4" cy="2806.6" r="6.6"/><circle cx="1298.2" cy="2745.7" r="6.6"/><circle cx="1424.9" cy="2684.9" r="6.6"/><circle cx="1551.7" cy="2624.0" r="6.6"/><circle cx="1678.5" cy="2563.1" r="6.6"/></g>
<path d="M425.8,4106.1L1069.1,4415.2L1713.6,4106.4L1071.0,3865.0Z" fill="#909090"/>
<path d="M778.1,3974.4L772.0,3977.5L765.1,3981.0L758.2,3984.5L754.7,3986.3L747.8,3989.8L740.9,3993.4L735.5,3996.1L730.4,3998.7L723.4,4002.3L716.4,4005.9L712.9,4007.7L705.8,4011.3L698.8,4014.9L693.1,4017.8L688.1,4020.4L681.0,4024.1L673.9,4027.7L670.3,4029.6L663.1,4033.3L655.9,4037.0L650.8,4039.6L645.1,4042.6L637.9,4046.3L630.6,4050.1L627.0,4052.0L619.7,4055.8L612.4,4059.6L608.7,4061.5L601.4,4065.3L594.0,4069.2L588.0,4072.4L582.9,4075.0L575.5,4078.9L568.1,4082.8L564.4,4084.7L556.9,4088.7L549.4,4092.6L545.7,4094.6L538.1,4098.6L530.6,4102.5L525.8,4105.1L519.3,4108.6L511.7,4112.6L505.2,4116.0L500.2,4118.7L492.6,4122.7L484.9,4126.8L481.1,4128.9" fill="none" stroke="#00ffea" stroke-width="6.6"/>
<path d="M1067.3,3866.1L1064.3,3867.7L1058.2,3870.8L1052.2,3874.0L1048.9,3875.7L1043.1,3878.8L1037.0,3882.0L1030.9,3885.1L1027.8,3886.8L1021.7,3890.0L1015.5,3893.2L1012.3,3894.9L1006.3,3898.1L1000.1,3901.3L994.0,3904.5L990.8,3906.2L984.6,3909.5L978.3,3912.8L975.2,3914.5L968.9,3917.8L962.7,3921.1L957.7,3923.8L953.2,3926.2L946.9,3929.5L940.5,3932.9L937.4,3934.6L931.0,3938.0L924.6,3941.4L921.4,3943.1L915.1,3946.6L908.6,3950.0L903.7,3952.6L899.0,3955.2L892.5,3958.7L886.1,3962.2L882.8,3963.9L876.3,3967.5L869.8,3971.0L866.5,3972.8L860.0,3976.3L853.4,3979.9L850.2,3981.7L843.6,3985.2L837.0,3988.9L832.9,3991.1L827.1,3994.3L820.4,3997.9L815.5,4000.7L810.5,4003.4L803.8,4007.1L798.1,4010.2L793.7,4012.6L787.0,4016.4L780.8,4019.8L776.9,4022.0L770.1,4025.7L763.7,4029.3L760.0,4031.4L753.2,4035.2L746.6,4038.9L742.9,4040.9L736.1,4044.8L729.7,4048.4L725.8,4050.6L718.9,4054.5L712.9,4057.9L708.6,4060.3L701.6,4064.3L696.2,4067.3L691.2,4070.2L684.3,4074.2L679.7,4076.8L673.8,4080.2L666.8,4084.2L663.3,4086.2L656.2,4090.3L649.2,4094.3L645.7,4096.4L638.6,4100.5L631.5,4104.6L628.0,4106.7L620.9,4110.8L615.1,4114.2L610.2,4117.1L603.0,4121.3L599.3,4123.5L592.3,4127.6L585.1,4131.9L581.5,4134.0L574.3,4138.3L568.2,4141.9L563.4,4144.8L556.2,4149.1L552.6,4151.3L545.3,4155.7L538.0,4160.1" fill="none" stroke="#00ff54" stroke-width="6.6"/>
<path d="M971.0,4367.9L983.9,4365.5L990.3,4364.3L999.3,4362.5L1009.4,4360.6L1015.7,4359.3L1028.4,4356.8L1034.6,4355.5L1046.5,4353.1L1053.3,4351.7L1062.6,4349.8L1071.9,4347.9L1078.8,4346.4L1090.3,4344.0L1096.4,4342.7L1108.5,4340.0L1114.5,4338.7L1126.6,4336.1L1132.6,4334.8L1144.5,4332.1L1150.5,4330.8L1162.1,4328.2L1168.2,4326.8L1179.2,4324.3L1185.9,4322.8L1196.5,4320.3L1203.4,4318.7L1213.8,4316.3L1220.7,4314.7L1231.3,4312.2L1238.0,4310.6L1249.0,4308.0L1255.1,4306.5L1266.5,4303.8L1272.2,4302.4L1283.4,4299.7L1289.1,4298.3L1300.3,4295.5L1305.9,4294.2L1317.0,4291.4L1322.6,4290.0L1333.6,4287.3M1117.6,3882.4L1114.7,3884.0L1108.9,3887.3L1103.1,3890.6L1100.2,3892.2L1094.4,3895.5L1088.5,3898.8L1085.6,3900.5L1079.7,3903.9L1073.8,3907.2L1070.9,3908.9L1065.0,3912.3L1059.1,3915.7L1056.1,3917.4L1050.2,3920.8L1044.3,3924.2L1041.3,3925.9L1035.3,3929.4L1029.4,3932.8L1026.4,3934.6L1020.4,3938.1L1014.4,3941.6L1011.4,3943.3L1005.4,3946.9L999.3,3950.4L996.3,3952.2L990.3,3955.7L984.7,3959.0L981.2,3961.1L975.1,3964.7L970.7,3967.4L966.0,3970.2L959.9,3973.8L956.7,3975.7L950.7,3979.3L944.6,3983.0L941.5,3984.8L935.4,3988.6L929.3,3992.2L926.1,3994.2L919.9,3997.9L915.8,4000.4L910.7,4003.6L904.4,4007.4L901.3,4009.3L895.1,4013.2L889.3,4016.8L885.8,4018.9L879.5,4022.8L876.3,4024.9L870.2,4028.7L863.9,4032.6L860.8,4034.6L854.5,4038.5L850.7,4041.0L845.1,4044.5L838.8,4048.5L835.6,4050.6L829.3,4054.6L825.8,4056.9L819.8,4060.7L813.6,4064.8L810.3,4066.9L804.0,4071.0L800.8,4073.1L794.5,4077.3L789.8,4080.4L785.0,4083.6L778.6,4087.8L775.4,4090.0L769.1,4094.2L765.9,4096.4L759.5,4100.7L755.5,4103.4L750.0,4107.2L744.5,4111.0L740.4,4113.8L734.0,4118.2L730.9,4120.5L724.5,4124.9L721.3,4127.2L714.9,4131.7L711.8,4134.0L705.4,4138.5L702.2,4140.8L695.9,4145.4L692.6,4147.8L686.4,4152.4L682.8,4155.0L676.9,4159.5L673.3,4162.1L667.4,4166.6L664.1,4169.2L657.9,4173.9L654.8,4176.3L648.5,4181.2L645.4,4183.7L639.2,4188.6L636.1,4191.1L629.9,4196.2L626.8,4198.7" fill="none" stroke="#41ff00" stroke-width="6.6"/>
<path d="M1174.6,3903.8L1169.2,3907.3L1166.5,3909.0L1161.1,3912.5L1156.7,3915.4L1153.0,3917.8L1147.5,3921.3L1144.8,3923.1L1139.4,3926.7L1134.6,3929.8L1131.2,3932.1L1125.7,3935.7L1123.0,3937.5L1117.5,3941.1L1113.2,3944.0L1109.3,3946.6L1103.9,3950.3L1101.1,3952.2L1095.7,3955.9L1092.5,3958.1L1087.5,3961.5L1082.4,3965.0L1079.3,3967.2L1073.8,3971.0L1071.0,3972.9L1065.6,3976.7L1062.6,3978.8L1057.4,3982.5L1053.0,3985.6L1049.2,3988.4L1043.7,3992.3L1041.0,3994.3L1035.5,3998.2L1032.8,4000.2L1027.3,4004.2L1024.6,4006.3L1019.2,4010.3L1016.4,4012.3L1011.0,4016.4L1007.8,4018.8L1002.9,4022.6L999.3,4025.3L994.8,4028.8L991.0,4031.7L986.7,4035.2L983.0,4038.1L978.7,4041.5L975.1,4044.4L970.7,4048.0L967.5,4050.6L962.7,4054.5L960.0,4056.7L954.8,4061.1L952.2,4063.4L946.9,4067.8L944.3,4070.1L939.2,4074.6L936.6,4076.9L932.4,4080.7L928.9,4083.9L926.0,4086.5L921.3,4090.9L918.8,4093.3L914.0,4097.9L911.4,4100.4L908.4,4103.4L904.1,4107.7L901.7,4110.2L897.7,4114.3L894.6,4117.7L892.3,4120.2L888.1,4124.9L885.5,4127.9L883.2,4130.5L879.4,4135.2L876.7,4138.5L874.6,4141.2L871.7,4145.1L868.5,4149.4L866.6,4152.2L864.7,4155.0L862.0,4159.2L859.3,4163.7L857.7,4166.7L856.1,4169.7L854.5,4172.8L852.7,4176.8L851.0,4181.0L849.6,4185.1L848.5,4188.9L847.7,4192.4L847.0,4195.9L846.6,4199.6L846.4,4203.3L846.6,4207.3L847.0,4210.8L847.7,4214.1L848.7,4217.2L850.1,4220.5L853.0,4225.8L855.2,4228.9L858.2,4232.2L862.9,4236.5L869.4,4241.0L873.0,4243.1L881.1,4247.0L885.5,4248.8L895.2,4252.1L905.8,4254.9L911.5,4256.1L922.8,4258.1L930.2,4259.2L936.9,4260.1L946.0,4260.9L956.3,4261.7L966.1,4262.3L974.3,4262.6L982.5,4262.8L990.9,4262.8L999.6,4262.8L1008.5,4262.7L1017.6,4262.5L1026.2,4262.2L1034.0,4261.8L1041.7,4261.4L1049.4,4261.0L1056.9,4260.5L1066.6,4259.8L1077.1,4259.0L1086.2,4258.2L1093.3,4257.5L1100.3,4256.8L1109.7,4255.9L1121.0,4254.7L1128.0,4253.9L1134.8,4253.1L1144.2,4251.9L1154.9,4250.6L1161.5,4249.7L1168.1,4248.8L1180.4,4247.1L1187.6,4246.1L1194.0,4245.2L1205.5,4243.5L1213.1,4242.3L1219.4,4241.4L1231.3,4239.5L1238.1,4238.4L1244.4,4237.4L1256.6,4235.3L1262.7,4234.3L1271.3,4232.8L1280.9,4231.2L1286.9,4230.1L1298.7,4228.0L1304.8,4226.9L1312.7,4225.4L1322.5,4223.6L1328.4,4222.5L1340.0,4220.3L1345.8,4219.2L1355.6,4217.3L1363.2,4215.8L1370.2,4214.4L1380.3,4212.4L1386.0,4211.3L1397.3,4209.0L1402.9,4207.8L1414.2,4205.5L1419.7,4204.4L1429.9,4202.2L1436.4,4200.9L1445.1,4199.0L1452.9,4197.3L1460.5,4195.7L1469.3,4193.8L1476.0,4192.3L1485.6,4190.2L1491.7,4188.9L1501.8,4186.6L1507.4,4185.4L1517.8,4183.0L1523.3,4181.8L1533.7,4179.4L1539.2,4178.2L1549.5,4175.8L1555.3,4174.5L1565.2,4172.1L1571.5,4170.7L1580.8,4168.5L1587.7,4166.9" fill="none" stroke="#d7ff00" stroke-width="6.6"/>
<path d="M1250.1,3932.2L1245.9,3935.7L1243.2,3938.0L1239.3,3941.4L1236.4,3943.9L1233.0,3946.9L1229.7,3949.8L1226.8,3952.4L1223.0,3955.9L1220.8,3957.9L1216.4,3962.0L1214.2,3964.0L1209.9,3968.1L1207.7,3970.2L1204.1,3973.8L1201.3,3976.5L1198.9,3979.0L1195.0,3982.9L1193.0,3985.1L1189.1,3989.1L1186.8,3991.6L1184.6,3994.1L1180.9,3998.2L1178.9,4000.5L1176.0,4003.8L1173.2,4007.3L1171.3,4009.6L1168.4,4013.3L1165.8,4016.6L1164.1,4019.0L1161.6,4022.4L1159.0,4026.2L1157.3,4028.7L1155.6,4031.3L1153.0,4035.6L1151.2,4038.7L1149.8,4041.3L1148.4,4044.0L1146.4,4048.0L1144.7,4051.9L1143.6,4054.6L1142.6,4057.4L1141.7,4060.2L1140.8,4063.5L1140.0,4067.1L1139.4,4070.7L1139.0,4074.2L1138.9,4077.5L1139.0,4080.8L1139.3,4084.1L1139.9,4087.2L1140.7,4090.2L1141.7,4093.2L1143.4,4096.8L1146.0,4101.3L1148.1,4104.1L1150.3,4106.6L1155.4,4111.3L1158.3,4113.5L1164.8,4117.6L1172.3,4121.4L1180.6,4124.8L1189.9,4127.9L1200.0,4130.5L1205.4,4131.7L1215.9,4133.6L1223.0,4134.7L1229.3,4135.5L1239.2,4136.5L1249.4,4137.4L1256.7,4137.8L1264.1,4138.2L1271.7,4138.4L1279.4,4138.6L1287.4,4138.7L1295.6,4138.7L1304.0,4138.6L1312.6,4138.4L1321.5,4138.1L1330.4,4137.7L1338.9,4137.3L1346.0,4136.9L1353.0,4136.4L1360.0,4135.9L1368.4,4135.3L1378.3,4134.5L1387.1,4133.7L1393.7,4133.1L1400.3,4132.5L1409.2,4131.6L1419.6,4130.5L1426.0,4129.7L1432.3,4129.0L1441.7,4127.9L1450.9,4126.7L1457.0,4126.0L1464.2,4125.0L1475.2,4123.5L1481.2,4122.7L1487.4,4121.8L1499.0,4120.2L1504.9,4119.3L1511.2,4118.4L1522.4,4116.6L1528.1,4115.7L1535.6,4114.6L1545.2,4113.0L1550.9,4112.1L1560.5,4110.5L1567.8,4109.2L1573.3,4108.3L1584.4,4106.4L1589.9,4105.4L1599.1,4103.8L1606.4,4102.4L1612.2,4101.4L1622.6,4099.5L1628.0,4098.5L1638.7,4096.5L1644.0,4095.4L1652.3,4093.9L1659.9,4092.4L1665.9,4091.2" fill="none" stroke="#ff9100" stroke-width="6.6"/>
<path d="M425.8,4106.1L383.5,3222.1M554.8,4057.9L521.0,3191.3M683.9,4009.7L658.5,3160.5M812.9,3961.4L796.1,3129.7M942.0,3913.2L933.6,3098.9M1071.0,3865.0L1071.1,3068.1M1178.1,3905.2L1185.4,3094.0M1285.2,3945.5L1299.7,3119.8M1392.3,3985.7L1414.0,3145.7M1499.4,4025.9L1528.4,3171.6M1606.5,4066.2L1642.7,3197.4M1713.6,4106.4L1757.0,3223.3M425.8,4106.1L1071.0,3865.0L1713.6,4106.4M417.3,3929.3L1071.0,3705.6L1722.3,3929.8M408.9,3752.5L1071.0,3546.2L1731.0,3753.2M400.4,3575.7L1071.1,3386.9L1739.6,3576.5M392.0,3398.9L1071.1,3227.5L1748.3,3399.9M383.5,3222.1L1071.1,3068.1L1757.0,3223.3" fill="none" stroke="#000" stroke-width="4" stroke-linejoin="round"/>
<path d="M425.8,4106.1L1069.1,4415.2L1713.6,4106.4" fill="none" stroke="#000" stroke-width="3.9" stroke-linejoin="round"/>
<defs><linearGradient id="c0" gradientUnits="userSpaceOnUse" x1="1078.7" y1="4080.6" x2="1059.9" y2="3993.3"><stop stop-color="#00ff4e"/><stop offset="1" stop-color="#00ff00"/></linearGradient><linearGradient id="c1" gradientUnits="userSpaceOnUse" x1="1039.8" y1="4019.0" x2="1024.4" y2="3937.9"><stop stop-color="#00ff12"/><stop offset="1" stop-color="#33ff00"/></linearGradient><linearGradient id="c2" gradientUnits="userSpaceOnUse" x1="1001.2" y1="3964.1" x2="989.2" y2="3889.2"><stop stop-color="#21ff00"/><stop offset="1" stop-color="#5eff00"/></linearGradient><linearGradient id="c3" gradientUnits="userSpaceOnUse" x1="963.0" y1="3915.7" x2="954.4" y2="3847.1"><stop stop-color="#4cff00"/><stop offset="1" stop-color="#81ff00"/></linearGradient><linearGradient id="c4" gradientUnits="userSpaceOnUse" x1="925.1" y1="3873.9" x2="920.0" y2="3811.8"><stop stop-color="#70ff00"/><stop offset="1" stop-color="#9dff00"/></linearGradient><linearGradient id="c5" gradientUnits="userSpaceOnUse" x1="887.5" y1="3838.6" x2="886.3" y2="3783.0"><stop stop-color="#8bff00"/><stop offset="1" stop-color="#b0ff00"/></linearGradient><linearGradient id="c6" gradientUnits="userSpaceOnUse" x1="850.0" y1="3809.6" x2="853.3" y2="3760.9"><stop stop-color="#9fff00"/><stop offset="1" stop-color="#bcff00"/></linearGradient><linearGradient id="c7" gradientUnits="userSpaceOnUse" x1="812.3" y1="3786.4" x2="821.7" y2="3745.8"><stop stop-color="#abff00"/><stop offset="1" stop-color="#c0ff00"/></linearGradient><linearGradient id="c8" gradientUnits="userSpaceOnUse" x1="769.3" y1="3775.0" x2="796.7" y2="3731.3"><stop stop-color="#abff00"/><stop offset="1" stop-color="#c0ff00"/></linearGradient><linearGradient id="c9" gradientUnits="userSpaceOnUse" x1="714.2" y1="3757.5" x2="784.9" y2="3735.8"><stop stop-color="#9fff00"/><stop offset="1" stop-color="#bcff00"/></linearGradient><linearGradient id="c10" gradientUnits="userSpaceOnUse" x1="692.5" y1="3735.5" x2="740.8" y2="3756.9"><stop stop-color="#8cff00"/><stop offset="1" stop-color="#b0ff00"/></linearGradient><linearGradient id="c11" gradientUnits="userSpaceOnUse" x1="674.1" y1="3742.0" x2="694.6" y2="3761.2"><stop stop-color="#70ff00"/><stop offset="1" stop-color="#9cff00"/></linearGradient><linearGradient id="c12" gradientUnits="userSpaceOnUse" x1="649.1" y1="3758.2" x2="656.5" y2="3767.5"><stop stop-color="#4dff00"/><stop offset="1" stop-color="#81ff00"/></linearGradient><linearGradient id="c13" gradientUnits="userSpaceOnUse" x1="621.8" y1="3779.5" x2="622.1" y2="3779.9"><stop stop-color="#22ff00"/><stop offset="1" stop-color="#5dff00"/></linearGradient><linearGradient id="c14" gradientUnits="userSpaceOnUse" x1="594.0" y1="3805.8" x2="589.7" y2="3798.4"><stop stop-color="#00ff11"/><stop offset="1" stop-color="#32ff00"/></linearGradient><linearGradient id="c15" gradientUnits="userSpaceOnUse" x1="566.4" y1="3836.9" x2="558.6" y2="3822.7"><stop stop-color="#00ff4c"/><stop offset="1" stop-color="#00ff02"/></linearGradient><linearGradient id="c16" gradientUnits="userSpaceOnUse" x1="539.1" y1="3872.7" x2="528.7" y2="3852.4"><stop stop-color="#00ff8f"/><stop offset="1" stop-color="#00ff3d"/></linearGradient><linearGradient id="c17" gradientUnits="userSpaceOnUse" x1="512.5" y1="3913.1" x2="499.7" y2="3887.5"><stop stop-color="#00ffda"/><stop offset="1" stop-color="#00ff80"/></linearGradient><linearGradient id="c18" gradientUnits="userSpaceOnUse" x1="486.5" y1="3958.1" x2="471.6" y2="3927.5"><stop stop-color="#00d1ff"/><stop offset="1" stop-color="#00ffcb"/></linearGradient><linearGradient id="c19" gradientUnits="userSpaceOnUse" x1="461.2" y1="4007.3" x2="444.5" y2="3972.3"><stop stop-color="#0077ff"/><stop offset="1" stop-color="#00e0ff"/></linearGradient><linearGradient id="c20" gradientUnits="userSpaceOnUse" x1="1115.7" y1="4050.8" x2="1097.3" y2="3964.2"><stop stop-color="#00ff3b"/><stop offset="1" stop-color="#12ff00"/></linearGradient><linearGradient id="c21" gradientUnits="userSpaceOnUse" x1="1076.9" y1="3989.9" x2="1061.9" y2="3909.4"><stop stop-color="#00ff00"/><stop offset="1" stop-color="#45ff00"/></linearGradient><linearGradient id="c22" gradientUnits="userSpaceOnUse" x1="1038.4" y1="3935.4" x2="1026.8" y2="3861.2"><stop stop-color="#33ff00"/><stop offset="1" stop-color="#70ff00"/></linearGradient><linearGradient id="c23" gradientUnits="userSpaceOnUse" x1="1000.3" y1="3887.6" x2="992.0" y2="3819.7"><stop stop-color="#5eff00"/><stop offset="1" stop-color="#93ff00"/></linearGradient><linearGradient id="c24" gradientUnits="userSpaceOnUse" x1="962.5" y1="3846.3" x2="957.6" y2="3784.8"><stop stop-color="#81ff00"/><stop offset="1" stop-color="#aeff00"/></linearGradient><linearGradient id="c25" gradientUnits="userSpaceOnUse" x1="924.9" y1="3811.5" x2="923.8" y2="3756.6"><stop stop-color="#9dff00"/><stop offset="1" stop-color="#c2ff00"/></linearGradient><linearGradient id="c26" gradientUnits="userSpaceOnUse" x1="887.5" y1="3782.9" x2="890.8" y2="3734.9"><stop stop-color="#b0ff00"/><stop offset="1" stop-color="#cdff00"/></linearGradient><linearGradient id="c27" gradientUnits="userSpaceOnUse" x1="849.8" y1="3760.1" x2="859.1" y2="3720.3"><stop stop-color="#bcff00"/><stop offset="1" stop-color="#d1ff00"/></linearGradient><linearGradient id="c28" gradientUnits="userSpaceOnUse" x1="806.8" y1="3749.4" x2="834.0" y2="3705.8"><stop stop-color="#bcff00"/><stop offset="1" stop-color="#d1ff00"/></linearGradient><linearGradient id="c29" gradientUnits="userSpaceOnUse" x1="751.7" y1="3732.5" x2="822.0" y2="3710.3"><stop stop-color="#b0ff00"/><stop offset="1" stop-color="#cdff00"/></linearGradient><linearGradient id="c30" gradientUnits="userSpaceOnUse" x1="729.6" y1="3710.7" x2="778.0" y2="3731.8"><stop stop-color="#9cff00"/><stop offset="1" stop-color="#c1ff00"/></linearGradient><linearGradient id="c31" gradientUnits="userSpaceOnUse" x1="711.2" y1="3717.5" x2="731.7" y2="3736.5"><stop stop-color="#81ff00"/><stop offset="1" stop-color="#adff00"/></linearGradient><linearGradient id="c32" gradientUnits="userSpaceOnUse" x1="686.2" y1="3733.9" x2="693.4" y2="3743.1"><stop stop-color="#5dff00"/><stop offset="1" stop-color="#91ff00"/></linearGradient><linearGradient id="c33" gradientUnits="userSpaceOnUse" x1="658.7" y1="3755.5" x2="658.9" y2="3755.8"><stop stop-color="#32ff00"/><stop offset="1" stop-color="#6dff00"/></linearGradient><linearGradient id="c34" gradientUnits="userSpaceOnUse" x1="630.8" y1="3782.0" x2="626.3" y2="3774.4"><stop stop-color="#00ff02"/><stop offset="1" stop-color="#42ff00"/></linearGradient><linearGradient id="c35" gradientUnits="userSpaceOnUse" x1="602.9" y1="3813.2" x2="595.1" y2="3798.9"><stop stop-color="#00ff3d"/><stop offset="1" stop-color="#0eff00"/></linearGradient><linearGradient id="c36" gradientUnits="userSpaceOnUse" x1="575.5" y1="3849.2" x2="565.0" y2="3828.9"><stop stop-color="#00ff80"/><stop offset="1" stop-color="#00ff2d"/></linearGradient><linearGradient id="c37" gradientUnits="userSpaceOnUse" x1="548.6" y1="3889.8" x2="535.8" y2="3864.1"><stop stop-color="#00ffcb"/><stop offset="1" stop-color="#00ff70"/></linearGradient><linearGradient id="c38" gradientUnits="userSpaceOnUse" x1="522.4" y1="3934.8" x2="507.6" y2="3904.2"><stop stop-color="#00e0ff"/><stop offset="1" stop-color="#00ffbc"/></linearGradient><linearGradient id="c39" gradientUnits="userSpaceOnUse" x1="496.9" y1="3984.2" x2="480.1" y2="3949.1"><stop stop-color="#0086ff"/><stop offset="1" stop-color="#00efff"/></linearGradient><linearGradient id="c40" gradientUnits="userSpaceOnUse" x1="1152.3" y1="4021.4" x2="1134.4" y2="3935.4"><stop stop-color="#00ff29"/><stop offset="1" stop-color="#24ff00"/></linearGradient><linearGradient id="c41" gradientUnits="userSpaceOnUse" x1="1113.6" y1="3961.0" x2="1099.0" y2="3881.2"><stop stop-color="#12ff00"/><stop offset="1" stop-color="#57ff00"/></linearGradient><linearGradient id="c42" gradientUnits="userSpaceOnUse" x1="1075.2" y1="3907.1" x2="1063.9" y2="3833.6"><stop stop-color="#45ff00"/><stop offset="1" stop-color="#82ff00"/></linearGradient><linearGradient id="c43" gradientUnits="userSpaceOnUse" x1="1037.1" y1="3859.8" x2="1029.1" y2="3792.6"><stop stop-color="#70ff00"/><stop offset="1" stop-color="#a5ff00"/></linearGradient><linearGradient id="c44" gradientUnits="userSpaceOnUse" x1="999.4" y1="3819.0" x2="994.7" y2="3758.2"><stop stop-color="#93ff00"/><stop offset="1" stop-color="#c0ff00"/></linearGradient><linearGradient id="c45" gradientUnits="userSpaceOnUse" x1="961.9" y1="3784.6" x2="960.9" y2="3730.4"><stop stop-color="#aeff00"/><stop offset="1" stop-color="#d3ff00"/></linearGradient><linearGradient id="c46" gradientUnits="userSpaceOnUse" x1="924.5" y1="3756.5" x2="927.9" y2="3709.2"><stop stop-color="#c2ff00"/><stop offset="1" stop-color="#dfff00"/></linearGradient><linearGradient id="c47" gradientUnits="userSpaceOnUse" x1="886.9" y1="3734.1" x2="896.0" y2="3695.0"><stop stop-color="#cdff00"/><stop offset="1" stop-color="#e2ff00"/></linearGradient><linearGradient id="c48" gradientUnits="userSpaceOnUse" x1="843.8" y1="3724.0" x2="870.8" y2="3680.6"><stop stop-color="#cdff00"/><stop offset="1" stop-color="#e2ff00"/></linearGradient><linearGradient id="c49" gradientUnits="userSpaceOnUse" x1="788.8" y1="3707.8" x2="858.6" y2="3685.1"><stop stop-color="#c1ff00"/><stop offset="1" stop-color="#deff00"/></linearGradient><linearGradient id="c50" gradientUnits="userSpaceOnUse" x1="766.4" y1="3686.2" x2="814.9" y2="3707.0"><stop stop-color="#adff00"/><stop offset="1" stop-color="#d1ff00"/></linearGradient><linearGradient id="c51" gradientUnits="userSpaceOnUse" x1="747.9" y1="3693.2" x2="768.4" y2="3712.1"><stop stop-color="#91ff00"/><stop offset="1" stop-color="#bdff00"/></linearGradient><linearGradient id="c52" gradientUnits="userSpaceOnUse" x1="722.8" y1="3709.8" x2="729.9" y2="3718.9"><stop stop-color="#6dff00"/><stop offset="1" stop-color="#a1ff00"/></linearGradient><linearGradient id="c53" gradientUnits="userSpaceOnUse" x1="695.2" y1="3731.6" x2="695.3" y2="3731.9"><stop stop-color="#42ff00"/><stop offset="1" stop-color="#7dff00"/></linearGradient><linearGradient id="c54" gradientUnits="userSpaceOnUse" x1="667.1" y1="3758.4" x2="662.6" y2="3750.7"><stop stop-color="#0eff00"/><stop offset="1" stop-color="#52ff00"/></linearGradient><linearGradient id="c55" gradientUnits="userSpaceOnUse" x1="639.0" y1="3789.8" x2="631.2" y2="3775.4"><stop stop-color="#00ff2d"/><stop offset="1" stop-color="#1eff00"/></linearGradient><linearGradient id="c56" gradientUnits="userSpaceOnUse" x1="611.4" y1="3825.9" x2="600.9" y2="3805.5"><stop stop-color="#00ff70"/><stop offset="1" stop-color="#00ff1e"/></linearGradient><linearGradient id="c57" gradientUnits="userSpaceOnUse" x1="584.3" y1="3866.7" x2="571.6" y2="3840.9"><stop stop-color="#00ffbc"/><stop offset="1" stop-color="#00ff61"/></linearGradient><linearGradient id="c58" gradientUnits="userSpaceOnUse" x1="557.9" y1="3911.8" x2="543.1" y2="3881.1"><stop stop-color="#00efff"/><stop offset="1" stop-color="#00ffac"/></linearGradient><linearGradient id="c59" gradientUnits="userSpaceOnUse" x1="532.1" y1="3961.3" x2="515.4" y2="3926.2"><stop stop-color="#0095ff"/><stop offset="1" stop-color="#00ffff"/></linearGradient><linearGradient id="c60" gradientUnits="userSpaceOnUse" x1="1188.5" y1="3992.2" x2="1170.9" y2="3906.9"><stop stop-color="#00ff17"/><stop offset="1" stop-color="#36ff00"/></linearGradient><linearGradient id="c61" gradientUnits="userSpaceOnUse" x1="1149.9" y1="3932.4" x2="1135.6" y2="3853.3"><stop stop-color="#24ff00"/><stop offset="1" stop-color="#69ff00"/></linearGradient><linearGradient id="c62" gradientUnits="userSpaceOnUse" x1="1111.6" y1="3879.1" x2="1100.6" y2="3806.2"><stop stop-color="#57ff00"/><stop offset="1" stop-color="#94ff00"/></linearGradient><linearGradient id="c63" gradientUnits="userSpaceOnUse" x1="1073.6" y1="3832.3" x2="1065.8" y2="3765.8"><stop stop-color="#82ff00"/><stop offset="1" stop-color="#b7ff00"/></linearGradient><linearGradient id="c64" gradientUnits="userSpaceOnUse" x1="1035.9" y1="3791.9" x2="1031.4" y2="3731.9"><stop stop-color="#a5ff00"/><stop offset="1" stop-color="#d1ff00"/></linearGradient><linearGradient id="c65" gradientUnits="userSpaceOnUse" x1="998.4" y1="3758.0" x2="997.6" y2="3704.5"><stop stop-color="#c0ff00"/><stop offset="1" stop-color="#e5ff00"/></linearGradient><linearGradient id="c66" gradientUnits="userSpaceOnUse" x1="961.0" y1="3730.3" x2="964.5" y2="3683.7"><stop stop-color="#d3ff00"/><stop offset="1" stop-color="#f0ff00"/></linearGradient><linearGradient id="c67" gradientUnits="userSpaceOnUse" x1="923.5" y1="3708.3" x2="932.5" y2="3669.9"><stop stop-color="#dfff00"/><stop offset="1" stop-color="#f3ff00"/></linearGradient><linearGradient id="c68" gradientUnits="userSpaceOnUse" x1="880.4" y1="3698.9" x2="907.2" y2="3655.6"><stop stop-color="#deff00"/><stop offset="1" stop-color="#f3ff00"/></linearGradient><linearGradient id="c69" gradientUnits="userSpaceOnUse" x1="825.5" y1="3683.3" x2="894.8" y2="3660.1"><stop stop-color="#d1ff00"/><stop offset="1" stop-color="#efff00"/></linearGradient><linearGradient id="c70" gradientUnits="userSpaceOnUse" x1="802.7" y1="3661.9" x2="851.3" y2="3682.5"><stop stop-color="#bdff00"/><stop offset="1" stop-color="#e2ff00"/></linearGradient><linearGradient id="c71" gradientUnits="userSpaceOnUse" x1="784.2" y1="3669.1" x2="804.6" y2="3687.9"><stop stop-color="#a1ff00"/><stop offset="1" stop-color="#ceff00"/></linearGradient><linearGradient id="c72" gradientUnits="userSpaceOnUse" x1="759.0" y1="3686.0" x2="766.0" y2="3695.0"><stop stop-color="#7dff00"/><stop offset="1" stop-color="#b2ff00"/></linearGradient><linearGradient id="c73" gradientUnits="userSpaceOnUse" x1="731.4" y1="3708.3" x2="731.2" y2="3708.0"><stop stop-color="#52ff00"/><stop offset="1" stop-color="#8eff00"/></linearGradient><linearGradient id="c74" gradientUnits="userSpaceOnUse" x1="703.0" y1="3735.0" x2="698.4" y2="3727.2"><stop stop-color="#1eff00"/><stop offset="1" stop-color="#62ff00"/></linearGradient><linearGradient id="c75" gradientUnits="userSpaceOnUse" x1="674.8" y1="3766.6" x2="666.9" y2="3752.1"><stop stop-color="#00ff1e"/><stop offset="1" stop-color="#2eff00"/></linearGradient><linearGradient id="c76" gradientUnits="userSpaceOnUse" x1="647.0" y1="3802.9" x2="636.4" y2="3782.4"><stop stop-color="#00ff61"/><stop offset="1" stop-color="#00ff0e"/></linearGradient><linearGradient id="c77" gradientUnits="userSpaceOnUse" x1="619.7" y1="3843.8" x2="606.9" y2="3817.9"><stop stop-color="#00ffac"/><stop offset="1" stop-color="#00ff51"/></linearGradient><linearGradient id="c78" gradientUnits="userSpaceOnUse" x1="593.0" y1="3889.0" x2="578.2" y2="3858.3"><stop stop-color="#00ffff"/><stop offset="1" stop-color="#00ff9d"/></linearGradient><linearGradient id="c79" gradientUnits="userSpaceOnUse" x1="567.1" y1="3938.6" x2="550.4" y2="3903.4"><stop stop-color="#00a4ff"/><stop offset="1" stop-color="#00fff0"/></linearGradient><linearGradient id="c80" gradientUnits="userSpaceOnUse" x1="1224.3" y1="3963.3" x2="1207.1" y2="3878.7"><stop stop-color="#00ff04"/><stop offset="1" stop-color="#49ff00"/></linearGradient><linearGradient id="c81" gradientUnits="userSpaceOnUse" x1="1185.7" y1="3904.1" x2="1171.8" y2="3825.6"><stop stop-color="#36ff00"/><stop offset="1" stop-color="#7bff00"/></linearGradient><linearGradient id="c82" gradientUnits="userSpaceOnUse" x1="1147.5" y1="3851.3" x2="1136.8" y2="3779.1"><stop stop-color="#69ff00"/><stop offset="1" stop-color="#a6ff00"/></linearGradient><linearGradient id="c83" gradientUnits="userSpaceOnUse" x1="1109.6" y1="3805.0" x2="1102.1" y2="3739.2"><stop stop-color="#94ff00"/><stop offset="1" stop-color="#c8ff00"/></linearGradient><linearGradient id="c84" gradientUnits="userSpaceOnUse" x1="1071.9" y1="3765.2" x2="1067.7" y2="3705.8"><stop stop-color="#b7ff00"/><stop offset="1" stop-color="#e3ff00"/></linearGradient><linearGradient id="c85" gradientUnits="userSpaceOnUse" x1="1034.5" y1="3731.7" x2="1033.8" y2="3678.8"><stop stop-color="#d1ff00"/><stop offset="1" stop-color="#f6ff00"/></linearGradient><linearGradient id="c86" gradientUnits="userSpaceOnUse" x1="997.2" y1="3704.4" x2="1000.7" y2="3658.5"><stop stop-color="#e5ff00"/><stop offset="1" stop-color="#fffd00"/></linearGradient><linearGradient id="c87" gradientUnits="userSpaceOnUse" x1="959.7" y1="3682.8" x2="968.5" y2="3645.1"><stop stop-color="#f0ff00"/><stop offset="1" stop-color="#fffa00"/></linearGradient><linearGradient id="c88" gradientUnits="userSpaceOnUse" x1="916.7" y1="3674.0" x2="943.2" y2="3630.9"><stop stop-color="#efff00"/><stop offset="1" stop-color="#fffa00"/></linearGradient><linearGradient id="c89" gradientUnits="userSpaceOnUse" x1="861.8" y1="3659.1" x2="930.6" y2="3635.4"><stop stop-color="#e2ff00"/><stop offset="1" stop-color="#fffe00"/></linearGradient><linearGradient id="c90" gradientUnits="userSpaceOnUse" x1="838.6" y1="3637.9" x2="887.3" y2="3658.2"><stop stop-color="#ceff00"/><stop offset="1" stop-color="#f3ff00"/></linearGradient><linearGradient id="c91" gradientUnits="userSpaceOnUse" x1="820.1" y1="3645.3" x2="840.5" y2="3664.0"><stop stop-color="#b2ff00"/><stop offset="1" stop-color="#dfff00"/></linearGradient><linearGradient id="c92" gradientUnits="userSpaceOnUse" x1="794.8" y1="3662.4" x2="801.8" y2="3671.3"><stop stop-color="#8eff00"/><stop offset="1" stop-color="#c2ff00"/></linearGradient><linearGradient id="c93" gradientUnits="userSpaceOnUse" x1="767.0" y1="3684.8" x2="766.8" y2="3684.6"><stop stop-color="#62ff00"/><stop offset="1" stop-color="#9eff00"/></linearGradient><linearGradient id="c94" gradientUnits="userSpaceOnUse" x1="738.5" y1="3711.9" x2="733.9" y2="3703.9"><stop stop-color="#2eff00"/><stop offset="1" stop-color="#72ff00"/></linearGradient><linearGradient id="c95" gradientUnits="userSpaceOnUse" x1="710.1" y1="3743.6" x2="702.2" y2="3729.0"><stop stop-color="#00ff0e"/><stop offset="1" stop-color="#3eff00"/></linearGradient><linearGradient id="c96" gradientUnits="userSpaceOnUse" x1="682.1" y1="3780.1" x2="671.6" y2="3759.4"><stop stop-color="#00ff51"/><stop offset="1" stop-color="#02ff00"/></linearGradient><linearGradient id="c97" gradientUnits="userSpaceOnUse" x1="654.7" y1="3821.0" x2="641.8" y2="3795.1"><stop stop-color="#00ff9d"/><stop offset="1" stop-color="#00ff42"/></linearGradient><linearGradient id="c98" gradientUnits="userSpaceOnUse" x1="627.8" y1="3866.4" x2="613.0" y2="3835.6"><stop stop-color="#00fff0"/><stop offset="1" stop-color="#00ff8d"/></linearGradient><linearGradient id="c99" gradientUnits="userSpaceOnUse" x1="601.6" y1="3916.1" x2="584.9" y2="3880.9"><stop stop-color="#00b3ff"/><stop offset="1" stop-color="#00ffe1"/></linearGradient><linearGradient id="c100" gradientUnits="userSpaceOnUse" x1="1259.6" y1="3934.8" x2="1242.8" y2="3850.8"><stop stop-color="#0eff00"/><stop offset="1" stop-color="#5bff00"/></linearGradient><linearGradient id="c101" gradientUnits="userSpaceOnUse" x1="1221.2" y1="3876.1" x2="1207.6" y2="3798.3"><stop stop-color="#49ff00"/><stop offset="1" stop-color="#8dff00"/></linearGradient><linearGradient id="c102" gradientUnits="userSpaceOnUse" x1="1183.0" y1="3823.8" x2="1172.6" y2="3752.3"><stop stop-color="#7bff00"/><stop offset="1" stop-color="#b8ff00"/></linearGradient><linearGradient id="c103" gradientUnits="userSpaceOnUse" x1="1145.2" y1="3778.0" x2="1137.9" y2="3712.9"><stop stop-color="#a6ff00"/><stop offset="1" stop-color="#daff00"/></linearGradient><linearGradient id="c104" gradientUnits="userSpaceOnUse" x1="1107.6" y1="3738.7" x2="1103.5" y2="3679.9"><stop stop-color="#c8ff00"/><stop offset="1" stop-color="#f5ff00"/></linearGradient><linearGradient id="c105" gradientUnits="userSpaceOnUse" x1="1070.2" y1="3705.6" x2="1069.6" y2="3653.5"><stop stop-color="#e3ff00"/><stop offset="1" stop-color="#fff600"/></linearGradient><linearGradient id="c106" gradientUnits="userSpaceOnUse" x1="1032.9" y1="3678.7" x2="1036.4" y2="3633.5"><stop stop-color="#f6ff00"/><stop offset="1" stop-color="#ffec00"/></linearGradient><linearGradient id="c107" gradientUnits="userSpaceOnUse" x1="995.5" y1="3657.5" x2="1004.2" y2="3620.5"><stop stop-color="#fffd00"/><stop offset="1" stop-color="#ffe900"/></linearGradient><linearGradient id="c108" gradientUnits="userSpaceOnUse" x1="952.5" y1="3649.4" x2="978.7" y2="3606.4"><stop stop-color="#fffe00"/><stop offset="1" stop-color="#ffe900"/></linearGradient><linearGradient id="c109" gradientUnits="userSpaceOnUse" x1="897.7" y1="3635.1" x2="966.0" y2="3610.9"><stop stop-color="#f3ff00"/><stop offset="1" stop-color="#ffed00"/></linearGradient><linearGradient id="c110" gradientUnits="userSpaceOnUse" x1="874.1" y1="3614.1" x2="922.9" y2="3634.1"><stop stop-color="#dfff00"/><stop offset="1" stop-color="#fffa00"/></linearGradient><linearGradient id="c111" gradientUnits="userSpaceOnUse" x1="855.6" y1="3621.7" x2="875.9" y2="3640.2"><stop stop-color="#c2ff00"/><stop offset="1" stop-color="#efff00"/></linearGradient><linearGradient id="c112" gradientUnits="userSpaceOnUse" x1="830.2" y1="3639.1" x2="837.1" y2="3647.8"><stop stop-color="#9eff00"/><stop offset="1" stop-color="#d3ff00"/></linearGradient><linearGradient id="c113" gradientUnits="userSpaceOnUse" x1="802.2" y1="3661.7" x2="802.0" y2="3661.3"><stop stop-color="#72ff00"/><stop offset="1" stop-color="#aeff00"/></linearGradient><linearGradient id="c114" gradientUnits="userSpaceOnUse" x1="773.6" y1="3688.9" x2="768.9" y2="3680.9"><stop stop-color="#3eff00"/><stop offset="1" stop-color="#82ff00"/></linearGradient><linearGradient id="c115" gradientUnits="userSpaceOnUse" x1="745.1" y1="3720.9" x2="737.1" y2="3706.1"><stop stop-color="#02ff00"/><stop offset="1" stop-color="#4eff00"/></linearGradient><linearGradient id="c116" gradientUnits="userSpaceOnUse" x1="716.9" y1="3757.4" x2="706.3" y2="3736.7"><stop stop-color="#00ff42"/><stop offset="1" stop-color="#12ff00"/></linearGradient><linearGradient id="c117" gradientUnits="userSpaceOnUse" x1="689.2" y1="3798.6" x2="676.4" y2="3772.5"><stop stop-color="#00ff8d"/><stop offset="1" stop-color="#00ff32"/></linearGradient><linearGradient id="c118" gradientUnits="userSpaceOnUse" x1="662.2" y1="3844.1" x2="647.4" y2="3813.1"><stop stop-color="#00ffe1"/><stop offset="1" stop-color="#00ff7e"/></linearGradient><linearGradient id="c119" gradientUnits="userSpaceOnUse" x1="635.8" y1="3893.8" x2="619.1" y2="3858.5"><stop stop-color="#00c2ff"/><stop offset="1" stop-color="#00ffd1"/></linearGradient><linearGradient id="c120" gradientUnits="userSpaceOnUse" x1="1294.5" y1="3906.5" x2="1278.1" y2="3823.2"><stop stop-color="#21ff00"/><stop offset="1" stop-color="#6eff00"/></linearGradient><linearGradient id="c121" gradientUnits="userSpaceOnUse" x1="1256.2" y1="3848.3" x2="1243.0" y2="3771.2"><stop stop-color="#5bff00"/><stop offset="1" stop-color="#a0ff00"/></linearGradient><linearGradient id="c122" gradientUnits="userSpaceOnUse" x1="1218.2" y1="3796.6" x2="1208.0" y2="3725.8"><stop stop-color="#8dff00"/><stop offset="1" stop-color="#caff00"/></linearGradient><linearGradient id="c123" gradientUnits="userSpaceOnUse" x1="1180.4" y1="3751.3" x2="1173.3" y2="3686.8"><stop stop-color="#b8ff00"/><stop offset="1" stop-color="#ecff00"/></linearGradient><linearGradient id="c124" gradientUnits="userSpaceOnUse" x1="1142.8" y1="3712.4" x2="1139.0" y2="3654.3"><stop stop-color="#daff00"/><stop offset="1" stop-color="#fff700"/></linearGradient><linearGradient id="c125" gradientUnits="userSpaceOnUse" x1="1105.5" y1="3679.8" x2="1105.0" y2="3628.3"><stop stop-color="#f5ff00"/><stop offset="1" stop-color="#ffe500"/></linearGradient><linearGradient id="c126" gradientUnits="userSpaceOnUse" x1="1068.3" y1="3653.3" x2="1071.8" y2="3608.8"><stop stop-color="#fff600"/><stop offset="1" stop-color="#ffda00"/></linearGradient><linearGradient id="c127" gradientUnits="userSpaceOnUse" x1="1030.9" y1="3632.5" x2="1039.5" y2="3596.1"><stop stop-color="#ffec00"/><stop offset="1" stop-color="#ffd700"/></linearGradient><linearGradient id="c128" gradientUnits="userSpaceOnUse" x1="987.9" y1="3625.0" x2="1013.9" y2="3582.1"><stop stop-color="#ffed00"/><stop offset="1" stop-color="#ffd700"/></linearGradient><linearGradient id="c129" gradientUnits="userSpaceOnUse" x1="933.2" y1="3611.4" x2="1000.9" y2="3586.6"><stop stop-color="#fffa00"/><stop offset="1" stop-color="#ffdc00"/></linearGradient><linearGradient id="c130" gradientUnits="userSpaceOnUse" x1="909.1" y1="3590.6" x2="958.2" y2="3610.2"><stop stop-color="#efff00"/><stop offset="1" stop-color="#ffe900"/></linearGradient><linearGradient id="c131" gradientUnits="userSpaceOnUse" x1="890.6" y1="3598.3" x2="911.0" y2="3616.7"><stop stop-color="#d3ff00"/><stop offset="1" stop-color="#fffe00"/></linearGradient><linearGradient id="c132" gradientUnits="userSpaceOnUse" x1="865.2" y1="3615.9" x2="872.0" y2="3624.6"><stop stop-color="#aeff00"/><stop offset="1" stop-color="#e3ff00"/></linearGradient><linearGradient id="c133" gradientUnits="userSpaceOnUse" x1="837.1" y1="3638.7" x2="836.8" y2="3638.3"><stop stop-color="#82ff00"/><stop offset="1" stop-color="#bfff00"/></linearGradient><linearGradient id="c134" gradientUnits="userSpaceOnUse" x1="808.4" y1="3666.2" x2="803.6" y2="3658.0"><stop stop-color="#4eff00"/><stop offset="1" stop-color="#92ff00"/></linearGradient><linearGradient id="c135" gradientUnits="userSpaceOnUse" x1="779.7" y1="3698.3" x2="771.7" y2="3683.4"><stop stop-color="#12ff00"/><stop offset="1" stop-color="#5eff00"/></linearGradient><linearGradient id="c136" gradientUnits="userSpaceOnUse" x1="751.3" y1="3735.0" x2="740.7" y2="3714.2"><stop stop-color="#00ff32"/><stop offset="1" stop-color="#22ff00"/></linearGradient><linearGradient id="c137" gradientUnits="userSpaceOnUse" x1="723.5" y1="3776.3" x2="710.6" y2="3750.1"><stop stop-color="#00ff7e"/><stop offset="1" stop-color="#00ff22"/></linearGradient><linearGradient id="c138" gradientUnits="userSpaceOnUse" x1="696.2" y1="3821.9" x2="681.4" y2="3790.9"><stop stop-color="#00ffd1"/><stop offset="1" stop-color="#00ff6e"/></linearGradient><linearGradient id="c139" gradientUnits="userSpaceOnUse" x1="669.6" y1="3871.7" x2="652.9" y2="3836.3"><stop stop-color="#00d1ff"/><stop offset="1" stop-color="#00ffc2"/></linearGradient><linearGradient id="c140" gradientUnits="userSpaceOnUse" x1="1329.0" y1="3878.5" x2="1313.0" y2="3795.9"><stop stop-color="#34ff00"/><stop offset="1" stop-color="#80ff00"/></linearGradient><linearGradient id="c141" gradientUnits="userSpaceOnUse" x1="1290.8" y1="3820.9" x2="1277.9" y2="3744.4"><stop stop-color="#6eff00"/><stop offset="1" stop-color="#b2ff00"/></linearGradient><linearGradient id="c142" gradientUnits="userSpaceOnUse" x1="1252.9" y1="3769.7" x2="1243.0" y2="3699.5"><stop stop-color="#a0ff00"/><stop offset="1" stop-color="#dcff00"/></linearGradient><linearGradient id="c143" gradientUnits="userSpaceOnUse" x1="1215.1" y1="3724.9" x2="1208.4" y2="3661.0"><stop stop-color="#caff00"/><stop offset="1" stop-color="#feff00"/></linearGradient><linearGradient id="c144" gradientUnits="userSpaceOnUse" x1="1177.7" y1="3686.4" x2="1174.0" y2="3629.0"><stop stop-color="#ecff00"/><stop offset="1" stop-color="#ffe600"/></linearGradient><linearGradient id="c145" gradientUnits="userSpaceOnUse" x1="1140.4" y1="3654.2" x2="1140.1" y2="3603.4"><stop stop-color="#fff700"/><stop offset="1" stop-color="#ffd300"/></linearGradient><linearGradient id="c146" gradientUnits="userSpaceOnUse" x1="1103.2" y1="3628.2" x2="1106.7" y2="3584.3"><stop stop-color="#ffe500"/><stop offset="1" stop-color="#ffc900"/></linearGradient><linearGradient id="c147" gradientUnits="userSpaceOnUse" x1="1065.9" y1="3607.7" x2="1074.3" y2="3572.0"><stop stop-color="#ffda00"/><stop offset="1" stop-color="#ffc600"/></linearGradient><linearGradient id="c148" gradientUnits="userSpaceOnUse" x1="1022.9" y1="3600.8" x2="1048.7" y2="3558.0"><stop stop-color="#ffdc00"/><stop offset="1" stop-color="#ffc600"/></linearGradient><linearGradient id="c149" gradientUnits="userSpaceOnUse" x1="968.3" y1="3587.9" x2="1035.5" y2="3562.5"><stop stop-color="#ffe900"/><stop offset="1" stop-color="#ffcb00"/></linearGradient><linearGradient id="c150" gradientUnits="userSpaceOnUse" x1="943.8" y1="3567.2" x2="993.0" y2="3586.5"><stop stop-color="#fffe00"/><stop offset="1" stop-color="#ffd800"/></linearGradient><linearGradient id="c151" gradientUnits="userSpaceOnUse" x1="925.3" y1="3575.1" x2="945.7" y2="3593.4"><stop stop-color="#e3ff00"/><stop offset="1" stop-color="#ffed00"/></linearGradient><linearGradient id="c152" gradientUnits="userSpaceOnUse" x1="899.8" y1="3593.0" x2="906.6" y2="3601.5"><stop stop-color="#bfff00"/><stop offset="1" stop-color="#f4ff00"/></linearGradient><linearGradient id="c153" gradientUnits="userSpaceOnUse" x1="871.6" y1="3616.0" x2="871.3" y2="3615.4"><stop stop-color="#92ff00"/><stop offset="1" stop-color="#cfff00"/></linearGradient><linearGradient id="c154" gradientUnits="userSpaceOnUse" x1="842.8" y1="3643.7" x2="837.9" y2="3635.3"><stop stop-color="#5eff00"/><stop offset="1" stop-color="#a3ff00"/></linearGradient><linearGradient id="c155" gradientUnits="userSpaceOnUse" x1="813.9" y1="3675.9" x2="805.8" y2="3660.9"><stop stop-color="#22ff00"/><stop offset="1" stop-color="#6eff00"/></linearGradient><linearGradient id="c156" gradientUnits="userSpaceOnUse" x1="785.4" y1="3712.8" x2="774.7" y2="3691.9"><stop stop-color="#00ff22"/><stop offset="1" stop-color="#32ff00"/></linearGradient><linearGradient id="c157" gradientUnits="userSpaceOnUse" x1="757.3" y1="3754.2" x2="744.5" y2="3727.9"><stop stop-color="#00ff6e"/><stop offset="1" stop-color="#00ff12"/></linearGradient><linearGradient id="c158" gradientUnits="userSpaceOnUse" x1="729.9" y1="3799.9" x2="715.1" y2="3768.8"><stop stop-color="#00ffc2"/><stop offset="1" stop-color="#00ff5f"/></linearGradient><linearGradient id="c159" gradientUnits="userSpaceOnUse" x1="703.1" y1="3849.8" x2="686.4" y2="3814.4"><stop stop-color="#00e0ff"/><stop offset="1" stop-color="#00ffb3"/></linearGradient><linearGradient id="c160" gradientUnits="userSpaceOnUse" x1="1363.2" y1="3850.7" x2="1347.5" y2="3768.8"><stop stop-color="#46ff00"/><stop offset="1" stop-color="#93ff00"/></linearGradient><linearGradient id="c161" gradientUnits="userSpaceOnUse" x1="1325.1" y1="3793.7" x2="1312.5" y2="3717.9"><stop stop-color="#80ff00"/><stop offset="1" stop-color="#c4ff00"/></linearGradient><linearGradient id="c162" gradientUnits="userSpaceOnUse" x1="1287.2" y1="3743.0" x2="1277.6" y2="3673.5"><stop stop-color="#b2ff00"/><stop offset="1" stop-color="#eeff00"/></linearGradient><linearGradient id="c163" gradientUnits="userSpaceOnUse" x1="1249.5" y1="3698.7" x2="1243.0" y2="3635.5"><stop stop-color="#dcff00"/><stop offset="1" stop-color="#ffee00"/></linearGradient><linearGradient id="c164" gradientUnits="userSpaceOnUse" x1="1212.1" y1="3660.7" x2="1208.6" y2="3603.9"><stop stop-color="#feff00"/><stop offset="1" stop-color="#ffd400"/></linearGradient><linearGradient id="c165" gradientUnits="userSpaceOnUse" x1="1174.9" y1="3628.9" x2="1174.7" y2="3578.7"><stop stop-color="#ffe600"/><stop offset="1" stop-color="#ffc100"/></linearGradient><linearGradient id="c166" gradientUnits="userSpaceOnUse" x1="1137.7" y1="3603.3" x2="1141.3" y2="3560.0"><stop stop-color="#ffd300"/><stop offset="1" stop-color="#ffb700"/></linearGradient><linearGradient id="c167" gradientUnits="userSpaceOnUse" x1="1100.5" y1="3583.1" x2="1108.8" y2="3548.1"><stop stop-color="#ffc900"/><stop offset="1" stop-color="#ffb500"/></linearGradient><linearGradient id="c168" gradientUnits="userSpaceOnUse" x1="1057.5" y1="3576.8" x2="1083.0" y2="3534.2"><stop stop-color="#ffcb00"/><stop offset="1" stop-color="#ffb500"/></linearGradient><linearGradient id="c169" gradientUnits="userSpaceOnUse" x1="1003.0" y1="3564.5" x2="1069.7" y2="3538.7"><stop stop-color="#ffd800"/><stop offset="1" stop-color="#ffba00"/></linearGradient><linearGradient id="c170" gradientUnits="userSpaceOnUse" x1="978.1" y1="3544.1" x2="1027.5" y2="3563.1"><stop stop-color="#ffed00"/><stop offset="1" stop-color="#ffc700"/></linearGradient><linearGradient id="c171" gradientUnits="userSpaceOnUse" x1="959.7" y1="3552.1" x2="980.0" y2="3570.4"><stop stop-color="#f4ff00"/><stop offset="1" stop-color="#ffdc00"/></linearGradient><linearGradient id="c172" gradientUnits="userSpaceOnUse" x1="934.0" y1="3570.2" x2="940.7" y2="3578.7"><stop stop-color="#cfff00"/><stop offset="1" stop-color="#fff900"/></linearGradient><linearGradient id="c173" gradientUnits="userSpaceOnUse" x1="905.8" y1="3593.5" x2="905.3" y2="3592.8"><stop stop-color="#a3ff00"/><stop offset="1" stop-color="#e0ff00"/></linearGradient><linearGradient id="c174" gradientUnits="userSpaceOnUse" x1="876.8" y1="3621.3" x2="871.9" y2="3612.9"><stop stop-color="#6eff00"/><stop offset="1" stop-color="#b3ff00"/></linearGradient><linearGradient id="c175" gradientUnits="userSpaceOnUse" x1="847.8" y1="3653.8" x2="839.6" y2="3638.6"><stop stop-color="#32ff00"/><stop offset="1" stop-color="#7eff00"/></linearGradient><linearGradient id="c176" gradientUnits="userSpaceOnUse" x1="819.1" y1="3690.8" x2="808.4" y2="3669.7"><stop stop-color="#00ff12"/><stop offset="1" stop-color="#42ff00"/></linearGradient><linearGradient id="c177" gradientUnits="userSpaceOnUse" x1="790.9" y1="3732.3" x2="778.0" y2="3705.9"><stop stop-color="#00ff5f"/><stop offset="1" stop-color="#00ff03"/></linearGradient><linearGradient id="c178" gradientUnits="userSpaceOnUse" x1="763.2" y1="3778.1" x2="748.4" y2="3746.9"><stop stop-color="#00ffb3"/><stop offset="1" stop-color="#00ff4f"/></linearGradient><linearGradient id="c179" gradientUnits="userSpaceOnUse" x1="736.2" y1="3828.1" x2="719.6" y2="3792.6"><stop stop-color="#00f0ff"/><stop offset="1" stop-color="#00ffa3"/></linearGradient><linearGradient id="c180" gradientUnits="userSpaceOnUse" x1="1396.9" y1="3823.3" x2="1381.6" y2="3742.0"><stop stop-color="#59ff00"/><stop offset="1" stop-color="#a5ff00"/></linearGradient><linearGradient id="c181" gradientUnits="userSpaceOnUse" x1="1358.9" y1="3766.8" x2="1346.7" y2="3691.6"><stop stop-color="#93ff00"/><stop offset="1" stop-color="#d7ff00"/></linearGradient><linearGradient id="c182" gradientUnits="userSpaceOnUse" x1="1321.1" y1="3716.6" x2="1311.9" y2="3647.7"><stop stop-color="#c4ff00"/><stop offset="1" stop-color="#fffe00"/></linearGradient><linearGradient id="c183" gradientUnits="userSpaceOnUse" x1="1283.5" y1="3672.7" x2="1277.2" y2="3610.2"><stop stop-color="#eeff00"/><stop offset="1" stop-color="#ffdc00"/></linearGradient><linearGradient id="c184" gradientUnits="userSpaceOnUse" x1="1246.2" y1="3635.2" x2="1242.9" y2="3579.1"><stop stop-color="#ffee00"/><stop offset="1" stop-color="#ffc200"/></linearGradient><linearGradient id="c185" gradientUnits="userSpaceOnUse" x1="1209.0" y1="3603.9" x2="1208.9" y2="3554.3"><stop stop-color="#ffd400"/><stop offset="1" stop-color="#ffb000"/></linearGradient><linearGradient id="c186" gradientUnits="userSpaceOnUse" x1="1171.9" y1="3578.6" x2="1175.5" y2="3536.0"><stop stop-color="#ffc100"/><stop offset="1" stop-color="#ffa500"/></linearGradient><linearGradient id="c187" gradientUnits="userSpaceOnUse" x1="1134.7" y1="3558.8" x2="1142.9" y2="3524.4"><stop stop-color="#ffb700"/><stop offset="1" stop-color="#ffa300"/></linearGradient><linearGradient id="c188" gradientUnits="userSpaceOnUse" x1="1091.8" y1="3553.1" x2="1117.0" y2="3510.6"><stop stop-color="#ffba00"/><stop offset="1" stop-color="#ffa300"/></linearGradient><linearGradient id="c189" gradientUnits="userSpaceOnUse" x1="1037.3" y1="3541.5" x2="1103.5" y2="3515.1"><stop stop-color="#ffc700"/><stop offset="1" stop-color="#ffa900"/></linearGradient><linearGradient id="c190" gradientUnits="userSpaceOnUse" x1="1012.1" y1="3521.2" x2="1061.6" y2="3539.9"><stop stop-color="#ffdc00"/><stop offset="1" stop-color="#ffb600"/></linearGradient><linearGradient id="c191" gradientUnits="userSpaceOnUse" x1="993.6" y1="3529.3" x2="1013.9" y2="3547.5"><stop stop-color="#fff900"/><stop offset="1" stop-color="#ffcb00"/></linearGradient><linearGradient id="c192" gradientUnits="userSpaceOnUse" x1="967.9" y1="3547.7" x2="974.5" y2="3556.0"><stop stop-color="#e0ff00"/><stop offset="1" stop-color="#ffe900"/></linearGradient><linearGradient id="c193" gradientUnits="userSpaceOnUse" x1="939.5" y1="3571.2" x2="939.0" y2="3570.4"><stop stop-color="#b3ff00"/><stop offset="1" stop-color="#f0ff00"/></linearGradient><linearGradient id="c194" gradientUnits="userSpaceOnUse" x1="910.4" y1="3599.2" x2="905.4" y2="3590.6"><stop stop-color="#7eff00"/><stop offset="1" stop-color="#c3ff00"/></linearGradient><linearGradient id="c195" gradientUnits="userSpaceOnUse" x1="881.2" y1="3631.8" x2="873.1" y2="3616.5"><stop stop-color="#42ff00"/><stop offset="1" stop-color="#8fff00"/></linearGradient><linearGradient id="c196" gradientUnits="userSpaceOnUse" x1="852.4" y1="3669.0" x2="841.7" y2="3647.8"><stop stop-color="#00ff03"/><stop offset="1" stop-color="#52ff00"/></linearGradient><linearGradient id="c197" gradientUnits="userSpaceOnUse" x1="824.0" y1="3710.5" x2="811.1" y2="3684.1"><stop stop-color="#00ff4f"/><stop offset="1" stop-color="#0dff00"/></linearGradient><linearGradient id="c198" gradientUnits="userSpaceOnUse" x1="796.2" y1="3756.4" x2="781.4" y2="3725.2"><stop stop-color="#00ffa3"/><stop offset="1" stop-color="#00ff3f"/></linearGradient><linearGradient id="c199" gradientUnits="userSpaceOnUse" x1="769.0" y1="3806.5" x2="752.4" y2="3771.0"><stop stop-color="#00ffff"/><stop offset="1" stop-color="#00ff93"/></linearGradient><linearGradient id="c200" gradientUnits="userSpaceOnUse" x1="1430.3" y1="3796.1" x2="1415.3" y2="3715.4"><stop stop-color="#6cff00"/><stop offset="1" stop-color="#b8ff00"/></linearGradient><linearGradient id="c201" gradientUnits="userSpaceOnUse" x1="1392.4" y1="3740.1" x2="1380.5" y2="3665.6"><stop stop-color="#a5ff00"/><stop offset="1" stop-color="#e9ff00"/></linearGradient><linearGradient id="c202" gradientUnits="userSpaceOnUse" x1="1354.7" y1="3690.4" x2="1345.7" y2="3622.2"><stop stop-color="#d7ff00"/><stop offset="1" stop-color="#ffeb00"/></linearGradient><linearGradient id="c203" gradientUnits="userSpaceOnUse" x1="1317.2" y1="3647.0" x2="1311.1" y2="3585.1"><stop stop-color="#fffe00"/><stop offset="1" stop-color="#ffca00"/></linearGradient><linearGradient id="c204" gradientUnits="userSpaceOnUse" x1="1279.9" y1="3609.9" x2="1276.7" y2="3554.4"><stop stop-color="#ffdc00"/><stop offset="1" stop-color="#ffb000"/></linearGradient><linearGradient id="c205" gradientUnits="userSpaceOnUse" x1="1242.7" y1="3579.0" x2="1242.7" y2="3530.1"><stop stop-color="#ffc200"/><stop offset="1" stop-color="#ff9e00"/></linearGradient><linearGradient id="c206" gradientUnits="userSpaceOnUse" x1="1205.7" y1="3554.1" x2="1209.3" y2="3512.2"><stop stop-color="#ffb000"/><stop offset="1" stop-color="#ff9400"/></linearGradient><linearGradient id="c207" gradientUnits="userSpaceOnUse" x1="1168.6" y1="3534.7" x2="1176.6" y2="3501.0"><stop stop-color="#ffa500"/><stop offset="1" stop-color="#ff9200"/></linearGradient><linearGradient id="c208" gradientUnits="userSpaceOnUse" x1="1125.6" y1="3529.6" x2="1150.7" y2="3487.3"><stop stop-color="#ffa900"/><stop offset="1" stop-color="#ff9200"/></linearGradient><linearGradient id="c209" gradientUnits="userSpaceOnUse" x1="1071.3" y1="3518.6" x2="1136.9" y2="3491.7"><stop stop-color="#ffb600"/><stop offset="1" stop-color="#ff9700"/></linearGradient><linearGradient id="c210" gradientUnits="userSpaceOnUse" x1="1045.6" y1="3498.5" x2="1095.3" y2="3516.8"><stop stop-color="#ffcb00"/><stop offset="1" stop-color="#ffa500"/></linearGradient><linearGradient id="c211" gradientUnits="userSpaceOnUse" x1="1027.2" y1="3506.8" x2="1047.5" y2="3524.9"><stop stop-color="#ffe900"/><stop offset="1" stop-color="#ffba00"/></linearGradient><linearGradient id="c212" gradientUnits="userSpaceOnUse" x1="1001.4" y1="3525.4" x2="1008.0" y2="3533.6"><stop stop-color="#f0ff00"/><stop offset="1" stop-color="#ffd800"/></linearGradient><linearGradient id="c213" gradientUnits="userSpaceOnUse" x1="973.0" y1="3549.1" x2="972.3" y2="3548.1"><stop stop-color="#c3ff00"/><stop offset="1" stop-color="#fffd00"/></linearGradient><linearGradient id="c214" gradientUnits="userSpaceOnUse" x1="943.7" y1="3577.3" x2="938.6" y2="3568.6"><stop stop-color="#8fff00"/><stop offset="1" stop-color="#d4ff00"/></linearGradient><linearGradient id="c215" gradientUnits="userSpaceOnUse" x1="914.4" y1="3610.0" x2="906.2" y2="3594.7"><stop stop-color="#52ff00"/><stop offset="1" stop-color="#9fff00"/></linearGradient><linearGradient id="c216" gradientUnits="userSpaceOnUse" x1="885.4" y1="3647.3" x2="874.7" y2="3626.0"><stop stop-color="#0dff00"/><stop offset="1" stop-color="#62ff00"/></linearGradient><linearGradient id="c217" gradientUnits="userSpaceOnUse" x1="856.8" y1="3689.0" x2="844.0" y2="3662.5"><stop stop-color="#00ff3f"/><stop offset="1" stop-color="#1dff00"/></linearGradient><linearGradient id="c218" gradientUnits="userSpaceOnUse" x1="828.8" y1="3735.0" x2="814.0" y2="3703.7"><stop stop-color="#00ff93"/><stop offset="1" stop-color="#00ff2f"/></linearGradient><linearGradient id="c219" gradientUnits="userSpaceOnUse" x1="801.4" y1="3785.2" x2="784.8" y2="3749.5"><stop stop-color="#00fff0"/><stop offset="1" stop-color="#00ff84"/></linearGradient><linearGradient id="c220" gradientUnits="userSpaceOnUse" x1="1463.3" y1="3769.1" x2="1448.7" y2="3689.1"><stop stop-color="#7fff00"/><stop offset="1" stop-color="#cbff00"/></linearGradient><linearGradient id="c221" gradientUnits="userSpaceOnUse" x1="1425.5" y1="3713.7" x2="1413.9" y2="3639.8"><stop stop-color="#b8ff00"/><stop offset="1" stop-color="#fcff00"/></linearGradient><linearGradient id="c222" gradientUnits="userSpaceOnUse" x1="1387.9" y1="3664.5" x2="1379.1" y2="3596.9"><stop stop-color="#e9ff00"/><stop offset="1" stop-color="#ffd900"/></linearGradient><linearGradient id="c223" gradientUnits="userSpaceOnUse" x1="1350.4" y1="3621.6" x2="1344.5" y2="3560.3"><stop stop-color="#ffeb00"/><stop offset="1" stop-color="#ffb700"/></linearGradient><linearGradient id="c224" gradientUnits="userSpaceOnUse" x1="1313.2" y1="3584.9" x2="1310.2" y2="3530.1"><stop stop-color="#ffca00"/><stop offset="1" stop-color="#ff9e00"/></linearGradient><linearGradient id="c225" gradientUnits="userSpaceOnUse" x1="1276.1" y1="3554.4" x2="1276.2" y2="3506.1"><stop stop-color="#ffb000"/><stop offset="1" stop-color="#ff8c00"/></linearGradient><linearGradient id="c226" gradientUnits="userSpaceOnUse" x1="1239.1" y1="3529.9" x2="1242.7" y2="3488.6"><stop stop-color="#ff9e00"/><stop offset="1" stop-color="#ff8200"/></linearGradient><linearGradient id="c227" gradientUnits="userSpaceOnUse" x1="1202.1" y1="3510.9" x2="1209.9" y2="3477.7"><stop stop-color="#ff9400"/><stop offset="1" stop-color="#ff8000"/></linearGradient><linearGradient id="c228" gradientUnits="userSpaceOnUse" x1="1159.2" y1="3506.3" x2="1183.9" y2="3464.1"><stop stop-color="#ff9700"/><stop offset="1" stop-color="#ff8000"/></linearGradient><linearGradient id="c229" gradientUnits="userSpaceOnUse" x1="1104.9" y1="3495.9" x2="1170.0" y2="3468.5"><stop stop-color="#ffa500"/><stop offset="1" stop-color="#ff8600"/></linearGradient><linearGradient id="c230" gradientUnits="userSpaceOnUse" x1="1078.8" y1="3476.0" x2="1128.7" y2="3494.0"><stop stop-color="#ffba00"/><stop offset="1" stop-color="#ff9400"/></linearGradient><linearGradient id="c231" gradientUnits="userSpaceOnUse" x1="1060.4" y1="3484.4" x2="1080.7" y2="3502.4"><stop stop-color="#ffd800"/><stop offset="1" stop-color="#ffa900"/></linearGradient><linearGradient id="c232" gradientUnits="userSpaceOnUse" x1="1034.6" y1="3503.3" x2="1041.0" y2="3511.4"><stop stop-color="#fffd00"/><stop offset="1" stop-color="#ffc700"/></linearGradient><linearGradient id="c233" gradientUnits="userSpaceOnUse" x1="1006.0" y1="3527.2" x2="1005.3" y2="3526.1"><stop stop-color="#d4ff00"/><stop offset="1" stop-color="#ffec00"/></linearGradient><linearGradient id="c234" gradientUnits="userSpaceOnUse" x1="976.6" y1="3555.5" x2="971.5" y2="3546.7"><stop stop-color="#9fff00"/><stop offset="1" stop-color="#e4ff00"/></linearGradient><linearGradient id="c235" gradientUnits="userSpaceOnUse" x1="947.2" y1="3588.5" x2="938.9" y2="3572.9"><stop stop-color="#62ff00"/><stop offset="1" stop-color="#afff00"/></linearGradient><linearGradient id="c236" gradientUnits="userSpaceOnUse" x1="918.0" y1="3625.9" x2="907.3" y2="3604.5"><stop stop-color="#1dff00"/><stop offset="1" stop-color="#72ff00"/></linearGradient><linearGradient id="c237" gradientUnits="userSpaceOnUse" x1="889.3" y1="3667.7" x2="876.4" y2="3641.0"><stop stop-color="#00ff2f"/><stop offset="1" stop-color="#2dff00"/></linearGradient><linearGradient id="c238" gradientUnits="userSpaceOnUse" x1="861.1" y1="3713.8" x2="846.3" y2="3682.4"><stop stop-color="#00ff84"/><stop offset="1" stop-color="#00ff1f"/></linearGradient><linearGradient id="c239" gradientUnits="userSpaceOnUse" x1="833.5" y1="3764.0" x2="816.9" y2="3728.3"><stop stop-color="#00ffe0"/><stop offset="1" stop-color="#00ff74"/></linearGradient><linearGradient id="c240" gradientUnits="userSpaceOnUse" x1="1495.9" y1="3742.5" x2="1481.6" y2="3663.1"><stop stop-color="#91ff00"/><stop offset="1" stop-color="#ddff00"/></linearGradient><linearGradient id="c241" gradientUnits="userSpaceOnUse" x1="1458.2" y1="3687.5" x2="1446.9" y2="3614.3"><stop stop-color="#cbff00"/><stop offset="1" stop-color="#fff000"/></linearGradient><linearGradient id="c242" gradientUnits="userSpaceOnUse" x1="1420.7" y1="3638.8" x2="1412.2" y2="3571.8"><stop stop-color="#fcff00"/><stop offset="1" stop-color="#ffc600"/></linearGradient><linearGradient id="c243" gradientUnits="userSpaceOnUse" x1="1383.3" y1="3596.4" x2="1377.6" y2="3535.7"><stop stop-color="#ffd900"/><stop offset="1" stop-color="#ffa500"/></linearGradient><linearGradient id="c244" gradientUnits="userSpaceOnUse" x1="1346.1" y1="3560.2" x2="1343.3" y2="3505.9"><stop stop-color="#ffb700"/><stop offset="1" stop-color="#ff8c00"/></linearGradient><linearGradient id="c245" gradientUnits="userSpaceOnUse" x1="1309.1" y1="3530.1" x2="1309.3" y2="3482.4"><stop stop-color="#ff9e00"/><stop offset="1" stop-color="#ff7a00"/></linearGradient><linearGradient id="c246" gradientUnits="userSpaceOnUse" x1="1272.2" y1="3505.9" x2="1275.8" y2="3465.2"><stop stop-color="#ff8c00"/><stop offset="1" stop-color="#ff7000"/></linearGradient><linearGradient id="c247" gradientUnits="userSpaceOnUse" x1="1235.2" y1="3487.2" x2="1242.9" y2="3454.7"><stop stop-color="#ff8200"/><stop offset="1" stop-color="#ff6e00"/></linearGradient><linearGradient id="c248" gradientUnits="userSpaceOnUse" x1="1192.3" y1="3483.3" x2="1216.8" y2="3441.2"><stop stop-color="#ff8600"/><stop offset="1" stop-color="#ff6e00"/></linearGradient><linearGradient id="c249" gradientUnits="userSpaceOnUse" x1="1138.2" y1="3473.5" x2="1202.7" y2="3445.5"><stop stop-color="#ff9400"/><stop offset="1" stop-color="#ff7500"/></linearGradient><linearGradient id="c250" gradientUnits="userSpaceOnUse" x1="1111.6" y1="3453.7" x2="1161.7" y2="3471.4"><stop stop-color="#ffa900"/><stop offset="1" stop-color="#ff8200"/></linearGradient><linearGradient id="c251" gradientUnits="userSpaceOnUse" x1="1093.2" y1="3462.3" x2="1113.5" y2="3480.2"><stop stop-color="#ffc700"/><stop offset="1" stop-color="#ff9800"/></linearGradient><linearGradient id="c252" gradientUnits="userSpaceOnUse" x1="1067.4" y1="3481.3" x2="1073.8" y2="3489.4"><stop stop-color="#ffec00"/><stop offset="1" stop-color="#ffb600"/></linearGradient><linearGradient id="c253" gradientUnits="userSpaceOnUse" x1="1038.7" y1="3505.4" x2="1037.9" y2="3504.2"><stop stop-color="#e4ff00"/><stop offset="1" stop-color="#ffdc00"/></linearGradient><linearGradient id="c254" gradientUnits="userSpaceOnUse" x1="1009.2" y1="3534.0" x2="1004.0" y2="3525.0"><stop stop-color="#afff00"/><stop offset="1" stop-color="#f5ff00"/></linearGradient><linearGradient id="c255" gradientUnits="userSpaceOnUse" x1="979.6" y1="3567.1" x2="971.3" y2="3551.4"><stop stop-color="#72ff00"/><stop offset="1" stop-color="#c0ff00"/></linearGradient><linearGradient id="c256" gradientUnits="userSpaceOnUse" x1="950.3" y1="3604.6" x2="939.5" y2="3583.1"><stop stop-color="#2dff00"/><stop offset="1" stop-color="#82ff00"/></linearGradient><linearGradient id="c257" gradientUnits="userSpaceOnUse" x1="921.5" y1="3646.5" x2="908.6" y2="3619.8"><stop stop-color="#00ff1f"/><stop offset="1" stop-color="#3dff00"/></linearGradient><linearGradient id="c258" gradientUnits="userSpaceOnUse" x1="893.1" y1="3692.7" x2="878.3" y2="3661.2"><stop stop-color="#00ff74"/><stop offset="1" stop-color="#00ff10"/></linearGradient><linearGradient id="c259" gradientUnits="userSpaceOnUse" x1="865.3" y1="3743.0" x2="848.8" y2="3707.2"><stop stop-color="#00ffd1"/><stop offset="1" stop-color="#00ff64"/></linearGradient><linearGradient id="c260" gradientUnits="userSpaceOnUse" x1="1528.2" y1="3716.0" x2="1514.2" y2="3637.3"><stop stop-color="#a4ff00"/><stop offset="1" stop-color="#f0ff00"/></linearGradient><linearGradient id="c261" gradientUnits="userSpaceOnUse" x1="1490.6" y1="3661.6" x2="1479.5" y2="3589.0"><stop stop-color="#ddff00"/><stop offset="1" stop-color="#ffdd00"/></linearGradient><linearGradient id="c262" gradientUnits="userSpaceOnUse" x1="1453.1" y1="3613.4" x2="1444.9" y2="3547.0"><stop stop-color="#fff000"/><stop offset="1" stop-color="#ffb400"/></linearGradient><linearGradient id="c263" gradientUnits="userSpaceOnUse" x1="1415.9" y1="3571.4" x2="1410.4" y2="3511.4"><stop stop-color="#ffc600"/><stop offset="1" stop-color="#ff9300"/></linearGradient><linearGradient id="c264" gradientUnits="userSpaceOnUse" x1="1378.7" y1="3535.6" x2="1376.0" y2="3482.0"><stop stop-color="#ffa500"/><stop offset="1" stop-color="#ff7900"/></linearGradient><linearGradient id="c265" gradientUnits="userSpaceOnUse" x1="1341.8" y1="3505.9" x2="1342.0" y2="3458.9"><stop stop-color="#ff8c00"/><stop offset="1" stop-color="#ff6800"/></linearGradient><linearGradient id="c266" gradientUnits="userSpaceOnUse" x1="1304.9" y1="3482.1" x2="1308.4" y2="3442.1"><stop stop-color="#ff7a00"/><stop offset="1" stop-color="#ff5e00"/></linearGradient><linearGradient id="c267" gradientUnits="userSpaceOnUse" x1="1267.9" y1="3463.8" x2="1275.5" y2="3431.9"><stop stop-color="#ff7000"/><stop offset="1" stop-color="#ff5d00"/></linearGradient><linearGradient id="c268" gradientUnits="userSpaceOnUse" x1="1225.1" y1="3460.4" x2="1249.3" y2="3418.4"><stop stop-color="#ff7500"/><stop offset="1" stop-color="#ff5d00"/></linearGradient><linearGradient id="c269" gradientUnits="userSpaceOnUse" x1="1171.1" y1="3451.2" x2="1235.0" y2="3422.7"><stop stop-color="#ff8200"/><stop offset="1" stop-color="#ff6300"/></linearGradient><linearGradient id="c270" gradientUnits="userSpaceOnUse" x1="1144.1" y1="3431.7" x2="1194.4" y2="3449.0"><stop stop-color="#ff9800"/><stop offset="1" stop-color="#ff7100"/></linearGradient><linearGradient id="c271" gradientUnits="userSpaceOnUse" x1="1125.7" y1="3440.3" x2="1146.0" y2="3458.1"><stop stop-color="#ffb600"/><stop offset="1" stop-color="#ff8700"/></linearGradient><linearGradient id="c272" gradientUnits="userSpaceOnUse" x1="1099.9" y1="3459.6" x2="1106.2" y2="3467.5"><stop stop-color="#ffdc00"/><stop offset="1" stop-color="#ffa500"/></linearGradient><linearGradient id="c273" gradientUnits="userSpaceOnUse" x1="1071.1" y1="3483.9" x2="1070.2" y2="3482.6"><stop stop-color="#f5ff00"/><stop offset="1" stop-color="#ffcb00"/></linearGradient><linearGradient id="c274" gradientUnits="userSpaceOnUse" x1="1041.5" y1="3512.6" x2="1036.2" y2="3503.6"><stop stop-color="#c0ff00"/><stop offset="1" stop-color="#fff800"/></linearGradient><linearGradient id="c275" gradientUnits="userSpaceOnUse" x1="1011.8" y1="3545.9" x2="1003.4" y2="3530.1"><stop stop-color="#82ff00"/><stop offset="1" stop-color="#d0ff00"/></linearGradient><linearGradient id="c276" gradientUnits="userSpaceOnUse" x1="982.3" y1="3583.5" x2="971.5" y2="3561.9"><stop stop-color="#3dff00"/><stop offset="1" stop-color="#93ff00"/></linearGradient><linearGradient id="c277" gradientUnits="userSpaceOnUse" x1="953.3" y1="3625.5" x2="940.4" y2="3598.7"><stop stop-color="#00ff10"/><stop offset="1" stop-color="#4eff00"/></linearGradient><linearGradient id="c278" gradientUnits="userSpaceOnUse" x1="924.8" y1="3671.8" x2="910.0" y2="3640.2"><stop stop-color="#00ff64"/><stop offset="1" stop-color="#00ff00"/></linearGradient><linearGradient id="c279" gradientUnits="userSpaceOnUse" x1="896.8" y1="3722.2" x2="880.2" y2="3686.4"><stop stop-color="#00ffc1"/><stop offset="1" stop-color="#00ff55"/></linearGradient><linearGradient id="c280" gradientUnits="userSpaceOnUse" x1="1560.1" y1="3689.9" x2="1546.5" y2="3611.8"><stop stop-color="#b7ff00"/><stop offset="1" stop-color="#fffb00"/></linearGradient><linearGradient id="c281" gradientUnits="userSpaceOnUse" x1="1522.6" y1="3635.9" x2="1511.9" y2="3564.0"><stop stop-color="#f0ff00"/><stop offset="1" stop-color="#ffca00"/></linearGradient><linearGradient id="c282" gradientUnits="userSpaceOnUse" x1="1485.2" y1="3588.2" x2="1477.2" y2="3522.5"><stop stop-color="#ffdd00"/><stop offset="1" stop-color="#ffa100"/></linearGradient><linearGradient id="c283" gradientUnits="userSpaceOnUse" x1="1448.0" y1="3546.7" x2="1442.7" y2="3487.2"><stop stop-color="#ffb400"/><stop offset="1" stop-color="#ff8000"/></linearGradient><linearGradient id="c284" gradientUnits="userSpaceOnUse" x1="1411.0" y1="3511.3" x2="1408.4" y2="3458.3"><stop stop-color="#ff9300"/><stop offset="1" stop-color="#ff6700"/></linearGradient><linearGradient id="c285" gradientUnits="userSpaceOnUse" x1="1374.0" y1="3482.0" x2="1374.4" y2="3435.5"><stop stop-color="#ff7900"/><stop offset="1" stop-color="#ff5600"/></linearGradient><linearGradient id="c286" gradientUnits="userSpaceOnUse" x1="1337.2" y1="3458.6" x2="1340.8" y2="3419.1"><stop stop-color="#ff6800"/><stop offset="1" stop-color="#ff4d00"/></linearGradient><linearGradient id="c287" gradientUnits="userSpaceOnUse" x1="1300.3" y1="3440.6" x2="1307.8" y2="3409.3"><stop stop-color="#ff5e00"/><stop offset="1" stop-color="#ff4b00"/></linearGradient><linearGradient id="c288" gradientUnits="userSpaceOnUse" x1="1257.5" y1="3437.7" x2="1281.5" y2="3395.9"><stop stop-color="#ff6300"/><stop offset="1" stop-color="#ff4b00"/></linearGradient><linearGradient id="c289" gradientUnits="userSpaceOnUse" x1="1203.7" y1="3429.2" x2="1267.0" y2="3400.1"><stop stop-color="#ff7100"/><stop offset="1" stop-color="#ff5100"/></linearGradient><linearGradient id="c290" gradientUnits="userSpaceOnUse" x1="1176.2" y1="3409.8" x2="1226.7" y2="3426.7"><stop stop-color="#ff8700"/><stop offset="1" stop-color="#ff6000"/></linearGradient><linearGradient id="c291" gradientUnits="userSpaceOnUse" x1="1157.9" y1="3418.5" x2="1178.2" y2="3436.3"><stop stop-color="#ffa500"/><stop offset="1" stop-color="#ff7600"/></linearGradient><linearGradient id="c292" gradientUnits="userSpaceOnUse" x1="1132.0" y1="3438.0" x2="1138.2" y2="3445.9"><stop stop-color="#ffcb00"/><stop offset="1" stop-color="#ff9400"/></linearGradient><linearGradient id="c293" gradientUnits="userSpaceOnUse" x1="1103.1" y1="3462.5" x2="1102.2" y2="3461.1"><stop stop-color="#fff800"/><stop offset="1" stop-color="#ffba00"/></linearGradient><linearGradient id="c294" gradientUnits="userSpaceOnUse" x1="1073.4" y1="3491.5" x2="1068.1" y2="3482.2"><stop stop-color="#d0ff00"/><stop offset="1" stop-color="#ffe800"/></linearGradient><linearGradient id="c295" gradientUnits="userSpaceOnUse" x1="1043.5" y1="3524.8" x2="1035.1" y2="3508.9"><stop stop-color="#93ff00"/><stop offset="1" stop-color="#e1ff00"/></linearGradient><linearGradient id="c296" gradientUnits="userSpaceOnUse" x1="1014.0" y1="3562.6" x2="1003.1" y2="3540.9"><stop stop-color="#4eff00"/><stop offset="1" stop-color="#a3ff00"/></linearGradient><linearGradient id="c297" gradientUnits="userSpaceOnUse" x1="984.8" y1="3604.7" x2="971.8" y2="3577.8"><stop stop-color="#00ff00"/><stop offset="1" stop-color="#5eff00"/></linearGradient><linearGradient id="c298" gradientUnits="userSpaceOnUse" x1="956.1" y1="3651.1" x2="941.3" y2="3619.4"><stop stop-color="#00ff55"/><stop offset="1" stop-color="#10ff00"/></linearGradient><linearGradient id="c299" gradientUnits="userSpaceOnUse" x1="928.0" y1="3701.5" x2="911.4" y2="3665.6"><stop stop-color="#00ffb1"/><stop offset="1" stop-color="#00ff45"/></linearGradient><linearGradient id="c300" gradientUnits="userSpaceOnUse" x1="1591.7" y1="3663.9" x2="1578.4" y2="3586.5"><stop stop-color="#caff00"/><stop offset="1" stop-color="#ffe800"/></linearGradient><linearGradient id="c301" gradientUnits="userSpaceOnUse" x1="1554.3" y1="3610.5" x2="1543.8" y2="3539.1"><stop stop-color="#fffb00"/><stop offset="1" stop-color="#ffb700"/></linearGradient><linearGradient id="c302" gradientUnits="userSpaceOnUse" x1="1517.0" y1="3563.3" x2="1509.2" y2="3498.1"><stop stop-color="#ffca00"/><stop offset="1" stop-color="#ff8f00"/></linearGradient><linearGradient id="c303" gradientUnits="userSpaceOnUse" x1="1479.9" y1="3522.2" x2="1474.8" y2="3463.3"><stop stop-color="#ffa100"/><stop offset="1" stop-color="#ff6e00"/></linearGradient><linearGradient id="c304" gradientUnits="userSpaceOnUse" x1="1442.9" y1="3487.2" x2="1440.5" y2="3434.8"><stop stop-color="#ff8000"/><stop offset="1" stop-color="#ff5500"/></linearGradient><linearGradient id="c305" gradientUnits="userSpaceOnUse" x1="1406.0" y1="3458.3" x2="1406.4" y2="3412.4"><stop stop-color="#ff6700"/><stop offset="1" stop-color="#ff4400"/></linearGradient><linearGradient id="c306" gradientUnits="userSpaceOnUse" x1="1369.2" y1="3435.2" x2="1372.8" y2="3396.4"><stop stop-color="#ff5600"/><stop offset="1" stop-color="#ff3b00"/></linearGradient><linearGradient id="c307" gradientUnits="userSpaceOnUse" x1="1332.4" y1="3417.6" x2="1339.7" y2="3386.8"><stop stop-color="#ff4d00"/><stop offset="1" stop-color="#ff3900"/></linearGradient><linearGradient id="c308" gradientUnits="userSpaceOnUse" x1="1289.7" y1="3415.2" x2="1313.3" y2="3373.5"><stop stop-color="#ff5100"/><stop offset="1" stop-color="#ff3900"/></linearGradient><linearGradient id="c309" gradientUnits="userSpaceOnUse" x1="1235.9" y1="3407.3" x2="1298.6" y2="3377.8"><stop stop-color="#ff6000"/><stop offset="1" stop-color="#ff4000"/></linearGradient><linearGradient id="c310" gradientUnits="userSpaceOnUse" x1="1208.0" y1="3388.1" x2="1258.7" y2="3404.7"><stop stop-color="#ff7600"/><stop offset="1" stop-color="#ff4e00"/></linearGradient><linearGradient id="c311" gradientUnits="userSpaceOnUse" x1="1189.7" y1="3396.9" x2="1210.0" y2="3414.6"><stop stop-color="#ff9400"/><stop offset="1" stop-color="#ff6500"/></linearGradient><linearGradient id="c312" gradientUnits="userSpaceOnUse" x1="1163.8" y1="3416.7" x2="1169.9" y2="3424.4"><stop stop-color="#ffba00"/><stop offset="1" stop-color="#ff8300"/></linearGradient><linearGradient id="c313" gradientUnits="userSpaceOnUse" x1="1134.8" y1="3441.4" x2="1133.8" y2="3439.8"><stop stop-color="#ffe800"/><stop offset="1" stop-color="#ffa900"/></linearGradient><linearGradient id="c314" gradientUnits="userSpaceOnUse" x1="1105.0" y1="3470.5" x2="1099.6" y2="3461.1"><stop stop-color="#e1ff00"/><stop offset="1" stop-color="#ffd700"/></linearGradient><linearGradient id="c315" gradientUnits="userSpaceOnUse" x1="1075.0" y1="3504.0" x2="1066.6" y2="3488.0"><stop stop-color="#a3ff00"/><stop offset="1" stop-color="#f1ff00"/></linearGradient><linearGradient id="c316" gradientUnits="userSpaceOnUse" x1="1045.3" y1="3541.9" x2="1034.4" y2="3520.0"><stop stop-color="#5eff00"/><stop offset="1" stop-color="#b4ff00"/></linearGradient><linearGradient id="c317" gradientUnits="userSpaceOnUse" x1="1016.0" y1="3584.1" x2="1003.0" y2="3557.1"><stop stop-color="#10ff00"/><stop offset="1" stop-color="#6eff00"/></linearGradient><linearGradient id="c318" gradientUnits="userSpaceOnUse" x1="987.1" y1="3630.5" x2="972.3" y2="3598.8"><stop stop-color="#00ff45"/><stop offset="1" stop-color="#21ff00"/></linearGradient><linearGradient id="c319" gradientUnits="userSpaceOnUse" x1="958.8" y1="3681.1" x2="942.3" y2="3645.1"><stop stop-color="#00ffa2"/><stop offset="1" stop-color="#00ff35"/></linearGradient><linearGradient id="c320" gradientUnits="userSpaceOnUse" x1="1622.9" y1="3638.3" x2="1609.9" y2="3561.4"><stop stop-color="#deff00"/><stop offset="1" stop-color="#ffd500"/></linearGradient><linearGradient id="c321" gradientUnits="userSpaceOnUse" x1="1585.6" y1="3585.3" x2="1575.4" y2="3514.6"><stop stop-color="#ffe800"/><stop offset="1" stop-color="#ffa500"/></linearGradient><linearGradient id="c322" gradientUnits="userSpaceOnUse" x1="1548.4" y1="3538.5" x2="1540.9" y2="3474.0"><stop stop-color="#ffb700"/><stop offset="1" stop-color="#ff7c00"/></linearGradient><linearGradient id="c323" gradientUnits="userSpaceOnUse" x1="1511.3" y1="3497.9" x2="1506.4" y2="3439.6"><stop stop-color="#ff8f00"/><stop offset="1" stop-color="#ff5b00"/></linearGradient><linearGradient id="c324" gradientUnits="userSpaceOnUse" x1="1474.4" y1="3463.3" x2="1472.1" y2="3411.5"><stop stop-color="#ff6e00"/><stop offset="1" stop-color="#ff4300"/></linearGradient><linearGradient id="c325" gradientUnits="userSpaceOnUse" x1="1437.6" y1="3434.8" x2="1438.1" y2="3389.5"><stop stop-color="#ff5500"/><stop offset="1" stop-color="#ff3200"/></linearGradient><linearGradient id="c326" gradientUnits="userSpaceOnUse" x1="1400.8" y1="3412.1" x2="1404.4" y2="3373.8"><stop stop-color="#ff4400"/><stop offset="1" stop-color="#ff2900"/></linearGradient><linearGradient id="c327" gradientUnits="userSpaceOnUse" x1="1364.1" y1="3394.8" x2="1371.3" y2="3364.6"><stop stop-color="#ff3b00"/><stop offset="1" stop-color="#ff2700"/></linearGradient><linearGradient id="c328" gradientUnits="userSpaceOnUse" x1="1321.4" y1="3393.0" x2="1344.8" y2="3351.4"><stop stop-color="#ff4000"/><stop offset="1" stop-color="#ff2700"/></linearGradient><linearGradient id="c329" gradientUnits="userSpaceOnUse" x1="1267.8" y1="3385.7" x2="1329.9" y2="3355.6"><stop stop-color="#ff4e00"/><stop offset="1" stop-color="#ff2e00"/></linearGradient><linearGradient id="c330" gradientUnits="userSpaceOnUse" x1="1239.5" y1="3366.6" x2="1290.3" y2="3382.8"><stop stop-color="#ff6500"/><stop offset="1" stop-color="#ff3d00"/></linearGradient><linearGradient id="c331" gradientUnits="userSpaceOnUse" x1="1221.1" y1="3375.5" x2="1241.5" y2="3393.1"><stop stop-color="#ff8300"/><stop offset="1" stop-color="#ff5300"/></linearGradient><linearGradient id="c332" gradientUnits="userSpaceOnUse" x1="1195.2" y1="3395.5" x2="1201.3" y2="3403.1"><stop stop-color="#ffa900"/><stop offset="1" stop-color="#ff7200"/></linearGradient><linearGradient id="c333" gradientUnits="userSpaceOnUse" x1="1166.2" y1="3420.4" x2="1165.1" y2="3418.7"><stop stop-color="#ffd700"/><stop offset="1" stop-color="#ff9800"/></linearGradient><linearGradient id="c334" gradientUnits="userSpaceOnUse" x1="1136.2" y1="3449.7" x2="1130.8" y2="3440.2"><stop stop-color="#f1ff00"/><stop offset="1" stop-color="#ffc600"/></linearGradient><linearGradient id="c335" gradientUnits="userSpaceOnUse" x1="1106.2" y1="3483.3" x2="1097.7" y2="3467.2"><stop stop-color="#b4ff00"/><stop offset="1" stop-color="#fffc00"/></linearGradient><linearGradient id="c336" gradientUnits="userSpaceOnUse" x1="1076.3" y1="3521.3" x2="1065.4" y2="3499.3"><stop stop-color="#6eff00"/><stop offset="1" stop-color="#c4ff00"/></linearGradient><linearGradient id="c337" gradientUnits="userSpaceOnUse" x1="1046.8" y1="3563.7" x2="1033.9" y2="3536.5"><stop stop-color="#21ff00"/><stop offset="1" stop-color="#7eff00"/></linearGradient><linearGradient id="c338" gradientUnits="userSpaceOnUse" x1="1017.8" y1="3610.2" x2="1003.0" y2="3578.3"><stop stop-color="#00ff35"/><stop offset="1" stop-color="#31ff00"/></linearGradient><linearGradient id="c339" gradientUnits="userSpaceOnUse" x1="989.4" y1="3660.7" x2="972.9" y2="3624.7"><stop stop-color="#00ff92"/><stop offset="1" stop-color="#00ff25"/></linearGradient><linearGradient id="c340" gradientUnits="userSpaceOnUse" x1="1653.8" y1="3612.8" x2="1641.1" y2="3536.5"><stop stop-color="#f1ff00"/><stop offset="1" stop-color="#ffc200"/></linearGradient><linearGradient id="c341" gradientUnits="userSpaceOnUse" x1="1616.6" y1="3560.3" x2="1606.7" y2="3490.2"><stop stop-color="#ffd500"/><stop offset="1" stop-color="#ff9200"/></linearGradient><linearGradient id="c342" gradientUnits="userSpaceOnUse" x1="1579.5" y1="3514.0" x2="1572.2" y2="3450.1"><stop stop-color="#ffa500"/><stop offset="1" stop-color="#ff6900"/></linearGradient><linearGradient id="c343" gradientUnits="userSpaceOnUse" x1="1542.5" y1="3473.8" x2="1537.8" y2="3416.1"><stop stop-color="#ff7c00"/><stop offset="1" stop-color="#ff4900"/></linearGradient><linearGradient id="c344" gradientUnits="userSpaceOnUse" x1="1505.6" y1="3439.7" x2="1503.5" y2="3388.4"><stop stop-color="#ff5b00"/><stop offset="1" stop-color="#ff3000"/></linearGradient><linearGradient id="c345" gradientUnits="userSpaceOnUse" x1="1468.9" y1="3411.5" x2="1469.4" y2="3366.8"><stop stop-color="#ff4300"/><stop offset="1" stop-color="#ff1f00"/></linearGradient><linearGradient id="c346" gradientUnits="userSpaceOnUse" x1="1432.2" y1="3389.2" x2="1435.7" y2="3351.5"><stop stop-color="#ff3200"/><stop offset="1" stop-color="#ff1700"/></linearGradient><linearGradient id="c347" gradientUnits="userSpaceOnUse" x1="1395.5" y1="3372.2" x2="1402.5" y2="3342.6"><stop stop-color="#ff2900"/><stop offset="1" stop-color="#ff1600"/></linearGradient><linearGradient id="c348" gradientUnits="userSpaceOnUse" x1="1352.9" y1="3370.9" x2="1375.9" y2="3329.5"><stop stop-color="#ff2e00"/><stop offset="1" stop-color="#ff1600"/></linearGradient><linearGradient id="c349" gradientUnits="userSpaceOnUse" x1="1299.3" y1="3364.2" x2="1360.9" y2="3333.6"><stop stop-color="#ff3d00"/><stop offset="1" stop-color="#ff1d00"/></linearGradient><linearGradient id="c350" gradientUnits="userSpaceOnUse" x1="1270.6" y1="3345.3" x2="1321.7" y2="3361.2"><stop stop-color="#ff5300"/><stop offset="1" stop-color="#ff2b00"/></linearGradient><linearGradient id="c351" gradientUnits="userSpaceOnUse" x1="1252.3" y1="3354.3" x2="1272.7" y2="3371.8"><stop stop-color="#ff7200"/><stop offset="1" stop-color="#ff4200"/></linearGradient><linearGradient id="c352" gradientUnits="userSpaceOnUse" x1="1226.3" y1="3374.5" x2="1232.3" y2="3382.0"><stop stop-color="#ff9800"/><stop offset="1" stop-color="#ff6000"/></linearGradient><linearGradient id="c353" gradientUnits="userSpaceOnUse" x1="1197.2" y1="3399.6" x2="1196.1" y2="3397.8"><stop stop-color="#ffc600"/><stop offset="1" stop-color="#ff8700"/></linearGradient><linearGradient id="c354" gradientUnits="userSpaceOnUse" x1="1167.2" y1="3429.0" x2="1161.7" y2="3419.4"><stop stop-color="#fffc00"/><stop offset="1" stop-color="#ffb500"/></linearGradient><linearGradient id="c355" gradientUnits="userSpaceOnUse" x1="1137.0" y1="3462.8" x2="1128.4" y2="3446.5"><stop stop-color="#c4ff00"/><stop offset="1" stop-color="#ffeb00"/></linearGradient><linearGradient id="c356" gradientUnits="userSpaceOnUse" x1="1107.0" y1="3500.9" x2="1096.1" y2="3478.8"><stop stop-color="#7eff00"/><stop offset="1" stop-color="#d5ff00"/></linearGradient><linearGradient id="c357" gradientUnits="userSpaceOnUse" x1="1077.4" y1="3543.4" x2="1064.4" y2="3516.1"><stop stop-color="#31ff00"/><stop offset="1" stop-color="#8fff00"/></linearGradient><linearGradient id="c358" gradientUnits="userSpaceOnUse" x1="1048.2" y1="3590.0" x2="1033.4" y2="3558.0"><stop stop-color="#00ff25"/><stop offset="1" stop-color="#41ff00"/></linearGradient><linearGradient id="c359" gradientUnits="userSpaceOnUse" x1="1019.6" y1="3640.6" x2="1003.1" y2="3604.5"><stop stop-color="#00ff82"/><stop offset="1" stop-color="#00ff15"/></linearGradient><linearGradient id="c360" gradientUnits="userSpaceOnUse" x1="1684.4" y1="3587.6" x2="1672.0" y2="3511.9"><stop stop-color="#fffa00"/><stop offset="1" stop-color="#ffaf00"/></linearGradient><linearGradient id="c361" gradientUnits="userSpaceOnUse" x1="1647.3" y1="3535.6" x2="1637.6" y2="3466.1"><stop stop-color="#ffc200"/><stop offset="1" stop-color="#ff7f00"/></linearGradient><linearGradient id="c362" gradientUnits="userSpaceOnUse" x1="1610.2" y1="3489.7" x2="1603.2" y2="3426.4"><stop stop-color="#ff9200"/><stop offset="1" stop-color="#ff5600"/></linearGradient><linearGradient id="c363" gradientUnits="userSpaceOnUse" x1="1573.3" y1="3449.9" x2="1568.8" y2="3392.9"><stop stop-color="#ff6900"/><stop offset="1" stop-color="#ff3600"/></linearGradient><linearGradient id="c364" gradientUnits="userSpaceOnUse" x1="1536.5" y1="3416.2" x2="1534.5" y2="3365.5"><stop stop-color="#ff4900"/><stop offset="1" stop-color="#ff1e00"/></linearGradient><linearGradient id="c365" gradientUnits="userSpaceOnUse" x1="1499.8" y1="3388.4" x2="1500.4" y2="3344.3"><stop stop-color="#ff3000"/><stop offset="1" stop-color="#ff0d00"/></linearGradient><linearGradient id="c366" gradientUnits="userSpaceOnUse" x1="1463.2" y1="3366.4" x2="1466.7" y2="3329.3"><stop stop-color="#ff1f00"/><stop offset="1" stop-color="#ff0400"/></linearGradient><linearGradient id="c367" gradientUnits="userSpaceOnUse" x1="1426.5" y1="3349.8" x2="1433.4" y2="3320.7"><stop stop-color="#ff1700"/><stop offset="1" stop-color="#ff0400"/></linearGradient><linearGradient id="c368" gradientUnits="userSpaceOnUse" x1="1384.0" y1="3349.0" x2="1406.8" y2="3307.7"><stop stop-color="#ff1d00"/><stop offset="1" stop-color="#ff0400"/></linearGradient><linearGradient id="c369" gradientUnits="userSpaceOnUse" x1="1330.6" y1="3342.9" x2="1391.5" y2="3311.7"><stop stop-color="#ff2b00"/><stop offset="1" stop-color="#ff0b00"/></linearGradient><linearGradient id="c370" gradientUnits="userSpaceOnUse" x1="1301.3" y1="3324.2" x2="1352.7" y2="3339.7"><stop stop-color="#ff4200"/><stop offset="1" stop-color="#ff1a00"/></linearGradient><linearGradient id="c371" gradientUnits="userSpaceOnUse" x1="1283.1" y1="3333.3" x2="1303.6" y2="3350.7"><stop stop-color="#ff6000"/><stop offset="1" stop-color="#ff3100"/></linearGradient><linearGradient id="c372" gradientUnits="userSpaceOnUse" x1="1257.1" y1="3353.7" x2="1263.1" y2="3361.1"><stop stop-color="#ff8700"/><stop offset="1" stop-color="#ff4f00"/></linearGradient><linearGradient id="c373" gradientUnits="userSpaceOnUse" x1="1228.0" y1="3378.9" x2="1226.7" y2="3377.0"><stop stop-color="#ffb500"/><stop offset="1" stop-color="#ff7600"/></linearGradient><linearGradient id="c374" gradientUnits="userSpaceOnUse" x1="1197.8" y1="3408.5" x2="1192.2" y2="3398.8"><stop stop-color="#ffeb00"/><stop offset="1" stop-color="#ffa400"/></linearGradient><linearGradient id="c375" gradientUnits="userSpaceOnUse" x1="1167.5" y1="3442.5" x2="1158.9" y2="3426.1"><stop stop-color="#d5ff00"/><stop offset="1" stop-color="#ffdb00"/></linearGradient><linearGradient id="c376" gradientUnits="userSpaceOnUse" x1="1137.4" y1="3480.7" x2="1126.4" y2="3458.5"><stop stop-color="#8fff00"/><stop offset="1" stop-color="#e5ff00"/></linearGradient><linearGradient id="c377" gradientUnits="userSpaceOnUse" x1="1107.6" y1="3523.2" x2="1094.7" y2="3495.9"><stop stop-color="#41ff00"/><stop offset="1" stop-color="#9fff00"/></linearGradient><linearGradient id="c378" gradientUnits="userSpaceOnUse" x1="1078.3" y1="3569.9" x2="1063.5" y2="3537.9"><stop stop-color="#00ff15"/><stop offset="1" stop-color="#51ff00"/></linearGradient><linearGradient id="c379" gradientUnits="userSpaceOnUse" x1="1049.6" y1="3620.6" x2="1033.1" y2="3584.4"><stop stop-color="#00ff72"/><stop offset="1" stop-color="#00ff05"/></linearGradient><linearGradient id="c380" gradientUnits="userSpaceOnUse" x1="1714.6" y1="3562.6" x2="1702.6" y2="3487.5"><stop stop-color="#ffe700"/><stop offset="1" stop-color="#ff9c00"/></linearGradient><linearGradient id="c381" gradientUnits="userSpaceOnUse" x1="1677.6" y1="3511.1" x2="1668.2" y2="3442.1"><stop stop-color="#ffaf00"/><stop offset="1" stop-color="#ff6c00"/></linearGradient><linearGradient id="c382" gradientUnits="userSpaceOnUse" x1="1640.7" y1="3465.7" x2="1633.8" y2="3402.9"><stop stop-color="#ff7f00"/><stop offset="1" stop-color="#ff4400"/></linearGradient><linearGradient id="c383" gradientUnits="userSpaceOnUse" x1="1603.8" y1="3426.3" x2="1599.5" y2="3369.8"><stop stop-color="#ff5600"/><stop offset="1" stop-color="#ff2400"/></linearGradient><linearGradient id="c384" gradientUnits="userSpaceOnUse" x1="1567.1" y1="3393.0" x2="1565.2" y2="3342.9"><stop stop-color="#ff3600"/><stop offset="1" stop-color="#ff0b00"/></linearGradient><linearGradient id="c385" gradientUnits="userSpaceOnUse" x1="1530.4" y1="3365.6" x2="1531.1" y2="3322.0"><stop stop-color="#ff1e00"/><stop offset="1" stop-color="#ff0000"/></linearGradient><linearGradient id="c386" gradientUnits="userSpaceOnUse" x1="1493.8" y1="3343.9" x2="1497.4" y2="3307.3"><stop stop-color="#ff0d00"/><stop offset="1" stop-color="#ff0000"/></linearGradient><linearGradient id="c387" gradientUnits="userSpaceOnUse" x1="1457.3" y1="3327.6" x2="1464.0" y2="3299.1"><stop stop-color="#ff0400"/><stop offset="1" stop-color="#ff0000"/></linearGradient><linearGradient id="c388" gradientUnits="userSpaceOnUse" x1="1414.8" y1="3327.3" x2="1437.3" y2="3286.1"><stop stop-color="#ff0b00"/><stop offset="1" stop-color="#ff0000"/></linearGradient><linearGradient id="c389" gradientUnits="userSpaceOnUse" x1="1361.5" y1="3321.8" x2="1421.8" y2="3290.1"><stop stop-color="#ff1a00"/><stop offset="1" stop-color="#ff0000"/></linearGradient><linearGradient id="c390" gradientUnits="userSpaceOnUse" x1="1331.8" y1="3303.3" x2="1383.4" y2="3318.3"><stop stop-color="#ff3100"/><stop offset="1" stop-color="#ff0800"/></linearGradient><linearGradient id="c391" gradientUnits="userSpaceOnUse" x1="1313.6" y1="3312.4" x2="1334.1" y2="3329.8"><stop stop-color="#ff4f00"/><stop offset="1" stop-color="#ff1f00"/></linearGradient><linearGradient id="c392" gradientUnits="userSpaceOnUse" x1="1287.6" y1="3333.0" x2="1293.5" y2="3340.3"><stop stop-color="#ff7600"/><stop offset="1" stop-color="#ff3e00"/></linearGradient><linearGradient id="c393" gradientUnits="userSpaceOnUse" x1="1258.4" y1="3358.5" x2="1257.1" y2="3356.4"><stop stop-color="#ffa400"/><stop offset="1" stop-color="#ff6500"/></linearGradient><linearGradient id="c394" gradientUnits="userSpaceOnUse" x1="1228.1" y1="3388.2" x2="1222.5" y2="3378.4"><stop stop-color="#ffdb00"/><stop offset="1" stop-color="#ff9300"/></linearGradient><linearGradient id="c395" gradientUnits="userSpaceOnUse" x1="1197.7" y1="3422.3" x2="1189.1" y2="3405.8"><stop stop-color="#e5ff00"/><stop offset="1" stop-color="#ffca00"/></linearGradient><linearGradient id="c396" gradientUnits="userSpaceOnUse" x1="1167.5" y1="3460.7" x2="1156.5" y2="3438.3"><stop stop-color="#9fff00"/><stop offset="1" stop-color="#f6ff00"/></linearGradient><linearGradient id="c397" gradientUnits="userSpaceOnUse" x1="1137.6" y1="3503.3" x2="1124.6" y2="3475.8"><stop stop-color="#51ff00"/><stop offset="1" stop-color="#b0ff00"/></linearGradient><linearGradient id="c398" gradientUnits="userSpaceOnUse" x1="1108.2" y1="3550.0" x2="1093.4" y2="3517.9"><stop stop-color="#00ff05"/><stop offset="1" stop-color="#61ff00"/></linearGradient><linearGradient id="c399" gradientUnits="userSpaceOnUse" x1="1079.2" y1="3600.8" x2="1062.8" y2="3564.5"><stop stop-color="#00ff62"/><stop offset="1" stop-color="#0bff00"/></linearGradient></defs>
<g stroke="#000" stroke-width="2" stroke-linejoin="round"><path d="M1070.9,3567.2L1100.5,3547.4L1071.0,3598.1L1041.5,3617.9Z" fill="url(#c399)"/><path d="M1041.1,3587.2L1070.9,3567.2L1041.5,3617.9L1011.8,3637.8Z" fill="url(#c379)"/><path d="M1010.9,3607.3L1041.1,3587.2L1011.8,3637.8L981.8,3657.9Z" fill="url(#c359)"/><path d="M1100.9,3520.6L1130.7,3500.7L1100.5,3547.4L1070.9,3567.2Z" fill="url(#c398)"/><path d="M980.4,3627.6L1010.9,3607.3L981.8,3657.9L951.4,3678.1Z" fill="url(#c339)"/><path d="M1070.9,3540.7L1100.9,3520.6L1070.9,3567.2L1041.1,3587.2Z" fill="url(#c378)"/><path d="M1131.5,3478.4L1161.4,3458.4L1130.7,3500.7L1100.9,3520.6Z" fill="url(#c397)"/><path d="M949.6,3648.1L980.4,3627.6L951.4,3678.1L920.8,3698.5Z" fill="url(#c319)"/><path d="M1040.6,3560.9L1070.9,3540.7L1041.1,3587.2L1010.9,3607.3Z" fill="url(#c358)"/><path d="M1101.3,3498.5L1131.5,3478.4L1100.9,3520.6L1070.9,3540.7Z" fill="url(#c377)"/><path d="M918.5,3668.7L949.6,3648.1L920.8,3698.5L889.9,3719.1Z" fill="url(#c299)"/><path d="M1009.9,3581.3L1040.6,3560.9L1010.9,3607.3L980.4,3627.6Z" fill="url(#c338)"/><path d="M1162.6,3440.6L1192.6,3420.6L1161.4,3458.4L1131.5,3478.4Z" fill="url(#c396)"/><path d="M1070.8,3518.8L1101.3,3498.5L1070.9,3540.7L1040.6,3560.9Z" fill="url(#c357)"/><path d="M979.0,3601.8L1009.9,3581.3L980.4,3627.6L949.6,3648.1Z" fill="url(#c318)"/><path d="M887.1,3689.5L918.5,3668.7L889.9,3719.1L858.7,3739.8Z" fill="url(#c279)"/><path d="M1132.3,3460.9L1162.6,3440.6L1131.5,3478.4L1101.3,3498.5Z" fill="url(#c376)"/><path d="M1040.1,3539.3L1070.8,3518.8L1040.6,3560.9L1009.9,3581.3Z" fill="url(#c337)"/><path d="M947.7,3622.5L979.0,3601.8L949.6,3648.1L918.5,3668.7Z" fill="url(#c298)"/><path d="M855.4,3710.5L887.1,3689.5L858.7,3739.8L827.1,3760.7Z" fill="url(#c259)"/><path d="M1194.2,3407.6L1224.3,3387.4L1192.6,3420.6L1162.6,3440.6Z" fill="url(#c395)"/><path d="M1101.7,3481.3L1132.3,3460.9L1101.3,3498.5L1070.8,3518.8Z" fill="url(#c356)"/><path d="M1009.0,3560.0L1040.1,3539.3L1009.9,3581.3L979.0,3601.8Z" fill="url(#c317)"/><path d="M916.2,3643.4L947.7,3622.5L918.5,3668.7L887.1,3689.5Z" fill="url(#c278)"/><path d="M823.3,3731.6L855.4,3710.5L827.1,3760.7L795.2,3781.8Z" fill="url(#c239)"/><path d="M1163.8,3427.9L1194.2,3407.6L1162.6,3440.6L1132.3,3460.9Z" fill="url(#c375)"/><path d="M1070.8,3501.9L1101.7,3481.3L1070.8,3518.8L1040.1,3539.3Z" fill="url(#c336)"/><path d="M977.6,3580.8L1009.0,3560.0L979.0,3601.8L947.7,3622.5Z" fill="url(#c297)"/><path d="M884.3,3664.5L916.2,3643.4L887.1,3689.5L855.4,3710.5Z" fill="url(#c258)"/><path d="M790.9,3753.0L823.3,3731.6L795.2,3781.8L763.0,3803.1Z" fill="url(#c219)"/><path d="M1226.3,3379.3L1256.5,3359.0L1224.3,3387.4L1194.2,3407.6Z" fill="url(#c394)"/><path d="M1133.1,3448.5L1163.8,3427.9L1132.3,3460.9L1101.7,3481.3Z" fill="url(#c355)"/><path d="M1039.6,3522.7L1070.8,3501.9L1040.1,3539.3L1009.0,3560.0Z" fill="url(#c316)"/><path d="M945.9,3601.8L977.6,3580.8L947.7,3622.5L916.2,3643.4Z" fill="url(#c277)"/><path d="M852.0,3685.7L884.3,3664.5L855.4,3710.5L823.3,3731.6Z" fill="url(#c238)"/><path d="M758.2,3774.5L790.9,3753.0L763.0,3803.1L730.5,3824.5Z" fill="url(#c199)"/><path d="M1195.8,3399.8L1226.3,3379.3L1194.2,3407.6L1163.8,3427.9Z" fill="url(#c374)"/><path d="M1102.1,3469.2L1133.1,3448.5L1101.7,3481.3L1070.8,3501.9Z" fill="url(#c335)"/><path d="M1008.0,3543.6L1039.6,3522.7L1009.0,3560.0L977.6,3580.8Z" fill="url(#c296)"/><path d="M1258.9,3356.0L1289.2,3335.5L1256.5,3359.0L1226.3,3379.3Z" fill="url(#c393)"/><path d="M913.8,3622.9L945.9,3601.8L916.2,3643.4L884.3,3664.5Z" fill="url(#c257)"/><path d="M819.5,3707.2L852.0,3685.7L823.3,3731.6L790.9,3753.0Z" fill="url(#c218)"/><path d="M725.1,3796.2L758.2,3774.5L730.5,3824.5L697.7,3846.1Z" fill="url(#c179)"/><path d="M1165.0,3420.5L1195.8,3399.8L1163.8,3427.9L1133.1,3448.5Z" fill="url(#c354)"/><path d="M1070.7,3490.1L1102.1,3469.2L1070.8,3501.9L1039.6,3522.7Z" fill="url(#c315)"/><path d="M976.2,3564.7L1008.0,3543.6L977.6,3580.8L945.9,3601.8Z" fill="url(#c276)"/><path d="M1228.3,3376.7L1258.9,3356.0L1226.3,3379.3L1195.8,3399.8Z" fill="url(#c373)"/><path d="M881.4,3644.3L913.8,3622.9L884.3,3664.5L852.0,3685.7Z" fill="url(#c237)"/><path d="M786.6,3728.8L819.5,3707.2L790.9,3753.0L758.2,3774.5Z" fill="url(#c198)"/><path d="M691.7,3818.1L725.1,3796.2L697.7,3846.1L664.5,3867.9Z" fill="url(#c159)"/><path d="M1133.9,3441.4L1165.0,3420.5L1133.1,3448.5L1102.1,3469.2Z" fill="url(#c334)"/><path d="M1291.9,3337.9L1322.3,3317.2L1289.2,3335.5L1258.9,3356.0Z" fill="url(#c392)"/><path d="M1039.1,3511.2L1070.7,3490.1L1039.6,3522.7L1008.0,3543.6Z" fill="url(#c295)"/><path d="M944.0,3586.0L976.2,3564.7L945.9,3601.8L913.8,3622.9Z" fill="url(#c256)"/><path d="M1197.4,3397.6L1228.3,3376.7L1195.8,3399.8L1165.0,3420.5Z" fill="url(#c353)"/><path d="M848.7,3665.8L881.4,3644.3L852.0,3685.7L819.5,3707.2Z" fill="url(#c217)"/><path d="M753.3,3750.6L786.6,3728.8L758.2,3774.5L725.1,3796.2Z" fill="url(#c178)"/><path d="M658.0,3840.2L691.7,3818.1L664.5,3867.9L630.9,3889.9Z" fill="url(#c139)"/><path d="M1102.4,3462.5L1133.9,3441.4L1102.1,3469.2L1070.7,3490.1Z" fill="url(#c314)"/><path d="M1261.3,3358.8L1291.9,3337.9L1258.9,3356.0L1228.3,3376.7Z" fill="url(#c372)"/><path d="M1007.1,3532.4L1039.1,3511.2L1008.0,3543.6L976.2,3564.7Z" fill="url(#c275)"/><path d="M911.4,3607.5L944.0,3586.0L913.8,3622.9L881.4,3644.3Z" fill="url(#c236)"/><path d="M1166.2,3418.7L1197.4,3397.6L1165.0,3420.5L1133.9,3441.4Z" fill="url(#c333)"/><path d="M815.6,3687.5L848.7,3665.8L819.5,3707.2L786.6,3728.8Z" fill="url(#c197)"/><path d="M1325.4,3325.0L1355.8,3304.1L1322.3,3317.2L1291.9,3337.9Z" fill="url(#c391)"/><path d="M719.7,3772.6L753.3,3750.6L725.1,3796.2L691.7,3818.1Z" fill="url(#c158)"/><path d="M623.9,3862.4L658.0,3840.2L630.9,3889.9L597.0,3912.1Z" fill="url(#c119)"/><path d="M1070.7,3483.7L1102.4,3462.5L1070.7,3490.1L1039.1,3511.2Z" fill="url(#c294)"/><path d="M1230.3,3379.8L1261.3,3358.8L1228.3,3376.7L1197.4,3397.6Z" fill="url(#c352)"/><path d="M974.7,3553.9L1007.1,3532.4L976.2,3564.7L944.0,3586.0Z" fill="url(#c255)"/><path d="M878.6,3629.1L911.4,3607.5L881.4,3644.3L848.7,3665.8Z" fill="url(#c216)"/><path d="M1134.7,3439.9L1166.2,3418.7L1133.9,3441.4L1102.4,3462.5Z" fill="url(#c313)"/><path d="M782.2,3709.5L815.6,3687.5L786.6,3728.8L753.3,3750.6Z" fill="url(#c177)"/><path d="M1294.7,3346.1L1325.4,3325.0L1291.9,3337.9L1261.3,3358.8Z" fill="url(#c371)"/><path d="M685.8,3794.7L719.7,3772.6L691.7,3818.1L658.0,3840.2Z" fill="url(#c138)"/><path d="M589.4,3884.9L623.9,3862.4L597.0,3912.1L562.8,3934.5Z" fill="url(#c99)"/><path d="M1038.6,3505.1L1070.7,3483.7L1039.1,3511.2L1007.1,3532.4Z" fill="url(#c274)"/><path d="M1359.3,3317.6L1389.7,3296.5L1355.8,3304.1L1325.4,3325.0Z" fill="url(#c390)"/><path d="M1199.0,3401.1L1230.3,3379.8L1197.4,3397.6L1166.2,3418.7Z" fill="url(#c332)"/><path d="M942.1,3575.5L974.7,3553.9L944.0,3586.0L911.4,3607.5Z" fill="url(#c235)"/><path d="M845.3,3651.0L878.6,3629.1L848.7,3665.8L815.6,3687.5Z" fill="url(#c196)"/><path d="M1102.8,3461.3L1134.7,3439.9L1102.4,3462.5L1070.7,3483.7Z" fill="url(#c293)"/><path d="M1263.7,3367.4L1294.7,3346.1L1261.3,3358.8L1230.3,3379.8Z" fill="url(#c351)"/><path d="M748.4,3731.6L782.2,3709.5L753.3,3750.6L719.7,3772.6Z" fill="url(#c157)"/><path d="M651.5,3817.1L685.8,3794.7L658.0,3840.2L623.9,3862.4Z" fill="url(#c118)"/><path d="M554.6,3907.6L589.4,3884.9L562.8,3934.5L528.1,3957.1Z" fill="url(#c79)"/><path d="M1006.1,3526.7L1038.6,3505.1L1007.1,3532.4L974.7,3553.9Z" fill="url(#c254)"/><path d="M1328.5,3338.9L1359.3,3317.6L1325.4,3325.0L1294.7,3346.1Z" fill="url(#c370)"/><path d="M1167.4,3422.5L1199.0,3401.1L1166.2,3418.7L1134.7,3439.9Z" fill="url(#c312)"/><path d="M909.1,3597.3L942.1,3575.5L911.4,3607.5L878.6,3629.1Z" fill="url(#c215)"/><path d="M1393.5,3315.7L1423.9,3294.3L1389.7,3296.5L1359.3,3317.6Z" fill="url(#c389)"/><path d="M811.8,3673.0L845.3,3651.0L815.6,3687.5L782.2,3709.5Z" fill="url(#c176)"/><path d="M1070.6,3482.9L1102.8,3461.3L1070.7,3483.7L1038.6,3505.1Z" fill="url(#c273)"/><path d="M1232.3,3388.9L1263.7,3367.4L1230.3,3379.8L1199.0,3401.1Z" fill="url(#c331)"/><path d="M714.3,3753.9L748.4,3731.6L719.7,3772.6L685.8,3794.7Z" fill="url(#c137)"/><path d="M616.8,3839.7L651.5,3817.1L623.9,3862.4L589.4,3884.9Z" fill="url(#c98)"/><path d="M519.3,3930.5L554.6,3907.6L528.1,3957.1L493.2,3979.9Z" fill="url(#c59)"/><path d="M973.3,3548.5L1006.1,3526.7L974.7,3553.9L942.1,3575.5Z" fill="url(#c234)"/><path d="M1297.4,3360.4L1328.5,3338.9L1294.7,3346.1L1263.7,3367.4Z" fill="url(#c350)"/><path d="M1135.4,3444.1L1167.4,3422.5L1134.7,3439.9L1102.8,3461.3Z" fill="url(#c292)"/><path d="M875.7,3619.3L909.1,3597.3L878.6,3629.1L845.3,3651.0Z" fill="url(#c195)"/><path d="M1362.7,3337.3L1393.5,3315.7L1359.3,3317.6L1328.5,3338.9Z" fill="url(#c369)"/><path d="M777.8,3695.3L811.8,3673.0L782.2,3709.5L748.4,3731.6Z" fill="url(#c156)"/><path d="M1038.0,3504.7L1070.6,3482.9L1038.6,3505.1L1006.1,3526.7Z" fill="url(#c253)"/><path d="M1200.6,3410.5L1232.3,3388.9L1199.0,3401.1L1167.4,3422.5Z" fill="url(#c311)"/><path d="M1428.0,3319.4L1458.5,3297.8L1423.9,3294.3L1393.5,3315.7Z" fill="url(#c388)"/><path d="M679.8,3776.4L714.3,3753.9L685.8,3794.7L651.5,3817.1Z" fill="url(#c117)"/><path d="M581.7,3862.5L616.8,3839.7L589.4,3884.9L554.6,3907.6Z" fill="url(#c78)"/><path d="M483.7,3953.6L519.3,3930.5L493.2,3979.9L457.8,4002.9Z" fill="url(#c39)"/><path d="M940.2,3570.5L973.3,3548.5L942.1,3575.5L909.1,3597.3Z" fill="url(#c214)"/><path d="M1266.0,3382.1L1297.4,3360.4L1263.7,3367.4L1232.3,3388.9Z" fill="url(#c330)"/><path d="M1103.2,3465.9L1135.4,3444.1L1102.8,3461.3L1070.6,3482.9Z" fill="url(#c272)"/><path d="M842.0,3641.5L875.7,3619.3L845.3,3651.0L811.8,3673.0Z" fill="url(#c175)"/><path d="M1331.5,3359.1L1362.7,3337.3L1328.5,3338.9L1297.4,3360.4Z" fill="url(#c349)"/><path d="M743.5,3717.7L777.8,3695.3L748.4,3731.6L714.3,3753.9Z" fill="url(#c136)"/><path d="M1005.2,3526.6L1038.0,3504.7L1006.1,3526.7L973.3,3548.5Z" fill="url(#c233)"/><path d="M1168.6,3432.3L1200.6,3410.5L1167.4,3422.5L1135.4,3444.1Z" fill="url(#c291)"/><path d="M1397.2,3341.3L1428.0,3319.4L1393.5,3315.7L1362.7,3337.3Z" fill="url(#c368)"/><path d="M644.9,3799.1L679.8,3776.4L651.5,3817.1L616.8,3839.7Z" fill="url(#c97)"/><path d="M546.3,3885.5L581.7,3862.5L554.6,3907.6L519.3,3930.5Z" fill="url(#c58)"/><path d="M447.8,3976.9L483.7,3953.6L457.8,4002.9L422.0,4026.1Z" fill="url(#c19)"/><path d="M1462.8,3329.0L1493.3,3307.0L1458.5,3297.8L1428.0,3319.4Z" fill="url(#c387)"/><path d="M906.7,3592.6L940.2,3570.5L909.1,3597.3L875.7,3619.3Z" fill="url(#c194)"/><path d="M1234.3,3404.0L1266.0,3382.1L1232.3,3388.9L1200.6,3410.5Z" fill="url(#c310)"/><path d="M1070.5,3487.9L1103.2,3465.9L1070.6,3482.9L1038.0,3504.7Z" fill="url(#c252)"/><path d="M807.9,3663.9L842.0,3641.5L811.8,3673.0L777.8,3695.3Z" fill="url(#c155)"/><path d="M1300.1,3381.0L1331.5,3359.1L1297.4,3360.4L1266.0,3382.1Z" fill="url(#c329)"/><path d="M708.9,3740.4L743.5,3717.7L714.3,3753.9L679.8,3776.4Z" fill="url(#c116)"/><path d="M971.9,3548.8L1005.2,3526.6L973.3,3548.5L940.2,3570.5Z" fill="url(#c213)"/><path d="M1136.2,3454.4L1168.6,3432.3L1135.4,3444.1L1103.2,3465.9Z" fill="url(#c271)"/><path d="M1366.0,3363.4L1397.2,3341.3L1362.7,3337.3L1331.5,3359.1Z" fill="url(#c348)"/><path d="M609.7,3822.0L644.9,3799.1L616.8,3839.7L581.7,3862.5Z" fill="url(#c77)"/><path d="M510.5,3908.7L546.3,3885.5L519.3,3930.5L483.7,3953.6Z" fill="url(#c38)"/><path d="M1432.0,3351.1L1462.8,3329.0L1428.0,3319.4L1397.2,3341.3Z" fill="url(#c367)"/><path d="M1497.9,3344.3L1528.4,3322.0L1493.3,3307.0L1462.8,3329.0Z" fill="url(#c386)"/><path d="M872.8,3615.0L906.7,3592.6L875.7,3619.3L842.0,3641.5Z" fill="url(#c174)"/><path d="M1202.2,3426.1L1234.3,3404.0L1200.6,3410.5L1168.6,3432.3Z" fill="url(#c290)"/><path d="M1037.5,3510.1L1070.5,3487.9L1038.0,3504.7L1005.2,3526.6Z" fill="url(#c232)"/><path d="M773.4,3686.5L807.9,3663.9L777.8,3695.3L743.5,3717.7Z" fill="url(#c135)"/><path d="M1268.3,3403.2L1300.1,3381.0L1266.0,3382.1L1234.3,3404.0Z" fill="url(#c309)"/><path d="M673.8,3763.2L708.9,3740.4L679.8,3776.4L644.9,3799.1Z" fill="url(#c96)"/><path d="M938.3,3571.2L971.9,3548.8L940.2,3570.5L906.7,3592.6Z" fill="url(#c193)"/><path d="M1103.5,3476.6L1136.2,3454.4L1103.2,3465.9L1070.5,3487.9Z" fill="url(#c251)"/><path d="M1334.6,3385.6L1366.0,3363.4L1331.5,3359.1L1300.1,3381.0Z" fill="url(#c328)"/><path d="M574.1,3845.1L609.7,3822.0L581.7,3862.5L546.3,3885.5Z" fill="url(#c57)"/><path d="M474.3,3932.1L510.5,3908.7L483.7,3953.6L447.8,3976.9Z" fill="url(#c18)"/><path d="M1400.8,3373.5L1432.0,3351.1L1397.2,3341.3L1366.0,3363.4Z" fill="url(#c347)"/><path d="M1467.1,3366.8L1497.9,3344.3L1462.8,3329.0L1432.0,3351.1Z" fill="url(#c366)"/><path d="M838.6,3637.6L872.8,3615.0L842.0,3641.5L807.9,3663.9Z" fill="url(#c154)"/><path d="M1533.2,3365.6L1563.6,3343.0L1528.4,3322.0L1497.9,3344.3Z" fill="url(#c385)"/><path d="M1169.8,3448.4L1202.2,3426.1L1168.6,3432.3L1136.2,3454.4Z" fill="url(#c270)"/><path d="M1004.2,3532.5L1037.5,3510.1L1005.2,3526.6L971.9,3548.8Z" fill="url(#c212)"/><path d="M738.6,3709.3L773.4,3686.5L743.5,3717.7L708.9,3740.4Z" fill="url(#c115)"/><path d="M1236.2,3425.5L1268.3,3403.2L1234.3,3404.0L1202.2,3426.1Z" fill="url(#c289)"/><path d="M638.4,3786.3L673.8,3763.2L644.9,3799.1L609.7,3822.0Z" fill="url(#c76)"/><path d="M904.3,3593.7L938.3,3571.2L906.7,3592.6L872.8,3615.0Z" fill="url(#c173)"/><path d="M1070.4,3499.0L1103.5,3476.6L1070.5,3487.9L1037.5,3510.1Z" fill="url(#c231)"/><path d="M1302.8,3408.1L1334.6,3385.6L1300.1,3381.0L1268.3,3403.2Z" fill="url(#c308)"/><path d="M538.0,3868.4L574.1,3845.1L546.3,3885.5L510.5,3908.7Z" fill="url(#c37)"/><path d="M1369.4,3396.1L1400.8,3373.5L1366.0,3363.4L1334.6,3385.6Z" fill="url(#c327)"/><path d="M1435.9,3389.5L1467.1,3366.8L1432.0,3351.1L1400.8,3373.5Z" fill="url(#c346)"/><path d="M1568.6,3392.9L1599.1,3369.9L1563.6,3343.0L1533.2,3365.6Z" fill="url(#c384)"/><path d="M1502.4,3388.5L1533.2,3365.6L1497.9,3344.3L1467.1,3366.8Z" fill="url(#c365)"/><path d="M804.0,3660.4L838.6,3637.6L807.9,3663.9L773.4,3686.5Z" fill="url(#c134)"/><path d="M1137.0,3470.9L1169.8,3448.4L1136.2,3454.4L1103.5,3476.6Z" fill="url(#c250)"/><path d="M970.5,3555.1L1004.2,3532.5L971.9,3548.8L938.3,3571.2Z" fill="url(#c192)"/><path d="M703.4,3732.3L738.6,3709.3L708.9,3740.4L673.8,3763.2Z" fill="url(#c95)"/><path d="M1203.7,3448.1L1236.2,3425.5L1202.2,3426.1L1169.8,3448.4Z" fill="url(#c269)"/><path d="M602.6,3809.6L638.4,3786.3L609.7,3822.0L574.1,3845.1Z" fill="url(#c56)"/><path d="M870.0,3616.5L904.3,3593.7L872.8,3615.0L838.6,3637.6Z" fill="url(#c153)"/><path d="M1270.6,3430.7L1302.8,3408.1L1268.3,3403.2L1236.2,3425.5Z" fill="url(#c288)"/><path d="M1037.0,3521.6L1070.4,3499.0L1037.5,3510.1L1004.2,3532.5Z" fill="url(#c211)"/><path d="M501.6,3892.0L538.0,3868.4L510.5,3908.7L474.3,3932.1Z" fill="url(#c17)"/><path d="M1337.5,3418.8L1369.4,3396.1L1334.6,3385.6L1302.8,3408.1Z" fill="url(#c307)"/><path d="M1604.2,3426.3L1634.6,3402.9L1599.1,3369.9L1568.6,3392.9Z" fill="url(#c383)"/><path d="M1404.4,3412.4L1435.9,3389.5L1400.8,3373.5L1369.4,3396.1Z" fill="url(#c326)"/><path d="M1537.9,3416.2L1568.6,3392.9L1533.2,3365.6L1502.4,3388.5Z" fill="url(#c364)"/><path d="M1471.2,3411.6L1502.4,3388.5L1467.1,3366.8L1435.9,3389.5Z" fill="url(#c345)"/><path d="M769.1,3683.4L804.0,3660.4L773.4,3686.5L738.6,3709.3Z" fill="url(#c114)"/><path d="M1103.8,3493.5L1137.0,3470.9L1103.5,3476.6L1070.4,3499.0Z" fill="url(#c230)"/><path d="M936.4,3577.9L970.5,3555.1L938.3,3571.2L904.3,3593.7Z" fill="url(#c172)"/><path d="M667.8,3755.6L703.4,3732.3L673.8,3763.2L638.4,3786.3Z" fill="url(#c75)"/><path d="M1170.9,3470.8L1203.7,3448.1L1169.8,3448.4L1137.0,3470.9Z" fill="url(#c249)"/><path d="M566.3,3833.1L602.6,3809.6L574.1,3845.1L538.0,3868.4Z" fill="url(#c36)"/><path d="M835.3,3639.5L870.0,3616.5L838.6,3637.6L804.0,3660.4Z" fill="url(#c133)"/><path d="M1238.1,3453.6L1270.6,3430.7L1236.2,3425.5L1203.7,3448.1Z" fill="url(#c268)"/><path d="M1003.2,3544.5L1037.0,3521.6L1004.2,3532.5L970.5,3555.1Z" fill="url(#c191)"/><path d="M1639.9,3465.8L1670.2,3441.9L1634.6,3402.9L1604.2,3426.3Z" fill="url(#c382)"/><path d="M1305.4,3441.8L1337.5,3418.8L1302.8,3408.1L1270.6,3430.7Z" fill="url(#c287)"/><path d="M1573.5,3450.0L1604.2,3426.3L1568.6,3392.9L1537.9,3416.2Z" fill="url(#c363)"/><path d="M1372.6,3435.6L1404.4,3412.4L1369.4,3396.1L1337.5,3418.8Z" fill="url(#c306)"/><path d="M1506.8,3439.7L1537.9,3416.2L1502.4,3388.5L1471.2,3411.6Z" fill="url(#c344)"/><path d="M1439.8,3434.8L1471.2,3411.6L1435.9,3389.5L1404.4,3412.4Z" fill="url(#c325)"/><path d="M733.7,3706.6L769.1,3683.4L738.6,3709.3L703.4,3732.3Z" fill="url(#c94)"/><path d="M1070.4,3516.4L1103.8,3493.5L1070.4,3499.0L1037.0,3521.6Z" fill="url(#c210)"/><path d="M902.0,3600.9L936.4,3577.9L904.3,3593.7L870.0,3616.5Z" fill="url(#c152)"/><path d="M631.8,3779.0L667.8,3755.6L638.4,3786.3L602.6,3809.6Z" fill="url(#c55)"/><path d="M1137.7,3493.8L1170.9,3470.8L1137.0,3470.9L1103.8,3493.5Z" fill="url(#c229)"/><path d="M1675.6,3511.4L1705.9,3487.1L1670.2,3441.9L1639.9,3465.8Z" fill="url(#c381)"/><path d="M529.7,3856.8L566.3,3833.1L538.0,3868.4L501.6,3892.0Z" fill="url(#c16)"/><path d="M1205.3,3476.6L1238.1,3453.6L1203.7,3448.1L1170.9,3470.8Z" fill="url(#c248)"/><path d="M1609.2,3489.9L1639.9,3465.8L1604.2,3426.3L1573.5,3450.0Z" fill="url(#c362)"/><path d="M800.2,3662.7L835.3,3639.5L804.0,3660.4L769.1,3683.4Z" fill="url(#c113)"/><path d="M969.1,3567.5L1003.2,3544.5L970.5,3555.1L936.4,3577.9Z" fill="url(#c171)"/><path d="M1272.9,3465.0L1305.4,3441.8L1270.6,3430.7L1238.1,3453.6Z" fill="url(#c267)"/><path d="M1542.4,3473.9L1573.5,3450.0L1537.9,3416.2L1506.8,3439.7Z" fill="url(#c343)"/><path d="M1340.5,3458.9L1372.6,3435.6L1337.5,3418.8L1305.4,3441.8Z" fill="url(#c286)"/><path d="M1475.3,3463.3L1506.8,3439.7L1471.2,3411.6L1439.8,3434.8Z" fill="url(#c324)"/><path d="M1408.0,3458.3L1439.8,3434.8L1404.4,3412.4L1372.6,3435.6Z" fill="url(#c305)"/><path d="M697.9,3730.0L733.7,3706.6L703.4,3732.3L667.8,3755.6Z" fill="url(#c74)"/><path d="M1711.3,3563.2L1741.5,3538.4L1705.9,3487.1L1675.6,3511.4Z" fill="url(#c380)"/><path d="M1036.5,3539.5L1070.4,3516.4L1037.0,3521.6L1003.2,3544.5Z" fill="url(#c190)"/><path d="M867.1,3624.1L902.0,3600.9L870.0,3616.5L835.3,3639.5Z" fill="url(#c132)"/><path d="M595.4,3802.7L631.8,3779.0L602.6,3809.6L566.3,3833.1Z" fill="url(#c35)"/><path d="M1645.0,3536.0L1675.6,3511.4L1639.9,3465.8L1609.2,3489.9Z" fill="url(#c361)"/><path d="M1104.2,3517.0L1137.7,3493.8L1103.8,3493.5L1070.4,3516.4Z" fill="url(#c209)"/><path d="M1578.2,3514.2L1609.2,3489.9L1573.5,3450.0L1542.4,3473.9Z" fill="url(#c342)"/><path d="M1172.0,3499.9L1205.3,3476.6L1170.9,3470.8L1137.7,3493.8Z" fill="url(#c228)"/><path d="M764.7,3686.1L800.2,3662.7L769.1,3683.4L733.7,3706.6Z" fill="url(#c93)"/><path d="M934.5,3590.8L969.1,3567.5L936.4,3577.9L902.0,3600.9Z" fill="url(#c151)"/><path d="M1511.0,3498.0L1542.4,3473.9L1506.8,3439.7L1475.3,3463.3Z" fill="url(#c323)"/><path d="M1240.0,3488.4L1272.9,3465.0L1238.1,3453.6L1205.3,3476.6Z" fill="url(#c247)"/><path d="M1443.6,3487.2L1475.3,3463.3L1439.8,3434.8L1408.0,3458.3Z" fill="url(#c304)"/><path d="M1307.9,3482.4L1340.5,3458.9L1305.4,3441.8L1272.9,3465.0Z" fill="url(#c266)"/><path d="M1375.8,3482.0L1408.0,3458.3L1372.6,3435.6L1340.5,3458.9Z" fill="url(#c285)"/><path d="M1680.8,3588.2L1711.3,3563.2L1675.6,3511.4L1645.0,3536.0Z" fill="url(#c360)"/><path d="M661.8,3753.6L697.9,3730.0L667.8,3755.6L631.8,3779.0Z" fill="url(#c54)"/><path d="M1002.3,3562.8L1036.5,3539.5L1003.2,3544.5L969.1,3567.5Z" fill="url(#c170)"/><path d="M831.9,3647.5L867.1,3624.1L835.3,3639.5L800.2,3662.7Z" fill="url(#c112)"/><path d="M1614.1,3560.8L1645.0,3536.0L1609.2,3489.9L1578.2,3514.2Z" fill="url(#c341)"/><path d="M1070.3,3540.4L1104.2,3517.0L1070.4,3516.4L1036.5,3539.5Z" fill="url(#c189)"/><path d="M558.6,3826.6L595.4,3802.7L566.3,3833.1L529.7,3856.8Z" fill="url(#c15)"/><path d="M1546.9,3538.8L1578.2,3514.2L1542.4,3473.9L1511.0,3498.0Z" fill="url(#c322)"/><path d="M1138.5,3523.4L1172.0,3499.9L1137.7,3493.8L1104.2,3517.0Z" fill="url(#c208)"/><path d="M899.6,3614.2L934.5,3590.8L902.0,3600.9L867.1,3624.1Z" fill="url(#c131)"/><path d="M728.8,3709.8L764.7,3686.1L733.7,3706.6L697.9,3730.0Z" fill="url(#c73)"/><path d="M1479.3,3522.3L1511.0,3498.0L1475.3,3463.3L1443.6,3487.2Z" fill="url(#c303)"/><path d="M1206.8,3512.0L1240.0,3488.4L1205.3,3476.6L1172.0,3499.9Z" fill="url(#c227)"/><path d="M1411.4,3511.3L1443.6,3487.2L1408.0,3458.3L1375.8,3482.0Z" fill="url(#c284)"/><path d="M1275.1,3506.2L1307.9,3482.4L1272.9,3465.0L1240.0,3488.4Z" fill="url(#c246)"/><path d="M1343.3,3506.0L1375.8,3482.0L1340.5,3458.9L1307.9,3482.4Z" fill="url(#c265)"/><path d="M1650.0,3613.5L1680.8,3588.2L1645.0,3536.0L1614.1,3560.8Z" fill="url(#c340)"/><path d="M967.6,3586.4L1002.3,3562.8L969.1,3567.5L934.5,3590.8Z" fill="url(#c150)"/><path d="M625.2,3777.5L661.8,3753.6L631.8,3779.0L595.4,3802.7Z" fill="url(#c34)"/><path d="M796.3,3671.2L831.9,3647.5L800.2,3662.7L764.7,3686.1Z" fill="url(#c92)"/><path d="M1582.8,3585.8L1614.1,3560.8L1578.2,3514.2L1546.9,3538.8Z" fill="url(#c321)"/><path d="M1036.0,3564.0L1070.3,3540.4L1036.5,3539.5L1002.3,3562.8Z" fill="url(#c169)"/><path d="M1515.2,3563.5L1546.9,3538.8L1511.0,3498.0L1479.3,3522.3Z" fill="url(#c302)"/><path d="M1104.5,3547.1L1138.5,3523.4L1104.2,3517.0L1070.3,3540.4Z" fill="url(#c188)"/><path d="M864.3,3637.9L899.6,3614.2L867.1,3624.1L831.9,3647.5Z" fill="url(#c111)"/><path d="M692.5,3733.6L728.8,3709.8L697.9,3730.0L661.8,3753.6Z" fill="url(#c53)"/><path d="M1447.2,3546.8L1479.3,3522.3L1443.6,3487.2L1411.4,3511.3Z" fill="url(#c283)"/><path d="M1173.2,3535.8L1206.8,3512.0L1172.0,3499.9L1138.5,3523.4Z" fill="url(#c207)"/><path d="M1379.0,3535.7L1411.4,3511.3L1375.8,3482.0L1343.3,3506.0Z" fill="url(#c264)"/><path d="M1241.8,3530.2L1275.1,3506.2L1240.0,3488.4L1206.8,3512.0Z" fill="url(#c226)"/><path d="M1310.5,3530.1L1343.3,3506.0L1307.9,3482.4L1275.1,3506.2Z" fill="url(#c245)"/><path d="M1618.8,3639.0L1650.0,3613.5L1614.1,3560.8L1582.8,3585.8Z" fill="url(#c320)"/><path d="M932.6,3610.1L967.6,3586.4L934.5,3590.8L899.6,3614.2Z" fill="url(#c130)"/><path d="M588.2,3801.6L625.2,3777.5L595.4,3802.7L558.6,3826.6Z" fill="url(#c14)"/><path d="M760.3,3695.0L796.3,3671.2L764.7,3686.1L728.8,3709.8Z" fill="url(#c72)"/><path d="M1551.2,3611.0L1582.8,3585.8L1546.9,3538.8L1515.2,3563.5Z" fill="url(#c301)"/><path d="M1001.3,3587.8L1036.0,3564.0L1002.3,3562.8L967.6,3586.4Z" fill="url(#c149)"/><path d="M1483.2,3588.5L1515.2,3563.5L1479.3,3522.3L1447.2,3546.8Z" fill="url(#c282)"/><path d="M1070.2,3571.0L1104.5,3547.1L1070.3,3540.4L1036.0,3564.0Z" fill="url(#c168)"/><path d="M828.6,3661.8L864.3,3637.9L831.9,3647.5L796.3,3671.2Z" fill="url(#c91)"/><path d="M655.8,3757.7L692.5,3733.6L661.8,3753.6L625.2,3777.5Z" fill="url(#c33)"/><path d="M1414.8,3571.6L1447.2,3546.8L1411.4,3511.3L1379.0,3535.7Z" fill="url(#c263)"/><path d="M1139.2,3559.9L1173.2,3535.8L1138.5,3523.4L1104.5,3547.1Z" fill="url(#c187)"/><path d="M1346.1,3560.2L1379.0,3535.7L1343.3,3506.0L1310.5,3530.1Z" fill="url(#c244)"/><path d="M1208.2,3554.4L1241.8,3530.2L1206.8,3512.0L1173.2,3535.8Z" fill="url(#c206)"/><path d="M1277.2,3554.5L1310.5,3530.1L1275.1,3506.2L1241.8,3530.2Z" fill="url(#c225)"/><path d="M1587.3,3664.8L1618.8,3639.0L1582.8,3585.8L1551.2,3611.0Z" fill="url(#c300)"/><path d="M897.2,3634.1L932.6,3610.1L899.6,3614.2L864.3,3637.9Z" fill="url(#c110)"/><path d="M723.9,3719.1L760.3,3695.0L728.8,3709.8L692.5,3733.6Z" fill="url(#c52)"/><path d="M1519.3,3636.5L1551.2,3611.0L1515.2,3563.5L1483.2,3588.5Z" fill="url(#c281)"/><path d="M966.2,3611.8L1001.3,3587.8L967.6,3586.4L932.6,3610.1Z" fill="url(#c129)"/><path d="M1450.8,3613.8L1483.2,3588.5L1447.2,3546.8L1414.8,3571.6Z" fill="url(#c262)"/><path d="M1035.5,3595.2L1070.2,3571.0L1036.0,3564.0L1001.3,3587.8Z" fill="url(#c148)"/><path d="M792.4,3686.0L828.6,3661.8L796.3,3671.2L760.3,3695.0Z" fill="url(#c71)"/><path d="M618.6,3782.0L655.8,3757.7L625.2,3777.5L588.2,3801.6Z" fill="url(#c13)"/><path d="M1382.0,3596.6L1414.8,3571.6L1379.0,3535.7L1346.1,3560.2Z" fill="url(#c243)"/><path d="M1104.8,3584.2L1139.2,3559.9L1104.5,3547.1L1070.2,3571.0Z" fill="url(#c167)"/><path d="M1312.9,3585.0L1346.1,3560.2L1310.5,3530.1L1277.2,3554.5Z" fill="url(#c224)"/><path d="M1174.2,3578.8L1208.2,3554.4L1173.2,3535.8L1139.2,3559.9Z" fill="url(#c186)"/><path d="M1243.6,3579.1L1277.2,3554.5L1241.8,3530.2L1208.2,3554.4Z" fill="url(#c205)"/><path d="M1555.4,3690.8L1587.3,3664.8L1551.2,3611.0L1519.3,3636.5Z" fill="url(#c280)"/><path d="M861.4,3658.3L897.2,3634.1L864.3,3637.9L828.6,3661.8Z" fill="url(#c90)"/><path d="M687.0,3743.5L723.9,3719.1L692.5,3733.6L655.8,3757.7Z" fill="url(#c32)"/><path d="M1487.0,3662.2L1519.3,3636.5L1483.2,3588.5L1450.8,3613.8Z" fill="url(#c261)"/><path d="M930.8,3636.1L966.2,3611.8L932.6,3610.1L897.2,3634.1Z" fill="url(#c109)"/><path d="M1418.1,3639.2L1450.8,3613.8L1414.8,3571.6L1382.0,3596.6Z" fill="url(#c242)"/><path d="M1000.3,3619.6L1035.5,3595.2L1001.3,3587.8L966.2,3611.8Z" fill="url(#c128)"/><path d="M755.9,3710.3L792.4,3686.0L760.3,3695.0L723.9,3719.1Z" fill="url(#c51)"/><path d="M1348.9,3621.8L1382.0,3596.6L1346.1,3560.2L1312.9,3585.0Z" fill="url(#c223)"/><path d="M1070.1,3608.7L1104.8,3584.2L1070.2,3571.0L1035.5,3595.2Z" fill="url(#c147)"/><path d="M1279.4,3610.0L1312.9,3585.0L1277.2,3554.5L1243.6,3579.1Z" fill="url(#c204)"/><path d="M1139.9,3603.5L1174.2,3578.8L1139.2,3559.9L1104.8,3584.2Z" fill="url(#c166)"/><path d="M1209.7,3603.9L1243.6,3579.1L1208.2,3554.4L1174.2,3578.8Z" fill="url(#c185)"/><path d="M1523.2,3717.0L1555.4,3690.8L1519.3,3636.5L1487.0,3662.2Z" fill="url(#c260)"/><path d="M825.2,3682.7L861.4,3658.3L828.6,3661.8L792.4,3686.0Z" fill="url(#c70)"/><path d="M649.8,3768.1L687.0,3743.5L655.8,3757.7L618.6,3782.0Z" fill="url(#c12)"/><path d="M1454.3,3688.2L1487.0,3662.2L1450.8,3613.8L1418.1,3639.2Z" fill="url(#c241)"/><path d="M894.9,3660.7L930.8,3636.1L897.2,3634.1L861.4,3658.3Z" fill="url(#c89)"/><path d="M1385.0,3664.9L1418.1,3639.2L1382.0,3596.6L1348.9,3621.8Z" fill="url(#c222)"/><path d="M964.8,3644.2L1000.3,3619.6L966.2,3611.8L930.8,3636.1Z" fill="url(#c108)"/><path d="M719.0,3735.0L755.9,3710.3L723.9,3719.1L687.0,3743.5Z" fill="url(#c31)"/><path d="M1315.3,3647.3L1348.9,3621.8L1312.9,3585.0L1279.4,3610.0Z" fill="url(#c203)"/><path d="M1034.9,3633.4L1070.1,3608.7L1035.5,3595.2L1000.3,3619.6Z" fill="url(#c127)"/><path d="M1245.4,3635.3L1279.4,3610.0L1243.6,3579.1L1209.7,3603.9Z" fill="url(#c184)"/><path d="M1105.1,3628.4L1139.9,3603.5L1104.8,3584.2L1070.1,3608.7Z" fill="url(#c146)"/><path d="M1175.3,3629.0L1209.7,3603.9L1174.2,3578.8L1139.9,3603.5Z" fill="url(#c165)"/><path d="M1490.6,3743.5L1523.2,3717.0L1487.0,3662.2L1454.3,3688.2Z" fill="url(#c240)"/><path d="M788.6,3707.4L825.2,3682.7L792.4,3686.0L755.9,3710.3Z" fill="url(#c50)"/><path d="M1421.3,3714.4L1454.3,3688.2L1418.1,3639.2L1385.0,3664.9Z" fill="url(#c221)"/><path d="M858.6,3685.4L894.9,3660.7L861.4,3658.3L825.2,3682.7Z" fill="url(#c69)"/><path d="M1351.5,3690.9L1385.0,3664.9L1348.9,3621.8L1315.3,3647.3Z" fill="url(#c202)"/><path d="M928.9,3669.1L964.8,3644.2L930.8,3636.1L894.9,3660.7Z" fill="url(#c88)"/><path d="M681.6,3759.8L719.0,3735.0L687.0,3743.5L649.8,3768.1Z" fill="url(#c11)"/><path d="M1281.4,3673.0L1315.3,3647.3L1279.4,3610.0L1245.4,3635.3Z" fill="url(#c183)"/><path d="M999.4,3658.4L1034.9,3633.4L1000.3,3619.6L964.8,3644.2Z" fill="url(#c107)"/><path d="M1211.1,3660.8L1245.4,3635.3L1209.7,3603.9L1175.3,3629.0Z" fill="url(#c164)"/><path d="M1070.0,3653.5L1105.1,3628.4L1070.1,3608.7L1034.9,3633.4Z" fill="url(#c126)"/><path d="M1457.7,3770.3L1490.6,3743.5L1454.3,3688.2L1421.3,3714.4Z" fill="url(#c220)"/><path d="M1140.6,3654.3L1175.3,3629.0L1139.9,3603.5L1105.1,3628.4Z" fill="url(#c145)"/><path d="M751.6,3732.3L788.6,3707.4L755.9,3710.3L719.0,3735.0Z" fill="url(#c30)"/><path d="M1387.9,3740.9L1421.3,3714.4L1385.0,3664.9L1351.5,3690.9Z" fill="url(#c201)"/><path d="M821.9,3710.4L858.6,3685.4L825.2,3682.7L788.6,3707.4Z" fill="url(#c49)"/><path d="M1317.7,3717.1L1351.5,3690.9L1315.3,3647.3L1281.4,3673.0Z" fill="url(#c182)"/><path d="M892.6,3694.2L928.9,3669.1L894.9,3660.7L858.6,3685.4Z" fill="url(#c68)"/><path d="M1247.1,3699.0L1281.4,3673.0L1245.4,3635.3L1211.1,3660.8Z" fill="url(#c163)"/><path d="M963.4,3683.7L999.4,3658.4L964.8,3644.2L928.9,3669.1Z" fill="url(#c87)"/><path d="M1176.3,3686.6L1211.1,3660.8L1175.3,3629.0L1140.6,3654.3Z" fill="url(#c144)"/><path d="M1034.4,3678.9L1070.0,3653.5L1034.9,3633.4L999.4,3658.4Z" fill="url(#c106)"/><path d="M1424.4,3797.3L1457.7,3770.3L1421.3,3714.4L1387.9,3740.9Z" fill="url(#c200)"/><path d="M1105.4,3679.9L1140.6,3654.3L1105.1,3628.4L1070.0,3653.5Z" fill="url(#c125)"/><path d="M714.1,3757.5L751.6,3732.3L719.0,3735.0L681.6,3759.8Z" fill="url(#c10)"/><path d="M1354.1,3767.6L1387.9,3740.9L1351.5,3690.9L1317.7,3717.1Z" fill="url(#c181)"/><path d="M784.8,3735.7L821.9,3710.4L788.6,3707.4L751.6,3732.3Z" fill="url(#c29)"/><path d="M1283.4,3743.6L1317.7,3717.1L1281.4,3673.0L1247.1,3699.0Z" fill="url(#c162)"/><path d="M855.8,3719.5L892.6,3694.2L858.6,3685.4L821.9,3710.4Z" fill="url(#c48)"/><path d="M1212.4,3725.2L1247.1,3699.0L1211.1,3660.8L1176.3,3686.6Z" fill="url(#c143)"/><path d="M927.1,3709.2L963.4,3683.7L928.9,3669.1L892.6,3694.2Z" fill="url(#c67)"/><path d="M1141.2,3712.6L1176.3,3686.6L1140.6,3654.3L1105.4,3679.9Z" fill="url(#c124)"/><path d="M1390.7,3824.5L1424.4,3797.3L1387.9,3740.9L1354.1,3767.6Z" fill="url(#c180)"/><path d="M998.4,3704.5L1034.4,3678.9L999.4,3658.4L963.4,3683.7Z" fill="url(#c86)"/><path d="M1069.9,3705.7L1105.4,3679.9L1070.0,3653.5L1034.4,3678.9Z" fill="url(#c105)"/><path d="M1319.9,3794.6L1354.1,3767.6L1317.7,3717.1L1283.4,3743.6Z" fill="url(#c161)"/><path d="M747.2,3761.2L784.8,3735.7L751.6,3732.3L714.1,3757.5Z" fill="url(#c9)"/><path d="M1248.8,3770.3L1283.4,3743.6L1247.1,3699.0L1212.4,3725.2Z" fill="url(#c142)"/><path d="M818.6,3745.1L855.8,3719.5L821.9,3710.4L784.8,3735.7Z" fill="url(#c28)"/><path d="M1177.4,3751.7L1212.4,3725.2L1176.3,3686.6L1141.2,3712.6Z" fill="url(#c123)"/><path d="M890.3,3734.9L927.1,3709.2L892.6,3694.2L855.8,3719.5Z" fill="url(#c47)"/><path d="M1105.7,3738.8L1141.2,3712.6L1105.4,3679.9L1069.9,3705.7Z" fill="url(#c104)"/><path d="M1356.6,3852.1L1390.7,3824.5L1354.1,3767.6L1319.9,3794.6Z" fill="url(#c160)"/><path d="M962.1,3730.4L998.4,3704.5L963.4,3683.7L927.1,3709.2Z" fill="url(#c66)"/><path d="M1033.9,3731.7L1069.9,3705.7L1034.4,3678.9L998.4,3704.5Z" fill="url(#c85)"/><path d="M1285.4,3821.9L1319.9,3794.6L1283.4,3743.6L1248.8,3770.3Z" fill="url(#c141)"/><path d="M1213.8,3797.3L1248.8,3770.3L1212.4,3725.2L1177.4,3751.7Z" fill="url(#c122)"/><path d="M781.0,3771.0L818.6,3745.1L784.8,3735.7L747.2,3761.2Z" fill="url(#c8)"/><path d="M1141.9,3778.5L1177.4,3751.7L1141.2,3712.6L1105.7,3738.8Z" fill="url(#c103)"/><path d="M853.1,3760.9L890.3,3734.9L855.8,3719.5L818.6,3745.1Z" fill="url(#c27)"/><path d="M1069.7,3765.4L1105.7,3738.8L1069.9,3705.7L1033.9,3731.7Z" fill="url(#c84)"/><path d="M1322.1,3879.9L1356.6,3852.1L1319.9,3794.6L1285.4,3821.9Z" fill="url(#c140)"/><path d="M925.3,3756.6L962.1,3730.4L927.1,3709.2L890.3,3734.9Z" fill="url(#c46)"/><path d="M997.5,3758.1L1033.9,3731.7L998.4,3704.5L962.1,3730.4Z" fill="url(#c65)"/><path d="M1250.4,3849.4L1285.4,3821.9L1248.8,3770.3L1213.8,3797.3Z" fill="url(#c121)"/><path d="M1178.3,3824.6L1213.8,3797.3L1177.4,3751.7L1141.9,3778.5Z" fill="url(#c102)"/><path d="M1106.0,3805.5L1141.9,3778.5L1105.7,3738.8L1069.7,3765.4Z" fill="url(#c83)"/><path d="M815.4,3787.2L853.1,3760.9L818.6,3745.1L781.0,3771.0Z" fill="url(#c7)"/><path d="M1033.4,3792.2L1069.7,3765.4L1033.9,3731.7L997.5,3758.1Z" fill="url(#c64)"/><path d="M1287.3,3908.0L1322.1,3879.9L1285.4,3821.9L1250.4,3849.4Z" fill="url(#c120)"/><path d="M888.0,3783.0L925.3,3756.6L890.3,3734.9L853.1,3760.9Z" fill="url(#c26)"/><path d="M960.7,3784.7L997.5,3758.1L962.1,3730.4L925.3,3756.6Z" fill="url(#c45)"/><path d="M1215.1,3877.2L1250.4,3849.4L1213.8,3797.3L1178.3,3824.6Z" fill="url(#c101)"/><path d="M1142.5,3852.1L1178.3,3824.6L1141.9,3778.5L1106.0,3805.5Z" fill="url(#c82)"/><path d="M1069.6,3832.8L1106.0,3805.5L1069.7,3765.4L1033.4,3792.2Z" fill="url(#c63)"/><path d="M1252.0,3936.4L1287.3,3908.0L1250.4,3849.4L1215.1,3877.2Z" fill="url(#c100)"/><path d="M996.6,3819.2L1033.4,3792.2L997.5,3758.1L960.7,3784.7Z" fill="url(#c44)"/><path d="M850.3,3809.7L888.0,3783.0L853.1,3760.9L815.4,3787.2Z" fill="url(#c6)"/><path d="M923.5,3811.5L960.7,3784.7L925.3,3756.6L888.0,3783.0Z" fill="url(#c25)"/><path d="M1179.3,3905.3L1215.1,3877.2L1178.3,3824.6L1142.5,3852.1Z" fill="url(#c81)"/><path d="M1106.2,3880.0L1142.5,3852.1L1106.0,3805.5L1069.6,3832.8Z" fill="url(#c62)"/><path d="M1032.9,3860.4L1069.6,3832.8L1033.4,3792.2L996.6,3819.2Z" fill="url(#c43)"/><path d="M1216.3,3965.1L1252.0,3936.4L1215.1,3877.2L1179.3,3905.3Z" fill="url(#c80)"/><path d="M959.4,3846.6L996.6,3819.2L960.7,3784.7L923.5,3811.5Z" fill="url(#c24)"/><path d="M885.8,3838.7L923.5,3811.5L888.0,3783.0L850.3,3809.7Z" fill="url(#c5)"/><path d="M1143.1,3933.7L1179.3,3905.3L1142.5,3852.1L1106.2,3880.0Z" fill="url(#c61)"/><path d="M1069.5,3908.1L1106.2,3880.0L1069.6,3832.8L1032.9,3860.4Z" fill="url(#c42)"/><path d="M995.7,3888.2L1032.9,3860.4L996.6,3819.2L959.4,3846.6Z" fill="url(#c23)"/><path d="M1180.2,3994.0L1216.3,3965.1L1179.3,3905.3L1143.1,3933.7Z" fill="url(#c60)"/><path d="M921.7,3874.2L959.4,3846.6L923.5,3811.5L885.8,3838.7Z" fill="url(#c4)"/><path d="M1106.4,3962.4L1143.1,3933.7L1106.2,3880.0L1069.5,3908.1Z" fill="url(#c41)"/><path d="M1032.4,3936.5L1069.5,3908.1L1032.9,3860.4L995.7,3888.2Z" fill="url(#c22)"/><path d="M958.0,3916.4L995.7,3888.2L959.4,3846.6L921.7,3874.2Z" fill="url(#c3)"/><path d="M1143.6,4023.3L1180.2,3994.0L1143.1,3933.7L1106.4,3962.4Z" fill="url(#c40)"/><path d="M1069.4,3991.4L1106.4,3962.4L1069.5,3908.1L1032.4,3936.5Z" fill="url(#c21)"/><path d="M994.8,3965.2L1032.4,3936.5L995.7,3888.2L958.0,3916.4Z" fill="url(#c2)"/><path d="M1106.7,4052.9L1143.6,4023.3L1106.4,3962.4L1069.4,3991.4Z" fill="url(#c20)"/><path d="M1031.9,4020.6L1069.4,3991.4L1032.4,3936.5L994.8,3965.2Z" fill="url(#c1)"/><path d="M1069.2,4082.8L1106.7,4052.9L1069.4,3991.4L1031.9,4020.6Z" fill="url(#c0)"/></g>
<g fill="#000"><circle cx="425.8" cy="4106.1" r="6.6"/><circle cx="417.3" cy="3929.3" r="6.6"/><circle cx="408.9" cy="3752.5" r="6.6"/><circle cx="400.4" cy="3575.7" r="6.6"/><circle cx="392.0" cy="3398.9" r="6.6"/><circle cx="383.5" cy="3222.1" r="6.6"/><circle cx="533.0" cy="4157.6" r="6.6"/><circle cx="640.2" cy="4209.1" r="6.6"/><circle cx="747.5" cy="4260.6" r="6.6"/><circle cx="854.7" cy="4312.2" r="6.6"/><circle cx="961.9" cy="4363.7" r="6.6"/><circle cx="1069.1" cy="4415.2" r="6.6"/><circle cx="1198.0" cy="4353.4" r="6.6"/><circle cx="1326.9" cy="4291.7" r="6.6"/><circle cx="1455.8" cy="4229.9" r="6.6"/><circle cx="1584.7" cy="4168.2" r="6.6"/><circle cx="1713.6" cy="4106.4" r="6.6"/></g>
<text x="12.5" y="85.0" font-size="98" font-weight="bold">a)</text>
<text x="343.7" y="1019.7" font-size="73.5" text-anchor="end">92.0</text>
<text x="335.5" y="848.3" font-size="73.5" text-anchor="end">93.0</text>
<text x="327.2" y="676.9" font-size="73.5" text-anchor="end">94.0</text>
<text x="319.0" y="505.5" font-size="73.5" text-anchor="end">95.0</text>
<text x="310.7" y="334.1" font-size="73.5" text-anchor="end">96.0</text>
<text x="302.5" y="162.7" font-size="73.5" text-anchor="end">97.0</text>
<text transform="translate(131.5,566.8) rotate(-90)" font-size="72.5" font-weight="bold" text-anchor="middle">RhB adsorption (%)</text>
<text x="344.2" y="1118.2" font-size="73.5" text-anchor="end">10</text>
<text x="469.1" y="1178.2" font-size="73.5" text-anchor="end">9.1</text>
<text x="594.0" y="1238.1" font-size="73.5" text-anchor="end">8.2</text>
<text x="718.8" y="1298.1" font-size="73.5" text-anchor="end">7.3</text>
<text x="843.7" y="1358.0" font-size="73.5" text-anchor="end">6.4</text>
<text x="968.6" y="1418.0" font-size="73.5" text-anchor="end">5.5</text>
<text x="1041.6" y="1418.0" font-size="73.5">70</text>
<text x="1166.5" y="1358.1" font-size="73.5">80</text>
<text x="1291.3" y="1298.1" font-size="73.5">90</text>
<text x="1416.2" y="1238.2" font-size="73.5">100</text>
<text x="1541.0" y="1178.2" font-size="73.5">110</text>
<text x="1665.9" y="1118.3" font-size="73.5">120</text>
<text transform="translate(261.5,1211.8) rotate(25.65)" font-size="71" font-weight="bold">B: RhB conc. (mg/L)</text>
<text transform="translate(1271.0,1423.0) rotate(-25.64)" font-size="73.6" font-weight="bold">A: Time (min)</text>
<text x="14.0" y="1592.0" font-size="98" font-weight="bold">b)</text>
<text x="373.8" y="2543.1" font-size="73.5" text-anchor="end">92.0</text>
<text x="365.3" y="2368.7" font-size="73.5" text-anchor="end">93.0</text>
<text x="356.9" y="2194.3" font-size="73.5" text-anchor="end">94.0</text>
<text x="348.4" y="2019.9" font-size="73.5" text-anchor="end">95.0</text>
<text x="340.0" y="1845.5" font-size="73.5" text-anchor="end">96.0</text>
<text x="331.5" y="1671.1" font-size="73.5" text-anchor="end">97.0</text>
<text transform="translate(131.0,2095.5) rotate(-90)" font-size="72.5" font-weight="bold" text-anchor="middle">RhB adsorption (%)</text>
<text x="374.3" y="2641.6" font-size="73.5" text-anchor="end">10.0</text>
<text x="480.0" y="2692.2" font-size="73.5" text-anchor="end">9.5</text>
<text x="585.7" y="2742.9" font-size="73.5" text-anchor="end">9.0</text>
<text x="691.5" y="2793.6" font-size="73.5" text-anchor="end">8.5</text>
<text x="797.2" y="2844.2" font-size="73.5" text-anchor="end">8.0</text>
<text x="902.9" y="2894.8" font-size="73.5" text-anchor="end">7.5</text>
<text x="1008.6" y="2945.5" font-size="73.5" text-anchor="end">7.0</text>
<text x="1081.6" y="2945.5" font-size="73.5">70</text>
<text x="1208.4" y="2884.6" font-size="73.5">80</text>
<text x="1335.2" y="2823.7" font-size="73.5">90</text>
<text x="1461.9" y="2762.9" font-size="73.5">100</text>
<text x="1588.7" y="2702.0" font-size="73.5">110</text>
<text x="1715.5" y="2641.1" font-size="73.5">120</text>
<text transform="translate(461.0,2817.0) rotate(25.60)" font-size="68" font-weight="bold">C: pH</text>
<text transform="translate(1300.0,2962.0) rotate(-25.65)" font-size="73.6" font-weight="bold">A: Time (min)</text>
<text x="18.0" y="3103.0" font-size="98" font-weight="bold">c)</text>
<text x="389.3" y="4085.6" font-size="73.5" text-anchor="end">92.0</text>
<text x="380.8" y="3908.8" font-size="73.5" text-anchor="end">93.0</text>
<text x="372.4" y="3732.0" font-size="73.5" text-anchor="end">94.0</text>
<text x="363.9" y="3555.2" font-size="73.5" text-anchor="end">95.0</text>
<text x="355.5" y="3378.4" font-size="73.5" text-anchor="end">96.0</text>
<text x="347.0" y="3201.6" font-size="73.5" text-anchor="end">97.0</text>
<text transform="translate(129.5,3652.0) rotate(-90)" font-size="72.5" font-weight="bold" text-anchor="middle">RhB adsorption (%)</text>
<text x="389.8" y="4184.1" font-size="73.5" text-anchor="end">10.0</text>
<text x="497.0" y="4235.6" font-size="73.5" text-anchor="end">9.5</text>
<text x="604.2" y="4287.1" font-size="73.5" text-anchor="end">9.0</text>
<text x="711.5" y="4338.6" font-size="73.5" text-anchor="end">8.5</text>
<text x="818.7" y="4390.2" font-size="73.5" text-anchor="end">8.0</text>
<text x="925.9" y="4441.7" font-size="73.5" text-anchor="end">7.5</text>
<text x="1033.1" y="4493.2" font-size="73.5" text-anchor="end">7.0</text>
<text x="1106.1" y="4493.2" font-size="73.5">5.5</text>
<text x="1235.0" y="4431.4" font-size="73.5">6.4</text>
<text x="1363.9" y="4369.7" font-size="73.5">7.3</text>
<text x="1492.8" y="4307.9" font-size="73.5">8.2</text>
<text x="1621.7" y="4246.2" font-size="73.5">9.1</text>
<text x="1750.6" y="4184.4" font-size="73.5">10</text>
<text transform="translate(462.0,4367.0) rotate(25.66)" font-size="68" font-weight="bold">C: pH</text>
<text transform="translate(1277.0,4549.0) rotate(-25.60)" font-size="71" font-weight="bold">B: RhB conc. (mg/L)</text>
</svg>
</body></html>
